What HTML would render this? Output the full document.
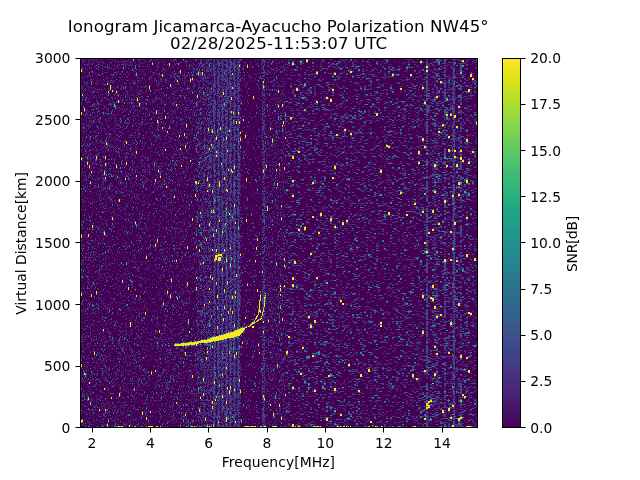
<!DOCTYPE html><html><head><meta charset="utf-8"><title>Ionogram</title><style>html,body{margin:0;padding:0;background:#fff}svg{display:block}text{font-family:"DejaVu Sans","Liberation Sans",sans-serif;fill:#000}</style></head><body>
<svg width="640" height="480" viewBox="0 0 640 480">
<defs><linearGradient id="vg" x1="0" y1="0" x2="0" y2="1"><stop offset="0.0000" stop-color="#fde725"/><stop offset="0.0312" stop-color="#ece51b"/><stop offset="0.0625" stop-color="#d8e219"/><stop offset="0.0938" stop-color="#c2df23"/><stop offset="0.1250" stop-color="#addc30"/><stop offset="0.1562" stop-color="#98d83e"/><stop offset="0.1875" stop-color="#84d44b"/><stop offset="0.2188" stop-color="#70cf57"/><stop offset="0.2500" stop-color="#5ec962"/><stop offset="0.2812" stop-color="#4ec36b"/><stop offset="0.3125" stop-color="#3fbc73"/><stop offset="0.3438" stop-color="#32b67a"/><stop offset="0.3750" stop-color="#28ae80"/><stop offset="0.4062" stop-color="#22a785"/><stop offset="0.4375" stop-color="#1fa088"/><stop offset="0.4688" stop-color="#1f988b"/><stop offset="0.5000" stop-color="#21918c"/><stop offset="0.5312" stop-color="#23898e"/><stop offset="0.5625" stop-color="#26828e"/><stop offset="0.5938" stop-color="#297a8e"/><stop offset="0.6250" stop-color="#2c728e"/><stop offset="0.6562" stop-color="#2f6b8e"/><stop offset="0.6875" stop-color="#33638d"/><stop offset="0.7188" stop-color="#375b8d"/><stop offset="0.7500" stop-color="#3b528b"/><stop offset="0.7812" stop-color="#3e4989"/><stop offset="0.8125" stop-color="#424086"/><stop offset="0.8438" stop-color="#453781"/><stop offset="0.8750" stop-color="#472d7b"/><stop offset="0.9062" stop-color="#482374"/><stop offset="0.9375" stop-color="#48186a"/><stop offset="0.9688" stop-color="#470d60"/><stop offset="1.0000" stop-color="#440154"/></linearGradient></defs>
<rect width="640" height="480" fill="#fff"/>
<rect x="80" y="58" width="397" height="370" fill="#440154" shape-rendering="crispEdges"/>
<g transform="translate(80,58.5)" fill="none" stroke-width="1" shape-rendering="crispEdges"><path stroke="#482475" d="M14 0h1m4 0h1m1 0h1m6 0h3m6 0h1m12 0h1m15 0h1m23 0h1m27 0h1m82 0h1m24 0h4m24 0h2m12 0h2m10 0h2m56 0h1m1 0h2m6 0h2m2 0h2m6 0h2M10 1h1m3 0h1m2 0h1m12 0h1m9 0h1m8 0h1m8 0h1m21 0h1m13 0h1m1 0h1m19 0h1m60 0h1m36 0h2m26 0h2m6 0h2m52 0h4m20 0h2m22 0h2m12 0h2m7 0h1m2 0h2m8 0h2M2 2h1m3 0h1m1 0h1m3 0h1m34 0h1m28 0h1m27 0h1m15 0h1m54 0h1m4 0h1m8 0h1m4 0h1m41 0h2m70 0h2m18 0h2m48 0h2M8 3h1m4 0h1m2 0h1m1 0h1m2 0h1m1 0h1m23 0h1m1 0h2m22 0h1m5 0h1m11 0h1m4 0h1m23 0h1m73 0h1m23 0h2m2 0h2m52 0h2m24 0h4m8 0h2m22 0h1M41 4h1m16 0h1m3 0h1m1 0h1m23 0h1m11 0h1m70 0h1m33 0h1m34 0h2m16 0h4m24 0h2m30 0h2m16 0h2m16 0h4m38 0h1M9 5h1m4 0h1m9 0h1m18 0h2m1 0h1m2 0h1m5 0h1m41 0h1m21 0h1m70 0h1m8 0h1m48 0h2m22 0h2m26 0h2m20 0h2m68 0h2M29 6h1m7 0h1m3 0h1m5 0h1m4 0h1m3 0h2m34 0h1m20 0h1m7 0h1m88 0h2m28 0h2m8 0h2m13 0h1m6 0h2m36 0h2m56 0h2m20 0h2m4 0h1M2 7h1m17 0h1m11 0h1m4 0h1m14 0h1m9 0h1m15 0h1m3 0h1m11 0h1m23 0h2m1 0h1m41 0h1m23 0h1m5 0h1m9 0h1m32 0h2m12 0h2m8 0h2m46 0h2m26 0h3m31 0h2M9 8h1m1 0h1m41 0h1m8 0h1m2 0h1m12 0h1m4 0h1m34 0h1m67 0h1m14 0h1m68 0h2m38 0h2m24 0h2m16 0h2M22 9h1m7 0h1m57 0h1m9 0h1m19 0h1m50 0h1m27 0h1m2 0h1m1 0h1m83 0h2m14 0h2M2 10h1m6 0h1m4 0h1m3 0h1m2 0h2m15 0h1m30 0h1m8 0h1m19 0h1m17 0h1m87 0h1m39 0h4m8 0h2m18 0h2m40 0h4m62 0h2m10 0h1M4 11h1m2 0h1m9 0h1m4 0h1m3 0h1m37 0h1m6 0h1m33 0h1m15 0h1m72 0h1m15 0h2m4 0h2m22 0h2m62 0h1m7 0h4m22 0h1m9 0h2m10 0h2m4 0h2m4 0h1m13 0h2M6 12h1m49 0h1m4 0h1m55 0h1m68 0h1m10 0h1m8 0h2m4 0h2m6 0h2m62 0h2m53 0h3m30 0h1m5 0h2M22 13h1m36 0h1m1 0h1m31 0h1m4 0h1m97 0h1m4 0h3m60 0h1m79 0h2m6 0h2m22 0h2m4 0h2M13 14h1m2 0h1m57 0h1m44 0h1m75 0h1m9 0h1m4 0h2m52 0h1m87 0h4m6 0h2M37 15h1m45 0h1m11 0h1m6 0h1m18 0h1m130 0h2m36 0h2m12 0h2m86 0h2M0 16h2m4 0h1m1 0h1m3 0h1m4 0h1m21 0h1m37 0h1m3 0h1m27 0h1m1 0h1m3 0h1m1 0h1m50 0h1m22 0h1m6 0h1m5 0h1m15 0h2m36 0h2m34 0h2m18 0h2m6 0h2m24 0h2m12 0h2m14 0h2m4 0h2m6 0h2M12 17h1m23 0h1m28 0h1m7 0h1m25 0h1m2 0h1m7 0h1m101 0h4m12 0h2m42 0h2m16 0h4m60 0h2m12 0h2M3 18h1m23 0h1m29 0h1m6 0h1m14 0h1m25 0h1m8 0h1m125 0h2m18 0h2m46 0h2m14 0h2m24 0h2m6 0h2m8 0h2m22 0h2M7 19h1m1 0h1m37 0h1m9 0h1m16 0h1m12 0h1m6 0h1m10 0h1m114 0h2m30 0h2m12 0h2m8 0h2m30 0h2m26 0h3M26 20h1m4 0h1m19 0h1m29 0h3m14 0h1m1 0h1m19 0h1m59 0h1m6 0h1m102 0h2m12 0h2m8 0h2m46 0h2M0 21h1m17 0h1m26 0h1m43 0h1m15 0h1m104 0h2m6 0h2m36 0h4m8 0h2m50 0h2m26 0h2m18 0h5M8 22h1m9 0h1m3 0h1m18 0h1m32 0h1m19 0h1m9 0h1m2 0h1m62 0h1m2 0h1m26 0h1m25 0h2m34 0h3m23 0h4m6 0h2M7 23h1m12 0h1m5 0h1m5 0h1m10 0h1m21 0h1m12 0h1m1 0h1m1 0h2m21 0h1m8 0h1m75 0h1m12 0h1m78 0h2m54 0h1m15 0h2M10 24h1m16 0h1m10 0h1m18 0h1m5 0h1m6 0h1m8 0h1m6 0h1m11 0h1m4 0h2m13 0h1m73 0h1m27 0h2m4 0h4m60 0h1m25 0h4m24 0h2m6 0h2m21 0h1m12 0h2M6 25h1m26 0h1m46 0h1m22 0h1m8 0h2m66 0h1m71 0h2m2 0h2m48 0h2m31 0h1m42 0h2M7 26h1m15 0h1m47 0h1m15 0h2m7 0h1m89 0h1m16 0h1m24 0h2m46 0h2m44 0h2m24 0h4m32 0h2M0 27h1m56 0h1m20 0h1m5 0h1m8 0h1m15 0h1m9 0h1m43 0h1m21 0h1m8 0h1m43 0h4m14 0h2m4 0h2m20 0h2M8 28h1m37 0h1m11 0h1m3 0h1m19 0h1m10 0h1m6 0h1m18 0h1m76 0h1m7 0h1m75 0h2m20 0h2m50 0h4m26 0h2M8 29h2m3 0h1m15 0h1m1 0h1m9 0h1m16 0h1m4 0h1m34 0h1m14 0h1m51 0h1m92 0h2m4 0h1m74 0h1M6 30h1m27 0h1m50 0h1m2 0h1m11 0h1m9 0h1m93 0h1m23 0h4m100 0h2m10 0h2m2 0h2m2 0h2m2 0h2m12 0h2M9 31h1m24 0h1m5 0h1m38 0h1m10 0h1m13 0h1m12 0h1m2 0h1m52 0h1m38 0h4m14 0h2m42 0h2m28 0h2m50 0h2m8 0h2M12 32h1m3 0h1m4 0h1m32 0h1m13 0h1m10 0h1m13 0h1m1 0h1m4 0h1m19 0h1m41 0h1m3 0h1m22 0h1m22 0h2m20 0h2m38 0h2m30 0h2m16 0h2m2 0h2m26 0h2m4 0h2m26 0h2M1 33h1m7 0h2m6 0h1m31 0h1m8 0h1m36 0h1m6 0h1m93 0h1m15 0h2m8 0h2m20 0h2m2 0h2M26 34h1m10 0h1m9 0h1m6 0h1m4 0h1m13 0h1m20 0h1m9 0h1m11 0h1m1 0h1m89 0h2m14 0h2m36 0h2m80 0h2m8 0h2m12 0h5m16 0h1M7 35h1m4 0h1m13 0h1m9 0h1m6 0h2m8 0h1m2 0h1m3 0h1m20 0h2m12 0h1m12 0h1m1 0h1m2 0h1m90 0h2m6 0h2m6 0h2m12 0h2m24 0h2m4 0h2m34 0h2m68 0h1M5 36h1m1 0h1m4 0h1m9 0h1m6 0h1m4 0h1m8 0h1m1 0h1m1 0h1m51 0h1m5 0h1m11 0h1m43 0h1m28 0h1m11 0h1m73 0h4m72 0h2m18 0h1m2 0h1M8 37h1m4 0h1m1 0h1m2 0h1m1 0h1m68 0h1m25 0h1m5 0h1m47 0h1m8 0h1m14 0h1m40 0h2m14 0h2m22 0h2m16 0h4m60 0h4m2 0h2m8 0h1m15 0h2M2 38h1m29 0h1m14 0h1m7 0h1m27 0h1m1 0h1m4 0h1m2 0h1m10 0h1m11 0h1m45 0h1m39 0h1m21 0h2m6 0h2m38 0h2m4 0h2m4 0h2m48 0h2m14 0h2m2 0h2m12 0h1m21 0h2M7 39h1m3 0h1m2 0h1m10 0h1m7 0h1m1 0h1m1 0h1m16 0h1m5 0h1m20 0h1m115 0h1m67 0h1m38 0h2m76 0h2M10 40h1m15 0h1m48 0h1m1 0h1m2 0h1m7 0h2m16 0h1m67 0h1m26 0h1m8 0h2m4 0h2m8 0h2m36 0h1m27 0h4m32 0h2m45 0h1m12 0h2M6 41h1m10 0h1m10 0h1m1 0h1m12 0h1m8 0h1m13 0h1m7 0h1m14 0h1m14 0h1m83 0h1m2 0h2m1 0h1m7 0h1m43 0h2m50 0h2m12 0h2m2 0h2m8 0h2m40 0h2m5 0h1m8 0h2M40 42h1m53 0h1m7 0h1m15 0h1m61 0h1m16 0h1m2 0h1m33 0h2m46 0h2m4 0h4m44 0h2m34 0h1m5 0h2M1 43h1m8 0h1m19 0h1m6 0h1m4 0h1m29 0h1m139 0h4m56 0h2m30 0h2m2 0h2m8 0h2m40 0h2m16 0h2M9 44h1m2 0h1m22 0h1m9 0h1m19 0h1m23 0h1m3 0h1m96 0h1m27 0h2m118 0h1m11 0h2m20 0h1M17 45h1m14 0h1m14 0h1m6 0h1m30 0h1m31 0h1m60 0h1m15 0h1m1 0h1m11 0h2m6 0h2m52 0h2m6 0h2m42 0h2m10 0h2m14 0h2M1 46h1m59 0h1m1 0h1m6 0h1m51 0h1m93 0h2m14 0h2m10 0h2m2 0h2m14 0h1m13 0h2m14 0h2m43 0h1m16 0h2m4 0h2m12 0h2m16 0h2M11 47h1m5 0h1m5 0h1m6 0h1m6 0h1m4 0h1m9 0h1m7 0h1m48 0h1m57 0h1m11 0h1m12 0h1m138 0h1m54 0h2m2 0h2M10 48h1m14 0h1m21 0h1m2 0h1m42 0h1m19 0h1m82 0h1m9 0h4m72 0h2m40 0h2m2 0h2m42 0h1M5 49h1m20 0h1m34 0h1m28 0h1m12 0h1m83 0h2m16 0h1m16 0h2m46 0h2m26 0h2m39 0h1m46 0h2M15 50h1m26 0h1m1 0h1m22 0h1m14 0h2m13 0h1m8 0h2m78 0h1m31 0h2m54 0h2m60 0h2M7 51h1m20 0h1m15 0h1m29 0h1m14 0h1m5 0h1m1 0h1m19 0h1m46 0h1m28 0h1m54 0h2m18 0h2m46 0h2m54 0h1m5 0h2m8 0h2M5 52h1m1 0h1m39 0h1m25 0h1m32 0h1m6 0h1m6 0h1m83 0h1m39 0h4m22 0h2m16 0h2m22 0h2m16 0h2m8 0h2m8 0h2m34 0h2M6 53h1m12 0h1m7 0h1m4 0h1m24 0h1m2 0h1m16 0h1m39 0h1m71 0h1m34 0h4m42 0h2m16 0h2m44 0h2m2 0h2m2 0h2m18 0h2m8 0h1M68 54h1m1 0h1m3 0h1m7 0h1m5 0h1m12 0h1m11 0h1m73 0h1m12 0h1m17 0h2m62 0h2m4 0h2m28 0h2m4 0h2m22 0h2m4 0h2M0 55h1m3 0h1m7 0h1m17 0h1m17 0h1m37 0h1m1 0h1m1 0h1m4 0h1m9 0h1m6 0h1m4 0h2m2 0h1m56 0h1m25 0h1m15 0h2m6 0h2m4 0h4m6 0h2m52 0h4M22 56h1m11 0h1m20 0h1m35 0h1m126 0h2m30 0h2m2 0h2m32 0h2m48 0h1m33 0h1M9 57h1m14 0h1m12 0h1m6 0h1m18 0h2m48 0h1m3 0h1m3 0h1m98 0h2m44 0h4m30 0h2m8 0h2m10 0h2m10 0h2m50 0h2m6 0h1M1 58h1m31 0h1m1 0h1m7 0h1m9 0h1m4 0h1m8 0h1m4 0h1m121 0h1m4 0h2m21 0h2m48 0h2m18 0h2m20 0h2m3 0h1m8 0h2m36 0h2m24 0h2M12 59h1m1 0h1m4 0h1m9 0h2m17 0h1m17 0h1m6 0h1m2 0h1m14 0h1m6 0h1m14 0h1m2 0h1m1 0h1m109 0h2m4 0h2m18 0h2m28 0h2m12 0h2m4 0h2m8 0h2m72 0h2m2 0h2M9 60h1m5 0h1m7 0h1m15 0h1m37 0h1m9 0h1m24 0h1m93 0h2m57 0h1m26 0h2m45 0h1m16 0h2M3 61h1m47 0h1m1 0h1m27 0h1m126 0h2m16 0h2m34 0h2m12 0h6m26 0h2m4 0h2m2 0h2m16 0h2m16 0h2m22 0h2m2 0h2m2 0h2M6 62h1m3 0h1m7 0h1m6 0h2m10 0h1m1 0h1m24 0h1m3 0h1m9 0h1m15 0h1m157 0h2m4 0h2m2 0h2m24 0h2m8 0h2m22 0h2m32 0h2m30 0h2M5 63h1m3 0h1m4 0h1m66 0h1m22 0h1m10 0h1m1 0h1m45 0h1m4 0h1m24 0h1m50 0h2m8 0h2m4 0h2m20 0h2m68 0h2m8 0h2m11 0h1m2 0h2m8 0h4M6 64h1m1 0h1m37 0h1m9 0h1m9 0h1m22 0h1m20 0h1m11 0h1m77 0h1m37 0h2m104 0h2m14 0h2m8 0h2M11 65h2m7 0h1m20 0h1m2 0h1m10 0h1m10 0h1m4 0h1m1 0h1m30 0h1m100 0h1m46 0h2m10 0h1m13 0h2m4 0h2m2 0h2m60 0h2m20 0h1M4 66h1m43 0h1m16 0h1m12 0h1m1 0h1m14 0h1m22 0h1m2 0h1m54 0h1m22 0h1m22 0h2m2 0h2m16 0h2m16 0h2m68 0h2m21 0h1M6 67h1m23 0h1m6 0h1m16 0h1m137 0h1m31 0h2m28 0h2m26 0h2m28 0h2m42 0h2m34 0h2M4 68h1m1 0h1m9 0h1m1 0h1m2 0h1m7 0h1m28 0h1m104 0h1m70 0h2m44 0h4m48 0h2m10 0h2m2 0h2m44 0h2M2 69h1m7 0h1m48 0h1m12 0h1m6 0h2m3 0h1m5 0h1m98 0h1m9 0h1m5 0h1m6 0h2m12 0h2m16 0h2m12 0h2m52 0h2m25 0h1m48 0h2m2 0h2M4 70h1m29 0h1m23 0h1m26 0h1m18 0h1m7 0h1m3 0h1m4 0h1m46 0h1m67 0h2m50 0h4m40 0h2m34 0h2M3 71h1m25 0h1m22 0h1m27 0h1m2 0h1m31 0h1m3 0h2m105 0h2m28 0h2m8 0h2m74 0h2m10 0h2m36 0h2M38 72h1m17 0h1m6 0h1m47 0h1m50 0h1m29 0h1m12 0h1m20 0h2m2 0h2m38 0h2m56 0h2m18 0h2m8 0h2m12 0h1m11 0h2M35 73h1m4 0h1m25 0h1m18 0h1m30 0h1m4 0h1m77 0h1m40 0h2m72 0h2m4 0h2m14 0h2m28 0h2m8 0h2M20 74h1m19 0h1m11 0h1m14 0h1m26 0h1m14 0h1m2 0h1m8 0h1m44 0h1m24 0h1m2 0h2m7 0h1m6 0h2m22 0h2m66 0h2m14 0h2m32 0h2M3 75h1m24 0h1m13 0h1m29 0h1m1 0h1m13 0h1m6 0h1m5 0h1m18 0h1m45 0h1m43 0h2m40 0h2m6 0h2m18 0h2m4 0h2m6 0h2m56 0h4m20 0h2m16 0h2M0 76h1m3 0h1m20 0h2m2 0h1m35 0h1m15 0h1m13 0h1m11 0h1m5 0h1m59 0h2m22 0h1m5 0h1m4 0h2m32 0h2m4 0h2m56 0h6m18 0h2m30 0h2m26 0h2M12 77h1m1 0h1m6 0h1m19 0h1m13 0h1m1 0h2m16 0h2m104 0h1m13 0h1m24 0h2m16 0h2m24 0h1m39 0h2m46 0h2m13 0h1m28 0h1M27 78h1m10 0h1m33 0h1m7 0h1m7 0h1m30 0h1m53 0h1m11 0h1m1 0h1m40 0h2m20 0h1m1 0h2m26 0h2m8 0h2m12 0h2m66 0h1M2 79h1m1 0h1m6 0h1m5 0h1m2 0h1m17 0h1m35 0h1m4 0h1m18 0h1m6 0h1m81 0h1m5 0h1m6 0h1m19 0h4m20 0h2m8 0h2m4 0h2m12 0h2m6 0h2m8 0h2m4 0h2m18 0h2m4 0h2m32 0h2m6 0h2m8 0h2M6 80h1m14 0h1m40 0h2m1 0h1m14 0h1m32 0h1m6 0h1m41 0h1m1 0h2m34 0h1m13 0h2m10 0h2m8 0h2m8 0h4m20 0h2m16 0h2m14 0h2m18 0h4M26 81h1m35 0h1m139 0h1m3 0h2m14 0h2m12 0h2m6 0h2m6 0h2M2 82h1m13 0h1m13 0h2m5 0h1m14 0h1m38 0h1m75 0h1m8 0h1m29 0h2m4 0h2m4 0h2m94 0h2m22 0h1m5 0h2m30 0h2m18 0h1M8 83h1m34 0h2m4 0h1m3 0h1m9 0h1m26 0h1m20 0h1m7 0h1m59 0h1m5 0h1m34 0h2m44 0h2m38 0h2m31 0h3m6 0h2m22 0h1M1 84h1m5 0h1m14 0h1m16 0h1m24 0h2m15 0h1m3 0h1m28 0h1m3 0h1m2 0h2m64 0h1m22 0h2m52 0h1m29 0h2m2 0h2m42 0h2m14 0h2m6 0h2M7 85h1m1 0h1m3 0h1m16 0h1m12 0h1m3 0h1m4 0h1m6 0h1m1 0h1m25 0h1m16 0h1m9 0h1m3 0h1m3 0h1m137 0h2m10 0h2m48 0h2m26 0h2m20 0h1m23 0h1M4 86h1m8 0h2m15 0h1m11 0h1m68 0h1m92 0h1m17 0h2m12 0h4m138 0h2M7 87h2m15 0h2m14 0h1m9 0h1m3 0h1m15 0h1m13 0h1m2 0h1m33 0h1m49 0h1m36 0h2m66 0h2m16 0h2m14 0h2m14 0h2m10 0h1m17 0h4m15 0h3m8 0h2M6 88h1m12 0h1m4 0h1m19 0h1m1 0h1m10 0h1m4 0h1m46 0h1m8 0h1m1 0h1m81 0h1m39 0h2m6 0h2m14 0h2m46 0h2m14 0h2m7 0h1m12 0h2m2 0h2m30 0h2M6 89h1m19 0h1m4 0h1m10 0h2m7 0h1m39 0h1m1 0h1m16 0h1m4 0h1m3 0h1m43 0h1m9 0h1m18 0h1m25 0h2m54 0h2m24 0h2m8 0h2m20 0h2m5 0h1m18 0h2m10 0h2m4 0h2m14 0h2M49 90h1m17 0h1m44 0h1m52 0h1m29 0h1m52 0h2m10 0h2m32 0h2m2 0h2m42 0h2m50 0h2M0 91h1m15 0h1m4 0h1m5 0h1m52 0h1m23 0h1m10 0h1m4 0h1m73 0h1m15 0h2m2 0h2m2 0h2m16 0h1m17 0h2m8 0h1m9 0h2m80 0h4M15 92h1m49 0h1m31 0h1m9 0h1m53 0h1m30 0h1m21 0h2m6 0h2m18 0h2m24 0h2m20 0h2m14 0h2m32 0h2M1 93h1m14 0h1m8 0h1m3 0h1m19 0h1m44 0h2m21 0h1m1 0h1m100 0h2m40 0h2m14 0h2m16 0h2m58 0h2m30 0h2M4 94h1m13 0h2m4 0h1m12 0h1m9 0h1m5 0h1m1 0h1m48 0h1m58 0h1m23 0h1m13 0h1m54 0h2m12 0h2m4 0h2m6 0h2m64 0h2m2 0h2m38 0h2M5 95h1m10 0h1m19 0h1m15 0h1m12 0h1m3 0h1m16 0h1m3 0h1m2 0h1m16 0h1m59 0h1m3 0h1m19 0h1m1 0h1m6 0h1m8 0h2m52 0h2m2 0h2m10 0h2m8 0h2m60 0h4M2 96h1m3 0h1m11 0h1m13 0h1m14 0h1m1 0h1m13 0h1m39 0h1m14 0h1m2 0h1m40 0h1m17 0h1m5 0h1m4 0h1m5 0h1m10 0h2m96 0h2m20 0h2m10 0h2m6 0h2m20 0h3m5 0h2M4 97h1m9 0h1m1 0h1m30 0h1m6 0h2m9 0h1m9 0h1m44 0h1m68 0h1m1 0h1m58 0h2m48 0h2m20 0h2m14 0h1M6 98h2m5 0h1m49 0h1m21 0h1m5 0h1m13 0h1m9 0h1m5 0h1m58 0h1m6 0h1m68 0h2m12 0h2m2 0h2m72 0h2M12 99h1m28 0h1m3 0h1m11 0h1m25 0h1m9 0h1m100 0h1m2 0h1m20 0h2m40 0h2m50 0h1m3 0h2m10 0h4m4 0h2m6 0h2M32 100h1m2 0h1m4 0h1m24 0h1m39 0h1m5 0h1m81 0h1m7 0h1m3 0h1m20 0h2m48 0h2m16 0h2m6 0h2m18 0h2m30 0h4m4 0h2m11 0h1M10 101h1m1 0h1m20 0h1m12 0h1m33 0h1m2 0h1m164 0h2m12 0h2m10 0h2m94 0h3m2 0h1m16 0h2M10 102h1m9 0h1m20 0h1m16 0h1m3 0h2m4 0h1m117 0h2m13 0h2m87 0h2m48 0h2m8 0h2m6 0h2m16 0h2M1 103h1m9 0h1m11 0h1m28 0h1m20 0h1m2 0h1m20 0h1m2 0h1m60 0h1m78 0h2m16 0h2m36 0h2m38 0h2m28 0h2m28 0h1M0 104h1m5 0h1m2 0h1m2 0h1m11 0h1m13 0h1m33 0h1m4 0h1m20 0h1m3 0h1m18 0h1m73 0h1m12 0h2m26 0h2m2 0h2m10 0h2m54 0h4m10 0h2m10 0h2m16 0h2M11 105h1m17 0h1m22 0h1m9 0h1m22 0h1m6 0h1m28 0h1m51 0h1m11 0h1m12 0h1m5 0h1m9 0h2m2 0h2m40 0h2m42 0h2m6 0h2m48 0h2m4 0h2M4 106h1m18 0h1m4 0h1m23 0h1m14 0h1m17 0h1m7 0h1m12 0h1m61 0h1m51 0h2m2 0h2m32 0h2m8 0h2m18 0h4m26 0h2m10 0h2m24 0h2m8 0h2M16 107h1m3 0h1m9 0h1m17 0h1m3 0h2m3 0h1m20 0h1m6 0h1m7 0h2m1 0h1m14 0h2m7 0h1m1 0h1m68 0h2m93 0h2m40 0h2m14 0h2m4 0h2m26 0h2m6 0h2m8 0h1M20 108h1m1 0h1m1 0h1m44 0h1m41 0h1m82 0h1m31 0h2m36 0h1m87 0h2m2 0h2m10 0h2m5 0h1M14 109h1m90 0h1m5 0h1m90 0h1m11 0h2m8 0h2m22 0h2m26 0h2m26 0h2m36 0h2M2 110h1m14 0h1m1 0h1m5 0h1m7 0h1m15 0h1m9 0h1m9 0h1m45 0h2m1 0h1m77 0h2m4 0h1m33 0h2m8 0h2m64 0h1m19 0h2m18 0h2M2 111h1m19 0h1m3 0h1m24 0h1m4 0h1m50 0h1m72 0h1m11 0h1m5 0h1m1 0h1m4 0h1m56 0h2m8 0h2m108 0h2m2 0h1M14 112h1m4 0h1m20 0h1m16 0h1m5 0h1m11 0h1m19 0h1m79 0h1m10 0h1m3 0h1m8 0h1m78 0h2m14 0h2m26 0h2m28 0h2m42 0h1M2 113h1m27 0h1m14 0h1m5 0h1m12 0h1m30 0h1m81 0h1m23 0h1m2 0h1m61 0h2m4 0h2m24 0h2m88 0h2M21 114h1m32 0h1m9 0h1m19 0h1m26 0h1m6 0h1m119 0h2m20 0h2m36 0h2m18 0h4m2 0h2m56 0h4M38 115h1m12 0h1m8 0h1m18 0h1m5 0h1m24 0h1m85 0h1m31 0h2m16 0h2m2 0h2m38 0h2m4 0h2m14 0h2m18 0h2m2 0h2m18 0h2m10 0h2m6 0h2M1 116h1m21 0h1m20 0h1m13 0h1m6 0h1m12 0h1m6 0h1m3 0h1m6 0h1m19 0h1m57 0h1m1 0h1m8 0h1m64 0h2m10 0h2m26 0h2m48 0h2M0 117h1m4 0h1m15 0h1m1 0h1m23 0h1m12 0h1m22 0h1m25 0h1m3 0h1m73 0h1m9 0h1m124 0h2m10 0h2m54 0h2M1 118h1m4 0h1m9 0h1m16 0h1m1 0h1m8 0h1m3 0h1m43 0h1m12 0h1m7 0h1m75 0h1m14 0h1m39 0h2m12 0h2m5 0h1m12 0h2m8 0h2m52 0h2m4 0h2m10 0h2m8 0h2m3 0h1m10 0h2m4 0h2M19 119h1m9 0h1m4 0h1m42 0h1m31 0h1m87 0h1m18 0h2m6 0h2m14 0h2m16 0h2m10 0h2m70 0h2m4 0h2m18 0h2M6 120h1m10 0h1m58 0h1m7 0h1m2 0h1m16 0h1m17 0h1m68 0h1m11 0h1m16 0h2m12 0h2m28 0h1m7 0h2m10 0h2m14 0h2m16 0h2m8 0h2m26 0h2m18 0h2M2 121h1m11 0h1m24 0h1m1 0h1m19 0h1m3 0h1m17 0h1m38 0h1m48 0h1m58 0h4m84 0h2m2 0h2m16 0h2m33 0h1M3 122h2m3 0h1m5 0h1m9 0h2m34 0h1m4 0h1m33 0h1m2 0h1m8 0h1m6 0h1m2 0h1m57 0h1m12 0h1m113 0h4m28 0h1m13 0h2m4 0h2M98 123h1m6 0h1m242 0h2m6 0h6m22 0h2m4 0h2M17 124h1m4 0h1m15 0h1m14 0h1m1 0h1m22 0h1m15 0h1m3 0h2m2 0h1m5 0h1m90 0h1m1 0h1m3 0h1m10 0h2m10 0h2m24 0h2m18 0h2m22 0h2m6 0h2m2 0h2m12 0h2m32 0h4m6 0h2m5 0h1m6 0h2m9 0h1M31 125h1m12 0h1m18 0h1m11 0h1m5 0h1m39 0h1m54 0h1m28 0h1m14 0h2m78 0h2m30 0h2m2 0h2M11 126h1m9 0h1m9 0h1m7 0h1m7 0h1m10 0h1m1 0h4m2 0h1m19 0h1m103 0h1m2 0h1m7 0h1m14 0h2m8 0h2m14 0h1m23 0h2m14 0h2m70 0h2m6 0h2M18 127h1m38 0h1m47 0h1m8 0h1m2 0h1m1 0h1m58 0h1m21 0h1m43 0h2m22 0h2m20 0h2m66 0h2M9 128h1m11 0h1m10 0h1m3 0h1m9 0h1m6 0h1m6 0h1m1 0h1m12 0h1m2 0h1m121 0h1m11 0h2m2 0h2m74 0h2m64 0h2m2 0h2m8 0h1m3 0h2M14 129h1m22 0h1m22 0h1m26 0h1m34 0h1m81 0h1m13 0h2m8 0h2m2 0h2m10 0h2m10 0h2m10 0h2m30 0h2m6 0h2m34 0h2m2 0h2m4 0h2M11 130h2m1 0h1m5 0h1m2 0h2m10 0h1m25 0h1m3 0h1m9 0h1m2 0h1m27 0h1m80 0h1m5 0h1m9 0h1m36 0h2m63 0h1m16 0h2M10 131h1m22 0h1m31 0h1m23 0h1m1 0h1m105 0h1m1 0h1m3 0h1m52 0h2m22 0h2m90 0h1m2 0h1M21 132h1m2 0h1m50 0h2m10 0h1m2 0h1m1 0h1m3 0h1m14 0h1m4 0h1m45 0h1m29 0h1m3 0h1m15 0h2m16 0h4m34 0h2M7 133h1m40 0h1m37 0h1m13 0h1m2 0h1m85 0h1m14 0h1m1 0h2m50 0h2m26 0h4m36 0h2m14 0h2m12 0h2m36 0h2M16 134h1m9 0h1m23 0h1m34 0h1m88 0h1m1 0h1m87 0h1m47 0h2m25 0h1m20 0h2M2 135h1m8 0h1m30 0h1m4 0h1m4 0h2m48 0h1m65 0h1m19 0h1m3 0h1m9 0h1m1 0h1m7 0h2m126 0h2m36 0h1M3 136h1m7 0h1m4 0h1m1 0h1m1 0h1m5 0h1m52 0h1m10 0h1m18 0h1m1 0h1m9 0h1m53 0h1m20 0h1m7 0h1m55 0h2m104 0h2m16 0h2M33 137h1m28 0h1m22 0h1m28 0h1m3 0h1m69 0h1m3 0h1m3 0h1m3 0h2m8 0h2m16 0h2m8 0h2m2 0h2m6 0h2m20 0h2m40 0h2M1 138h2m10 0h1m6 0h1m4 0h1m58 0h1m11 0h1m2 0h1m16 0h1m1 0h2m53 0h1m27 0h2m37 0h2m2 0h2m14 0h2m44 0h2m14 0h2m14 0h1m9 0h2m4 0h2m20 0h2m4 0h2m2 0h2M30 139h1m2 0h1m20 0h1m31 0h1m35 0h1m44 0h1m17 0h1m12 0h1m9 0h2m12 0h2m8 0h2m20 0h2m12 0h2m62 0h2m20 0h2M0 140h1m20 0h1m3 0h1m2 0h1m2 0h1m31 0h1m29 0h1m150 0h2m4 0h2m16 0h2m100 0h3M26 141h1m17 0h1m10 0h2m40 0h1m12 0h1m5 0h1m127 0h2m18 0h1m15 0h4m42 0h4m8 0h1m39 0h2M1 142h1m44 0h1m24 0h1m8 0h1m10 0h1m18 0h1m65 0h1m21 0h1m55 0h2m14 0h2m80 0h2m24 0h2m12 0h2M8 143h1m3 0h1m3 0h2m24 0h1m25 0h1m29 0h1m17 0h1m5 0h1m56 0h1m22 0h1m29 0h2m34 0h2m20 0h2m18 0h2m26 0h1m19 0h2M12 144h1m1 0h1m11 0h1m1 0h1m2 0h1m23 0h1m11 0h1m120 0h1m1 0h2m48 0h2m30 0h2m62 0h2m1 0h1M11 145h1m9 0h1m1 0h1m22 0h1m22 0h1m29 0h1m11 0h1m10 0h1m67 0h1m71 0h2m14 0h2m18 0h2m4 0h2m32 0h1M0 146h1m40 0h1m38 0h1m9 0h1m14 0h1m11 0h1m77 0h1m190 0h2M0 147h1m2 0h1m35 0h1m28 0h1m8 0h1m4 0h2m1 0h1m36 0h1m42 0h1m7 0h1m22 0h1m1 0h1m77 0h2m2 0h2m60 0h2m4 0h4m2 0h2M2 148h1m2 0h1m8 0h1m9 0h1m13 0h1m1 0h1m17 0h1m3 0h1m39 0h2m8 0h1m55 0h1m28 0h1m40 0h2m48 0h2m16 0h2m4 0h2m6 0h2m10 0h4m12 0h2m26 0h2m6 0h2M29 149h1m8 0h1m12 0h1m43 0h1m9 0h1m14 0h1m45 0h1m3 0h1m23 0h1m15 0h2m40 0h2m56 0h2m22 0h2m36 0h1m3 0h2M26 150h2m11 0h1m46 0h1m19 0h1m6 0h1m4 0h2m59 0h1m16 0h1m35 0h2m10 0h2m6 0h2m4 0h2m28 0h2m66 0h2M1 151h1m18 0h1m13 0h1m2 0h1m48 0h1m1 0h1m100 0h1m11 0h1m26 0h2m2 0h2m4 0h4m42 0h4m44 0h2m2 0h2m2 0h2m30 0h1m2 0h1m6 0h2M28 152h1m24 0h1m22 0h1m11 0h1m7 0h1m115 0h2m40 0h2m38 0h2m18 0h2m14 0h2m6 0h1m17 0h1m21 0h2m2 0h2m6 0h4M12 153h1m14 0h1m6 0h1m48 0h1m178 0h2m1 0h1m24 0h2m40 0h2m34 0h2m24 0h2M13 154h1m5 0h1m41 0h1m22 0h1m15 0h1m11 0h1m8 0h1m52 0h1m10 0h2m10 0h1m3 0h1m28 0h2m46 0h2m52 0h4M4 155h1m32 0h1m2 0h1m4 0h1m7 0h1m46 0h1m15 0h1m77 0h1m2 0h1m141 0h1m10 0h2m24 0h2m8 0h2M87 156h1m11 0h1m2 0h1m9 0h1m6 0h2m41 0h1m24 0h1m1 0h1m3 0h1m12 0h2m12 0h2m6 0h2m54 0h2m2 0h2m12 0h2m6 0h4m4 0h2m4 0h2m30 0h2m14 0h1M81 157h1m38 0h1m59 0h1m8 0h1m36 0h2m50 0h2m34 0h2m40 0h2m28 0h2M0 158h1m36 0h1m43 0h1m4 0h1m118 0h1m30 0h2m20 0h2m24 0h2m44 0h2m2 0h2m18 0h2m12 0h2m5 0h1M19 159h1m77 0h1m20 0h1m66 0h1m9 0h1m1 0h1m26 0h2m8 0h2m48 0h2m82 0h2m6 0h2M10 160h1m24 0h1m6 0h1m5 0h1m9 0h1m3 0h1m1 0h1m3 0h1m5 0h1m114 0h1m3 0h1m18 0h2m40 0h2m38 0h2m10 0h2m40 0h2m16 0h2m16 0h2M4 161h1m1 0h1m6 0h1m50 0h1m48 0h1m1 0h1m4 0h1m52 0h1m12 0h2m8 0h1m169 0h4M32 162h1m26 0h1m12 0h1m33 0h1m9 0h1m5 0h1m89 0h2m22 0h4m42 0h2M26 163h1m8 0h1m26 0h1m4 0h1m41 0h1m5 0h1m72 0h1m2 0h1m5 0h1m7 0h1m70 0h2m12 0h2m10 0h2m22 0h2m14 0h4m8 0h2m16 0h1m2 0h1m10 0h2M0 164h1m11 0h1m7 0h2m13 0h1m2 0h1m3 0h1m3 0h1m40 0h2m3 0h1m10 0h1m74 0h1m99 0h2m34 0h2m12 0h2m14 0h2m32 0h2m12 0h2M5 165h1m1 0h1m44 0h1m5 0h1m21 0h1m82 0h1m3 0h1m17 0h1m18 0h1m21 0h2m14 0h2m52 0h2m32 0h2m22 0h4M81 166h1m30 0h1m3 0h1m82 0h1m2 0h1m49 0h4m14 0h2m2 0h2m14 0h2m2 0h2m10 0h2m36 0h2m10 0h2m2 0h2M0 167h1m18 0h1m3 0h1m19 0h1m13 0h1m146 0h1m33 0h2m26 0h2m52 0h2m46 0h2M13 168h1m3 0h1m1 0h1m45 0h1m54 0h1m47 0h1m67 0h2m22 0h2m3 0h1m32 0h2m10 0h2m18 0h2M7 169h1m50 0h1m11 0h1m9 0h1m7 0h1m6 0h1m18 0h1m1 0h1m5 0h1m49 0h1m41 0h2m10 0h2m62 0h2m52 0h2m8 0h4m20 0h2M20 170h2m39 0h1m2 0h2m3 0h1m15 0h1m10 0h1m1 0h1m15 0h1m89 0h1m53 0h4m3 0h3m24 0h2m4 0h2m20 0h2m34 0h2m14 0h1M0 171h1m6 0h1m14 0h1m17 0h1m11 0h1m33 0h2m1 0h1m2 0h2m3 0h1m3 0h1m146 0h2m6 0h2m36 0h2m19 0h1m26 0h2m10 0h2m10 0h2m2 0h2m10 0h2m2 0h2M6 172h1m12 0h1m46 0h1m21 0h1m92 0h1m14 0h2m1 0h1m34 0h2m18 0h2m9 0h1m4 0h2m10 0h2m2 0h2M5 173h1m214 0h2m18 0h2m36 0h2m68 0h2m16 0h4M21 174h2m20 0h1m74 0h1m3 0h1m53 0h1m10 0h1m13 0h1m1 0h1m10 0h2m44 0h2m76 0h1m13 0h4M5 175h1m17 0h1m1 0h1m26 0h1m10 0h1m34 0h1m75 0h1m17 0h1m11 0h1m95 0h4m2 0h2m6 0h2m23 0h1m38 0h2M3 176h1m3 0h1m30 0h1m12 0h1m36 0h1m3 0h1m12 0h1m14 0h2m53 0h1m16 0h1m19 0h4m28 0h2m42 0h2m82 0h1M4 177h1m19 0h1m7 0h1m47 0h2m9 0h1m28 0h1m47 0h1m7 0h1m8 0h1m30 0h2m12 0h2m8 0h2m12 0h2m9 0h1m66 0h2m4 0h1m29 0h2M11 178h1m56 0h1m16 0h1m91 0h1m10 0h1m31 0h2m8 0h4m16 0h2m98 0h2m10 0h2m6 0h2m3 0h1m14 0h2M0 179h1m30 0h1m3 0h1m20 0h1m47 0h1m7 0h1m80 0h1m6 0h1m109 0h4m4 0h2m10 0h2m40 0h1m2 0h3m4 0h2M23 180h1m18 0h1m55 0h1m70 0h1m11 0h1m6 0h1m15 0h1m21 0h2m4 0h4m6 0h2m10 0h2m8 0h1m15 0h2m12 0h2m28 0h2m8 0h2m34 0h2M3 181h1m2 0h1m26 0h1m4 0h1m9 0h1m35 0h1m6 0h1m97 0h1m8 0h1m1 0h1m2 0h1m32 0h2m4 0h2m24 0h2m58 0h2m6 0h2m16 0h2m36 0h2M15 182h1m5 0h1m5 0h1m16 0h1m48 0h1m78 0h1m21 0h1m123 0h2m2 0h2m30 0h2m26 0h2M7 183h1m3 0h2m15 0h1m5 0h1m21 0h1m61 0h1m1 0h1m70 0h3m60 0h2m10 0h2m30 0h2m18 0h2m58 0h2M15 184h1m29 0h1m20 0h1m9 0h1m6 0h1m16 0h1m1 0h1m88 0h1m12 0h1m37 0h2m36 0h4m26 0h2m14 0h2m24 0h2m2 0h2M6 185h1m12 0h1m7 0h1m9 0h2m14 0h1m5 0h2m16 0h1m2 0h1m3 0h1m21 0h1m9 0h1m2 0h1m66 0h1m51 0h2m10 0h2m68 0h2m10 0h2m20 0h2m16 0h1m21 0h2M1 186h1m1 0h1m13 0h1m28 0h1m6 0h1m9 0h1m12 0h1m22 0h2m10 0h1m6 0h1m3 0h1m65 0h2m56 0h2m10 0h2m26 0h2m10 0h2m14 0h2m8 0h2m10 0h2m37 0h1M2 187h1m12 0h1m61 0h1m22 0h1m11 0h1m8 0h1m52 0h1m11 0h1m51 0h2m38 0h2m56 0h2m2 0h2m12 0h4m20 0h2M2 188h1m4 0h1m9 0h1m30 0h1m24 0h1m6 0h1m12 0h1m25 0h2m57 0h1m14 0h1m3 0h1m10 0h2m4 0h2m74 0h2m12 0h2m2 0h2m4 0h2m22 0h1m29 0h2m2 0h1M49 189h1m16 0h1m1 0h1m36 0h1m16 0h1m73 0h1m11 0h2m26 0h2m6 0h2m16 0h2m2 0h2m2 0h4m82 0h2M1 190h1m2 0h1m24 0h1m3 0h1m4 0h1m6 0h1m14 0h1m8 0h1m35 0h1m80 0h1m14 0h1m6 0h2m14 0h2m90 0h2m18 0h3m1 0h2m20 0h2m6 0h2M28 191h1m26 0h1m4 0h1m7 0h1m47 0h1m151 0h2m50 0h2m4 0h2m24 0h2m36 0h2m2 0h2M37 192h1m24 0h1m16 0h1m1 0h1m7 0h1m27 0h1m3 0h1m100 0h2m14 0h2m50 0h2m94 0h2m8 0h1M53 193h1m29 0h1m3 0h1m32 0h1m55 0h1m21 0h1m7 0h2m64 0h2m2 0h2m36 0h2m23 0h1M24 194h1m2 0h3m65 0h1m24 0h1m82 0h1m2 0h2m34 0h4m2 0h2m10 0h2m30 0h2m26 0h2m26 0h6m34 0h2M11 195h1m25 0h1m2 0h1m25 0h1m14 0h1m22 0h2m102 0h2m4 0h2m16 0h2m82 0h2m36 0h2M13 196h2m22 0h1m5 0h1m2 0h1m12 0h1m43 0h1m17 0h1m57 0h1m6 0h1m7 0h1m57 0h2m32 0h2m72 0h2M27 197h1m54 0h1m32 0h1m2 0h3m77 0h1m3 0h1m9 0h2m64 0h2m70 0h2m2 0h4m20 0h2M4 198h1m1 0h1m90 0h1m11 0h3m80 0h1m17 0h2m22 0h2m103 0h1m32 0h1M14 199h1m13 0h1m3 0h1m20 0h1m30 0h1m6 0h1m16 0h1m81 0h1m17 0h2m24 0h2m20 0h2m6 0h1m27 0h2m22 0h2m34 0h2m18 0h1m5 0h2M22 200h1m11 0h1m24 0h1m16 0h1m12 0h1m5 0h1m6 0h1m75 0h1m11 0h1m12 0h1m4 0h2m30 0h2m52 0h2m2 0h2m8 0h2m10 0h2m2 0h2M27 201h1m90 0h1m68 0h1m108 0h2m2 0h2m2 0h2m42 0h2m10 0h2m4 0h2m4 0h1M49 202h1m11 0h1m14 0h1m6 0h2m2 0h1m12 0h1m88 0h1m18 0h2m12 0h2m24 0h4m4 0h2m24 0h2m38 0h2m6 0h2m6 0h1M0 203h1m33 0h1m14 0h1m9 0h1m10 0h1m34 0h1m6 0h1m1 0h1m63 0h1m13 0h1m9 0h1m1 0h1m3 0h2m14 0h4m6 0h2m10 0h2m12 0h2m70 0h2m14 0h2m6 0h2m20 0h2m12 0h2M3 204h1m8 0h1m10 0h1m5 0h1m7 0h1m9 0h1m38 0h1m99 0h1m25 0h2m18 0h2m72 0h2m10 0h2m30 0h2m26 0h2M9 205h1m19 0h1m12 0h1m11 0h1m30 0h1m23 0h1m89 0h1m2 0h1m3 0h2m36 0h2m46 0h2m10 0h2m14 0h2m10 0h2m6 0h2m16 0h2m6 0h2M4 206h1m2 0h3m32 0h1m17 0h2m14 0h1m1 0h1m10 0h1m29 0h1m45 0h1m5 0h1m40 0h2m24 0h2m20 0h2m14 0h2m8 0h2m8 0h2m32 0h2M20 207h1m19 0h1m30 0h1m48 0h2m69 0h1m8 0h1m5 0h2m12 0h2m10 0h2m30 0h1m7 0h2m56 0h2m26 0h2M2 208h1m23 0h1m21 0h1m11 0h1m5 0h1m31 0h1m91 0h1m29 0h2m40 0h2m16 0h2m44 0h2m11 0h1m56 0h1M8 209h1m17 0h1m51 0h2m13 0h1m11 0h1m4 0h1m8 0h1m2 0h1m70 0h1m10 0h1m55 0h2m12 0h2m4 0h2m14 0h2m56 0h4m17 0h1m12 0h2M0 210h1m19 0h1m14 0h1m32 0h1m8 0h1m10 0h1m28 0h1m3 0h1m64 0h1m5 0h1m5 0h1m19 0h2m16 0h2m52 0h2m4 0h2m4 0h2m18 0h2m4 0h2m36 0h2m18 0h2M12 211h1m23 0h1m21 0h1m46 0h1m93 0h2m31 0h2m20 0h2m9 0h1m34 0h2m6 0h2m10 0h2m2 0h2m46 0h1m5 0h2M16 212h2m12 0h1m38 0h1m50 0h1m125 0h2m16 0h2m8 0h2m10 0h2m8 0h2m34 0h2m20 0h2m32 0h4M16 213h1m31 0h1m10 0h1m30 0h2m14 0h1m12 0h1m120 0h2m23 0h1m22 0h2m24 0h2m44 0h4m2 0h2m4 0h1M7 214h1m19 0h1m60 0h1m23 0h1m7 0h1m60 0h1m72 0h2m6 0h2m44 0h2m20 0h4m8 0h2m31 0h1m12 0h2M10 215h1m8 0h1m23 0h1m20 0h1m13 0h1m2 0h1m87 0h1m21 0h1m120 0h2m52 0h7M19 216h1m2 0h1m37 0h1m21 0h1m13 0h1m78 0h1m19 0h1m50 0h2m30 0h2m18 0h2m30 0h2m34 0h2m4 0h1m2 0h1m14 0h2M53 217h1m29 0h1m10 0h1m2 0h1m126 0h2m8 0h2m6 0h2m44 0h2m52 0h2m31 0h1M53 218h1m4 0h1m2 0h1m18 0h1m2 0h1m1 0h1m35 0h1m67 0h1m24 0h2m38 0h2m22 0h2m4 0h2m18 0h2m52 0h2m28 0h2M21 219h1m7 0h1m11 0h1m2 0h1m46 0h1m95 0h1m9 0h2m59 0h2m6 0h2m30 0h2m38 0h1m13 0h2M2 220h1m23 0h1m3 0h1m8 0h1m4 0h1m21 0h1m14 0h1m13 0h1m4 0h1m5 0h1m12 0h1m1 0h1m70 0h1m21 0h2m76 0h2m8 0h2m8 0h2m68 0h2M14 221h1m27 0h1m22 0h1m30 0h1m79 0h1m51 0h2m6 0h1m33 0h2m110 0h2m2 0h2M26 222h1m45 0h1m127 0h1m45 0h2m2 0h4m14 0h2m2 0h2m8 0h2m10 0h2m46 0h2m40 0h2M18 223h1m8 0h1m38 0h1m21 0h1m5 0h1m9 0h1m16 0h1m122 0h2m52 0h2M20 224h1m16 0h1m12 0h1m13 0h1m13 0h1m19 0h1m13 0h1m3 0h1m1 0h1m1 0h1m69 0h1m111 0h2m16 0h2m30 0h2m8 0h2m14 0h2M4 225h1m16 0h1m12 0h1m11 0h1m25 0h1m46 0h1m72 0h1m41 0h2m6 0h2m22 0h4m30 0h2m37 0h1m46 0h2M33 226h1m24 0h1m15 0h1m23 0h1m121 0h2m18 0h2m24 0h2m20 0h2m22 0h2m24 0h1m29 0h2m22 0h4M20 227h1m12 0h1m7 0h1m10 0h1m122 0h1m34 0h2m4 0h4m2 0h2m22 0h2m50 0h2m30 0h6m50 0h2M32 228h1m19 0h1m152 0h1m14 0h2m34 0h2m7 0h3m4 0h2m60 0h2M11 229h1m33 0h1m15 0h1m27 0h1m15 0h1m85 0h1m42 0h2m10 0h2m2 0h2m54 0h2m14 0h2m2 0h2m42 0h2M1 230h1m12 0h2m8 0h1m12 0h1m6 0h1m10 0h1m23 0h1m2 0h1m8 0h1m29 0h1m66 0h1m2 0h1m12 0h1m1 0h2m26 0h2m8 0h2m4 0h2m2 0h2m14 0h2m48 0h2M12 231h1m1 0h1m36 0h1m2 0h1m14 0h1m48 0h1m54 0h1m16 0h1m3 0h1m79 0h2m6 0h2m74 0h2m12 0h1M10 232h1m12 0h1m40 0h1m1 0h1m12 0h1m23 0h2m12 0h1m70 0h1m3 0h1m1 0h1m29 0h2m8 0h2m4 0h2m52 0h2m2 0h2m8 0h2m22 0h2m24 0h2M1 233h1m3 0h1m6 0h1m15 0h1m31 0h1m3 0h1m11 0h1m24 0h1m3 0h1m72 0h1m17 0h1m11 0h2m36 0h6m10 0h2m96 0h2M7 234h1m16 0h1m19 0h1m34 0h1m8 0h1m143 0h2m28 0h2m2 0h2m20 0h2m66 0h2m32 0h2M0 235h1m19 0h1m7 0h1m10 0h1m37 0h1m42 0h1m183 0h2m14 0h2m32 0h4m14 0h1M36 236h1m48 0h1m11 0h1m5 0h1m15 0h1m46 0h1m69 0h2m16 0h2m2 0h4m42 0h2m4 0h2m12 0h2m4 0h2m8 0h2m2 0h2m22 0h2m2 0h1M50 237h1m20 0h1m4 0h1m1 0h2m18 0h1m17 0h1m70 0h1m10 0h1m117 0h2m6 0h2M44 238h1m14 0h1m28 0h2m3 0h1m122 0h2m6 0h2m20 0h2m2 0h2m2 0h2m6 0h2m46 0h2m24 0h2m1 0h1M48 239h1m6 0h1m9 0h1m4 0h1m5 0h1m39 0h1m57 0h1m21 0h2m6 0h1m3 0h2m6 0h2m14 0h2m4 0h4m14 0h2m4 0h2m4 0h2m20 0h2m78 0h2m3 0h1M24 240h1m6 0h1m2 0h1m20 0h1m49 0h1m2 0h1m77 0h3m1 0h1m1 0h1m17 0h2m26 0h2m36 0h2m54 0h2m34 0h2m18 0h2M3 241h1m53 0h1m6 0h1m7 0h1m26 0h1m1 0h1m89 0h1m6 0h1m49 0h2m8 0h2m4 0h1m73 0h1m43 0h2M2 242h1m6 0h1m23 0h1m45 0h1m40 0h1m72 0h1m4 0h1m9 0h2m48 0h2m18 0h2m6 0h2m28 0h2m20 0h1m29 0h2m22 0h2M57 243h1m19 0h1m16 0h1m19 0h1m6 0h1m48 0h1m37 0h2m30 0h2M2 244h1m5 0h1m113 0h1m83 0h2m98 0h1m19 0h2m11 0h1m12 0h4M5 245h1m12 0h1m5 0h1m1 0h1m9 0h1m22 0h1m22 0h1m20 0h1m9 0h1m77 0h1m8 0h1m65 0h2m2 0h2m44 0h2m12 0h2M11 246h1m6 0h1m11 0h1m87 0h1m72 0h1m8 0h1m47 0h2m6 0h2m12 0h4m84 0h2M24 247h1m14 0h1m58 0h1m8 0h1m7 0h1m79 0h1m5 0h1m18 0h2m16 0h2m38 0h2m24 0h2m28 0h2M24 248h2m4 0h1m47 0h1m3 0h1m79 0h1m42 0h1m2 0h4m2 0h2m24 0h2m6 0h2m8 0h2m58 0h2m6 0h2m4 0h2m14 0h2m8 0h2M65 249h1m13 0h1m12 0h1m2 0h1m13 0h1m11 0h1m51 0h1m22 0h2m4 0h1m59 0h2m20 0h2m56 0h2m16 0h1m11 0h1m11 0h2M4 250h1m10 0h1m60 0h1m27 0h1m11 0h1m1 0h1m73 0h1m8 0h1m20 0h2m68 0h2m45 0h1m12 0h2m4 0h2m16 0h2m8 0h2M8 251h1m29 0h1m2 0h1m42 0h1m7 0h1m112 0h1m18 0h2m16 0h2m6 0h2m12 0h1m21 0h2m50 0h1m19 0h2m15 0h1M5 252h2m12 0h1m18 0h1m38 0h1m18 0h2m89 0h3m3 0h1m30 0h4m14 0h2m20 0h1m65 0h2m2 0h2m18 0h2M15 253h1m34 0h1m15 0h1m3 0h1m3 0h1m94 0h1m21 0h1m42 0h2m22 0h2m35 0h1m28 0h2m14 0h2m34 0h2m14 0h2M3 254h1m11 0h1m2 0h1m40 0h1m2 0h1m17 0h1m27 0h1m59 0h1m30 0h1m32 0h2m12 0h2m50 0h2m76 0h2m16 0h2M4 255h1m45 0h1m136 0h1m6 0h2m3 0h1m18 0h2m20 0h2m52 0h2m10 0h2m58 0h2m4 0h1M22 256h1m77 0h1m93 0h1m3 0h1m9 0h2m26 0h2m12 0h4m6 0h2m16 0h2m48 0h2m4 0h2m32 0h2M28 257h1m8 0h1m8 0h1m30 0h1m34 0h1m5 0h1m99 0h2m12 0h2m2 0h2m14 0h2m8 0h2m90 0h2m2 0h2m22 0h2M74 258h1m31 0h1m7 0h1m51 0h1m21 0h1m29 0h2m4 0h2m36 0h2m14 0h2m36 0h2m24 0h2m31 0h1m16 0h2M5 259h1m12 0h1m5 0h1m34 0h1m16 0h1m22 0h1m80 0h1m33 0h2m46 0h2m40 0h2m22 0h2m14 0h2m24 0h2m22 0h2M13 260h1m6 0h1m3 0h1m170 0h1m14 0h2m2 0h2m42 0h2m5 0h1m16 0h4m18 0h2m4 0h2m16 0h2m54 0h2m8 0h2M29 261h1m91 0h1m63 0h1m32 0h2m104 0h2m14 0h2m44 0h2m4 0h2M10 262h1m8 0h1m43 0h1m8 0h1m17 0h1m10 0h1m1 0h1m11 0h1m71 0h1m3 0h1m14 0h2m4 0h2m26 0h2m10 0h2m24 0h2m2 0h2m70 0h2m6 0h2m4 0h4M94 263h1m1 0h2m7 0h1m84 0h1m51 0h2m54 0h2m12 0h4M4 264h1m8 0h1m44 0h1m5 0h1m27 0h1m109 0h1m2 0h3m14 0h2m34 0h2m26 0h2M14 265h1m6 0h1m5 0h1m49 0h1m6 0h1m31 0h1m59 0h1m1 0h1m29 0h2m4 0h2m32 0h2m12 0h2M9 266h1m2 0h1m17 0h1m68 0h2m5 0h1m14 0h1m73 0h1m20 0h2m98 0h2m38 0h2m28 0h2M6 267h1m6 0h1m2 0h1m1 0h1m28 0h1m9 0h1m35 0h1m142 0h2m24 0h2m28 0h2m26 0h2m16 0h1m21 0h2M2 268h1m54 0h1m43 0h1m15 0h1m3 0h1m74 0h1m21 0h2m12 0h2m4 0h2m12 0h2m22 0h2m4 0h2m34 0h2m4 0h4m24 0h1m7 0h2m10 0h1M30 269h2m36 0h1m8 0h1m38 0h1m68 0h1m3 0h1m68 0h2m30 0h2m16 0h2m42 0h2m8 0h2m30 0h2M10 270h1m25 0h1m41 0h1m26 0h1m11 0h2m70 0h1m1 0h1m2 0h1m6 0h1m63 0h1m4 0h2m34 0h2m18 0h2m26 0h2m2 0h2m24 0h2M0 271h1m2 0h1m15 0h1m1 0h1m5 0h1m61 0h1m12 0h1m15 0h3m66 0h1m8 0h1m3 0h1m2 0h1m1 0h1m10 0h2m2 0h2m12 0h2m42 0h4m24 0h2m74 0h2M4 272h1m30 0h1m40 0h1m4 0h1m5 0h1m31 0h1m1 0h1m84 0h2m2 0h2m58 0h2m22 0h4m32 0h2m18 0h2m26 0h2M14 273h1m25 0h3m7 0h1m39 0h1m29 0h1m76 0h1m1 0h1m6 0h2m62 0h2m18 0h4m38 0h2m5 0h1m12 0h2m38 0h2M6 274h1m20 0h1m13 0h1m69 0h1m6 0h1m51 0h1m16 0h1m28 0h2m68 0h2m30 0h2m40 0h2m13 0h1M43 275h1m7 0h1m32 0h1m6 0h1m5 0h1m3 0h1m5 0h1m11 0h1m82 0h1m28 0h1m24 0h2m16 0h2m22 0h2m4 0h2m50 0h2m20 0h2M10 276h1m2 0h1m3 0h1m11 0h1m8 0h2m21 0h1m24 0h1m133 0h2m2 0h2m10 0h2m50 0h2m28 0h2m6 0h2m20 0h2m28 0h2m16 0h1M8 277h1m15 0h1m4 0h1m9 0h1m8 0h1m32 0h1m35 0h1m3 0h1m50 0h1m25 0h1m66 0h1m16 0h2m24 0h2m10 0h2m6 0h2m12 0h2m8 0h2m2 0h2m18 0h2m8 0h2M1 278h1m7 0h1m5 0h2m15 0h1m32 0h1m29 0h1m20 0h1m75 0h1m4 0h1m1 0h1m5 0h1m8 0h2m26 0h2m8 0h2m24 0h2m24 0h2m48 0h2m38 0h2M5 279h2m1 0h1m3 0h1m11 0h1m21 0h1m43 0h1m19 0h1m99 0h2m2 0h2m72 0h2m82 0h1M0 280h1m15 0h1m4 0h1m32 0h1m25 0h1m7 0h1m1 0h2m96 0h1m4 0h1m24 0h2m2 0h2m115 0h1m20 0h4m26 0h2M4 281h1m13 0h1m4 0h1m64 0h1m4 0h1m6 0h1m4 0h1m82 0h1m13 0h1m23 0h2m76 0h2m18 0h2m2 0h2m6 0h3m1 0h2m30 0h1M16 282h1m3 0h1m4 0h1m8 0h1m44 0h1m33 0h1m65 0h1m6 0h1m5 0h1m1 0h1m19 0h2m4 0h4m36 0h2m20 0h2m8 0h2m74 0h5M49 283h1m6 0h1m2 0h1m23 0h1m10 0h1m3 0h1m4 0h1m1 0h1m112 0h2m2 0h2m4 0h2m4 0h2m22 0h2m18 0h2m20 0h2m2 0h2m16 0h2m2 0h2m2 0h2m7 0h1m10 0h2m8 0h2m6 0h2m12 0h2m4 0h2M1 284h1m36 0h1m5 0h1m15 0h2m12 0h1m104 0h1m11 0h1m1 0h1m6 0h1m13 0h2m4 0h2m4 0h2m14 0h2m20 0h1m37 0h4m6 0h2M7 285h1m1 0h1m10 0h1m48 0h1m8 0h1m4 0h1m104 0h1m27 0h2m22 0h2m10 0h2m6 0h2m18 0h2m34 0h2m38 0h1M20 286h1m24 0h1m31 0h1m4 0h1m115 0h1m27 0h2m110 0h1m1 0h2m26 0h2m2 0h1m2 0h1m10 0h2M8 287h1m17 0h1m5 0h1m13 0h1m9 0h1m6 0h1m8 0h1m2 0h1m1 0h1m40 0h1m103 0h2m10 0h2m18 0h2m71 0h1m4 0h2m2 0h2m46 0h2M9 288h1m23 0h1m2 0h1m8 0h1m24 0h1m13 0h1m4 0h1m5 0h1m9 0h1m2 0h1m12 0h1m50 0h1m129 0h2m10 0h2m22 0h1m27 0h4m2 0h1M0 289h1m6 0h2m83 0h1m10 0h1m5 0h1m3 0h2m55 0h1m23 0h1m55 0h2m52 0h2m30 0h2m40 0h2m8 0h2M4 290h2m2 0h1m7 0h1m14 0h1m10 0h2m8 0h1m37 0h1m3 0h1m19 0h1m48 0h1m52 0h2m22 0h2m30 0h2m24 0h2m34 0h2m40 0h4M22 291h1m9 0h1m8 0h1m7 0h1m8 0h1m4 0h2m12 0h1m8 0h1m14 0h1m9 0h1m8 0h1m1 0h1m145 0h2m78 0h2m4 0h2M6 292h1m9 0h1m12 0h1m51 0h1m39 0h1m68 0h1m10 0h1m14 0h4m54 0h2m108 0h2m2 0h4M80 293h1m21 0h2m9 0h1m8 0h1m49 0h1m30 0h1m16 0h2m60 0h2m20 0h2m22 0h4m18 0h2m24 0h2M2 294h1m1 0h1m32 0h1m4 0h1m14 0h1m30 0h1m5 0h2m13 0h1m102 0h2m2 0h1m107 0h4m32 0h2M44 295h1m10 0h1m4 0h1m4 0h1m17 0h2m107 0h1m33 0h2m12 0h2m60 0h2m18 0h2m30 0h2M0 296h1m16 0h1m5 0h1m48 0h1m13 0h1m12 0h1m4 0h1m12 0h3m76 0h1m3 0h1m11 0h2m62 0h2m70 0h2m4 0h2M5 297h1m43 0h1m15 0h1m13 0h1m7 0h1m6 0h1m3 0h1m15 0h1m48 0h1m2 0h1m25 0h1m15 0h2m50 0h2m4 0h2m62 0h2m18 0h2m8 0h2M14 298h1m7 0h1m4 0h1m23 0h1m2 0h1m16 0h1m22 0h1m11 0h1m1 0h1m83 0h1m5 0h1m13 0h2m4 0h2m16 0h2m14 0h4m14 0h2m40 0h2m2 0h2m24 0h2m8 0h2m6 0h2m16 0h2M1 299h1m10 0h1m6 0h2m5 0h1m205 0h2m10 0h4m10 0h2m54 0h2m2 0h2m38 0h2m28 0h1M20 300h1m19 0h1m4 0h1m3 0h1m29 0h1m27 0h1m6 0h1m57 0h1m5 0h1m8 0h1m14 0h1m19 0h2m106 0h2m8 0h2m14 0h4m8 0h2m2 0h1M24 301h1m27 0h2m7 0h1m9 0h1m7 0h1m14 0h2m6 0h1m3 0h1m8 0h2m5 0h1m66 0h1m4 0h1m6 0h1m24 0h2m28 0h2m34 0h2m45 0h1m2 0h4m2 0h2m10 0h2M13 302h1m7 0h1m1 0h1m22 0h1m15 0h1m13 0h1m9 0h1m119 0h2m14 0h4m28 0h2m68 0h2m16 0h2M14 303h1m5 0h1m5 0h1m3 0h1m17 0h1m9 0h1m28 0h1m5 0h1m17 0h1m7 0h1m73 0h1m16 0h2m40 0h2m18 0h2m26 0h2m6 0h2m28 0h1m19 0h2m10 0h3m9 0h2m4 0h2M3 304h1m13 0h1m4 0h1m27 0h2m6 0h1m17 0h1m4 0h1m22 0h2m61 0h1m7 0h1m11 0h1m26 0h2m20 0h1m23 0h2m4 0h2m60 0h2m52 0h2m8 0h2M6 305h1m10 0h1m35 0h1m31 0h1m4 0h2m14 0h1m4 0h1m96 0h2m4 0h2m6 0h2m58 0h2m12 0h2m6 0h2m2 0h2m16 0h2m6 0h1m17 0h4m34 0h2M30 306h1m1 0h1m17 0h1m118 0h2m25 0h1m1 0h1m27 0h2m44 0h2m30 0h2m48 0h4m12 0h2m6 0h2M4 307h1m14 0h1m5 0h1m10 0h2m2 0h1m7 0h1m8 0h1m21 0h1m9 0h1m19 0h1m6 0h1m1 0h1m80 0h1m5 0h3m4 0h2m68 0h4m10 0h2m18 0h2m34 0h2m12 0h2m2 0h2m10 0h2M4 308h2m6 0h1m13 0h1m19 0h1m4 0h1m2 0h1m5 0h1m26 0h1m27 0h2m58 0h1m3 0h1m14 0h1m11 0h2m38 0h4m26 0h2m46 0h2m12 0h1m21 0h2M28 309h1m14 0h1m11 0h1m37 0h1m9 0h1m18 0h1m73 0h1m9 0h2m46 0h2m42 0h2m54 0h2m20 0h2m14 0h2M15 310h1m7 0h1m13 0h1m17 0h1m22 0h1m4 0h1m31 0h1m3 0h1m70 0h2m32 0h2m8 0h2m18 0h2m36 0h2m2 0h2m12 0h2m30 0h2m5 0h1m36 0h2M7 311h1m3 0h1m3 0h1m16 0h1m9 0h1m71 0h1m6 0h1m70 0h1m23 0h2m32 0h2m4 0h2m24 0h2m8 0h2M4 312h1m6 0h1m1 0h1m3 0h1m7 0h1m2 0h1m30 0h1m11 0h1m14 0h1m35 0h1m52 0h1m10 0h1m1 0h1m2 0h1m50 0h2m2 0h2m6 0h2m26 0h2m72 0h2m17 0h3M12 313h1m4 0h1m16 0h1m29 0h1m13 0h1m7 0h1m7 0h1m18 0h1m4 0h1m66 0h1m7 0h1m4 0h1m41 0h2m16 0h2m14 0h2m4 0h2m36 0h2m20 0h2m33 0h1M3 314h1m36 0h1m9 0h1m4 0h1m8 0h1m2 0h1m126 0h1m1 0h1m7 0h1m49 0h2m72 0h2m22 0h2m14 0h2M1 315h1m19 0h1m23 0h1m30 0h1m6 0h1m2 0h1m12 0h2m16 0h2m42 0h1m28 0h1m12 0h1m90 0h2m76 0h1M0 316h1m8 0h1m7 0h1m8 0h1m4 0h1m15 0h1m17 0h1m14 0h2m109 0h1m116 0h2m34 0h2m38 0h2M22 317h1m12 0h1m14 0h1m9 0h1m7 0h1m1 0h1m37 0h1m5 0h1m2 0h1m45 0h1m28 0h1m8 0h1m1 0h1m6 0h2m10 0h2m6 0h2m42 0h2m26 0h2m32 0h2m1 0h1m12 0h2m32 0h2m6 0h2M0 318h1m11 0h1m9 0h1m2 0h1m10 0h1m4 0h1m13 0h2m41 0h1m96 0h1m4 0h1m1 0h2m2 0h2m52 0h2m20 0h2m66 0h2m4 0h2m14 0h1M1 319h1m13 0h1m12 0h1m12 0h1m11 0h1m22 0h1m14 0h1m3 0h1m7 0h2m6 0h1m89 0h1m6 0h2m20 0h2m106 0h2m16 0h2m14 0h1M21 320h1m1 0h1m1 0h1m31 0h1m11 0h1m10 0h1m16 0h1m6 0h1m5 0h1m8 0h1m69 0h1m3 0h2m31 0h2m52 0h2m20 0h2m84 0h2M5 321h1m12 0h1m42 0h1m2 0h1m18 0h1m10 0h1m23 0h1m84 0h1m18 0h4m22 0h4m20 0h2m26 0h4m36 0h2m10 0h2m2 0h2m18 0h2M24 322h1m26 0h2m4 0h1m49 0h1m1 0h1m53 0h1m6 0h1m29 0h1m4 0h1m18 0h2m10 0h2m86 0h2m26 0h2m38 0h4M30 323h1m10 0h2m44 0h1m6 0h1m8 0h1m12 0h1m54 0h1m70 0h4m46 0h2m22 0h2m18 0h2m1 0h1m30 0h2m18 0h2M3 324h1m30 0h1m2 0h1m49 0h1m9 0h1m5 0h1m71 0h1m18 0h1m49 0h2m2 0h2m8 0h2m28 0h2m49 0h1m12 0h2m18 0h1m3 0h2m14 0h2M8 325h1m12 0h1m21 0h2m3 0h1m5 0h1m20 0h1m4 0h1m35 0h1m1 0h1m1 0h1m76 0h1m44 0h2m6 0h2m10 0h2m20 0h2m4 0h2m16 0h2m28 0h1m19 0h2m8 0h2M18 326h1m4 0h1m3 0h1m18 0h1m11 0h1m10 0h1m5 0h1m26 0h1m6 0h1m5 0h1m1 0h1m44 0h1m22 0h2m13 0h1m33 0h2m14 0h2m8 0h2m24 0h2m22 0h1m13 0h2m2 0h2m2 0h2m48 0h2M31 327h2m2 0h1m27 0h1m4 0h1m7 0h1m4 0h1m10 0h1m8 0h1m8 0h1m70 0h1m5 0h1m2 0h1m15 0h2m46 0h2m34 0h2m20 0h2m38 0h2m4 0h4m8 0h2M10 328h1m4 0h1m4 0h1m10 0h1m12 0h1m2 0h1m44 0h1m6 0h1m22 0h1m85 0h2m55 0h1m32 0h2m52 0h2m14 0h2m8 0h2M7 329h1m17 0h1m13 0h1m16 0h2m2 0h1m13 0h1m1 0h1m14 0h1m5 0h1m8 0h1m5 0h1m72 0h1m10 0h1m29 0h2m18 0h2m6 0h2m12 0h2m38 0h4m2 0h2m18 0h2m20 0h2m18 0h2m8 0h2M16 330h1m12 0h1m9 0h1m29 0h1m4 0h1m10 0h3m5 0h1m11 0h1m71 0h1m20 0h1m15 0h2m36 0h2m8 0h2m14 0h2m22 0h2m12 0h2m36 0h2m30 0h2M4 331h1m9 0h1m1 0h1m11 0h1m22 0h1m15 0h1m8 0h1m16 0h1m3 0h1m11 0h1m10 0h1m149 0h4m22 0h2m34 0h2m34 0h2m8 0h2m2 0h2m12 0h1M8 332h1m25 0h1m10 0h1m1 0h1m2 0h1m1 0h1m9 0h2m38 0h1m3 0h1m1 0h1m60 0h1m7 0h1m3 0h1m54 0h2m52 0h2m4 0h2m86 0h2m2 0h2M46 333h1m40 0h1m17 0h1m3 0h1m11 0h1m73 0h1m6 0h1m39 0h2m12 0h2m40 0h2m16 0h2m32 0h2M10 334h1m12 0h1m27 0h1m38 0h1m10 0h1m11 0h1m7 0h1m81 0h1m72 0h2m2 0h2m8 0h2m78 0h2M5 335h1m7 0h1m2 0h1m7 0h1m37 0h1m1 0h1m12 0h1m4 0h1m8 0h1m5 0h1m2 0h1m1 0h1m15 0h2m44 0h1m21 0h1m6 0h2m25 0h2m26 0h2m46 0h2m30 0h2m18 0h2m10 0h2m10 0h1m15 0h2M9 336h1m45 0h1m5 0h1m36 0h1m2 0h1m8 0h1m10 0h1m68 0h1m31 0h2m96 0h2M10 337h1m16 0h1m2 0h1m20 0h1m9 0h1m17 0h1m13 0h1m14 0h1m7 0h1m1 0h1m67 0h1m9 0h1m15 0h2m18 0h2m70 0h2m52 0h2m8 0h2m20 0h2M3 338h1m3 0h1m13 0h1m6 0h1m9 0h1m3 0h1m4 0h2m9 0h1m8 0h1m13 0h1m6 0h1m6 0h1m20 0h1m2 0h1m104 0h2m2 0h2m4 0h2m8 0h2m8 0h2m4 0h2m8 0h2m56 0h2m6 0h2m12 0h2m2 0h2m14 0h3m2 0h1M2 339h1m15 0h1m17 0h1m10 0h1m6 0h1m30 0h1m8 0h1m21 0h1m4 0h1m44 0h1m11 0h1m13 0h1m13 0h2m42 0h2m4 0h2m2 0h2m26 0h2m24 0h2m12 0h2m58 0h2M29 340h1m3 0h1m4 0h1m5 0h1m31 0h1m22 0h1m94 0h1m6 0h1m6 0h4m8 0h2m4 0h2m44 0h4m20 0h2m8 0h2m31 0h1m10 0h2m6 0h2m25 0h1m6 0h2M10 341h1m2 0h1m3 0h1m53 0h1m14 0h1m14 0h2m13 0h1m5 0h1m62 0h1m18 0h1m43 0h2m26 0h4m44 0h2m52 0h2m8 0h2m4 0h2M10 342h1m5 0h1m6 0h1m1 0h1m61 0h1m2 0h1m26 0h1m4 0h1m41 0h1m69 0h2m52 0h2m10 0h2m24 0h2m10 0h1m1 0h2m14 0h2m28 0h2M16 343h1m11 0h1m15 0h1m120 0h1m28 0h1m45 0h4m8 0h2m6 0h2m22 0h2m22 0h2m29 0h1m16 0h2m11 0h1M28 344h2m35 0h1m20 0h1m5 0h1m5 0h2m1 0h1m10 0h1m52 0h1m37 0h1m42 0h2m31 0h1m16 0h2m60 0h2M27 345h1m70 0h1m9 0h1m4 0h1m4 0h1m56 0h1m76 0h2m8 0h2m90 0h2m16 0h1M14 346h1m1 0h1m7 0h2m20 0h1m7 0h1m106 0h1m6 0h1m8 0h1m11 0h1m1 0h1m44 0h2m8 0h2m42 0h2m24 0h2m34 0h4m2 0h2m30 0h2M5 347h1m17 0h1m16 0h4m22 0h2m10 0h1m20 0h1m5 0h1m5 0h1m10 0h1m72 0h1m52 0h2m8 0h2m10 0h2m8 0h2m4 0h2m10 0h2m28 0h4m7 0h1m38 0h2M7 348h1m8 0h1m6 0h1m1 0h1m2 0h1m1 0h1m55 0h1m4 0h1m1 0h1m14 0h1m97 0h2m10 0h2m56 0h2m8 0h2m52 0h2m28 0h2m4 0h2M1 349h1m17 0h1m8 0h1m5 0h1m8 0h1m4 0h1m14 0h1m33 0h1m1 0h1m61 0h1m42 0h1m43 0h2m8 0h2m14 0h2m16 0h2m44 0h1m19 0h2m2 0h2m4 0h1m25 0h2M1 350h1m20 0h1m1 0h1m3 0h1m14 0h1m4 0h1m43 0h1m14 0h1m3 0h1m1 0h1m90 0h2m2 0h2m20 0h2m30 0h3m89 0h2m15 0h1m4 0h2m8 0h2M20 351h1m14 0h1m11 0h1m16 0h1m23 0h1m7 0h1m2 0h1m81 0h1m6 0h1m14 0h1m46 0h2m4 0h2m40 0h2m2 0h2m34 0h1m1 0h2m12 0h2m26 0h2M0 352h1m16 0h1m2 0h1m5 0h1m17 0h1m3 0h1m2 0h1m25 0h1m10 0h1m1 0h1m30 0h1m63 0h1m11 0h1m1 0h1m10 0h2m8 0h2m68 0h2m6 0h2m16 0h2m18 0h2m14 0h2m18 0h1M4 353h1m46 0h1m12 0h2m25 0h1m8 0h1m1 0h1m10 0h2m121 0h2m6 0h2m74 0h2m54 0h2m10 0h2M6 354h1m2 0h1m18 0h1m29 0h1m10 0h1m14 0h1m22 0h1m55 0h1m24 0h1m8 0h1m18 0h4m8 0h2m35 0h1m24 0h2m6 0h2m48 0h2M10 355h1m11 0h2m18 0h2m22 0h1m13 0h1m11 0h3m2 0h1m71 0h1m29 0h1m22 0h2m12 0h2m20 0h2m14 0h4m2 0h2m4 0h2m28 0h2m50 0h2M7 356h1m4 0h1m8 0h1m3 0h1m62 0h1m12 0h1m19 0h1m40 0h1m32 0h1m30 0h2m26 0h2m48 0h2m14 0h2m32 0h2m26 0h2M6 357h1m11 0h1m18 0h1m29 0h1m4 0h1m11 0h1m82 0h1m9 0h1m26 0h1m35 0h2m22 0h1m23 0h2m12 0h2m66 0h2M22 358h1m12 0h2m22 0h1m12 0h1m2 0h1m4 0h1m4 0h1m20 0h1m5 0h1m3 0h1m71 0h1m29 0h2m58 0h2m34 0h2m32 0h2m4 0h2M7 359h1m5 0h1m9 0h1m57 0h1m23 0h1m98 0h1m7 0h2m70 0h2m70 0h2m10 0h2m26 0h1M16 360h1m8 0h1m9 0h1m1 0h1m29 0h1m23 0h1m6 0h1m2 0h1m3 0h2m79 0h1m19 0h2m72 0h2m6 0h2M1 361h1m2 0h1m12 0h1m4 0h1m14 0h1m12 0h1m29 0h1m15 0h1m8 0h1m5 0h2m7 0h2m41 0h1m24 0h1m14 0h1m66 0h2m10 0h2m48 0h2m22 0h2m10 0h2M16 362h1m14 0h1m28 0h1m26 0h1m2 0h1m2 0h2m12 0h2m6 0h1m83 0h1m4 0h1m95 0h2m32 0h2m22 0h2m24 0h2M14 363h1m20 0h1m19 0h1m4 0h1m25 0h1m3 0h1m25 0h1m48 0h1m12 0h1m12 0h1m26 0h2m12 0h2m20 0h2m64 0h2m32 0h4M0 364h1m56 0h1m25 0h1m10 0h1m8 0h2m9 0h1m119 0h2m22 0h4m76 0h1m27 0h2M0 365h1m15 0h1m36 0h1m12 0h1m1 0h1m15 0h1m9 0h1m10 0h1m13 0h1m126 0h2m2 0h2m12 0h1m1 0h2m16 0h2m6 0h2m8 0h2m46 0h2M12 366h1m24 0h1m5 0h1m7 0h1m4 0h1m1 0h1m5 0h2m7 0h1m11 0h1m18 0h1m6 0h1m5 0h1m71 0h1m34 0h2m8 0h2m10 0h2m10 0h2m4 0h1m19 0h2m102 0h2m4 0h2M5 367h1m7 0h1m8 0h1m11 0h1m25 0h1m6 0h1m20 0h1m107 0h1m31 0h2m16 0h2m2 0h2m2 0h2m44 0h2m8 0h2m26 0h1M21 368h1m6 0h1m2 0h2m24 0h1m29 0h1m19 0h1m94 0h1m123 0h2m14 0h1m23 0h2M21 369h1m6 0h1m2 0h2m24 0h1m29 0h1m19 0h1m94 0h1m123 0h2m14 0h1m23 0h2"/><path stroke="#463480" d="M9 0h1m26 0h1m6 0h1m42 0h2m4 0h1m12 0h1m29 0h1m6 0h1m8 0h1m1 0h1m4 0h1m25 0h1m57 0h2m16 0h2m40 0h2m18 0h2m32 0h4M11 1h1m4 0h1m26 0h1m4 0h1m3 0h1m56 0h1m10 0h1m5 0h1m1 0h1m1 0h2m9 0h1m7 0h2m36 0h1m10 0h1m11 0h2m10 0h2m8 0h2m26 0h2m4 0h2m14 0h2m4 0h2m2 0h2m32 0h2m2 0h2m4 0h3m37 0h2M10 2h1m62 0h1m20 0h1m11 0h1m9 0h1m9 0h2m5 0h1m3 0h1m4 0h1m6 0h1m3 0h1m2 0h1m64 0h1m43 0h1M35 3h1m5 0h2m38 0h1m11 0h1m17 0h1m26 0h1m4 0h1m10 0h1m3 0h1m3 0h1m21 0h2m56 0h2m10 0h2m8 0h1m31 0h2m48 0h2m8 0h2M17 4h1m12 0h1m74 0h1m14 0h1m10 0h1m6 0h1m14 0h1m1 0h1m1 0h2m27 0h1m119 0h2m26 0h2m16 0h2m32 0h2m6 0h2M3 5h1m26 0h1m29 0h1m33 0h1m11 0h1m6 0h1m13 0h1m6 0h1m12 0h1m36 0h1m73 0h2m5 0h1m38 0h2m72 0h2m2 0h2M8 6h1m1 0h1m1 0h1m6 0h1m47 0h1m1 0h1m44 0h1m13 0h1m7 0h2m5 0h1m2 0h1m2 0h1m20 0h1m35 0h2m49 0h1m16 0h2m12 0h2m44 0h2m16 0h2M1 7h1m5 0h1m38 0h1m2 0h1m49 0h1m10 0h1m1 0h1m3 0h1m5 0h1m23 0h1m3 0h1m3 0h1m53 0h2m62 0h2m8 0h2m82 0h2m4 0h1m13 0h2M37 8h1m25 0h1m38 0h1m24 0h1m15 0h1m5 0h1m32 0h1m5 0h1m11 0h1m51 0h2m20 0h2m50 0h2M1 9h1m2 0h1m24 0h1m7 0h1m40 0h1m14 0h1m18 0h1m7 0h1m3 0h1m9 0h1m10 0h1m1 0h2m1 0h1m7 0h1m1 0h1m45 0h2m20 0h2m32 0h2m64 0h2m14 0h2m2 0h2m12 0h2M5 10h1m5 0h1m22 0h1m7 0h1m54 0h1m11 0h1m7 0h1m9 0h1m3 0h2m5 0h1m2 0h2m5 0h1m13 0h1m17 0h1m12 0h1m2 0h1m23 0h2m72 0h2m17 0h1m40 0h2m4 0h2M2 11h1m51 0h1m1 0h1m1 0h1m3 0h1m14 0h1m7 0h1m24 0h1m6 0h1m1 0h1m9 0h1m4 0h1m11 0h1m6 0h1m4 0h1m87 0h2m48 0h2M82 12h2m29 0h1m13 0h3m4 0h1m3 0h1m3 0h1m9 0h1m1 0h1m36 0h1m3 0h1m6 0h1m13 0h2m22 0h2m44 0h2m12 0h2m16 0h2M14 13h1m26 0h1m5 0h1m15 0h1m17 0h1m3 0h1m13 0h1m26 0h1m14 0h1m4 0h1m11 0h1m71 0h2m58 0h2m8 0h2m22 0h2m8 0h2M37 14h1m9 0h1m1 0h1m48 0h1m21 0h1m18 0h1m14 0h1m9 0h1m2 0h1m18 0h1m75 0h2m108 0h1m17 0h2M61 15h1m2 0h1m7 0h1m34 0h1m16 0h1m3 0h1m9 0h1m3 0h1m7 0h1m3 0h1m32 0h1m2 0h1m3 0h1m39 0h2m12 0h2m58 0h2m44 0h2m2 0h2m12 0h1m1 0h1m1 0h2M40 16h1m4 0h1m11 0h1m5 0h1m40 0h1m16 0h1m2 0h1m6 0h1m19 0h1m23 0h2m29 0h2m10 0h2m8 0h2m58 0h2m14 0h2M8 17h1m50 0h1m12 0h1m5 0h1m1 0h1m3 0h1m9 0h1m18 0h1m6 0h1m4 0h1m2 0h1m2 0h1m1 0h1m7 0h1m4 0h1m7 0h1m13 0h1m29 0h1m53 0h2m11 0h1m12 0h2m24 0h2m10 0h2M5 18h1m1 0h1m2 0h1m5 0h1m6 0h1m18 0h1m51 0h1m11 0h1m14 0h1m19 0h1m51 0h1m90 0h2m6 0h2m2 0h2m8 0h2m44 0h2m42 0h1M1 19h2m24 0h1m11 0h2m3 0h1m13 0h1m10 0h1m34 0h1m14 0h1m1 0h1m2 0h1m8 0h1m3 0h3m7 0h1m3 0h1m38 0h1m2 0h1m64 0h2m44 0h2m20 0h2m4 0h2m6 0h2m10 0h2m18 0h1m3 0h2m10 0h2M25 20h1m2 0h1m31 0h1m19 0h1m14 0h1m6 0h1m20 0h1m2 0h1m12 0h1m1 0h1m8 0h2m6 0h1m11 0h1m11 0h1m14 0h1m7 0h1m148 0h2m28 0h2M10 21h1m2 0h1m27 0h1m22 0h1m10 0h1m5 0h1m18 0h1m13 0h1m1 0h1m6 0h1m14 0h1m2 0h1m4 0h1m2 0h2m4 0h1m74 0h2m6 0h2m40 0h2m16 0h2m88 0h2M10 22h1m13 0h1m5 0h1m3 0h1m4 0h1m9 0h1m2 0h1m4 0h1m23 0h1m20 0h1m13 0h1m1 0h1m15 0h2m1 0h1m1 0h1m3 0h1m3 0h1m6 0h1m22 0h1m38 0h2m20 0h2m82 0h2m62 0h2M1 23h1m1 0h1m49 0h1m52 0h1m6 0h1m4 0h2m1 0h1m13 0h1m23 0h1m4 0h1m21 0h1m1 0h1m3 0h1m12 0h1m156 0h2m11 0h1m18 0h3M31 24h2m1 0h1m17 0h2m38 0h1m8 0h1m7 0h1m20 0h1m3 0h1m20 0h1m11 0h1m106 0h2m66 0h2m22 0h2M5 25h1m39 0h1m14 0h1m36 0h1m30 0h1m1 0h1m2 0h1m7 0h1m11 0h1m3 0h1m1 0h1m16 0h1m21 0h1m6 0h1m4 0h2m62 0h2m2 0h2m18 0h2m62 0h2M16 26h1m74 0h1m3 0h1m8 0h1m41 0h2m3 0h1m7 0h1m130 0h2m40 0h2m6 0h2m26 0h2M25 27h1m5 0h1m6 0h1m26 0h1m16 0h1m31 0h2m30 0h1m10 0h1m19 0h1m14 0h1m4 0h1m12 0h2m6 0h2m80 0h4m22 0h2m40 0h2m26 0h1M2 28h1m33 0h2m12 0h1m9 0h1m16 0h1m36 0h1m8 0h1m13 0h1m3 0h1m6 0h1m3 0h1m3 0h2m1 0h1m6 0h1m21 0h1m4 0h1m8 0h1m39 0h2m14 0h2m5 0h1m24 0h2m6 0h2m75 0h1m6 0h2m2 0h4M2 29h1m8 0h1m106 0h1m3 0h1m3 0h2m6 0h2m9 0h1m3 0h1m3 0h1m88 0h2m18 0h2m16 0h2m2 0h2m52 0h1m25 0h2m2 0h2m2 0h1M5 30h1m6 0h1m11 0h1m73 0h1m4 0h1m26 0h1m6 0h2m5 0h1m1 0h2m3 0h1m6 0h1m27 0h1m47 0h2m14 0h2m13 0h1m24 0h2M2 31h1m38 0h1m3 0h1m20 0h1m38 0h1m19 0h1m3 0h1m18 0h1m1 0h2m1 0h1m35 0h1m7 0h1m20 0h2m86 0h2m30 0h1m29 0h2M14 32h1m35 0h1m7 0h1m37 0h2m13 0h1m7 0h1m6 0h1m8 0h1m1 0h2m10 0h2m3 0h2m3 0h1m23 0h1m7 0h1m34 0h2m56 0h2m24 0h2m56 0h2M12 33h1m2 0h1m98 0h2m5 0h1m7 0h1m4 0h1m2 0h1m12 0h2m90 0h2m76 0h2m22 0h2m6 0h2m10 0h2m6 0h1M3 34h1m7 0h1m2 0h1m64 0h1m1 0h1m1 0h1m24 0h1m18 0h1m6 0h1m10 0h1m7 0h1m1 0h1m72 0h2m4 0h2m116 0h2m2 0h2M35 35h1m57 0h1m8 0h1m21 0h1m5 0h1m3 0h1m7 0h1m7 0h1m32 0h1m3 0h1m2 0h1m4 0h1m50 0h2m46 0h2m32 0h2m26 0h2m28 0h2M11 36h1m63 0h1m8 0h1m43 0h1m5 0h1m18 0h1m33 0h1m6 0h1m39 0h2m22 0h2m24 0h2m20 0h2m82 0h2M5 37h1m28 0h1m11 0h1m2 0h1m2 0h2m2 0h1m20 0h1m2 0h1m17 0h2m1 0h1m22 0h1m9 0h1m5 0h2m3 0h1m3 0h2m2 0h2m2 0h1m1 0h2m21 0h1m14 0h1m5 0h2m23 0h2m96 0h2m2 0h2m8 0h2M14 38h1m43 0h1m3 0h1m5 0h1m56 0h1m3 0h1m12 0h1m62 0h1m12 0h2m42 0h2m72 0h2m2 0h2m44 0h2M5 39h1m7 0h1m2 0h1m40 0h1m4 0h1m12 0h1m24 0h1m15 0h1m4 0h1m6 0h1m13 0h1m10 0h1m54 0h2m118 0h2m9 0h1m26 0h2m8 0h4M25 40h1m68 0h1m39 0h1m8 0h1m2 0h1m12 0h1m45 0h1m8 0h2m32 0h2m48 0h2m86 0h2m2 0h2M26 41h1m5 0h1m4 0h1m43 0h1m48 0h1m3 0h1m4 0h1m3 0h1m2 0h1m17 0h1m59 0h2m40 0h2m32 0h2m48 0h4m26 0h2M16 42h1m11 0h1m10 0h1m21 0h1m43 0h1m18 0h1m13 0h1m4 0h1m3 0h1m1 0h1m4 0h1m1 0h1m1 0h1m2 0h1m34 0h1m4 0h1m142 0h2m22 0h2M9 43h1m10 0h1m1 0h1m9 0h1m24 0h1m32 0h1m3 0h1m1 0h1m2 0h1m6 0h2m2 0h1m1 0h1m17 0h2m7 0h2m48 0h1m10 0h1m131 0h2m4 0h1m47 0h2M1 44h1m4 0h1m22 0h1m11 0h1m5 0h1m9 0h1m12 0h1m39 0h1m3 0h1m8 0h1m17 0h1m1 0h1m2 0h1m7 0h1m125 0h2m6 0h2M0 45h1m48 0h1m8 0h1m4 0h1m1 0h1m17 0h1m9 0h1m17 0h1m3 0h1m21 0h2m8 0h1m3 0h1m1 0h2m93 0h2m12 0h2m52 0h2m40 0h2m10 0h2M6 46h1m5 0h1m3 0h1m2 0h1m1 0h1m55 0h1m16 0h1m30 0h1m2 0h1m7 0h1m2 0h1m15 0h1m5 0h1m41 0h1m10 0h2m14 0h2m4 0h2m20 0h4m64 0h2m16 0h1m1 0h2m24 0h1M41 47h1m14 0h1m43 0h1m17 0h1m10 0h1m8 0h2m10 0h2m31 0h1m1 0h1m7 0h1m46 0h2m14 0h2m50 0h2m14 0h2m22 0h2m8 0h2m10 0h2M9 48h1m4 0h1m22 0h1m5 0h1m33 0h1m20 0h1m33 0h1m10 0h1m10 0h1m89 0h2m10 0h2m8 0h2m26 0h2m50 0h2m14 0h2M52 49h1m10 0h1m15 0h1m26 0h1m6 0h1m6 0h1m4 0h1m23 0h1m46 0h1m29 0h2m36 0h1m31 0h2m8 0h2m8 0h2m12 0h2m28 0h2m10 0h1M22 50h1m15 0h1m8 0h1m5 0h1m9 0h1m35 0h1m26 0h1m14 0h1m8 0h1m4 0h1m3 0h2m33 0h1m61 0h2m20 0h2m42 0h4M6 51h1m16 0h1m11 0h1m9 0h1m10 0h1m37 0h1m23 0h2m2 0h1m5 0h1m4 0h2m9 0h1m10 0h1m1 0h1m27 0h1m78 0h1m55 0h4m34 0h2m8 0h2M11 52h1m20 0h1m15 0h1m6 0h1m13 0h1m8 0h2m27 0h1m23 0h1m1 0h1m7 0h1m30 0h1m37 0h2m38 0h2m52 0h2m36 0h2m24 0h2M8 53h1m8 0h1m16 0h1m10 0h1m25 0h1m18 0h1m4 0h1m54 0h1m47 0h1m95 0h2m30 0h2m20 0h2m28 0h2m8 0h2M25 54h1m49 0h1m2 0h1m42 0h1m15 0h1m17 0h1m33 0h1m130 0h2m50 0h1M26 55h1m31 0h1m8 0h1m32 0h1m3 0h1m40 0h1m4 0h1m3 0h2m3 0h1m32 0h1m2 0h1m22 0h2m36 0h2m8 0h2m44 0h2m24 0h1m7 0h2m6 0h2m16 0h1M3 56h1m19 0h1m8 0h1m42 0h1m43 0h1m1 0h1m7 0h1m12 0h1m2 0h1m1 0h1m32 0h1m47 0h2m14 0h4m4 0h2m68 0h2m32 0h2m6 0h2m18 0h2M45 57h1m43 0h1m39 0h1m1 0h1m10 0h2m2 0h1m7 0h1m109 0h1m23 0h2M15 58h1m28 0h1m7 0h1m12 0h1m20 0h1m17 0h1m1 0h1m24 0h1m7 0h1m3 0h1m1 0h1m1 0h1m2 0h1m4 0h1m27 0h1m1 0h1m16 0h2m8 0h2m26 0h2m26 0h2m8 0h2m56 0h2m24 0h2M6 59h1m34 0h1m20 0h1m16 0h1m13 0h1m12 0h1m2 0h2m10 0h1m7 0h1m5 0h1m21 0h1m14 0h1m7 0h1m31 0h2m36 0h2m10 0h2m10 0h2m46 0h2m56 0h2m14 0h1M10 60h1m15 0h1m1 0h1m19 0h1m71 0h1m3 0h1m9 0h1m6 0h1m25 0h1m22 0h2m56 0h4m44 0h2m52 0h2m16 0h2m2 0h1m5 0h2m16 0h1M15 61h1m31 0h1m55 0h1m9 0h1m2 0h1m8 0h1m8 0h1m2 0h2m3 0h1m3 0h2m5 0h1m8 0h1m79 0h2m98 0h2m50 0h2M49 62h1m8 0h1m33 0h1m33 0h1m4 0h1m2 0h1m2 0h1m4 0h1m7 0h1m37 0h1m4 0h2m4 0h1m20 0h2m8 0h2m54 0h2m28 0h2m2 0h2m12 0h2m32 0h2m16 0h2m6 0h2M11 63h1m4 0h1m17 0h1m43 0h1m7 0h1m6 0h1m18 0h1m13 0h1m3 0h1m1 0h1m10 0h1m2 0h1m30 0h1m20 0h1m7 0h2m16 0h2m42 0h2m14 0h2m8 0h2m28 0h2m46 0h1M11 64h1m1 0h1m31 0h1m47 0h1m21 0h1m13 0h1m1 0h1m10 0h1m41 0h1m6 0h1m10 0h1m13 0h2m48 0h2m38 0h2m24 0h2m2 0h2m35 0h1m10 0h2M22 65h1m15 0h1m18 0h1m10 0h1m28 0h1m45 0h1m1 0h1m12 0h1m24 0h1m6 0h1m5 0h1m3 0h1m139 0h2M6 66h1m14 0h1m37 0h1m43 0h1m18 0h1m3 0h1m2 0h2m1 0h2m12 0h1m38 0h1m42 0h2m6 0h2m2 0h4m8 0h2m85 0h1m6 0h2m8 0h2M7 67h1m8 0h1m23 0h1m15 0h1m3 0h1m16 0h2m17 0h1m4 0h1m5 0h1m11 0h1m5 0h1m2 0h1m17 0h1m12 0h1m26 0h1m3 0h1m3 0h1m19 0h2m108 0h2m34 0h2m20 0h2M40 68h1m29 0h1m25 0h1m32 0h1m8 0h1m221 0h2m18 0h2M4 69h1m3 0h1m69 0h1m4 0h1m32 0h1m4 0h1m4 0h1m2 0h1m3 0h2m23 0h1m103 0h2m8 0h4m24 0h2m20 0h2M5 70h1m14 0h1m1 0h1m8 0h1m7 0h1m4 0h1m32 0h1m14 0h1m25 0h1m14 0h3m2 0h1m4 0h1m6 0h1m27 0h1m5 0h1m47 0h2m10 0h2m34 0h2m46 0h2m24 0h2m4 0h2m10 0h1M32 71h1m2 0h1m40 0h1m13 0h1m14 0h1m2 0h1m20 0h1m11 0h2m73 0h2m6 0h2m16 0h4m12 0h2m22 0h2m74 0h2m4 0h2m20 0h2M1 72h1m14 0h1m38 0h1m3 0h1m23 0h1m13 0h1m9 0h1m7 0h1m13 0h1m24 0h1m35 0h1m23 0h2m74 0h2m18 0h2M3 73h1m11 0h1m23 0h1m32 0h1m9 0h1m41 0h1m9 0h1m3 0h1m40 0h1m9 0h1m5 0h1m1 0h2m35 0h2m32 0h2m10 0h2m24 0h2m70 0h2m7 0h1M41 74h1m50 0h1m32 0h1m2 0h1m6 0h1m9 0h2m6 0h1m1 0h1m136 0h2m68 0h2M27 75h1m2 0h1m2 0h1m4 0h1m19 0h1m39 0h1m8 0h1m13 0h1m5 0h2m4 0h2m9 0h1m5 0h1m8 0h1m26 0h1m18 0h1m8 0h2m42 0h2m22 0h2m32 0h2m20 0h1m33 0h1M87 76h1m32 0h1m4 0h1m1 0h1m4 0h1m4 0h1m3 0h1m6 0h1m1 0h1m7 0h1m25 0h1m171 0h2m22 0h2M18 77h1m10 0h1m10 0h1m8 0h1m4 0h1m19 0h1m49 0h1m16 0h1m1 0h2m8 0h1m2 0h1m1 0h1m20 0h1m13 0h1m12 0h2m26 0h2m6 0h2m14 0h2m50 0h2m58 0h2m14 0h4m2 0h2M9 78h1m6 0h1m12 0h1m45 0h1m40 0h1m7 0h1m14 0h1m5 0h1m1 0h1m2 0h1m65 0h4m18 0h2m72 0h2m25 0h1m16 0h2m2 0h2m13 0h1M13 79h1m13 0h1m1 0h1m1 0h1m9 0h1m6 0h1m26 0h2m7 0h1m6 0h1m7 0h1m18 0h1m9 0h1m2 0h1m2 0h1m4 0h1m1 0h1m16 0h1m51 0h2m94 0h2m12 0h2M38 80h1m4 0h1m46 0h1m15 0h2m23 0h1m10 0h1m8 0h1m6 0h2m44 0h1m39 0h2m14 0h2m18 0h2m72 0h2m2 0h2M9 81h1m5 0h1m4 0h1m15 0h1m43 0h1m1 0h1m6 0h1m13 0h1m20 0h1m2 0h1m26 0h2m1 0h1m122 0h2m58 0h2m12 0h2m20 0h2M17 82h1m17 0h1m3 0h1m5 0h1m24 0h1m50 0h1m1 0h1m3 0h1m1 0h1m12 0h1m3 0h1m2 0h1m4 0h1m28 0h1m40 0h2m26 0h2m70 0h2m26 0h2m2 0h2M19 83h1m68 0h2m41 0h1m14 0h1m12 0h1m46 0h2m16 0h2m36 0h2m36 0h2m92 0h2M16 84h1m26 0h1m76 0h1m11 0h1m8 0h1m5 0h1m1 0h1m1 0h1m1 0h2m4 0h1m28 0h1m49 0h2m92 0h2M18 85h1m5 0h1m3 0h1m6 0h1m26 0h1m16 0h1m25 0h1m18 0h1m10 0h1m3 0h1m2 0h1m33 0h1m19 0h1m101 0h2m10 0h2m40 0h2m2 0h2m6 0h2m8 0h1m9 0h2M3 86h1m46 0h2m25 0h1m5 0h1m17 0h1m17 0h1m7 0h1m6 0h1m2 0h1m1 0h1m6 0h1m3 0h1m2 0h1m4 0h1m33 0h1m33 0h4m156 0h2M27 87h1m9 0h1m57 0h1m54 0h1m9 0h1m42 0h1m2 0h2m62 0h2m8 0h2m14 0h2m44 0h2M3 88h1m4 0h1m6 0h1m10 0h1m4 0h2m30 0h1m15 0h1m8 0h1m7 0h1m31 0h1m5 0h2m9 0h1m2 0h2m3 0h1m36 0h1m1 0h2m1 0h1m12 0h2m62 0h2m44 0h2m46 0h2m6 0h1m7 0h2M35 89h1m14 0h1m26 0h1m52 0h1m8 0h1m6 0h1m3 0h1m34 0h1m22 0h2m58 0h2m12 0h2m20 0h2m32 0h1M7 90h1m8 0h1m17 0h1m21 0h1m11 0h1m30 0h1m15 0h1m6 0h1m2 0h1m2 0h1m2 0h1m14 0h1m36 0h1m4 0h2m13 0h1m18 0h2m10 0h2m68 0h2m6 0h2m20 0h2m4 0h2m3 0h1m8 0h2m16 0h1M1 91h1m11 0h1m121 0h1m22 0h1m8 0h1m12 0h1m1 0h1m14 0h1m3 0h1m38 0h2m40 0h2m6 0h2m8 0h2M36 92h1m7 0h1m30 0h1m11 0h1m8 0h1m31 0h1m2 0h1m5 0h1m8 0h1m3 0h1m7 0h1m32 0h1m48 0h2m22 0h1m11 0h2m8 0h2m12 0h2M6 93h1m64 0h1m11 0h1m17 0h1m24 0h1m8 0h1m8 0h1m10 0h1m7 0h1m21 0h1m3 0h1m48 0h2m25 0h1m52 0h2m32 0h2m36 0h2m2 0h3M6 94h1m15 0h1m58 0h1m20 0h1m4 0h1m14 0h1m16 0h1m6 0h1m3 0h1m43 0h2m7 0h1m20 0h2m20 0h2m26 0h2m46 0h2m36 0h2m16 0h2M19 95h1m23 0h1m7 0h1m23 0h1m6 0h2m10 0h1m32 0h1m1 0h1m9 0h1m2 0h1m1 0h1m12 0h1m40 0h1m15 0h2m44 0h2m18 0h2m8 0h2m8 0h2m10 0h2m34 0h2m2 0h2M0 96h1m7 0h1m45 0h1m23 0h2m15 0h1m3 0h1m29 0h1m7 0h1m5 0h1m2 0h1m2 0h1m1 0h1m2 0h1m207 0h2M19 97h1m4 0h1m11 0h1m52 0h1m21 0h1m12 0h2m4 0h1m8 0h1m9 0h1m15 0h1m32 0h1m7 0h2m14 0h2m8 0h2m10 0h2m36 0h2m56 0h2M10 98h1m11 0h1m32 0h1m67 0h1m7 0h1m8 0h1m2 0h1m2 0h1m4 0h1m2 0h1m2 0h1m58 0h2m8 0h2m76 0h2M13 99h1m10 0h1m21 0h1m8 0h1m4 0h1m3 0h1m3 0h1m23 0h1m17 0h1m26 0h1m7 0h1m3 0h1m3 0h2m23 0h1m16 0h1m4 0h1m55 0h2m18 0h2m32 0h2m6 0h2m38 0h4M3 100h1m7 0h1m56 0h1m18 0h1m6 0h1m12 0h1m38 0h1m11 0h1m27 0h1m45 0h2m106 0h2m18 0h2M8 101h1m10 0h1m9 0h1m31 0h2m14 0h1m25 0h1m8 0h1m15 0h2m15 0h1m10 0h1m3 0h1m8 0h1m22 0h1m5 0h1m3 0h1m31 0h2m8 0h2m84 0h2M24 102h1m9 0h1m11 0h1m56 0h1m18 0h1m3 0h1m15 0h1m2 0h1m132 0h2m72 0h2m19 0h1M4 103h1m3 0h1m85 0h1m4 0h1m6 0h1m15 0h1m11 0h1m4 0h1m15 0h1m14 0h1m19 0h1m14 0h1m100 0h2m12 0h2m36 0h2m8 0h2M4 104h1m14 0h1m32 0h1m54 0h1m12 0h1m5 0h1m11 0h1m3 0h1m2 0h1m3 0h1m14 0h1m17 0h1m10 0h1m2 0h1m41 0h2m152 0h2M1 105h1m7 0h1m6 0h1m47 0h1m5 0h1m15 0h1m13 0h2m29 0h1m10 0h1m4 0h1m144 0h2m58 0h6m22 0h2M18 106h1m19 0h1m3 0h1m21 0h1m4 0h1m2 0h1m19 0h1m1 0h1m16 0h1m13 0h1m19 0h1m4 0h1m4 0h1m8 0h1m25 0h1m2 0h1m12 0h2m20 0h2m22 0h2m16 0h2m78 0h2m6 0h2m2 0h2m8 0h1M4 107h1m17 0h1m16 0h1m23 0h1m33 0h1m21 0h1m3 0h1m4 0h1m10 0h1m2 0h1m10 0h1m4 0h2m35 0h1m108 0h2M5 108h1m20 0h1m23 0h1m5 0h1m2 0h1m8 0h1m4 0h1m4 0h1m2 0h1m41 0h1m4 0h1m30 0h1m11 0h1m36 0h2m6 0h2m42 0h2m3 0h1m18 0h2m2 0h2M0 109h1m53 0h1m2 0h1m6 0h1m4 0h1m49 0h2m6 0h1m2 0h1m4 0h1m14 0h1m4 0h1m1 0h1m86 0h2m46 0h2m79 0h1m1 0h2M29 110h1m6 0h1m15 0h1m26 0h1m6 0h1m34 0h1m5 0h1m3 0h1m2 0h1m6 0h3m4 0h1m1 0h1m7 0h2m18 0h1m160 0h1m14 0h2m18 0h1M10 111h1m19 0h1m32 0h1m3 0h1m2 0h1m1 0h1m15 0h1m3 0h1m22 0h1m9 0h4m2 0h1m2 0h2m7 0h1m5 0h1m3 0h1m124 0h2m8 0h4m38 0h2m22 0h2m34 0h2M26 112h1m2 0h1m3 0h1m30 0h1m24 0h2m6 0h1m6 0h1m11 0h2m6 0h1m4 0h1m8 0h1m6 0h1m9 0h1m5 0h2m11 0h1m18 0h1m48 0h2m8 0h2m34 0h2m16 0h2m50 0h2m26 0h2M19 113h1m5 0h1m9 0h2m39 0h1m4 0h1m24 0h2m15 0h1m15 0h1m7 0h1m6 0h1m4 0h1m30 0h1m39 0h2m10 0h4m108 0h2M2 114h2m54 0h2m2 0h1m2 0h1m1 0h1m36 0h1m45 0h1m13 0h1m109 0h2m78 0h2m19 0h1m2 0h2M41 115h1m6 0h1m37 0h1m7 0h1m1 0h1m5 0h1m36 0h1m2 0h2m5 0h2m2 0h2m2 0h1m45 0h1m48 0h2m66 0h2m30 0h2M25 116h1m8 0h1m14 0h1m20 0h1m34 0h1m15 0h1m6 0h1m7 0h1m10 0h1m3 0h1m2 0h1m4 0h1m39 0h2m33 0h2m18 0h2m50 0h2m50 0h2m15 0h1M8 117h1m87 0h1m18 0h1m15 0h1m6 0h1m6 0h1m7 0h1m4 0h2m25 0h1m70 0h2m28 0h2m6 0h2m12 0h2m2 0h2m10 0h2m46 0h1m21 0h2M0 118h1m4 0h1m56 0h1m30 0h1m27 0h1m12 0h1m7 0h1m8 0h1m2 0h1m1 0h1m1 0h1m1 0h1m25 0h1m4 0h1m7 0h1m10 0h2m30 0h2m110 0h2M21 119h1m1 0h1m17 0h1m20 0h1m3 0h1m5 0h1m27 0h1m22 0h2m3 0h2m4 0h1m3 0h1m4 0h1m2 0h1m3 0h1m7 0h1m12 0h1m15 0h2m119 0h2m52 0h2m12 0h2M4 120h1m13 0h1m3 0h1m89 0h1m24 0h1m3 0h1m17 0h1m23 0h1m11 0h2m117 0h2m26 0h2m4 0h2m18 0h2m8 0h2M23 121h1m38 0h1m19 0h1m41 0h1m3 0h1m2 0h1m1 0h1m12 0h1m3 0h2m3 0h1m1 0h1m114 0h2m4 0h2m28 0h2m4 0h2m18 0h2m28 0h2m2 0h2M5 122h1m38 0h1m23 0h1m54 0h1m4 0h1m4 0h1m4 0h1m7 0h1m7 0h1m40 0h1m8 0h1m1 0h2m2 0h2m8 0h2m108 0h2m22 0h2M41 123h1m29 0h1m7 0h1m33 0h1m4 0h2m6 0h1m8 0h1m10 0h1m7 0h1m43 0h1m43 0h2m16 0h2m26 0h2m49 0h1M42 124h1m8 0h1m12 0h1m15 0h1m2 0h1m4 0h2m21 0h1m1 0h1m5 0h1m10 0h1m2 0h1m48 0h1m23 0h2m40 0h2m26 0h2m6 0h2m44 0h2M15 125h1m7 0h1m14 0h1m2 0h1m9 0h1m12 0h1m19 0h1m7 0h1m11 0h1m18 0h1m3 0h2m2 0h1m6 0h1m6 0h1m2 0h1m2 0h1m7 0h1m48 0h2m30 0h2m16 0h2m80 0h2M23 126h1m47 0h1m34 0h1m5 0h1m19 0h1m11 0h2m5 0h1m7 0h1m2 0h1m7 0h1m9 0h1m107 0h2m18 0h2m10 0h2m14 0h3m3 0h2M7 127h1m2 0h1m16 0h1m58 0h1m37 0h1m2 0h1m22 0h1m4 0h1m1 0h1m58 0h2m8 0h2m38 0h2m20 0h2m34 0h2m14 0h2m42 0h2M50 128h1m22 0h1m8 0h1m12 0h1m11 0h1m33 0h1m8 0h1m4 0h1m2 0h1m29 0h1m59 0h2m18 0h2m26 0h2m32 0h2m20 0h2m2 0h2m20 0h2m2 0h2M16 129h1m4 0h2m1 0h1m10 0h1m8 0h1m33 0h1m46 0h1m8 0h1m6 0h1m2 0h1m1 0h2m6 0h1m42 0h2m61 0h2m76 0h1m3 0h2m29 0h1m14 0h2M74 130h1m14 0h1m25 0h1m4 0h1m3 0h1m5 0h1m8 0h1m1 0h1m3 0h1m3 0h1m104 0h2m20 0h2m62 0h4m50 0h3M6 131h1m23 0h1m46 0h1m17 0h1m17 0h1m15 0h1m4 0h1m1 0h1m1 0h1m5 0h1m41 0h1m125 0h2m20 0h2m42 0h2m6 0h2M17 132h1m21 0h1m5 0h2m7 0h1m23 0h1m41 0h2m12 0h1m2 0h1m12 0h2m5 0h1m1 0h1m12 0h1m3 0h1m59 0h2m42 0h2m32 0h2m16 0h2m58 0h2M31 133h1m3 0h1m13 0h1m89 0h1m1 0h1m14 0h1m28 0h1m32 0h2m30 0h2m8 0h2m36 0h2m52 0h1m19 0h1M14 134h1m57 0h1m9 0h1m37 0h1m1 0h1m13 0h1m5 0h1m6 0h1m36 0h1m10 0h1m26 0h2m84 0h2m22 0h2m40 0h2M35 135h1m5 0h1m20 0h1m8 0h1m11 0h1m34 0h1m7 0h1m17 0h1m3 0h1m4 0h1m19 0h1m16 0h1m19 0h2m28 0h2m56 0h2m10 0h2m4 0h2m6 0h2m32 0h2m6 0h2m4 0h1m13 0h2M27 136h1m4 0h1m24 0h1m29 0h1m30 0h1m7 0h1m4 0h1m1 0h1m3 0h1m68 0h2m12 0h2m14 0h2m74 0h2M21 137h1m2 0h1m2 0h1m21 0h1m28 0h1m49 0h2m4 0h1m3 0h1m11 0h1m3 0h1m139 0h2m12 0h2m24 0h2m28 0h2m4 0h2m10 0h2M19 138h1m38 0h1m31 0h1m42 0h1m1 0h1m4 0h1m13 0h2m31 0h1m4 0h1m75 0h2m24 0h2m96 0h4M5 139h1m5 0h1m5 0h1m89 0h1m17 0h1m8 0h1m12 0h1m11 0h1m40 0h1m11 0h2m62 0h2m88 0h2M9 140h1m28 0h1m16 0h1m1 0h1m9 0h1m20 0h1m14 0h1m21 0h3m9 0h1m17 0h1m30 0h1m8 0h1m7 0h1m14 0h2m92 0h2M13 141h1m5 0h1m2 0h1m79 0h1m25 0h1m6 0h1m1 0h1m9 0h1m6 0h2m27 0h1m34 0h2m18 0h2m26 0h2m64 0h2m42 0h2M5 142h1m28 0h2m14 0h1m9 0h1m3 0h1m13 0h1m7 0h1m42 0h1m9 0h1m1 0h1m4 0h1m8 0h1m1 0h1m30 0h1m177 0h2m4 0h1m17 0h2M4 143h1m9 0h1m88 0h1m17 0h1m2 0h2m12 0h1m15 0h1m1 0h1m2 0h1m35 0h1m1 0h1m12 0h2m53 0h1m36 0h2m50 0h2M48 144h1m4 0h1m32 0h2m41 0h1m8 0h1m5 0h1m8 0h2m4 0h1m92 0h2m32 0h2m4 0h2m26 0h2m12 0h1m15 0h2m2 0h2m19 0h1M3 145h1m16 0h1m11 0h1m2 0h1m9 0h1m9 0h1m1 0h1m17 0h1m47 0h1m5 0h1m5 0h1m22 0h1m4 0h1m116 0h2m20 0h2m2 0h2m44 0h2m4 0h2M26 146h1m37 0h1m24 0h1m28 0h1m6 0h1m4 0h1m3 0h1m3 0h1m4 0h1m5 0h1m8 0h2m25 0h1m20 0h2m18 0h2m20 0h2m78 0h2m30 0h2M45 147h1m23 0h1m16 0h1m12 0h1m12 0h1m18 0h1m10 0h1m12 0h1m25 0h1m12 0h1m53 0h2M23 148h1m2 0h1m53 0h1m20 0h1m21 0h1m4 0h1m6 0h1m2 0h1m17 0h1m7 0h1m31 0h1m7 0h2m2 0h2m34 0h2m52 0h2m36 0h2m16 0h2m32 0h2M21 149h1m1 0h1m17 0h1m26 0h1m62 0h1m1 0h1m33 0h1m29 0h1m34 0h2m8 0h2m48 0h2m90 0h2M25 150h1m3 0h1m27 0h1m15 0h1m9 0h1m10 0h1m14 0h1m11 0h2m6 0h1m1 0h1m5 0h1m9 0h1m2 0h1m3 0h1m45 0h1m41 0h2m12 0h2m10 0h2m38 0h2m2 0h2m28 0h2M3 151h1m95 0h1m20 0h1m2 0h2m9 0h1m15 0h1m21 0h1m26 0h1m10 0h2m68 0h2m57 0h1m4 0h2M5 152h1m35 0h1m38 0h1m27 0h1m8 0h1m3 0h1m4 0h1m1 0h1m1 0h1m4 0h1m7 0h1m2 0h1m8 0h1m8 0h1m21 0h1m17 0h1m37 0h2m38 0h2m56 0h2m30 0h1M102 153h1m11 0h1m10 0h1m12 0h1m2 0h1m9 0h1m56 0h2m34 0h2m8 0h2m12 0h2m28 0h4m46 0h2m36 0h2M31 154h1m22 0h1m35 0h2m5 0h1m20 0h1m4 0h1m14 0h2m18 0h1m67 0h2m62 0h2m24 0h2m22 0h2m52 0h2M30 155h1m31 0h1m3 0h1m52 0h1m1 0h1m11 0h1m4 0h1m1 0h1m2 0h1m13 0h1m33 0h1m20 0h2m66 0h2m82 0h2m7 0h1M4 156h1m7 0h1m22 0h1m10 0h1m74 0h1m21 0h1m12 0h2m24 0h1m17 0h1m37 0h2m14 0h2m18 0h2m22 0h2m44 0h2m6 0h2M11 157h1m25 0h1m26 0h1m59 0h1m2 0h1m8 0h1m6 0h1m59 0h1m6 0h2m36 0h2m2 0h2m6 0h2m28 0h2m66 0h2m16 0h2m12 0h2m2 0h2M30 158h2m9 0h1m25 0h1m24 0h1m3 0h1m21 0h1m1 0h1m1 0h1m7 0h1m10 0h3m7 0h1m7 0h1m20 0h1m9 0h1m81 0h2m28 0h2m6 0h2m6 0h2m36 0h2M4 159h1m19 0h1m26 0h1m68 0h1m13 0h1m18 0h1m36 0h1m11 0h1m37 0h2m68 0h2m8 0h2m20 0h2m20 0h2M41 160h1m4 0h1m2 0h1m68 0h1m9 0h1m21 0h1m3 0h2m27 0h1m13 0h1m172 0h2M15 161h1m11 0h1m2 0h1m2 0h1m14 0h1m10 0h2m18 0h1m23 0h1m19 0h1m10 0h1m5 0h1m1 0h1m6 0h1m34 0h1m33 0h2m46 0h6m4 0h2m6 0h2m4 0h2m10 0h2m68 0h1M26 162h1m55 0h1m5 0h1m2 0h1m55 0h1m21 0h1m33 0h1m42 0h2m50 0h2m40 0h2M83 163h1m2 0h1m6 0h1m7 0h1m2 0h1m11 0h1m25 0h1m8 0h1m64 0h2m30 0h2M26 164h1m27 0h1m4 0h1m20 0h1m17 0h2m2 0h1m25 0h1m5 0h2m7 0h1m76 0h2m6 0h2m10 0h2m26 0h2m18 0h2m32 0h2m32 0h2m15 0h1M1 165h1m9 0h1m92 0h1m4 0h1m2 0h1m17 0h2m2 0h1m7 0h1m11 0h1m41 0h2m12 0h2m88 0h2m24 0h2m58 0h4M22 166h1m10 0h1m32 0h1m12 0h1m17 0h1m6 0h1m10 0h1m6 0h1m10 0h1m9 0h1m7 0h1m2 0h1m2 0h1m2 0h1m18 0h1m18 0h1m35 0h2m6 0h2m24 0h2m2 0h2m94 0h2m14 0h2m2 0h4M124 167h1m8 0h1m9 0h1m2 0h1m6 0h1m36 0h1m14 0h1m40 0h2m86 0h2m36 0h1M16 168h1m10 0h1m5 0h1m76 0h1m15 0h1m1 0h1m6 0h1m6 0h1m7 0h1m3 0h1m39 0h1m7 0h2m20 0h1m91 0h2M15 169h1m2 0h1m37 0h1m4 0h1m10 0h1m10 0h1m8 0h1m14 0h1m29 0h1m4 0h1m1 0h1m1 0h1m41 0h1m61 0h2m74 0h2M30 170h1m32 0h1m19 0h1m32 0h1m5 0h1m8 0h1m5 0h1m8 0h2m92 0h2m2 0h2m148 0h2M10 171h1m31 0h1m18 0h1m44 0h1m1 0h1m7 0h1m2 0h1m21 0h1m1 0h1m5 0h2m16 0h1m52 0h2m8 0h2m20 0h2m72 0h2m20 0h2m6 0h2M23 172h1m14 0h1m40 0h1m5 0h1m9 0h1m5 0h1m26 0h1m4 0h1m3 0h1m19 0h2m83 0h2m22 0h2m4 0h2m10 0h2M11 173h1m8 0h1m10 0h1m1 0h1m12 0h1m5 0h1m29 0h1m16 0h2m4 0h1m19 0h1m2 0h1m4 0h1m7 0h1m30 0h1m21 0h1m93 0h2m12 0h2m82 0h2M16 174h1m3 0h1m17 0h1m48 0h1m7 0h1m3 0h1m24 0h1m4 0h1m1 0h1m18 0h1m3 0h1m3 0h1m20 0h1m3 0h1m13 0h2m21 0h2m84 0h2m68 0h2M129 175h1m4 0h1m2 0h2m12 0h1m1 0h1m4 0h1m8 0h1m32 0h2m3 0h1m14 0h2m36 0h2m56 0h2M29 176h1m14 0h1m77 0h1m1 0h1m3 0h1m1 0h1m10 0h1m1 0h1m6 0h1m19 0h1m39 0h2m14 0h2m74 0h2m58 0h2m4 0h2m5 0h1M17 177h1m5 0h1m46 0h1m3 0h1m35 0h1m8 0h1m4 0h1m4 0h2m9 0h1m13 0h1m3 0h1m20 0h1m21 0h2m5 0h2M27 178h1m67 0h1m26 0h1m6 0h1m4 0h1m11 0h1m2 0h1m1 0h1m3 0h2m5 0h1m27 0h1m71 0h2m28 0h2m58 0h2m30 0h2M5 179h1m52 0h1m8 0h1m10 0h1m16 0h1m17 0h1m12 0h1m3 0h1m8 0h1m7 0h1m7 0h1m41 0h1m5 0h1m88 0h2m40 0h2m3 0h1m10 0h4M15 180h1m33 0h1m9 0h1m2 0h1m52 0h1m11 0h1m1 0h1m12 0h1m5 0h1m1 0h2m8 0h1m25 0h1m151 0h1m27 0h2M15 181h1m38 0h1m18 0h1m8 0h1m17 0h1m4 0h1m5 0h1m12 0h1m12 0h1m10 0h2m26 0h1m14 0h1m10 0h1m19 0h4m96 0h2m16 0h2m28 0h2M17 182h1m40 0h1m11 0h1m42 0h1m47 0h1m124 0h2m2 0h2m32 0h2m13 0h1m8 0h2m2 0h2m4 0h2M1 183h1m21 0h1m6 0h1m39 0h1m11 0h1m3 0h1m62 0h2m2 0h1m33 0h1m88 0h2m4 0h2m26 0h2m63 0h1M18 184h1m101 0h2m1 0h1m3 0h2m4 0h2m11 0h1m11 0h1m11 0h1m15 0h1m9 0h1m13 0h2m56 0h2m84 0h2m32 0h2M3 185h1m6 0h1m65 0h1m47 0h1m3 0h1m9 0h1m11 0h1m1 0h1m1 0h1m40 0h1m34 0h2m4 0h2m6 0h2m10 0h2m26 0h2m18 0h2m8 0h2m10 0h2m47 0h1M102 186h1m11 0h1m24 0h1m18 0h1m13 0h1m4 0h1m25 0h1m2 0h2m100 0h2M18 187h1m7 0h1m6 0h1m11 0h1m33 0h1m1 0h1m36 0h1m11 0h1m23 0h1m42 0h1m58 0h2m16 0h2m10 0h2m14 0h2m30 0h2m32 0h2M4 188h1m21 0h1m16 0h1m84 0h1m10 0h1m1 0h1m8 0h2m4 0h2m15 0h1m8 0h1m99 0h2m14 0h2m66 0h2M11 189h1m35 0h1m29 0h1m17 0h1m30 0h1m27 0h1m33 0h1m133 0h2m6 0h2M15 190h1m30 0h1m35 0h1m3 0h1m9 0h1m16 0h1m14 0h1m5 0h1m2 0h2m6 0h1m5 0h1m2 0h1m4 0h1m40 0h1m2 0h1m130 0h2m18 0h2m38 0h2M8 191h1m3 0h1m3 0h1m5 0h1m6 0h1m29 0h1m1 0h1m1 0h1m36 0h1m22 0h1m1 0h1m2 0h1m1 0h1m7 0h2m2 0h1m3 0h2m3 0h1m84 0h2m38 0h2m70 0h2m14 0h2M19 192h1m8 0h1m23 0h1m65 0h1m5 0h1m4 0h3m8 0h1m10 0h1m16 0h1m83 0h2m26 0h2m30 0h2m30 0h2m8 0h2m38 0h2M11 193h1m67 0h1m6 0h1m19 0h1m16 0h1m6 0h1m3 0h1m3 0h1m14 0h1m1 0h1m28 0h1m47 0h2m106 0h2m6 0h2M3 194h1m4 0h1m1 0h1m4 0h1m29 0h1m25 0h1m46 0h1m3 0h1m2 0h1m4 0h1m2 0h2m6 0h2m39 0h1m8 0h1m12 0h2m169 0h1M5 195h2m43 0h1m8 0h1m20 0h1m35 0h1m7 0h1m21 0h2m24 0h1m75 0h2M6 196h1m1 0h1m80 0h1m27 0h1m1 0h1m4 0h1m5 0h1m2 0h2m12 0h1m8 0h2m30 0h1m8 0h1m6 0h1m79 0h2m22 0h2m28 0h1m49 0h2M36 197h1m15 0h1m13 0h1m18 0h1m24 0h1m6 0h1m15 0h1m9 0h1m4 0h1m39 0h1m10 0h1m44 0h2m38 0h2M26 198h1m74 0h1m4 0h1m16 0h1m1 0h1m2 0h2m3 0h1m4 0h2m14 0h1m4 0h1m3 0h1m27 0h1m44 0h2m26 0h1m11 0h2m6 0h2m34 0h2m6 0h2M10 199h1m36 0h1m15 0h1m45 0h1m6 0h1m25 0h1m6 0h1m3 0h1m4 0h1m2 0h1m20 0h1m35 0h2m8 0h2m28 0h2m12 0h2m14 0h2m18 0h2m58 0h2M127 200h1m6 0h1m6 0h1m13 0h1m3 0h1m25 0h1m9 0h1m88 0h2m82 0h2m7 0h1M5 201h2m27 0h1m2 0h1m14 0h1m68 0h1m3 0h1m3 0h2m6 0h1m4 0h1m4 0h1m1 0h1m20 0h1m23 0h1m5 0h1m31 0h2m50 0h2m32 0h2m8 0h8m22 0h2M16 202h1m18 0h1m15 0h1m55 0h1m11 0h1m1 0h1m5 0h3m12 0h1m25 0h1m19 0h1m26 0h1m18 0h2m29 0h1M56 203h1m62 0h1m10 0h1m11 0h1m13 0h1m33 0h1m75 0h4m26 0h2m68 0h2M1 204h1m83 0h1m39 0h1m11 0h1m2 0h1m1 0h1m2 0h1m5 0h1m1 0h1m3 0h1m2 0h1m1 0h1m24 0h1m12 0h1m61 0h2m75 0h1m16 0h2M5 205h1m17 0h1m1 0h1m5 0h1m2 0h1m5 0h1m45 0h1m8 0h1m23 0h1m6 0h1m3 0h1m6 0h1m9 0h1m68 0h2m100 0h2m10 0h2m16 0h2m2 0h2m21 0h1M25 206h1m2 0h2m26 0h1m5 0h1m49 0h1m25 0h1m7 0h1m11 0h1m14 0h1m48 0h2m42 0h2m16 0h2m68 0h2M13 207h1m5 0h1m5 0h1m3 0h1m1 0h1m5 0h1m31 0h1m26 0h1m13 0h1m16 0h1m1 0h1m9 0h1m27 0h1m33 0h1m12 0h2m8 0h2m42 0h2m62 0h2m44 0h2m16 0h1M6 208h1m4 0h1m74 0h1m2 0h1m35 0h1m2 0h1m9 0h1m4 0h1m2 0h1m2 0h1m1 0h1m3 0h1m1 0h1m54 0h2m28 0h2m46 0h2m62 0h2m6 0h2m8 0h1m5 0h2m10 0h2M18 209h1m21 0h1m1 0h1m47 0h1m11 0h1m4 0h1m16 0h1m2 0h2m1 0h1m7 0h1m6 0h1m1 0h1m2 0h2m6 0h1m27 0h1m53 0h2m52 0h2m54 0h2m22 0h1M2 210h1m24 0h1m28 0h1m34 0h1m3 0h1m8 0h1m7 0h1m7 0h1m3 0h2m15 0h1m3 0h1m8 0h1m2 0h2m49 0h2m14 0h2m22 0h2m96 0h2M5 211h1m15 0h2m21 0h1m19 0h1m19 0h1m42 0h1m1 0h1m4 0h1m10 0h1m68 0h2m26 0h2m40 0h2M88 212h1m27 0h1m6 0h1m11 0h1m5 0h1m7 0h1m1 0h1m32 0h1m9 0h1m33 0h2m14 0h2m66 0h2m30 0h2m48 0h2M15 213h1m3 0h1m27 0h1m10 0h1m24 0h1m15 0h1m24 0h1m1 0h1m11 0h1m5 0h1m6 0h1m1 0h1m32 0h1m8 0h1m1 0h1m64 0h2M1 214h1m6 0h1m41 0h1m25 0h1m26 0h1m17 0h1m8 0h1m2 0h1m1 0h1m1 0h1m3 0h1m4 0h1m5 0h1m2 0h1m2 0h1m11 0h1m13 0h1m15 0h1m43 0h2m36 0h2m6 0h4m26 0h2M3 215h1m44 0h1m13 0h1m2 0h1m27 0h1m23 0h1m6 0h1m8 0h1m5 0h2m10 0h1m23 0h1m17 0h1m5 0h1m24 0h2m4 0h2m48 0h2m16 0h2m54 0h2m30 0h2M24 216h1m7 0h1m94 0h1m2 0h2m2 0h2m6 0h1m11 0h2m12 0h1m23 0h1m12 0h1m52 0h2m5 0h1m44 0h2m12 0h2m2 0h2m26 0h2m6 0h2M42 217h1m25 0h1m3 0h1m16 0h1m19 0h1m11 0h1m9 0h1m5 0h1m5 0h1m2 0h1m7 0h1m2 0h1m32 0h1M28 218h2m25 0h1m22 0h1m18 0h1m22 0h1m5 0h2m5 0h1m5 0h1m1 0h1m63 0h3m20 0h2m8 0h2m36 0h2m32 0h2m4 0h3m17 0h2m42 0h2m8 0h2M3 219h1m43 0h1m13 0h1m2 0h1m17 0h1m24 0h1m10 0h1m16 0h1m1 0h1m8 0h1m7 0h1m29 0h1m3 0h1m33 0h2m4 0h2m124 0h2M1 220h1m17 0h1m3 0h1m12 0h1m25 0h1m6 0h1m43 0h1m4 0h1m4 0h2m9 0h1m11 0h1m3 0h1m8 0h1m1 0h1m27 0h1m92 0h2m48 0h2m20 0h2m30 0h2M17 221h1m7 0h1m7 0h1m2 0h1m9 0h1m16 0h1m4 0h1m5 0h1m14 0h1m41 0h1m11 0h1m3 0h1m1 0h1m14 0h1m41 0h2m96 0h2m33 0h1M0 222h2m12 0h1m38 0h1m32 0h1m34 0h1m7 0h1m8 0h1m3 0h1m3 0h1m5 0h1m32 0h1m30 0h2m106 0h2m50 0h2M8 223h1m1 0h1m20 0h1m14 0h1m8 0h1m43 0h1m6 0h1m7 0h1m12 0h1m15 0h1m7 0h1m1 0h1m2 0h1m1 0h1m28 0h1m1 0h1m6 0h1m15 0h2m12 0h2m4 0h2m56 0h2m4 0h2M45 224h1m19 0h1m68 0h1m3 0h1m11 0h3m5 0h2m24 0h1m4 0h1m6 0h1m17 0h2m14 0h2m12 0h2m46 0h2m72 0h6M60 225h1m24 0h1m49 0h1m10 0h1m5 0h1m18 0h1m106 0h2m4 0h2m30 0h2m57 0h1m14 0h2M91 226h1m27 0h1m7 0h1m2 0h1m2 0h1m7 0h1m28 0h1m63 0h2m20 0h2m2 0h2m46 0h2m42 0h2m2 0h2M11 227h1m22 0h1m3 0h1m87 0h1m5 0h1m1 0h1m10 0h1m1 0h1m5 0h1m3 0h1m1 0h1m30 0h1m8 0h1m56 0h2m54 0h2m48 0h2M60 228h1m29 0h1m14 0h1m14 0h1m6 0h1m2 0h1m2 0h1m8 0h1m16 0h3m37 0h1m108 0h2m40 0h2m20 0h1M51 229h2m15 0h1m37 0h1m11 0h1m5 0h1m8 0h1m3 0h2m3 0h1m5 0h1m1 0h1m7 0h1m26 0h1m15 0h1m2 0h2m56 0h2m6 0h4m62 0h2m12 0h2m10 0h2m12 0h4M8 230h1m72 0h1m20 0h1m8 0h1m13 0h3m2 0h1m27 0h1m10 0h1m38 0h2m6 0h2m88 0h2m2 0h2m56 0h2M23 231h1m62 0h1m41 0h1m10 0h2m6 0h1m2 0h1m63 0h2m16 0h2m26 0h2m80 0h2m12 0h2m22 0h2m12 0h2M22 232h1m108 0h1m3 0h1m10 0h1m4 0h1m5 0h2m15 0h1m57 0h2m78 0h2m78 0h4M2 233h1m37 0h1m20 0h1m45 0h1m13 0h1m1 0h1m6 0h1m2 0h1m11 0h1m14 0h1m93 0h2m8 0h1m13 0h2m18 0h2m48 0h2m4 0h2m10 0h2m20 0h2M3 234h1m6 0h1m2 0h1m79 0h1m6 0h1m16 0h1m13 0h1m7 0h1m5 0h1m1 0h1m5 0h1m4 0h1m23 0h1m7 0h1m8 0h1m12 0h2m24 0h2m46 0h2m26 0h2m78 0h2M46 235h1m20 0h1m10 0h1m6 0h1m24 0h1m6 0h1m4 0h1m8 0h1m1 0h2m7 0h1m40 0h1m3 0h1m52 0h2m100 0h2m8 0h2m40 0h2M9 236h1m9 0h1m9 0h1m7 0h1m12 0h1m33 0h1m52 0h1m3 0h1m13 0h1m2 0h1m15 0h1m9 0h1m61 0h2m2 0h2m16 0h2m96 0h2m2 0h2M37 237h1m6 0h1m75 0h1m10 0h1m10 0h1m2 0h1m4 0h1m3 0h1m5 0h1m4 0h1m16 0h1m5 0h1m2 0h1m36 0h1m105 0h2m8 0h2m12 0h2m6 0h2M42 238h1m57 0h1m17 0h1m9 0h2m6 0h1m9 0h1m6 0h1m39 0h1m10 0h1m25 0h2m90 0h2M0 239h1m17 0h1m11 0h1m9 0h1m6 0h1m43 0h1m33 0h1m27 0h2m3 0h1m12 0h1m30 0h1m2 0h1m44 0h2m8 0h2m16 0h2m86 0h4M0 240h1m15 0h1m2 0h1m3 0h1m11 0h1m43 0h2m26 0h1m9 0h1m16 0h1m14 0h1m10 0h1m71 0h2m68 0h2m14 0h2m22 0h2m12 0h2m32 0h2M20 241h1m12 0h1m12 0h1m15 0h1m8 0h1m17 0h1m16 0h1m22 0h1m3 0h1m1 0h1m11 0h1m4 0h1m4 0h1m10 0h2m4 0h1m11 0h1m2 0h1m7 0h1m8 0h4m14 0h2m2 0h2m44 0h4m2 0h2m68 0h1m3 0h2m14 0h2M75 242h1m18 0h1m23 0h1m5 0h1m9 0h1m12 0h1m5 0h1m14 0h1m47 0h2m30 0h4m54 0h2m14 0h2m4 0h2m28 0h2m34 0h2M13 243h1m9 0h1m28 0h1m12 0h1m22 0h1m9 0h1m3 0h1m8 0h1m11 0h1m1 0h1m7 0h1m8 0h2m9 0h1m1 0h1m4 0h1m111 0h2m64 0h1m1 0h2m4 0h2m2 0h3m3 0h2m18 0h2M10 244h1m76 0h1m14 0h2m1 0h1m18 0h1m5 0h1m6 0h1m5 0h1m5 0h1m9 0h1m8 0h3m12 0h1m2 0h1m23 0h2m38 0h2m22 0h2m10 0h4m34 0h2m42 0h2m24 0h2M9 245h1m11 0h1m1 0h1m31 0h1m9 0h1m20 0h1m52 0h1m2 0h1m2 0h2m8 0h1m1 0h2m26 0h2m11 0h1m37 0h2m27 0h1m52 0h2m38 0h2M3 246h1m3 0h1m15 0h1m51 0h1m6 0h1m37 0h1m13 0h1m6 0h1m13 0h1m1 0h2m19 0h1m51 0h2m42 0h2m64 0h2m42 0h2m10 0h1M87 247h1m17 0h1m20 0h1m11 0h1m3 0h1m1 0h1m8 0h1m1 0h1m2 0h1m93 0h2m2 0h2m7 0h1m72 0h2m14 0h2M37 248h1m6 0h1m46 0h1m32 0h1m5 0h1m12 0h1m2 0h1m1 0h1m2 0h1m36 0h1m91 0h2m38 0h2m40 0h6m4 0h1m15 0h2M10 249h1m6 0h1m7 0h1m38 0h1m1 0h1m50 0h1m5 0h1m27 0h1m5 0h1m1 0h1m33 0h1m18 0h2m74 0h2m24 0h2m16 0h2m22 0h2M14 250h1m2 0h1m8 0h1m16 0h1m3 0h1m8 0h1m5 0h1m60 0h1m2 0h1m20 0h1m5 0h1m30 0h2m34 0h2m78 0h2m10 0h2m8 0h2M58 251h1m4 0h1m53 0h1m5 0h1m10 0h1m10 0h1m3 0h1m40 0h1m2 0h1m1 0h1m80 0h2m36 0h2m52 0h2M8 252h1m12 0h1m8 0h1m88 0h1m1 0h1m2 0h1m13 0h1m2 0h1m33 0h1m116 0h2m22 0h1m5 0h2m58 0h2m2 0h2M2 253h1m24 0h1m70 0h1m31 0h2m10 0h1m4 0h1m3 0h1m3 0h1m36 0h1m7 0h1m13 0h2m2 0h4m40 0h2m4 0h2m36 0h2m28 0h2m20 0h2M12 254h1m1 0h1m6 0h1m15 0h1m25 0h1m26 0h1m13 0h1m1 0h1m10 0h1m4 0h1m7 0h1m8 0h1m10 0h1m6 0h1m8 0h1m35 0h1m23 0h2m34 0h2m26 0h2m12 0h2m36 0h2m2 0h2m4 0h2m32 0h2m2 0h2M17 255h1m22 0h1m65 0h1m12 0h2m12 0h1m3 0h1m12 0h1m2 0h2m2 0h1m27 0h1m72 0h2m60 0h2m62 0h4m8 0h1M5 256h1m5 0h1m19 0h2m5 0h1m13 0h1m39 0h1m10 0h1m22 0h2m22 0h2m5 0h1m1 0h1m46 0h2m16 0h2m6 0h2m74 0h2m4 0h2m54 0h2m3 0h1m8 0h2M103 257h1m25 0h2m1 0h2m3 0h1m2 0h1m11 0h1m1 0h1m11 0h1m22 0h1m9 0h1m30 0h2m2 0h2m90 0h2m36 0h2m10 0h2M9 258h1m6 0h1m50 0h1m30 0h1m26 0h1m20 0h1m3 0h1m4 0h1m1 0h1m33 0h1m68 0h2m4 0h2m72 0h2m10 0h2m18 0h1m3 0h2m10 0h2M7 259h1m35 0h1m18 0h1m17 0h1m26 0h1m11 0h1m1 0h1m5 0h1m2 0h1m11 0h1m3 0h2m19 0h1m35 0h1m46 0h2m8 0h2m62 0h4m2 0h2m44 0h2M51 260h1m22 0h1m30 0h1m5 0h1m18 0h1m6 0h2m7 0h1m45 0h1m119 0h2m40 0h2M11 261h1m10 0h2m6 0h1m23 0h1m17 0h1m3 0h1m39 0h1m7 0h1m6 0h1m8 0h1m4 0h1m8 0h1m4 0h1m23 0h1m3 0h1m22 0h2m28 0h2m8 0h2m14 0h2m44 0h2m34 0h2m12 0h2m8 0h1m2 0h1M7 262h1m20 0h1m55 0h1m34 0h1m8 0h1m56 0h1m9 0h1m3 0h1m50 0h2m2 0h2M107 263h1m12 0h1m1 0h1m1 0h2m20 0h2m4 0h1m20 0h1m42 0h2m70 0h2m2 0h2m24 0h2m46 0h4m22 0h2M1 264h1m6 0h1m46 0h1m5 0h1m10 0h1m5 0h1m9 0h1m13 0h1m4 0h1m25 0h1m1 0h1m3 0h1m2 0h1m3 0h1m2 0h1m7 0h1m34 0h1m21 0h2m52 0h2m12 0h2m4 0h2m18 0h2m2 0h2m18 0h2m5 0h1m32 0h1m17 0h2M3 265h1m22 0h1m4 0h1m27 0h1m4 0h1m11 0h1m13 0h1m10 0h1m31 0h1m5 0h1m3 0h1m4 0h1m1 0h1m6 0h1m37 0h1m1 0h1m6 0h1m93 0h2m56 0h2m26 0h4M13 266h1m7 0h1m69 0h1m31 0h2m12 0h1m8 0h1m1 0h1m10 0h1m8 0h1m23 0h1m5 0h1m15 0h2m2 0h2m18 0h2m94 0h2m3 0h1m2 0h2m8 0h2m40 0h2M7 267h1m17 0h1m9 0h1m77 0h1m3 0h1m2 0h1m4 0h1m16 0h1m10 0h1m104 0h2m8 0h2m24 0h2m38 0h2m28 0h2m20 0h2M36 268h1m39 0h1m49 0h1m7 0h1m13 0h1m3 0h1m5 0h1m36 0h1m2 0h1m5 0h1m91 0h2m34 0h2m21 0h1m40 0h1M23 269h1m63 0h1m11 0h1m32 0h1m1 0h1m3 0h1m41 0h1m37 0h2m84 0h2m14 0h2m50 0h1M24 270h1m29 0h1m11 0h1m30 0h1m5 0h1m20 0h1m3 0h1m9 0h2m2 0h1m4 0h1m4 0h2m1 0h1m2 0h1m41 0h1m9 0h2m32 0h2m38 0h2m8 0h2m86 0h2m12 0h1M4 271h2m4 0h1m87 0h1m2 0h1m21 0h2m16 0h1m4 0h1m3 0h1m42 0h1m58 0h2m120 0h1M43 272h1m1 0h1m27 0h1m28 0h2m21 0h1m15 0h1m8 0h2m18 0h1m13 0h1m2 0h1m10 0h1m37 0h2m2 0h2m56 0h2M1 273h1m16 0h1m102 0h2m5 0h1m6 0h1m3 0h1m4 0h1m56 0h1m84 0h2m38 0h2m2 0h2m38 0h2M20 274h1m5 0h1m1 0h1m2 0h1m8 0h1m5 0h1m4 0h1m24 0h1m53 0h1m8 0h1m5 0h1m46 0h1m8 0h1m16 0h2m28 0h2m6 0h2m8 0h2m12 0h2m28 0h2m58 0h2M7 275h1m11 0h1m3 0h1m5 0h1m50 0h1m4 0h1m43 0h1m9 0h1m1 0h2m20 0h1m15 0h1m23 0h1m1 0h1m54 0h2m92 0h2m17 0h1m8 0h2M56 276h1m37 0h1m22 0h1m5 0h1m2 0h1m2 0h1m4 0h1m47 0h1m47 0h2m60 0h2m34 0h2m30 0h2M10 277h1m33 0h1m4 0h1m7 0h1m12 0h1m16 0h1m4 0h1m34 0h1m2 0h1m52 0h1m38 0h4m20 0h2m18 0h2m32 0h2m22 0h2m14 0h2m12 0h2m32 0h2m2 0h2M61 278h1m21 0h1m17 0h1m16 0h1m61 0h1m9 0h1m7 0h1m131 0h2M1 279h1m14 0h1m23 0h1m39 0h1m34 0h1m12 0h1m26 0h1m36 0h1m59 0h2m38 0h2m24 0h2m48 0h2M23 280h1m1 0h1m33 0h1m17 0h1m11 0h1m2 0h1m7 0h1m58 0h1m4 0h1m4 0h1m70 0h2M3 281h1m1 0h1m5 0h1m2 0h1m15 0h1m23 0h1m4 0h1m21 0h2m36 0h1m3 0h1m25 0h1m7 0h1m50 0h2m8 0h2m14 0h2m14 0h4m54 0h2m72 0h2M0 282h1m117 0h1m23 0h1m7 0h1m1 0h1m4 0h1m9 0h1m216 0h2M21 283h1m17 0h1m17 0h1m3 0h1m3 0h1m12 0h1m2 0h2m4 0h1m1 0h1m14 0h1m11 0h1m30 0h1m1 0h2m7 0h2m26 0h1m51 0h2m62 0h2m16 0h2m52 0h2M40 284h1m2 0h1m23 0h1m34 0h1m32 0h1m5 0h1m13 0h1m2 0h1m13 0h1m8 0h1m6 0h1m61 0h2m84 0h2m1 0h1m14 0h2m30 0h2M32 285h1m6 0h1m34 0h1m16 0h1m2 0h1m30 0h1m4 0h1m19 0h1m52 0h1m6 0h2m14 0h2m6 0h2m6 0h2m2 0h2m20 0h2m56 0h2m8 0h2m30 0h2m8 0h2M1 286h1m1 0h1m3 0h1m2 0h1m13 0h1m13 0h1m2 0h1m44 0h1m28 0h1m15 0h1m9 0h1m7 0h1m4 0h2m2 0h1m29 0h1m31 0h2m34 0h2m62 0h2M0 287h1m14 0h1m3 0h1m10 0h1m27 0h1m7 0h1m11 0h1m10 0h1m30 0h1m6 0h2m8 0h1m5 0h1m6 0h1m3 0h1m34 0h1m1 0h1m60 0h2m14 0h2m2 0h2m54 0h4m20 0h2m32 0h2M63 288h1m2 0h1m53 0h1m7 0h1m2 0h1m2 0h2m1 0h2m12 0h1m30 0h1m22 0h1m12 0h2m34 0h2m40 0h2m58 0h2m16 0h1m7 0h2M28 289h1m11 0h1m10 0h1m22 0h1m21 0h1m36 0h1m5 0h1m6 0h2m1 0h1m4 0h1m209 0h2M25 290h1m24 0h1m11 0h1m17 0h2m3 0h1m19 0h1m11 0h1m16 0h1m3 0h1m7 0h1m7 0h1m4 0h1m28 0h1m5 0h1m11 0h2m56 0h1m45 0h2m27 0h1m16 0h2M34 291h1m52 0h1m12 0h1m36 0h2m4 0h1m8 0h1m1 0h3m1 0h1m49 0h2m32 0h2m10 0h2m38 0h2m12 0h2m24 0h2m2 0h1m3 0h2m48 0h2M9 292h1m3 0h1m8 0h1m39 0h1m3 0h1m11 0h1m9 0h2m11 0h1m25 0h1m6 0h2m10 0h1m2 0h1m1 0h1m4 0h1m2 0h1m34 0h1m63 0h2m26 0h2m26 0h2m6 0h2m18 0h2m8 0h2M2 293h1m49 0h1m5 0h1m58 0h1m11 0h1m1 0h1m15 0h1m3 0h1m38 0h1m2 0h1m6 0h1m9 0h2m32 0h2m20 0h2m44 0h2m8 0h2m54 0h2m14 0h2M17 294h1m12 0h1m59 0h1m29 0h1m10 0h1m6 0h1m50 0h1m30 0h2m40 0h3m73 0h1m49 0h2M18 295h2m27 0h1m39 0h2m8 0h1m16 0h1m26 0h1m15 0h1m36 0h1m79 0h2m16 0h2m14 0h2m14 0h2m14 0h2m42 0h2M53 296h1m49 0h1m17 0h2m8 0h1m2 0h1m10 0h2m12 0h1m21 0h1m1 0h1m13 0h1m3 0h1m32 0h2m98 0h2M8 297h1m13 0h1m17 0h1m13 0h2m13 0h1m26 0h1m15 0h1m17 0h1m6 0h1m3 0h1m14 0h1m38 0h1m1 0h1m8 0h2m20 0h2m12 0h1m3 0h2m6 0h2m16 0h2m99 0h1M50 298h1m15 0h1m8 0h1m43 0h1m4 0h1m3 0h1m4 0h1m4 0h1m1 0h1m1 0h1m16 0h1m13 0h1m27 0h1m2 0h2m52 0h4m42 0h2m16 0h2m2 0h2m12 0h2m20 0h2m2 0h4m2 0h1M7 299h1m7 0h1m29 0h1m33 0h1m8 0h1m10 0h1m20 0h1m8 0h2m4 0h1m5 0h1m3 0h1m12 0h1m57 0h2m120 0h2m36 0h2M9 300h1m33 0h1m81 0h1m1 0h1m18 0h2m2 0h1m39 0h1m37 0h2m4 0h2m92 0h2m24 0h2M20 301h1m22 0h1m40 0h1m6 0h1m8 0h1m19 0h1m2 0h1m4 0h1m5 0h1m3 0h1m15 0h1m2 0h2m39 0h1m5 0h1m41 0h2m4 0h2m98 0h2m22 0h2M33 302h1m35 0h1m7 0h1m33 0h1m26 0h1m8 0h1m2 0h1m19 0h1m12 0h1m30 0h2m132 0h2M5 303h1m11 0h1m6 0h1m41 0h1m19 0h1m12 0h1m21 0h1m7 0h3m1 0h2m3 0h1m3 0h1m11 0h1m41 0h1m17 0h2m6 0h2m16 0h2m36 0h2m16 0h2m78 0h2M1 304h1m10 0h1m13 0h1m26 0h1m24 0h1m7 0h1m1 0h1m10 0h1m42 0h1m1 0h1m9 0h1m2 0h1m25 0h1m17 0h1m52 0h2M21 305h1m14 0h1m7 0h1m55 0h1m25 0h1m3 0h1m2 0h2m3 0h1m3 0h2m3 0h1m5 0h1m30 0h2m15 0h1m82 0h2M8 306h1m30 0h1m22 0h1m53 0h1m3 0h2m5 0h1m6 0h1m2 0h1m17 0h1m1 0h1m1 0h1m13 0h1m126 0h2m34 0h2m34 0h1m7 0h2m4 0h2M10 307h1m4 0h1m7 0h2m41 0h1m7 0h1m29 0h1m5 0h1m9 0h1m5 0h1m1 0h1m2 0h1m5 0h1m3 0h1m10 0h1m13 0h1m23 0h1m53 0h2m94 0h2m8 0h2m2 0h4M29 308h1m31 0h1m11 0h1m4 0h1m6 0h1m6 0h1m25 0h1m4 0h1m4 0h2m1 0h1m1 0h1m3 0h1m8 0h1m4 0h1m6 0h2m11 0h1m28 0h1m29 0h2m122 0h2M6 309h1m32 0h1m21 0h1m36 0h1m22 0h1m1 0h2m1 0h1m10 0h1m10 0h1m4 0h1m5 0h1m20 0h1m2 0h1m6 0h1m61 0h2m26 0h2m8 0h2m2 0h4m70 0h2M21 310h1m4 0h1m27 0h1m4 0h1m33 0h1m34 0h1m4 0h1m98 0h2m12 0h2m40 0h2m4 0h2m8 0h4m12 0h2m10 0h2m41 0h1m18 0h2M8 311h1m12 0h1m3 0h1m12 0h1m10 0h1m11 0h1m4 0h1m9 0h1m6 0h1m8 0h3m4 0h1m7 0h1m5 0h1m15 0h1m7 0h2m8 0h1m5 0h1m8 0h1m23 0h1m123 0h2m10 0h4m8 0h2m37 0h1M18 312h1m7 0h1m18 0h1m3 0h1m76 0h3m10 0h1m9 0h1m8 0h1m91 0h2m18 0h2m20 0h2m2 0h2m22 0h2M41 313h1m5 0h1m12 0h1m44 0h1m1 0h2m16 0h1m1 0h1m6 0h1m11 0h1m4 0h1m49 0h1m40 0h2m40 0h2m4 0h2M34 314h2m2 0h1m15 0h1m51 0h1m4 0h1m5 0h2m4 0h1m22 0h1m2 0h1m6 0h2m30 0h1m1 0h1m25 0h2m2 0h4m60 0h2m30 0h2m18 0h2m37 0h1M12 315h1m14 0h1m59 0h1m31 0h1m7 0h1m2 0h1m15 0h1m55 0h1m19 0h2m36 0h2m108 0h2m2 0h1m15 0h2M42 316h1m6 0h1m6 0h1m21 0h1m19 0h1m10 0h1m1 0h1m7 0h1m5 0h1m11 0h1m3 0h1m3 0h1m42 0h1m16 0h1m134 0h2m20 0h2m12 0h2M0 317h1m1 0h1m7 0h1m5 0h1m26 0h1m19 0h1m1 0h1m7 0h1m5 0h1m12 0h1m8 0h1m3 0h1m4 0h1m19 0h1m18 0h2m2 0h2m203 0h2M6 318h1m45 0h1m14 0h1m46 0h1m5 0h1m4 0h1m2 0h1m5 0h2m48 0h1m65 0h1m45 0h2m86 0h2M25 319h1m8 0h1m34 0h1m47 0h1m5 0h1m12 0h1m53 0h1m1 0h1m35 0h2m58 0h2m60 0h2m23 0h1m14 0h2M7 320h1m5 0h1m12 0h1m45 0h1m28 0h1m15 0h1m8 0h1m7 0h1m11 0h1m6 0h1m34 0h1m11 0h1m21 0h2m10 0h2m30 0h2m10 0h2m38 0h2m12 0h2m5 0h1M13 321h1m33 0h1m2 0h1m7 0h2m17 0h1m39 0h1m11 0h1m11 0h1m2 0h1m11 0h2m12 0h1m9 0h1m4 0h1m20 0h2m20 0h2m66 0h2m40 0h1m11 0h2m18 0h2m6 0h2M3 322h1m1 0h1m4 0h1m14 0h1m16 0h1m7 0h1m17 0h1m52 0h1m4 0h1m1 0h1m1 0h1m8 0h1m12 0h1m15 0h1m41 0h2m28 0h2m10 0h2m2 0h2m58 0h2m12 0h2m6 0h1m39 0h2M6 323h1m5 0h1m13 0h1m23 0h1m2 0h1m11 0h1m11 0h1m19 0h1m28 0h1m3 0h1m2 0h1m12 0h1m2 0h1m2 0h1m5 0h1m44 0h1m32 0h2m70 0h2m44 0h2m26 0h2M16 324h1m24 0h1m2 0h1m28 0h1m19 0h1m17 0h1m5 0h1m1 0h1m4 0h1m12 0h2m2 0h1m11 0h1m2 0h1m29 0h2m11 0h1m18 0h2m48 0h2m6 0h2m18 0h2m10 0h2m12 0h2M16 325h1m13 0h1m27 0h1m49 0h1m15 0h1m2 0h2m1 0h2m6 0h1m2 0h1m9 0h1m1 0h1m3 0h1m68 0h2m48 0h2m42 0h2m48 0h2m18 0h4M16 326h1m3 0h1m13 0h2m2 0h1m24 0h2m12 0h1m10 0h1m22 0h1m16 0h1m2 0h1m1 0h1m4 0h1m12 0h1m113 0h1m36 0h2m2 0h2m14 0h2m15 0h1M14 327h1m7 0h1m16 0h1m34 0h1m11 0h1m12 0h1m4 0h1m20 0h1m8 0h1m3 0h1m3 0h1m7 0h1m4 0h1m33 0h1m3 0h1m7 0h1m112 0h2m23 0h1m16 0h2M12 328h1m13 0h1m1 0h1m30 0h1m16 0h1m12 0h1m44 0h1m3 0h1m4 0h1m1 0h1m8 0h1m8 0h1m19 0h1m11 0h1m3 0h1m22 0h2m44 0h4m38 0h2m6 0h2m40 0h2m28 0h2M43 329h1m35 0h1m2 0h1m4 0h1m14 0h1m10 0h1m10 0h1m6 0h1m5 0h1m8 0h1m8 0h1m74 0h2m40 0h2m12 0h2m4 0h2m70 0h2m26 0h2M8 330h1m66 0h1m14 0h1m47 0h1m3 0h1m16 0h1m58 0h2m14 0h2m50 0h2m2 0h2m81 0h1m1 0h1M10 331h1m14 0h1m18 0h1m16 0h1m25 0h1m12 0h1m25 0h1m2 0h1m57 0h1m2 0h1m14 0h1m8 0h2m16 0h3m81 0h2m18 0h2m2 0h2M5 332h1m13 0h1m36 0h1m71 0h1m1 0h1m1 0h1m5 0h1m12 0h1m35 0h1m32 0h2m30 0h2m2 0h2M12 333h1m32 0h1m26 0h1m52 0h2m1 0h1m16 0h2m4 0h1m1 0h1m35 0h1m64 0h2m6 0h2m68 0h2m2 0h2m18 0h2m36 0h2M28 334h1m42 0h1m37 0h1m8 0h1m1 0h1m3 0h1m3 0h1m8 0h1m3 0h2m3 0h1m17 0h1m203 0h2M6 335h1m3 0h1m20 0h1m23 0h1m54 0h1m3 0h1m2 0h1m7 0h2m2 0h1m16 0h1m45 0h1m23 0h2m16 0h2m36 0h2m82 0h2M33 336h1m6 0h1m10 0h1m10 0h1m70 0h1m4 0h1m7 0h2m1 0h1m8 0h1m115 0h2m30 0h2m38 0h2m2 0h2M40 337h1m13 0h1m7 0h1m10 0h1m39 0h1m10 0h1m12 0h2m5 0h1m1 0h1m13 0h1m9 0h1m27 0h1m41 0h2m66 0h2m36 0h2m2 0h4m16 0h2m6 0h2m8 0h2M16 338h1m61 0h1m15 0h1m12 0h1m30 0h1m15 0h2m9 0h1m33 0h1m18 0h2m10 0h2m82 0h2m30 0h2m38 0h2M43 339h1m9 0h1m16 0h1m12 0h1m5 0h1m15 0h1m32 0h1m2 0h1m5 0h2m89 0h2m8 0h2m62 0h2m16 0h2m26 0h2m18 0h2m2 0h2M22 340h1m89 0h1m14 0h1m11 0h1m9 0h1m4 0h2m4 0h1m37 0h1m163 0h2m8 0h1M11 341h1m7 0h1m90 0h1m3 0h1m9 0h1m9 0h1m10 0h1m1 0h1m64 0h2m116 0h2m10 0h2M0 342h1m7 0h1m53 0h1m14 0h1m2 0h1m19 0h1m7 0h1m7 0h1m6 0h1m2 0h1m4 0h1m21 0h2m2 0h1m10 0h1m87 0h2m32 0h2m6 0h2m8 0h2m20 0h2M0 343h1m44 0h1m9 0h1m20 0h1m36 0h1m1 0h1m73 0h1m74 0h1m25 0h2m2 0h2m30 0h2m4 0h2m10 0h2m32 0h2m8 0h2M6 344h1m9 0h1m25 0h1m1 0h1m22 0h1m2 0h1m18 0h1m31 0h1m14 0h1m2 0h1m2 0h1m2 0h1m1 0h1m12 0h1m21 0h1m8 0h1m68 0h2m6 0h2m34 0h1m13 0h2M26 345h1m41 0h1m54 0h1m2 0h1m4 0h1m10 0h1m6 0h1m1 0h2m6 0h1m28 0h1m6 0h1m10 0h2m60 0h2m92 0h2m4 0h4M1 346h1m6 0h1m73 0h1m19 0h1m2 0h1m15 0h1m12 0h1m10 0h2m1 0h2m3 0h1m1 0h1m2 0h1m8 0h1m56 0h2m44 0h4m8 0h2m52 0h2m30 0h2M3 347h1m12 0h1m83 0h1m6 0h1m26 0h1m3 0h1m4 0h1m3 0h1m2 0h1m1 0h1m5 0h1m59 0h2m6 0h2m44 0h2m78 0h2m34 0h2M13 348h1m19 0h1m7 0h1m43 0h1m13 0h1m3 0h1m38 0h1m1 0h1m9 0h1m3 0h1m10 0h1m13 0h1m13 0h1m2 0h1m111 0h2M33 349h1m7 0h1m2 0h2m8 0h1m69 0h1m29 0h1m19 0h1m13 0h1m17 0h2m16 0h2m26 0h2m112 0h2M62 350h1m18 0h1m15 0h1m5 0h1m20 0h1m5 0h1m3 0h1m10 0h3m6 0h1m1 0h2m20 0h1m21 0h1m19 0h2m20 0h2m76 0h2m34 0h4M7 351h1m15 0h1m16 0h1m15 0h1m9 0h1m11 0h1m64 0h1m14 0h1m14 0h1m68 0h2m2 0h2m52 0h2M35 352h1m36 0h1m19 0h1m37 0h1m10 0h2m1 0h1m50 0h1m54 0h2m30 0h2m26 0h2m32 0h2m10 0h2m32 0h2M3 353h1m10 0h1m3 0h1m49 0h1m7 0h1m7 0h1m43 0h1m3 0h1m1 0h2m6 0h1m2 0h1m1 0h1m2 0h1m32 0h1m15 0h1m3 0h1m68 0h2m32 0h2m34 0h2m2 0h2M26 354h1m14 0h1m23 0h1m9 0h1m13 0h1m13 0h1m6 0h1m11 0h1m11 0h1m3 0h1m17 0h1m1 0h1m18 0h1m25 0h1m20 0h2m6 0h2m34 0h2m112 0h2M1 355h1m4 0h1m5 0h1m12 0h1m19 0h1m6 0h1m8 0h1m24 0h1m12 0h1m11 0h1m9 0h1m2 0h1m8 0h2m23 0h1m1 0h1m21 0h1m17 0h1m83 0h2m12 0h2m24 0h2m24 0h2m2 0h2m4 0h2m16 0h2m10 0h2M19 356h1m45 0h1m14 0h1m35 0h1m7 0h1m3 0h1m9 0h1m13 0h2m2 0h1m28 0h1m28 0h2m6 0h2m12 0h2m14 0h2m40 0h2m32 0h2m62 0h4M10 357h1m13 0h1m22 0h1m2 0h1m11 0h1m29 0h1m10 0h1m19 0h3m2 0h2m5 0h1m1 0h3m7 0h1m2 0h1m35 0h1m57 0h2m19 0h1m62 0h2m24 0h2m6 0h2M26 358h1m5 0h1m28 0h1m1 0h1m50 0h1m3 0h2m16 0h1m4 0h1m2 0h1m2 0h1m10 0h1m3 0h1m39 0h1m77 0h2m12 0h2m10 0h2m4 0h2m18 0h2m2 0h2M10 359h1m90 0h1m14 0h1m5 0h1m1 0h1m13 0h1m11 0h1m21 0h1m11 0h1m15 0h1m35 0h2m10 0h2m18 0h2m56 0h2m4 0h2m20 0h2M31 360h1m1 0h1m8 0h1m37 0h1m14 0h1m24 0h1m21 0h1m1 0h1m4 0h1m3 0h3m21 0h1m15 0h1m8 0h2m116 0h2m12 0h2m3 0h1M5 361h1m42 0h1m4 0h1m4 0h1m25 0h1m16 0h1m4 0h1m22 0h2m8 0h1m10 0h1m3 0h1m2 0h1m12 0h1m41 0h2m10 0h2m32 0h2m50 0h2m48 0h2m10 0h1M17 362h1m1 0h1m33 0h1m2 0h1m59 0h1m9 0h1m1 0h1m2 0h1m10 0h1m2 0h1m3 0h1m1 0h1m6 0h1m46 0h1m2 0h2m40 0h2m74 0h2m20 0h2m23 0h1M3 363h1m17 0h1m44 0h1m52 0h1m1 0h2m6 0h2m14 0h1m4 0h1m3 0h1m43 0h1m23 0h2m40 0h1m1 0h2m10 0h2m42 0h2m24 0h2m10 0h2m18 0h2M3 364h1m6 0h1m9 0h1m67 0h1m3 0h1m33 0h2m9 0h1m4 0h1m1 0h1m44 0h1m4 0h1m35 0h2m30 0h2m32 0h2m20 0h2m14 0h2m26 0h2m22 0h2m4 0h2M44 365h1m5 0h1m35 0h1m14 0h1m6 0h1m12 0h1m23 0h2m8 0h2m1 0h1m14 0h1m5 0h1m7 0h1m7 0h1m12 0h2m8 0h2m28 0h2m90 0h2m26 0h2m12 0h2m10 0h2M9 366h3m13 0h1m12 0h1m11 0h1m6 0h1m12 0h1m29 0h1m7 0h1m19 0h1m5 0h1m3 0h1m4 0h1m41 0h1m6 0h1m15 0h2m16 0h2m148 0h2M4 367h1m27 0h1m12 0h1m2 0h1m3 0h1m4 0h1m40 0h1m6 0h1m13 0h1m2 0h1m1 0h1m4 0h1m12 0h1m10 0h1m5 0h1m48 0h2m16 0h2m76 0h2m62 0h2M5 368h1m17 0h1m27 0h1m9 0h1m46 0h1m9 0h1m18 0h1m9 0h1m3 0h1m2 0h1m27 0h1m103 0h2m88 0h2M5 369h1m17 0h1m27 0h1m9 0h1m46 0h1m9 0h1m18 0h1m9 0h1m3 0h1m2 0h1m27 0h1m103 0h2m88 0h2"/><path stroke="#414487" d="M6 0h1m5 0h1m27 0h1m7 0h1m5 0h1m2 0h1m9 0h1m63 0h1m2 0h1m10 0h2m13 0h1m21 0h1m16 0h1m56 0h2m4 0h2m82 0h2m25 0h1M20 1h1m8 0h1m29 0h1m3 0h1m54 0h1m10 0h1m3 0h2m4 0h1m2 0h2m1 0h3m6 0h1m34 0h1m38 0h2m34 0h1m108 0h1M14 2h1m17 0h1m58 0h1m1 0h1m30 0h1m3 0h1m2 0h1m2 0h1m3 0h1m2 0h1m2 0h3m3 0h1m4 0h1m2 0h1m1 0h1m21 0h2m8 0h1m49 0h2m30 0h2m80 0h2m16 0h1m5 0h2m4 0h2m6 0h2M4 3h1m49 0h1m29 0h1m20 0h3m20 0h1m5 0h1m2 0h1m1 0h1m2 0h1m3 0h2m1 0h3m1 0h1m3 0h1m1 0h1m22 0h1m85 0h2m110 0h2M8 4h1m9 0h1m3 0h1m27 0h1m75 0h2m2 0h1m3 0h1m2 0h1m1 0h1m1 0h1m7 0h1m4 0h1m27 0h3m87 0h2m90 0h2m2 0h2m4 0h1M23 5h1m38 0h1m12 0h1m20 0h1m2 0h1m18 0h1m5 0h1m5 0h1m1 0h1m5 0h2m2 0h2m2 0h1m3 0h1m1 0h1m1 0h1m41 0h1m36 0h1m112 0h2m14 0h4m7 0h2m5 0h2m2 0h2M7 6h1m87 0h1m26 0h1m1 0h1m10 0h1m3 0h1m2 0h1m1 0h1m5 0h2m2 0h2m1 0h2m1 0h1m15 0h1m4 0h1m32 0h2m4 0h2m32 0h2m44 0h2m72 0h1m5 0h2M48 7h1m2 0h1m33 0h1m39 0h1m2 0h1m2 0h1m1 0h2m3 0h1m2 0h2m4 0h1m3 0h1m1 0h1m1 0h1m1 0h1m2 0h1m27 0h1m67 0h2m32 0h2m60 0h2m26 0h2M25 8h1m10 0h1m8 0h1m31 0h1m44 0h3m6 0h1m1 0h2m1 0h1m13 0h2m2 0h2m2 0h1m57 0h2m84 0h2m14 0h2m8 0h2m30 0h2m10 0h1M2 9h1m123 0h1m8 0h1m3 0h1m2 0h1m3 0h1m2 0h1m3 0h1m3 0h1m24 0h2m5 0h1m6 0h1m19 0h2m36 0h2m76 0h2m40 0h1m5 0h2M7 10h1m23 0h1m20 0h1m1 0h2m58 0h1m4 0h1m3 0h2m1 0h1m1 0h1m1 0h1m2 0h2m2 0h1m1 0h1m3 0h1m5 0h2m2 0h2m3 0h1m24 0h1m90 0h2m88 0h2m8 0h1m11 0h2M59 11h1m67 0h1m2 0h1m2 0h1m11 0h1m3 0h1m5 0h1m1 0h1m1 0h1m38 0h2m32 0h2m36 0h2m20 0h2m53 0h1m25 0h1m6 0h2M50 12h1m43 0h1m29 0h1m1 0h1m3 0h1m2 0h1m9 0h5m1 0h2m4 0h1m3 0h1m23 0h1m4 0h1m7 0h1m95 0h2m32 0h2m22 0h2m4 0h2m6 0h2m8 0h1M2 13h1m52 0h1m38 0h1m29 0h1m2 0h1m2 0h2m2 0h2m1 0h2m1 0h1m1 0h1m1 0h2m1 0h1m1 0h2m1 0h1m1 0h1m4 0h1m24 0h1m97 0h2m80 0h2m14 0h1M4 14h1m37 0h1m3 0h1m57 0h1m16 0h1m9 0h1m2 0h1m3 0h1m3 0h2m2 0h1m1 0h1m1 0h1m6 0h3m23 0h3m178 0h2m7 0h1M40 15h1m13 0h1m19 0h1m1 0h1m22 0h1m20 0h1m5 0h1m6 0h3m3 0h1m6 0h1m1 0h1m6 0h1m17 0h1m9 0h1m152 0h2m6 0h2m27 0h1M32 16h1m54 0h1m1 0h1m3 0h1m2 0h1m32 0h1m3 0h3m5 0h1m2 0h4m1 0h2m2 0h3m1 0h2m25 0h1m1 0h1m43 0h4m50 0h2m88 0h1M9 17h1m73 0h1m13 0h1m5 0h1m3 0h1m16 0h1m7 0h1m1 0h2m2 0h1m1 0h1m2 0h1m1 0h1m4 0h1m6 0h2m1 0h1m22 0h1m26 0h2m6 0h2m120 0h2m16 0h2m22 0h2M35 18h1m10 0h2m22 0h1m28 0h1m26 0h1m2 0h1m7 0h3m2 0h2m1 0h2m3 0h1m2 0h3m3 0h1m9 0h1m12 0h1m1 0h1m73 0h2m34 0h2m68 0h4m6 0h1M62 19h1m28 0h1m17 0h1m13 0h1m1 0h1m1 0h2m1 0h1m3 0h1m8 0h1m2 0h1m2 0h2m1 0h1m1 0h1m2 0h2m3 0h1m16 0h1m7 0h1m90 0h2m64 0h2m8 0h2M3 20h1m67 0h1m2 0h1m24 0h1m25 0h1m1 0h1m6 0h1m2 0h2m7 0h2m5 0h2m2 0h1m2 0h1m22 0h1m18 0h1m25 0h2m28 0h2m86 0h2m12 0h2m6 0h2m4 0h1M122 21h1m11 0h1m2 0h1m2 0h1m4 0h1m1 0h1m3 0h1m2 0h1m2 0h1m1 0h1m82 0h2m84 0h2m12 0h2m40 0h2M86 22h1m37 0h1m7 0h1m5 0h1m6 0h1m3 0h1m5 0h1m1 0h2m1 0h2m22 0h1m8 0h1m61 0h1m108 0h2m14 0h2M12 23h1m45 0h1m35 0h1m27 0h1m4 0h1m6 0h1m2 0h2m5 0h4m1 0h1m4 0h1m3 0h1m23 0h1m19 0h1m61 0h1m108 0h1M7 24h1m77 0h1m39 0h2m9 0h1m1 0h2m1 0h1m4 0h2m2 0h1m3 0h1m2 0h2m23 0h1m5 0h1m2 0h1m56 0h2m26 0h2m84 0h2m10 0h1m17 0h2m2 0h1M15 25h1m1 0h1m5 0h1m25 0h2m2 0h1m65 0h1m3 0h1m5 0h1m1 0h2m4 0h2m3 0h3m2 0h1m1 0h3m2 0h1m3 0h1m35 0h1m51 0h2m82 0h2m14 0h2m22 0h3M0 26h1m75 0h1m37 0h2m12 0h1m4 0h3m1 0h2m5 0h1m4 0h1m4 0h2m1 0h2m18 0h2m35 0h2m20 0h2m14 0h2m48 0h2m50 0h2M6 27h1m34 0h1m82 0h1m1 0h1m6 0h1m1 0h1m13 0h2m2 0h3m3 0h1m33 0h1m8 0h1m19 0h2m118 0h2m10 0h2m20 0h2m2 0h2m8 0h2M1 28h1m5 0h1m83 0h1m42 0h2m2 0h3m1 0h1m1 0h1m1 0h1m2 0h1m1 0h1m3 0h1m2 0h1m23 0h1m15 0h1m1 0h1m39 0h2m42 0h2m60 0h2m16 0h2m7 0h1m6 0h2M51 29h1m12 0h1m26 0h1m3 0h1m23 0h2m2 0h1m4 0h1m4 0h1m4 0h1m1 0h1m1 0h2m2 0h3m1 0h2m6 0h2m88 0h2m78 0h2m16 0h2m32 0h2M28 30h1m11 0h1m68 0h1m8 0h1m8 0h2m4 0h1m5 0h1m2 0h1m5 0h1m1 0h1m2 0h2m1 0h2m1 0h2m18 0h1m166 0h2M8 31h1m10 0h1m37 0h1m17 0h1m4 0h1m52 0h2m2 0h3m2 0h1m2 0h1m1 0h1m6 0h1m3 0h2m9 0h1m13 0h1m6 0h1m93 0h2m26 0h2m50 0h2m4 0h2m1 0h1m16 0h2M60 32h2m4 0h1m55 0h1m6 0h1m4 0h1m7 0h2m1 0h2m10 0h1m24 0h1m1 0h1m43 0h2m72 0h2m42 0h2m16 0h2M0 33h1m37 0h1m7 0h1m13 0h1m31 0h1m16 0h1m13 0h1m6 0h4m8 0h2m3 0h1m1 0h1m4 0h2m1 0h2m19 0h1m20 0h1m94 0h2m28 0h2M2 34h1m14 0h2m46 0h1m35 0h1m22 0h1m1 0h1m2 0h1m1 0h1m3 0h1m1 0h2m2 0h2m3 0h1m3 0h2m2 0h1m3 0h1m43 0h1m27 0h2m102 0h2m28 0h2m7 0h2m19 0h2M29 35h1m28 0h1m32 0h1m39 0h1m3 0h1m2 0h2m5 0h3m1 0h1m3 0h3m2 0h1m43 0h1m37 0h2m58 0h2m44 0h2M21 36h1m29 0h1m6 0h2m32 0h1m33 0h1m2 0h2m2 0h1m1 0h1m3 0h1m1 0h1m3 0h2m3 0h1m3 0h2m2 0h1m25 0h1m29 0h2m4 0h2m40 0h2m100 0h2m14 0h2M95 37h1m7 0h1m21 0h1m2 0h1m7 0h1m1 0h1m3 0h1m8 0h2m31 0h1m115 0h2m62 0h2m8 0h1m15 0h2M38 38h1m22 0h1m14 0h1m53 0h1m2 0h1m4 0h2m5 0h2m2 0h2m3 0h2m2 0h2m22 0h1m1 0h1m61 0h2m116 0h2m6 0h3m5 0h2m2 0h2M2 39h2m2 0h1m15 0h1m33 0h1m31 0h1m16 0h1m23 0h3m2 0h1m3 0h2m1 0h1m3 0h1m1 0h1m1 0h1m4 0h1m1 0h3m27 0h1m53 0h2m54 0h4m30 0h2m22 0h2m8 0h2m4 0h2m1 0h1M6 40h1m28 0h1m72 0h1m11 0h1m1 0h2m4 0h1m1 0h1m6 0h1m6 0h1m2 0h2m4 0h1m3 0h2m19 0h1m4 0h1m189 0h1m6 0h2M47 41h1m24 0h1m36 0h1m14 0h1m1 0h1m15 0h1m1 0h1m2 0h1m2 0h1m3 0h2m2 0h1m26 0h1m32 0h2m44 0h1m21 0h2m58 0h2m24 0h1M21 42h1m103 0h1m5 0h1m1 0h2m4 0h1m2 0h1m3 0h1m1 0h1m1 0h1m9 0h1m20 0h1m170 0h2m10 0h2m14 0h2M8 43h1m27 0h1m47 0h1m32 0h1m10 0h1m4 0h1m1 0h1m1 0h1m3 0h1m3 0h3m2 0h1m3 0h1m2 0h1m1 0h1m22 0h1m1 0h1m13 0h1m41 0h2m23 0h1m54 0h2m2 0h2m26 0h4m17 0h2M7 44h1m25 0h1m2 0h2m14 0h1m6 0h1m35 0h1m22 0h1m1 0h1m1 0h1m1 0h1m9 0h1m2 0h1m6 0h1m2 0h2m9 0h1m24 0h1m14 0h1m9 0h2m6 0h2m12 0h2m44 0h2m38 0h2m38 0h2m15 0h2m5 0h2M125 45h1m4 0h2m3 0h1m5 0h1m1 0h1m2 0h1m3 0h1m4 0h1m4 0h1m21 0h1m71 0h2m4 0h2m80 0h2m8 0h2m2 0h2m2 0h2m11 0h1M31 46h1m67 0h1m17 0h1m5 0h1m5 0h3m1 0h1m1 0h1m2 0h1m1 0h2m3 0h2m5 0h1m1 0h1m27 0h1m1 0h1M24 47h1m69 0h1m11 0h1m14 0h1m6 0h1m3 0h4m5 0h2m2 0h2m7 0h1m1 0h4m43 0h1m16 0h2m26 0h2m96 0h2m2 0h2m4 0h2M33 48h1m50 0h1m11 0h1m17 0h1m18 0h2m3 0h5m1 0h1m1 0h1m3 0h4m1 0h1m1 0h3m100 0h2m132 0h2M18 49h1m5 0h1m83 0h1m19 0h1m1 0h1m3 0h2m3 0h1m3 0h2m1 0h1m3 0h1m3 0h1m22 0h1m4 0h1m1 0h1m12 0h1m148 0h4m30 0h2M27 50h1m38 0h1m57 0h1m3 0h1m4 0h2m4 0h1m3 0h1m3 0h1m1 0h1m8 0h1m11 0h1m6 0h1m4 0h1m1 0h1m25 0h2m24 0h2m128 0h2m2 0h2m14 0h2M16 51h1m23 0h1m1 0h1m3 0h1m15 0h1m3 0h1m34 0h1m2 0h1m5 0h1m24 0h1m1 0h3m2 0h2m1 0h2m3 0h1m2 0h2m5 0h1m4 0h1m17 0h2m18 0h1m12 0h2m146 0h2m4 0h2m1 0h2m15 0h2M39 52h1m69 0h1m5 0h2m10 0h1m4 0h1m1 0h2m1 0h2m3 0h1m2 0h3m2 0h1m3 0h1m2 0h3m19 0h1m2 0h1m35 0h2m2 0h2m8 0h2m4 0h2m8 0h2m34 0h2m87 0h2M54 53h1m58 0h1m9 0h1m3 0h1m4 0h1m1 0h1m3 0h1m2 0h3m1 0h3m4 0h1m1 0h1m2 0h2m23 0h2m3 0h1m158 0h2m18 0h2m12 0h2M42 54h1m51 0h1m5 0h1m8 0h1m4 0h2m10 0h1m2 0h3m1 0h3m3 0h1m2 0h1m4 0h1m1 0h2m3 0h1m2 0h1m26 0h1m89 0h2m18 0h2m50 0h2m4 0h2m19 0h2M19 55h1m18 0h1m14 0h1m25 0h2m1 0h1m40 0h1m2 0h1m2 0h1m3 0h2m2 0h1m1 0h1m3 0h1m2 0h2m3 0h1m17 0h1m31 0h1m52 0h2m52 0h2m18 0h2m34 0h2M5 56h1m25 0h1m60 0h1m15 0h1m3 0h1m15 0h1m4 0h1m4 0h2m6 0h1m4 0h1m2 0h1m4 0h1m22 0h2m191 0h1M4 57h2m11 0h1m16 0h1m89 0h1m1 0h1m1 0h1m1 0h1m2 0h2m3 0h2m4 0h2m3 0h2m65 0h2m146 0h2M6 58h1m10 0h1m115 0h1m3 0h2m2 0h2m8 0h1m2 0h1m1 0h4m9 0h1m14 0h1m21 0h2m165 0h1M50 59h1m30 0h1m41 0h3m1 0h1m6 0h1m3 0h1m2 0h3m1 0h1m4 0h1m1 0h1m1 0h2m2 0h1m23 0h1m10 0h1m6 0h1m107 0h2m54 0h2M1 60h1m29 0h1m50 0h1m14 0h1m2 0h1m22 0h1m1 0h1m1 0h3m5 0h1m3 0h1m2 0h1m2 0h2m4 0h1m6 0h1m1 0h1m21 0h1m169 0h2m26 0h2m4 0h2M19 61h1m45 0h1m25 0h1m26 0h1m8 0h1m2 0h1m10 0h1m3 0h1m4 0h1m3 0h2m2 0h2m110 0h2m30 0h2m20 0h2m22 0h2m14 0h2M35 62h1m64 0h1m15 0h1m2 0h1m8 0h1m9 0h2m1 0h1m1 0h1m2 0h2m6 0h1m2 0h2m1 0h1m21 0h1m1 0h1m20 0h1m34 0h2m22 0h1m25 0h2m82 0h1M26 63h1m22 0h1m11 0h1m28 0h1m31 0h1m6 0h1m1 0h1m1 0h1m3 0h1m3 0h2m4 0h1m1 0h3m3 0h1m28 0h1m4 0h1m6 0h1m17 0h2m120 0h2m36 0h1m7 0h2M47 64h1m13 0h1m57 0h1m3 0h1m6 0h1m3 0h1m4 0h1m6 0h1m3 0h2m2 0h1m2 0h1m24 0h1m171 0h2m2 0h2m6 0h2m6 0h1M1 65h1m1 0h1m49 0h1m13 0h1m2 0h1m53 0h1m2 0h1m2 0h2m6 0h2m2 0h1m3 0h1m3 0h2m2 0h1m27 0h1m25 0h2m118 0h2m54 0h2M11 66h1m14 0h1m20 0h1m36 0h1m4 0h1m33 0h1m4 0h1m10 0h1m2 0h2m1 0h1m3 0h2m3 0h1m2 0h2m32 0h1m118 0h2m2 0h2m28 0h2m6 0h2m26 0h2M27 67h1m15 0h1m82 0h1m11 0h2m3 0h1m1 0h1m4 0h2m6 0h1m25 0h1m33 0h2m64 0h2m84 0h3M3 68h1m24 0h1m55 0h1m46 0h1m9 0h2m1 0h1m1 0h1m3 0h1m3 0h1m3 0h1m23 0h1m15 0h1m61 0h2m46 0h2m65 0h1M20 69h1m19 0h1m1 0h1m3 0h1m55 0h1m21 0h1m6 0h1m6 0h1m8 0h1m2 0h1m1 0h5m2 0h1m4 0h1m8 0h1m8 0h3m119 0h2m12 0h2m12 0h2m12 0h2m32 0h2M8 70h1m28 0h1m81 0h1m4 0h2m5 0h1m9 0h2m3 0h2m1 0h1m4 0h1m3 0h1m23 0h1m22 0h1m174 0h4M25 71h1m16 0h1m32 0h1m36 0h1m5 0h1m11 0h2m2 0h1m2 0h1m9 0h1m2 0h2m1 0h1m2 0h1m1 0h1m24 0h1m28 0h2m64 0h2m94 0h2m4 0h2M6 72h1m14 0h1m81 0h1m6 0h1m9 0h1m13 0h1m3 0h1m1 0h1m2 0h1m6 0h2m1 0h1m4 0h1m25 0h1m1 0h1m35 0h2m44 0h2m103 0h1M4 73h1m19 0h1m23 0h1m9 0h1m11 0h1m29 0h1m26 0h1m1 0h1m5 0h1m10 0h3m1 0h2m6 0h1m1 0h1m44 0h1m2 0h2m34 0h2m16 0h2m8 0h2m38 0h2m60 0h1M66 74h1m10 0h1m46 0h1m4 0h1m3 0h2m5 0h1m1 0h1m1 0h1m2 0h1m2 0h1m3 0h1m4 0h1m23 0h1m22 0h2m66 0h6m8 0h4m28 0h2m51 0h1M9 75h1m43 0h1m17 0h1m51 0h1m15 0h1m2 0h2m1 0h2m4 0h1m32 0h1m11 0h1m79 0h2m42 0h2M50 76h1m40 0h1m1 0h1m15 0h1m28 0h2m7 0h1m1 0h1m5 0h1m1 0h1m1 0h1m114 0h2m44 0h2m32 0h2M8 77h1m7 0h2m34 0h1m26 0h1m21 0h1m28 0h1m2 0h1m1 0h4m3 0h1m3 0h2m2 0h2m3 0h1m1 0h1m1 0h1m58 0h2m28 0h2m15 0h1m42 0h2m14 0h2m10 0h2m35 0h1m4 0h2M15 78h1m60 0h1m55 0h1m4 0h1m2 0h3m6 0h1m4 0h1m2 0h2m1 0h1m23 0h1m188 0h2m5 0h2M57 79h1m5 0h1m4 0h1m56 0h1m3 0h1m3 0h1m4 0h1m3 0h1m4 0h1m2 0h2m1 0h3m14 0h1m11 0h1m2 0h1m26 0h2m58 0h2m40 0h2m22 0h1m35 0h1m5 0h2m14 0h1M9 80h1m88 0h1m17 0h1m7 0h2m4 0h1m3 0h1m2 0h1m7 0h1m1 0h1m2 0h1m3 0h1m1 0h2m15 0h1m16 0h1m25 0h2m6 0h2m32 0h2m36 0h2m80 0h2M16 81h1m20 0h1m32 0h1m7 0h1m6 0h1m7 0h1m16 0h1m14 0h1m4 0h2m2 0h1m3 0h1m3 0h1m1 0h1m5 0h2m1 0h1m2 0h1m1 0h1m10 0h1m134 0h2m44 0h2m21 0h1m1 0h1m20 0h1M5 82h1m15 0h1m6 0h1m5 0h1m20 0h1m19 0h1m21 0h1m21 0h1m5 0h1m4 0h1m3 0h2m3 0h1m1 0h1m2 0h1m5 0h1m1 0h1m3 0h1m25 0h1m53 0h2m36 0h2m30 0h2m72 0h2M41 83h1m3 0h1m78 0h1m3 0h3m4 0h1m3 0h1m2 0h1m4 0h1m34 0h2m9 0h1m86 0h2m22 0h2m18 0h2m20 0h2m4 0h2m24 0h4M12 84h1m40 0h1m8 0h1m35 0h1m10 0h1m9 0h1m9 0h1m4 0h1m7 0h2m74 0h2m40 0h2m8 0h2m98 0h2m8 0h2m14 0h1M4 85h1m17 0h1m4 0h1m37 0h1m18 0h1m31 0h1m3 0h1m10 0h1m2 0h1m2 0h1m6 0h4m1 0h1m3 0h1m5 0h1m23 0h1m9 0h1m24 0h2m16 0h2m46 0h2m94 0h2m4 0h2M102 86h1m29 0h1m5 0h1m2 0h3m1 0h1m2 0h1m2 0h1m3 0h1m3 0h1m17 0h1m28 0h2m6 0h2m14 0h2M1 87h1m4 0h1m21 0h1m1 0h1m33 0h1m8 0h1m20 0h1m20 0h3m1 0h1m6 0h2m2 0h1m3 0h1m2 0h3m1 0h2m3 0h2m3 0h3m1 0h1m2 0h1m24 0h1m11 0h1m2 0h1m27 0h2m6 0h2m86 0h2m16 0h2m2 0h2m8 0h2m12 0h2m4 0h1m5 0h2M21 88h1m14 0h1m44 0h1m43 0h1m1 0h1m5 0h1m3 0h2m2 0h4m5 0h2m5 0h1m25 0h2m6 0h1m104 0h2m38 0h2m22 0h2m10 0h2m6 0h2M15 89h1m13 0h1m16 0h1m21 0h1m2 0h1m14 0h1m37 0h1m1 0h3m4 0h3m2 0h1m4 0h1m1 0h1m7 0h1m3 0h2m73 0h2m24 0h2m10 0h1m23 0h2m16 0h2m12 0h2m46 0h1M4 90h1m21 0h1m11 0h1m11 0h1m12 0h1m12 0h1m19 0h1m23 0h1m2 0h2m1 0h2m5 0h1m1 0h1m3 0h1m2 0h1m2 0h1m4 0h2m1 0h2m2 0h2m23 0h1m3 0h1m31 0h2m42 0h2m110 0h1m3 0h2M4 91h1m5 0h1m1 0h1m27 0h1m10 0h1m4 0h1m13 0h1m11 0h1m1 0h1m8 0h1m34 0h1m2 0h1m5 0h1m3 0h2m8 0h1m1 0h2m47 0h1m31 0h2m20 0h2m22 0h2m46 0h2m34 0h2m8 0h1m6 0h1m10 0h2M1 92h1m29 0h1m1 0h1m8 0h1m12 0h1m25 0h1m34 0h1m10 0h1m2 0h1m2 0h4m6 0h1m4 0h2m1 0h1m2 0h2m19 0h1m50 0h2m110 0h1m9 0h2m14 0h2m20 0h2M8 93h1m14 0h1m11 0h1m14 0h1m73 0h1m5 0h2m5 0h2m7 0h1m2 0h1m1 0h1m2 0h1m1 0h1m1 0h1m99 0h2M74 94h1m41 0h3m4 0h1m2 0h3m3 0h1m1 0h2m4 0h3m4 0h1m6 0h1m2 0h2m23 0h3m55 0h2m104 0h2m26 0h1M39 95h1m4 0h1m79 0h3m8 0h1m5 0h1m3 0h3m2 0h1m4 0h1m2 0h2m27 0h1m62 0h2m20 0h2m100 0h1m5 0h2M52 96h1m70 0h1m6 0h1m3 0h1m3 0h1m3 0h1m2 0h1m2 0h1m1 0h1m6 0h2m23 0h1m6 0h1m3 0h1m9 0h1m18 0h2m78 0h2M8 97h1m6 0h1m13 0h1m21 0h1m10 0h1m7 0h1m22 0h1m5 0h1m19 0h1m9 0h1m2 0h4m2 0h1m7 0h1m3 0h1m2 0h2m3 0h2m23 0h1m11 0h1m62 0h2m5 0h1m32 0h2m73 0h1m6 0h2M61 98h1m30 0h1m10 0h1m26 0h1m2 0h1m1 0h1m1 0h2m2 0h2m2 0h1m1 0h1m2 0h1m8 0h1m22 0h1m1 0h1m99 0h2m30 0h2m55 0h1M50 99h1m15 0h1m30 0h1m2 0h1m2 0h2m19 0h1m1 0h2m1 0h1m1 0h1m3 0h1m7 0h1m2 0h1m3 0h1m7 0h2m7 0h1m226 0h2M92 100h1m25 0h2m1 0h2m3 0h1m2 0h3m1 0h2m3 0h2m3 0h1m3 0h4m2 0h2m4 0h1m15 0h1m8 0h1m14 0h1m18 0h2m4 0h2m39 0h1m46 0h2m74 0h2M17 101h1m2 0h1m13 0h1m53 0h1m12 0h1m22 0h3m3 0h1m2 0h1m1 0h1m2 0h1m3 0h3m9 0h2m2 0h2m22 0h2m40 0h2m2 0h4m76 0h2m36 0h2m12 0h2m5 0h1M2 102h1m39 0h1m55 0h1m12 0h1m12 0h1m4 0h2m2 0h2m1 0h1m2 0h1m3 0h1m2 0h2m1 0h2m1 0h2m4 0h1m51 0h2m60 0h2m96 0h2m24 0h1M42 103h1m74 0h1m1 0h1m1 0h1m2 0h1m2 0h1m2 0h1m1 0h1m5 0h1m3 0h2m1 0h2m4 0h1m1 0h1m4 0h2m32 0h1m2 0h1m18 0h2m2 0h2m12 0h2m4 0h2m104 0h2m8 0h2m18 0h1M128 104h1m1 0h2m2 0h1m8 0h2m5 0h2m34 0h1m61 0h2m40 0h2m72 0h2M44 105h1m14 0h1m22 0h1m7 0h1m23 0h1m8 0h1m1 0h1m2 0h1m4 0h2m1 0h1m1 0h2m6 0h1m1 0h1m2 0h1m1 0h2m2 0h3m18 0h1m3 0h1m143 0h4m16 0h2m16 0h2m7 0h1m12 0h2M41 106h1m26 0h1m26 0h1m30 0h1m3 0h1m3 0h2m2 0h1m3 0h1m3 0h1m6 0h2m3 0h3m22 0h1m2 0h1m10 0h2m43 0h4m26 0h2m64 0h1m34 0h1M69 107h1m18 0h1m35 0h1m2 0h1m1 0h1m2 0h4m5 0h1m1 0h1m2 0h1m3 0h1m4 0h1m28 0h1m81 0h2m78 0h2m4 0h2m26 0h2m8 0h2M21 108h1m42 0h1m17 0h1m11 0h1m23 0h1m10 0h1m3 0h2m2 0h1m2 0h1m2 0h1m1 0h2m2 0h4m3 0h3m25 0h1m61 0h2m22 0h2m28 0h2m71 0h1m4 0h2M7 109h1m34 0h1m35 0h1m29 0h1m9 0h1m7 0h1m1 0h1m2 0h2m1 0h1m3 0h1m2 0h1m5 0h1m5 0h1m4 0h2m24 0h1m151 0h2m8 0h2m24 0h1m7 0h2M38 110h1m55 0h1m4 0h1m6 0h1m21 0h1m4 0h1m3 0h2m7 0h2m1 0h1m1 0h1m1 0h1m30 0h1m7 0h1m67 0h2m3 0h1M21 111h1m33 0h1m65 0h1m2 0h1m14 0h2m1 0h1m3 0h1m3 0h1m3 0h1m3 0h1m1 0h1m21 0h1m6 0h1m184 0h1m1 0h2m2 0h2M125 112h1m7 0h1m3 0h1m4 0h2m2 0h1m2 0h2m3 0h1m3 0h1m53 0h2m30 0h2m118 0h2M66 113h1m36 0h1m13 0h1m17 0h1m5 0h4m1 0h1m2 0h2m2 0h1m3 0h2m40 0h1m28 0h2m38 0h2m69 0h1m26 0h2m16 0h2M13 114h1m4 0h1m7 0h1m61 0h1m35 0h1m4 0h2m3 0h1m2 0h3m3 0h2m6 0h1m6 0h1m33 0h1m12 0h3m46 0h2m12 0h2m68 0h1m34 0h1M11 115h1m40 0h1m70 0h2m9 0h1m2 0h2m6 0h3m10 0h1m23 0h1m1 0h1m7 0h1m61 0h2m66 0h4M5 116h1m24 0h1m44 0h1m42 0h1m5 0h1m6 0h1m2 0h1m3 0h2m1 0h3m1 0h2m3 0h1m7 0h1m141 0h2m84 0h2M24 117h1m51 0h1m28 0h1m12 0h1m4 0h5m2 0h1m2 0h1m1 0h1m3 0h1m2 0h1m1 0h1m1 0h1m4 0h1m31 0h2m81 0h2m82 0h6m4 0h2m2 0h2M9 118h1m1 0h1m33 0h1m1 0h1m16 0h1m49 0h1m8 0h2m2 0h1m1 0h2m2 0h1m1 0h1m9 0h1m2 0h1m1 0h1m2 0h1m1 0h1m1 0h1m1 0h1m11 0h1m11 0h2m23 0h2m162 0h1m7 0h2M105 119h1m8 0h1m6 0h1m8 0h1m8 0h1m15 0h1m27 0h1m114 0h2m26 0h2m4 0h2m12 0h2m16 0h2M5 120h1m30 0h1m19 0h1m81 0h1m3 0h2m1 0h2m2 0h3m2 0h2m28 0h1m23 0h2m44 0h2m10 0h2m14 0h2m40 0h1m41 0h2m12 0h4M17 121h1m6 0h1m11 0h1m54 0h1m31 0h1m2 0h1m7 0h1m2 0h2m3 0h1m2 0h1m1 0h1m5 0h1m4 0h3m22 0h1m170 0h2m4 0h2m18 0h2M18 122h1m21 0h1m9 0h1m73 0h1m1 0h1m10 0h1m1 0h1m1 0h2m2 0h1m1 0h1m2 0h1m6 0h3m37 0h1m46 0h2m64 0h2m61 0h1m4 0h2m10 0h2M55 123h1m9 0h1m12 0h1m44 0h1m3 0h1m2 0h1m3 0h1m6 0h1m7 0h1m1 0h1m1 0h1m28 0h2m11 0h1m5 0h1m38 0h2m60 0h2m28 0h2m12 0h2m48 0h1M43 124h1m42 0h1m8 0h1m27 0h3m2 0h1m5 0h1m1 0h3m2 0h2m2 0h2m2 0h2m3 0h2m1 0h2m77 0h2m40 0h2m72 0h2m19 0h1M56 125h1m2 0h1m28 0h1m33 0h1m11 0h1m6 0h1m4 0h1m2 0h2m2 0h3m2 0h1m25 0h1m37 0h2m10 0h2M41 126h1m39 0h1m1 0h1m23 0h1m13 0h1m2 0h1m2 0h2m4 0h2m3 0h1m1 0h1m1 0h2m2 0h2m2 0h1m2 0h1m4 0h1m106 0h1m80 0h2m26 0h1M14 127h2m14 0h1m21 0h1m26 0h1m17 0h1m4 0h1m8 0h1m11 0h1m4 0h1m4 0h2m1 0h3m1 0h1m2 0h1m2 0h3m2 0h1m1 0h1m4 0h1m1 0h1m42 0h1m68 0h2m20 0h2m46 0h2m28 0h1M80 128h1m6 0h2m37 0h2m2 0h3m1 0h1m2 0h2m6 0h3m3 0h1m1 0h2m2 0h1m24 0h1m35 0h2m24 0h2m100 0h2m16 0h2m7 0h1m10 0h2M4 129h1m10 0h1m64 0h1m47 0h1m4 0h1m1 0h1m2 0h2m2 0h1m8 0h1m1 0h1m4 0h2m25 0h1m16 0h1m61 0h1m31 0h2m12 0h2m58 0h2M27 130h1m67 0h1m30 0h2m3 0h1m1 0h2m3 0h1m8 0h1m2 0h1m3 0h1m5 0h1m16 0h1m5 0h1m102 0h2m40 0h2m16 0h2m10 0h2m14 0h1m5 0h2M0 131h2m6 0h1m14 0h1m4 0h2m7 0h1m5 0h1m12 0h1m9 0h1m2 0h1m10 0h1m47 0h1m1 0h1m1 0h1m2 0h1m3 0h1m2 0h2m1 0h1m1 0h1m1 0h3m2 0h2m3 0h1m32 0h1m33 0h2m96 0h2m12 0h1m15 0h2m26 0h2M32 132h1m95 0h1m1 0h1m7 0h1m2 0h1m11 0h3m2 0h1m25 0h1m23 0h2m30 0h2m16 0h2m44 0h2m22 0h2m18 0h2m40 0h2M39 133h1m1 0h1m74 0h1m4 0h1m1 0h2m1 0h1m1 0h2m3 0h3m7 0h1m1 0h2m3 0h1m2 0h2m3 0h1m24 0h1m10 0h1m185 0h2M40 134h1m83 0h1m10 0h1m2 0h1m4 0h1m6 0h6m2 0h1m24 0h1m16 0h1m41 0h2m18 0h2m8 0h2m34 0h2m36 0h2m24 0h1m1 0h1M9 135h1m26 0h1m61 0h1m29 0h1m4 0h2m2 0h1m1 0h1m2 0h1m7 0h1m3 0h2m1 0h3m17 0h1m2 0h1m1 0h1m2 0h1m110 0h2m58 0h2m6 0h2m8 0h1M56 136h1m2 0h1m24 0h1m39 0h1m3 0h1m3 0h1m1 0h1m12 0h1m2 0h1m2 0h1m1 0h1m2 0h1m1 0h1m22 0h1m134 0h2m54 0h1M69 137h1m13 0h2m45 0h1m4 0h1m6 0h1m3 0h1m2 0h1m2 0h1m5 0h1m1 0h1m21 0h1m177 0h2m18 0h2M83 138h1m17 0h1m8 0h1m11 0h2m5 0h1m2 0h1m1 0h1m1 0h1m1 0h1m2 0h2m6 0h1m7 0h1m26 0h1m107 0h2M4 139h1m47 0h1m10 0h1m33 0h1m35 0h1m1 0h1m2 0h2m1 0h2m1 0h2m2 0h1m3 0h3m2 0h2m23 0h3m59 0h2m38 0h2m16 0h2m6 0h2m30 0h2m20 0h2m7 0h1m1 0h1M7 140h1m82 0h1m37 0h2m4 0h1m3 0h2m1 0h1m1 0h1m2 0h2m2 0h1m3 0h1m29 0h1m99 0h4m86 0h1m5 0h2M31 141h1m48 0h1m42 0h4m11 0h4m4 0h1m3 0h2m6 0h1m23 0h1m1 0h1m111 0h2m42 0h1m13 0h2m16 0h1m13 0h2M77 142h1m40 0h1m7 0h1m10 0h2m3 0h1m2 0h1m2 0h3m1 0h1m1 0h1m1 0h1m1 0h1m32 0h1m104 0h2m14 0h2m32 0h2m32 0h2M32 143h1m28 0h1m1 0h1m27 0h1m26 0h1m7 0h2m1 0h3m1 0h1m3 0h1m1 0h1m2 0h3m42 0h1m24 0h2m118 0h2m12 0h2m24 0h1M25 144h1m9 0h1m22 0h1m36 0h1m32 0h1m1 0h1m8 0h1m2 0h2m3 0h1m2 0h1m1 0h1m2 0h1m27 0h2m13 0h1m2 0h1m60 0h2m26 0h2m80 0h1M108 145h1m21 0h1m2 0h2m4 0h1m1 0h2m2 0h1m4 0h1m8 0h1m23 0h1m68 0h2m16 0h4m90 0h2M139 146h1m1 0h1m4 0h1m3 0h1m31 0h2m156 0h2m12 0h2m14 0h2M8 147h1m11 0h1m105 0h1m1 0h1m1 0h1m2 0h2m3 0h4m4 0h1m2 0h1m6 0h1m47 0h1m29 0h2m34 0h2m56 0h2m34 0h2m7 0h2m5 0h2M52 148h1m68 0h1m12 0h1m2 0h1m3 0h2m3 0h2m2 0h1m2 0h1m56 0h2m4 0h2m12 0h2m142 0h1m5 0h2M124 149h1m4 0h1m4 0h2m2 0h2m1 0h2m2 0h3m5 0h1m4 0h1m20 0h1m26 0h2m38 0h2m2 0h2m106 0h2m13 0h2m3 0h4M44 150h1m82 0h1m5 0h1m1 0h1m5 0h1m3 0h1m7 0h1m1 0h1m2 0h1m6 0h1m18 0h1m79 0h1m49 0h2m57 0h1M5 151h1m50 0h1m68 0h1m5 0h2m5 0h1m2 0h1m3 0h1m2 0h1m4 0h2m2 0h4m6 0h1m14 0h2m18 0h1m19 0h2m10 0h2m82 0h2m26 0h2M0 152h1m74 0h1m3 0h1m18 0h1m28 0h1m8 0h1m8 0h1m3 0h2m2 0h2m2 0h1m1 0h1m23 0h2m189 0h1M18 153h1m40 0h1m37 0h1m18 0h1m3 0h1m1 0h1m4 0h1m4 0h1m1 0h1m5 0h1m1 0h3m3 0h1m1 0h1m3 0h2m1 0h2m55 0h2m48 0h1m69 0h2m10 0h2m25 0h1M6 154h1m25 0h1m11 0h1m83 0h1m1 0h1m4 0h1m11 0h1m5 0h2m1 0h2m18 0h1m15 0h1m193 0h2M48 155h1m1 0h1m34 0h1m31 0h1m6 0h2m1 0h1m4 0h1m2 0h1m3 0h1m7 0h2m1 0h1m1 0h2m1 0h1m2 0h1m111 0h2m26 0h2M86 156h1m40 0h2m2 0h1m6 0h2m2 0h1m1 0h2m5 0h4m3 0h3m6 0h1m15 0h1m18 0h1m1 0h1m17 0h2m46 0h2m24 0h2m77 0h1m6 0h2M39 157h1m22 0h1m58 0h1m3 0h1m4 0h1m3 0h2m2 0h1m6 0h1m2 0h1m2 0h3m4 0h1m25 0h1m29 0h2m28 0h2m70 0h2m55 0h1m8 0h2M11 158h1m47 0h1m14 0h1m40 0h1m12 0h1m2 0h1m1 0h1m1 0h1m1 0h1m1 0h1m4 0h3m3 0h1m4 0h1m37 0h1m10 0h1m63 0h2m102 0h1m5 0h2M123 159h2m5 0h3m4 0h2m2 0h1m3 0h2m3 0h1m7 0h1m29 0h1m5 0h1m5 0h1m51 0h2m44 0h2m18 0h2m26 0h2m25 0h1M21 160h1m61 0h1m21 0h1m26 0h1m1 0h2m2 0h1m2 0h4m2 0h1m5 0h1m4 0h1m155 0h2m20 0h2m8 0h2m16 0h2M7 161h1m82 0h1m31 0h1m6 0h2m5 0h1m10 0h1m3 0h1m2 0h1m1 0h3m24 0h1m6 0h1m8 0h1m146 0h2m16 0h2m7 0h1m12 0h2M24 162h1m8 0h1m60 0h1m28 0h1m1 0h1m5 0h1m2 0h1m3 0h1m4 0h1m1 0h2m4 0h2m1 0h1m4 0h2m21 0h1m117 0h2m18 0h2m8 0h2m24 0h2m16 0h1m5 0h2M54 163h1m44 0h1m24 0h1m3 0h1m4 0h1m3 0h2m2 0h1m3 0h3m1 0h2m2 0h3m2 0h1m23 0h2m10 0h1m77 0h2m6 0h2m16 0h4m14 0h2m46 0h2M51 164h1m56 0h1m14 0h1m14 0h1m7 0h3m1 0h2m2 0h1m27 0h1m7 0h1m121 0h2m32 0h2m20 0h2M64 165h1m8 0h1m49 0h1m11 0h1m1 0h1m2 0h1m2 0h1m5 0h2m2 0h1m3 0h2m12 0h1m12 0h1m81 0h2m20 0h2m12 0h2m90 0h2M9 166h1m64 0h1m13 0h1m35 0h1m2 0h2m1 0h1m3 0h1m2 0h2m3 0h1m1 0h1m2 0h2m1 0h1m37 0h1m121 0h2m60 0h1M27 167h1m31 0h1m42 0h1m25 0h1m7 0h3m2 0h2m2 0h1m1 0h1m6 0h1m3 0h1m185 0h2m27 0h2m5 0h2M66 168h1m57 0h1m4 0h1m1 0h1m1 0h2m2 0h2m4 0h5m3 0h1m1 0h1m2 0h1m2 0h1m24 0h1m85 0h2m60 0h2m12 0h2m26 0h1m5 0h2M3 169h1m13 0h1m6 0h1m7 0h1m12 0h1m4 0h1m45 0h1m23 0h1m3 0h3m3 0h2m2 0h1m3 0h1m4 0h1m1 0h1m2 0h1m1 0h1m1 0h1m1 0h2m1 0h1m24 0h1m1 0h1m97 0h2m44 0h2m28 0h2m4 0h2m6 0h1m15 0h2M13 170h1m106 0h2m11 0h2m3 0h1m3 0h1m2 0h1m2 0h1m1 0h2m2 0h2m1 0h1m26 0h1m1 0h1m23 0h2m24 0h2m142 0h2M13 171h1m48 0h1m16 0h1m38 0h1m4 0h2m1 0h1m6 0h1m6 0h1m1 0h1m2 0h2m8 0h1m26 0h1m4 0h1m104 0h2M67 172h1m56 0h1m1 0h1m4 0h1m3 0h1m2 0h1m3 0h1m2 0h2m3 0h1m3 0h1m4 0h1m156 0h2m57 0h1M16 173h1m31 0h1m41 0h1m4 0h1m10 0h1m16 0h1m6 0h1m7 0h2m4 0h1m1 0h1m3 0h2m3 0h1m1 0h1m25 0h1m21 0h1m40 0h2m70 0h2m16 0h2m8 0h2m10 0h4M5 174h1m17 0h1m104 0h1m5 0h1m3 0h1m6 0h1m1 0h1m5 0h1m3 0h1m31 0h1m78 0h2m58 0h2m16 0h2m18 0h2m6 0h2m4 0h2M58 175h1m28 0h1m2 0h1m44 0h2m2 0h1m1 0h1m4 0h1m2 0h2m3 0h2m1 0h1m1 0h1m24 0h1m33 0h2m36 0h2m40 0h2m36 0h2m6 0h2m18 0h2m7 0h1m2 0h2m2 0h2M9 176h1m30 0h1m86 0h1m6 0h1m3 0h2m2 0h1m1 0h1m2 0h1m4 0h1m2 0h1m3 0h1m22 0h3m69 0h2m66 0h2m22 0h2m25 0h1m6 0h2M26 177h1m20 0h1m9 0h1m73 0h1m2 0h1m2 0h1m1 0h1m5 0h3m3 0h1m1 0h1m1 0h1m1 0h1m1 0h1m23 0h1m20 0h1m19 0h2m2 0h2m8 0h2m114 0h2m24 0h2m8 0h2M0 178h1m2 0h1m32 0h1m61 0h1m32 0h1m3 0h1m2 0h1m3 0h1m1 0h1m2 0h1m2 0h1m3 0h1m3 0h3m161 0h2m22 0h4m23 0h1m6 0h2M10 179h1m26 0h1m21 0h1m14 0h1m52 0h3m1 0h1m3 0h1m2 0h1m2 0h3m6 0h1m1 0h1m1 0h1m2 0h3m23 0h1m8 0h1m29 0h2m20 0h2m42 0h2m4 0h2m58 0h2m2 0h2m24 0h2M19 180h1m73 0h1m29 0h2m9 0h1m1 0h4m1 0h1m11 0h3m2 0h1m85 0h4m98 0h2m6 0h2m18 0h1M129 181h1m4 0h1m3 0h1m2 0h1m3 0h1m5 0h5m2 0h1m25 0h1m20 0h1m14 0h2m6 0h2m88 0h2m62 0h2M12 182h1m43 0h1m2 0h1m14 0h1m41 0h1m5 0h1m6 0h1m1 0h1m1 0h3m6 0h1m2 0h1m3 0h3m2 0h2m1 0h1m25 0h1m2 0h1m19 0h2m66 0h2m96 0h1m7 0h2M13 183h1m78 0h1m8 0h1m13 0h1m7 0h2m11 0h1m1 0h2m3 0h1m1 0h1m1 0h1m4 0h1m4 0h2m1 0h1m97 0h2m86 0h2m12 0h2M122 184h1m1 0h1m4 0h1m1 0h1m10 0h1m2 0h1m1 0h1m2 0h1m2 0h1m1 0h1m3 0h1m104 0h2m26 0h2m30 0h2m22 0h2m18 0h2m2 0h1m1 0h1m5 0h2M22 185h1m26 0h1m71 0h1m12 0h2m1 0h1m1 0h1m4 0h1m1 0h1m2 0h1m5 0h1m140 0h2m48 0h2m15 0h1M105 186h1m19 0h1m4 0h2m3 0h4m3 0h3m1 0h2m1 0h3m1 0h2m4 0h1m18 0h1m63 0h2m108 0h2M3 187h1m6 0h1m109 0h1m7 0h1m5 0h2m3 0h1m3 0h1m2 0h1m6 0h1m1 0h1m28 0h1m7 0h1m5 0h1m69 0h2m69 0h1m40 0h2M28 188h1m41 0h1m52 0h1m2 0h1m7 0h1m3 0h1m4 0h1m8 0h1m1 0h1m3 0h1m24 0h1m4 0h1m10 0h1m36 0h2m38 0h2m18 0h2m48 0h2m32 0h2m6 0h2m4 0h2M12 189h1m60 0h1m13 0h1m36 0h1m3 0h1m1 0h1m2 0h1m1 0h1m1 0h3m3 0h2m1 0h2m5 0h1m1 0h1m2 0h2m24 0h1m61 0h2m104 0h2m19 0h2M8 190h1m3 0h1m1 0h1m74 0h1m9 0h1m23 0h2m1 0h1m2 0h2m11 0h2m2 0h2m1 0h1m3 0h1m4 0h1m25 0h1m2 0h1m8 0h1m23 0h2m32 0h2m2 0h2m100 0h2m12 0h1M38 191h1m2 0h1m65 0h1m18 0h1m2 0h1m4 0h1m2 0h1m7 0h1m3 0h2m3 0h2m7 0h1m38 0h1m101 0h1m41 0h2m32 0h2M7 192h1m86 0h1m33 0h1m4 0h2m3 0h2m1 0h2m4 0h1m2 0h1m2 0h1m1 0h1m2 0h2m100 0h2m24 0h2m10 0h2m6 0h2m18 0h2M42 193h1m83 0h1m2 0h1m3 0h1m1 0h1m7 0h1m1 0h1m3 0h2m6 0h2m23 0h2m5 0h1m32 0h2m140 0h2M87 194h1m13 0h1m24 0h1m1 0h1m9 0h2m3 0h1m9 0h6m24 0h1m11 0h1m38 0h2m138 0h1M1 195h1m30 0h1m82 0h1m19 0h1m2 0h2m1 0h1m2 0h1m5 0h3m1 0h1m28 0h1m56 0h2m80 0h2m56 0h2M10 196h1m4 0h1m115 0h1m4 0h1m8 0h1m4 0h1m3 0h1m37 0h1m72 0h1M68 197h1m35 0h1m8 0h1m9 0h1m1 0h1m2 0h1m1 0h1m1 0h1m9 0h1m3 0h2m1 0h3m2 0h1m2 0h2m15 0h1m41 0h2m22 0h2m138 0h2M16 198h1m109 0h1m3 0h1m14 0h2m2 0h2m2 0h1m3 0h2m89 0h2m15 0h1m30 0h2m48 0h2m26 0h1M0 199h1m2 0h1m5 0h1m9 0h1m9 0h1m24 0h1m22 0h1m45 0h1m2 0h2m2 0h1m12 0h1m3 0h1m6 0h1m5 0h1m28 0h1m10 0h1m133 0h2M14 200h1m108 0h2m8 0h1m3 0h1m4 0h1m9 0h1m5 0h1m23 0h1m16 0h1m48 0h2m6 0h2m38 0h2m40 0h1m43 0h2M25 201h1m18 0h1m3 0h1m26 0h1m5 0h1m2 0h1m14 0h1m22 0h1m1 0h1m2 0h1m15 0h1m1 0h1m4 0h1m1 0h2m3 0h2m42 0h1m1 0h1m30 0h2m26 0h2m62 0h2m26 0h2m17 0h2m5 0h2M3 202h1m6 0h1m113 0h1m5 0h1m1 0h1m14 0h1m2 0h1m4 0h1m2 0h1m121 0h2m34 0h2m48 0h2m6 0h1M20 203h1m44 0h1m50 0h1m3 0h1m12 0h2m2 0h2m2 0h1m1 0h1m6 0h1m2 0h1m3 0h3m22 0h1m12 0h1m46 0h2m30 0h2m14 0h2m88 0h2M114 204h1m4 0h1m2 0h1m6 0h1m1 0h1m2 0h2m2 0h2m1 0h1m8 0h1m3 0h1m3 0h1m24 0h1m20 0h1m5 0h2m26 0h2m16 0h2m82 0h1m23 0h1m8 0h2m5 0h2m6 0h2M65 205h1m31 0h1m31 0h1m4 0h1m3 0h1m2 0h4m1 0h1m2 0h1m1 0h1m2 0h2m2 0h1m24 0h1m11 0h1m24 0h2m18 0h2m52 0h2m50 0h2m25 0h2M17 206h1m21 0h1m35 0h1m59 0h1m1 0h1m2 0h1m1 0h1m2 0h1m3 0h1m2 0h2m1 0h1m1 0h1m112 0h2m74 0h2m16 0h2m12 0h2M73 207h1m2 0h1m13 0h1m34 0h1m2 0h1m5 0h1m2 0h2m3 0h1m2 0h1m1 0h1m5 0h2m1 0h1m1 0h1m23 0h1m35 0h2m96 0h4m4 0h2m13 0h1m6 0h2m16 0h2m28 0h2M13 208h1m2 0h1m38 0h1m29 0h1m33 0h1m2 0h1m8 0h1m5 0h1m7 0h1m6 0h1m1 0h1m5 0h1m2 0h1m18 0h2m54 0h2m30 0h2m12 0h2m56 0h2m2 0h2m16 0h2m7 0h1M21 209h1m33 0h1m56 0h1m20 0h3m13 0h1m4 0h2m1 0h1m24 0h1m1 0h1m179 0h2m14 0h2M76 210h1m19 0h1m14 0h1m15 0h1m1 0h2m4 0h1m1 0h2m8 0h1m1 0h1m3 0h1m1 0h1m32 0h1m6 0h2m47 0h2m118 0h2m7 0h1M25 211h1m41 0h1m40 0h1m2 0h1m18 0h2m5 0h1m3 0h1m4 0h2m2 0h1m6 0h2m71 0h2m8 0h2m102 0h4m16 0h4m12 0h2m4 0h4M72 212h1m32 0h1m15 0h1m8 0h1m6 0h2m1 0h1m6 0h1m2 0h1m3 0h1m3 0h1m15 0h1m7 0h1m145 0h2m16 0h2m14 0h2M33 213h1m6 0h1m82 0h1m1 0h1m2 0h1m4 0h1m3 0h1m1 0h1m1 0h1m4 0h2m2 0h1m4 0h1m1 0h2m41 0h1m21 0h2m8 0h2m139 0h2M18 214h1m73 0h1m31 0h1m13 0h1m3 0h1m2 0h1m1 0h2m2 0h1m1 0h2m2 0h1m2 0h1m6 0h1m198 0h2m5 0h1m12 0h2M21 215h1m6 0h1m20 0h1m63 0h1m20 0h1m2 0h2m2 0h2m2 0h2m3 0h1m2 0h2m5 0h1m22 0h2m41 0h2m34 0h2m40 0h2m56 0h4M47 216h1m35 0h1m31 0h1m17 0h1m4 0h1m2 0h1m1 0h1m1 0h2m4 0h1m5 0h1m1 0h1m22 0h1m17 0h1m161 0h2m16 0h2m14 0h1M1 217h1m17 0h1m4 0h1m31 0h1m68 0h1m8 0h1m3 0h2m2 0h1m4 0h1m2 0h1m2 0h1m4 0h3m15 0h1m7 0h1m59 0h2m32 0h2m94 0h1m1 0h2M8 218h1m3 0h1m18 0h1m70 0h1m14 0h1m20 0h1m3 0h2m2 0h2m5 0h3m1 0h3m14 0h1m8 0h1m90 0h2m70 0h2m26 0h1M7 219h1m9 0h1m8 0h1m22 0h1m43 0h1m30 0h1m3 0h2m4 0h1m7 0h1m4 0h1m1 0h2m6 0h1m1 0h1m40 0h1m23 0h2m58 0h2m60 0h2m26 0h1m7 0h2M80 220h1m45 0h1m3 0h2m5 0h1m1 0h1m1 0h2m4 0h1m1 0h1m1 0h1m1 0h2m17 0h1m10 0h1m3 0h1m7 0h1m6 0h1m71 0h2m70 0h2m27 0h1m4 0h2M32 221h1m90 0h1m10 0h1m1 0h1m2 0h1m2 0h1m2 0h2m1 0h1m1 0h2m2 0h1m3 0h1m113 0h2m99 0h1m14 0h2M59 222h1m5 0h1m14 0h1m42 0h2m1 0h1m1 0h1m3 0h1m1 0h2m1 0h1m7 0h1m8 0h1m2 0h2m1 0h2m32 0h1m2 0h1m6 0h1m19 0h2m52 0h2m58 0h1m7 0h2m2 0h2m4 0h2m6 0h2m2 0h2m5 0h1m18 0h2M7 223h1m42 0h1m25 0h1m33 0h1m4 0h1m7 0h1m4 0h4m1 0h2m3 0h3m8 0h1m4 0h2m1 0h1m1 0h1m23 0h2m8 0h1m40 0h2m50 0h2m68 0h2m15 0h1m4 0h2M12 224h1m113 0h1m15 0h1m3 0h1m36 0h1m156 0h1m1 0h2m20 0h2m26 0h2M126 225h2m3 0h1m1 0h2m7 0h2m10 0h2m2 0h1m1 0h1m39 0h1m39 0h2m104 0h2m26 0h1M14 226h1m63 0h1m7 0h1m15 0h1m18 0h1m12 0h1m2 0h2m3 0h1m2 0h2m3 0h1m5 0h1m1 0h1m24 0h2m31 0h2m18 0h2m30 0h2m46 0h2m28 0h2m25 0h1M2 227h1m9 0h1m36 0h1m46 0h1m24 0h1m1 0h1m1 0h1m2 0h2m7 0h2m12 0h1m2 0h1m3 0h1m11 0h1m12 0h1m4 0h2m102 0h2m70 0h2m7 0h2m17 0h2M14 228h1m24 0h1m6 0h1m29 0h1m47 0h1m1 0h1m12 0h1m1 0h1m2 0h1m1 0h1m3 0h1m4 0h1m2 0h1m25 0h1m29 0h2m72 0h2m4 0h2m60 0h2m15 0h2M36 229h1m29 0h1m54 0h1m5 0h2m5 0h1m4 0h1m1 0h1m7 0h1m4 0h3m25 0h1m1 0h1m13 0h1m4 0h1m8 0h2m68 0h2m4 0h2m22 0h2m61 0h1m4 0h2m6 0h2M9 230h1m55 0h1m67 0h2m2 0h2m2 0h2m4 0h1m5 0h1m29 0h2m37 0h2m41 0h1m88 0h4m16 0h1M17 231h1m21 0h1m62 0h1m11 0h1m4 0h1m3 0h2m6 0h1m2 0h1m7 0h1m8 0h1m5 0h2m1 0h1m5 0h1m15 0h2m8 0h1m12 0h1m6 0h2m4 0h2m78 0h2m62 0h2M115 232h1m27 0h1m5 0h2m3 0h1m1 0h1m27 0h1m57 0h2m2 0h2m112 0h2m2 0h2m6 0h1m15 0h2M20 233h1m29 0h2m32 0h1m11 0h1m21 0h1m5 0h1m3 0h1m2 0h2m1 0h1m3 0h1m3 0h1m3 0h3m1 0h2m1 0h2m3 0h2m22 0h2m1 0h1m4 0h1m13 0h1m19 0h2m102 0h2m45 0h1m14 0h2M5 234h1m12 0h1m11 0h1m39 0h1m54 0h1m1 0h4m3 0h1m3 0h1m3 0h1m3 0h1m2 0h2m3 0h1m29 0h1m25 0h2m58 0h2m40 0h2M97 235h1m11 0h1m13 0h2m5 0h1m10 0h1m2 0h3m3 0h1m3 0h1m2 0h1m1 0h1m22 0h1m15 0h1m53 0h2m10 0h1m105 0h1m3 0h1m1 0h2M3 236h1m49 0h1m73 0h2m3 0h1m5 0h1m1 0h1m1 0h1m3 0h1m3 0h1m3 0h1m4 0h1m22 0h1m14 0h2m7 0h2m22 0h2m20 0h2m120 0h1m5 0h2M87 237h1m33 0h1m1 0h2m9 0h1m3 0h1m7 0h1m1 0h2m1 0h1m1 0h1m3 0h2m19 0h1m5 0h1m81 0h2m26 0h2m2 0h2m8 0h2m36 0h4m23 0h1m1 0h1M48 238h1m75 0h2m4 0h1m3 0h1m3 0h1m9 0h4m5 0h1m2 0h1m22 0h1m188 0h1m3 0h2M1 239h1m67 0h1m63 0h2m1 0h1m1 0h4m3 0h3m1 0h1m1 0h1m5 0h1m25 0h1m40 0h2m38 0h1m29 0h2m6 0h2m12 0h2m10 0h2m16 0h2m4 0h2m20 0h1m5 0h4M30 240h1m2 0h1m20 0h1m61 0h1m25 0h1m4 0h1m2 0h2m2 0h1m2 0h2m23 0h1m117 0h2m44 0h2m28 0h2m6 0h2M60 241h1m63 0h1m1 0h2m2 0h1m3 0h1m2 0h3m1 0h3m2 0h1m2 0h1m1 0h1m1 0h1m4 0h2m2 0h1m20 0h1m1 0h1m48 0h2m62 0h2m64 0h2m7 0h1m6 0h2M0 242h1m17 0h1m15 0h1m9 0h1m38 0h1m18 0h1m6 0h1m15 0h1m2 0h1m6 0h1m5 0h1m4 0h1m1 0h1m1 0h1m3 0h2m3 0h2m21 0h2m90 0h2M31 243h1m95 0h1m3 0h1m2 0h1m3 0h2m9 0h1m4 0h1m1 0h1m1 0h2m4 0h1m17 0h2m1 0h1m3 0h1m9 0h1m18 0h2m72 0h2m20 0h2m56 0h1m7 0h2M39 244h1m66 0h1m11 0h1m7 0h1m4 0h1m2 0h2m2 0h1m3 0h1m3 0h1m3 0h1m2 0h1m4 0h1m8 0h1m20 0h1m10 0h1m5 0h1m158 0h2m20 0h2M8 245h1m21 0h1m13 0h1m6 0h1m55 0h2m8 0h1m3 0h1m2 0h1m2 0h1m2 0h2m1 0h2m2 0h1m2 0h1m2 0h1m6 0h1m3 0h1m5 0h1m6 0h1m22 0h1m27 0h2m4 0h2m12 0h2m84 0h2m22 0h2m30 0h2M1 246h1m93 0h1m27 0h1m4 0h2m1 0h1m4 0h1m2 0h1m2 0h1m1 0h1m1 0h2m2 0h1m2 0h2m4 0h1m23 0h1m19 0h2m23 0h2m4 0h2m110 0h2m16 0h2M82 247h1m2 0h1m10 0h1m17 0h1m20 0h1m3 0h1m5 0h1m3 0h4m1 0h1m1 0h2m1 0h2m65 0h2m6 0h2m110 0h4m24 0h1m9 0h2M12 248h1m14 0h1m99 0h1m5 0h2m1 0h1m1 0h2m2 0h1m4 0h1m2 0h1m2 0h1m3 0h2m24 0h1m14 0h1m4 0h1m16 0h2m152 0h1M8 249h1m7 0h1m109 0h1m7 0h1m3 0h1m3 0h1m6 0h2m7 0h1m23 0h1m1 0h1m6 0h1m16 0h2m55 0h1m98 0h2M124 250h1m9 0h2m2 0h1m3 0h1m2 0h2m4 0h1m4 0h1m1 0h2m14 0h1m14 0h1m82 0h2m4 0h2m92 0h1M124 251h1m4 0h3m1 0h1m1 0h1m2 0h2m2 0h2m2 0h1m6 0h1m1 0h1m1 0h3m41 0h1m26 0h2m10 0h2m14 0h2m42 0h2m44 0h2M3 252h1m9 0h1m45 0h1m20 0h1m47 0h2m1 0h1m1 0h2m7 0h2m2 0h1m2 0h1m2 0h1m1 0h1m2 0h3m24 0h1m115 0h4m24 0h2m20 0h4m10 0h2M76 253h1m29 0h1m11 0h1m1 0h2m5 0h2m3 0h3m3 0h1m2 0h1m1 0h1m2 0h1m6 0h2m13 0h1m13 0h1m2 0h1m4 0h1m33 0h2m4 0h2m22 0h2m28 0h2m30 0h2m8 0h2m24 0h2m20 0h1M96 254h1m26 0h2m1 0h3m6 0h1m7 0h1m10 0h1m3 0h1m24 0h1m124 0h2m54 0h2m7 0h1m4 0h2M59 255h1m53 0h1m10 0h4m2 0h1m3 0h2m2 0h1m2 0h3m2 0h1m2 0h1m34 0h1m23 0h2m16 0h2m2 0h2m33 0h1m73 0h1m14 0h2m8 0h2M15 256h1m43 0h1m24 0h1m8 0h1m30 0h1m8 0h1m4 0h1m3 0h1m3 0h1m2 0h1m8 0h1m14 0h1m9 0h2m105 0h2m44 0h2m18 0h2m6 0h2m7 0h1m2 0h2M45 257h1m78 0h1m3 0h1m5 0h1m10 0h2m2 0h1m5 0h1m2 0h3m23 0h1m59 0h2m92 0h1m7 0h2m4 0h2m18 0h1M43 258h1m8 0h1m3 0h1m67 0h1m3 0h1m6 0h1m1 0h2m3 0h1m6 0h1m3 0h2m3 0h1m31 0h1m7 0h1m21 0h2m68 0h2m32 0h2m20 0h2m22 0h2m8 0h2M90 259h1m33 0h2m12 0h1m10 0h2m3 0h1m3 0h1m25 0h1m2 0h1m3 0h1m28 0h2m4 0h2m6 0h2m36 0h2m6 0h2m34 0h2m24 0h2m2 0h2m6 0h2m24 0h2m14 0h1M31 260h1m14 0h1m9 0h1m45 0h1m26 0h1m4 0h1m7 0h1m1 0h1m2 0h1m1 0h2m2 0h4m1 0h1m143 0h2m69 0h1M45 261h1m40 0h1m36 0h1m1 0h1m6 0h1m1 0h2m2 0h2m6 0h2m1 0h3m1 0h1m4 0h1m13 0h1m20 0h1m144 0h1m7 0h2m2 0h2m2 0h2m14 0h2m8 0h2M13 262h1m35 0h1m12 0h1m42 0h1m17 0h1m9 0h2m1 0h2m4 0h1m3 0h2m2 0h2m2 0h2m132 0h2m32 0h2m28 0h2M33 263h1m23 0h1m19 0h1m35 0h1m18 0h3m6 0h1m1 0h1m1 0h1m4 0h2m2 0h1m2 0h2m2 0h1m31 0h1m32 0h2m34 0h2m8 0h2m72 0h2m16 0h2M127 264h1m6 0h1m2 0h1m5 0h1m6 0h5m3 0h1m117 0h2m70 0h2M49 265h1m63 0h1m5 0h1m2 0h1m2 0h1m2 0h1m1 0h1m1 0h1m5 0h1m5 0h3m2 0h1m1 0h1m3 0h1m2 0h2m25 0h1m1 0h1m11 0h1m50 0h2m32 0h2m56 0h2m2 0h2m25 0h1m18 0h2M11 266h1m23 0h1m5 0h1m34 0h1m40 0h1m4 0h1m2 0h1m1 0h2m1 0h2m2 0h1m5 0h3m4 0h1m2 0h1m6 0h2m75 0h2m110 0h2m26 0h1M33 267h1m11 0h1m50 0h1m17 0h1m8 0h1m3 0h2m1 0h1m3 0h1m1 0h1m4 0h1m4 0h1m2 0h1m1 0h2m4 0h3m7 0h1m17 0h1m6 0h1m35 0h2m34 0h1m1 0h2m50 0h2m52 0h1M0 268h1m5 0h2m31 0h1m67 0h1m20 0h1m1 0h2m3 0h1m2 0h1m3 0h1m2 0h2m12 0h1m22 0h2m2 0h1m10 0h1m16 0h2m46 0h2m86 0h2m18 0h2M9 269h1m36 0h1m16 0h1m44 0h1m12 0h1m4 0h2m7 0h1m6 0h1m2 0h1m1 0h1m1 0h5m25 0h1m2 0h1m49 0h2m30 0h1m1 0h2m50 0h2m54 0h1M27 270h1m56 0h1m4 0h1m41 0h1m1 0h2m6 0h1m3 0h2m3 0h1m3 0h1m28 0h1m104 0h2m74 0h2M51 271h1m60 0h1m13 0h1m2 0h1m4 0h2m2 0h1m3 0h1m8 0h1m2 0h2m28 0h1m79 0h1m33 0h2m10 0h2m34 0h2m12 0h2m18 0h2M12 272h1m115 0h2m4 0h1m1 0h1m1 0h2m5 0h4m5 0h1m27 0h2m36 0h2m22 0h2m22 0h2m58 0h2m28 0h2m12 0h3m13 0h2M46 273h1m79 0h1m6 0h2m2 0h2m3 0h1m2 0h1m3 0h1m1 0h1m21 0h1m36 0h2m16 0h2m143 0h1m6 0h2M64 274h1m6 0h1m5 0h1m22 0h1m1 0h1m22 0h5m2 0h1m1 0h2m1 0h1m4 0h1m1 0h1m1 0h1m2 0h1m13 0h1m13 0h1m3 0h1m68 0h2m94 0h2m4 0h2m14 0h2m2 0h2M75 275h1m46 0h1m11 0h1m2 0h2m109 0h2m96 0h2m12 0h2m18 0h2M2 276h1m16 0h1m50 0h1m2 0h1m48 0h1m4 0h1m2 0h2m51 0h2m17 0h1m15 0h2m12 0h2m6 0h2m78 0h2m24 0h2m4 0h2m10 0h2M95 277h1m28 0h1m8 0h3m2 0h1m87 0h2m46 0h2m20 0h2m76 0h1M14 278h1m25 0h1m59 0h1m27 0h1m6 0h1m22 0h1m23 0h1m131 0h2m24 0h2m28 0h2m8 0h2M2 279h1m58 0h1m13 0h1m40 0h1m8 0h1m4 0h1m23 0h1m28 0h1m7 0h1m140 0h2m30 0h2M30 280h1m4 0h1m67 0h1m2 0h1m8 0h1m11 0h1m25 0h1m3 0h2m51 0h2m70 0h2m44 0h2m16 0h2m16 0h2m2 0h2M2 281h1m13 0h1m25 0h1m4 0h1m22 0h2m12 0h1m29 0h1m3 0h1m27 0h1m6 0h1m4 0h1m1 0h1m21 0h1m1 0h1m83 0h2m8 0h2m78 0h2m4 0h2m20 0h2M11 282h1m19 0h1m1 0h1m3 0h1m53 0h1m22 0h1m24 0h1m3 0h1m2 0h2m1 0h1m3 0h2m17 0h2m8 0h1m2 0h1m3 0h3m48 0h2m36 0h2m16 0h2m6 0h2m40 0h2m8 0h2M38 283h1m9 0h1m17 0h1m71 0h1m4 0h1m1 0h2m4 0h1m2 0h2m11 0h1m24 0h1m37 0h2m106 0h1m15 0h2M24 284h2m6 0h1m104 0h1m1 0h1m3 0h3m3 0h3m1 0h2m2 0h1m26 0h1m95 0h2m12 0h2m4 0h2m24 0h2m12 0h2m6 0h2m30 0h2m14 0h1M8 285h1m6 0h1m55 0h1m12 0h1m39 0h1m12 0h3m2 0h1m2 0h2m2 0h1m1 0h4m3 0h1m49 0h2m66 0h2m95 0h2M128 286h1m1 0h1m3 0h2m2 0h1m4 0h2m2 0h1m5 0h1m12 0h1m15 0h1m1 0h1m15 0h1m33 0h2m6 0h2m70 0h2m44 0h2m11 0h2M6 287h1m7 0h1m8 0h1m4 0h1m9 0h1m52 0h1m37 0h1m3 0h3m2 0h2m1 0h1m3 0h1m1 0h1m1 0h1m1 0h1m6 0h1m12 0h1m10 0h1m1 0h1m3 0h1m129 0h2m26 0h2m12 0h2m2 0h2M106 288h1m32 0h1m2 0h1m1 0h4m1 0h2m2 0h3m2 0h1m14 0h1m10 0h1m23 0h2m52 0h2m18 0h4M42 289h1m6 0h1m28 0h1m55 0h1m2 0h2m3 0h2m6 0h2m3 0h1m2 0h1m1 0h1m14 0h1m88 0h1m35 0h2m36 0h1m7 0h2m25 0h1M32 290h1m4 0h1m27 0h1m31 0h1m22 0h1m2 0h1m5 0h1m3 0h1m3 0h1m5 0h1m1 0h1m1 0h1m1 0h1m1 0h1m3 0h1m1 0h2m25 0h1m73 0h2m54 0h2M18 291h1m2 0h1m23 0h2m3 0h1m38 0h2m27 0h1m5 0h1m6 0h1m2 0h1m1 0h1m5 0h1m4 0h1m1 0h2m6 0h1m1 0h1m24 0h1m14 0h1m20 0h2m34 0h2m14 0h2m8 0h1m53 0h2m8 0h2m25 0h1M51 292h1m16 0h1m18 0h1m30 0h1m19 0h2m2 0h3m2 0h1m2 0h1m32 0h2m1 0h1m159 0h2m18 0h2m6 0h1M36 293h1m17 0h1m4 0h1m19 0h1m20 0h1m17 0h1m2 0h1m1 0h1m4 0h1m1 0h1m7 0h1m2 0h3m1 0h2m3 0h1m1 0h4m1 0h3m22 0h2m42 0h2m140 0h2m4 0h1m9 0h2M18 294h1m45 0h1m32 0h1m9 0h1m9 0h1m8 0h1m3 0h1m2 0h2m1 0h2m3 0h2m3 0h1m6 0h2m3 0h1m24 0h1m3 0h1m3 0h1m154 0h2m26 0h1m3 0h2M28 295h1m101 0h1m4 0h1m1 0h3m5 0h3m2 0h2m2 0h1m5 0h1m12 0h1m22 0h1m51 0h2m96 0h2m24 0h1M80 296h1m45 0h3m4 0h1m1 0h1m2 0h1m4 0h1m6 0h2m1 0h1m4 0h1m1 0h1m23 0h1m25 0h2m24 0h2m27 0h1m107 0h1m6 0h1M2 297h1m16 0h1m10 0h1m13 0h1m1 0h1m19 0h1m25 0h1m36 0h1m1 0h1m3 0h1m2 0h2m2 0h2m2 0h1m2 0h1m2 0h1m5 0h1m24 0h1m6 0h1m148 0h1m34 0h1M25 298h1m3 0h1m18 0h1m36 0h1m9 0h1m21 0h2m1 0h1m2 0h1m10 0h2m1 0h1m3 0h1m1 0h1m2 0h1m2 0h1m1 0h1m5 0h2m51 0h2m152 0h2m4 0h2M46 299h1m11 0h1m5 0h1m54 0h1m5 0h1m1 0h2m3 0h1m1 0h1m3 0h1m4 0h1m2 0h1m3 0h2m1 0h1m2 0h1m42 0h1m146 0h2m16 0h2m8 0h1m19 0h2M4 300h1m3 0h1m16 0h1m56 0h1m10 0h1m12 0h1m23 0h1m1 0h2m3 0h1m1 0h3m1 0h3m3 0h1m4 0h3m1 0h1m24 0h2m19 0h1m15 0h2m124 0h2m2 0h2m23 0h1m4 0h2M6 301h1m16 0h1m5 0h1m10 0h1m18 0h1m25 0h1m61 0h1m3 0h1m1 0h1m1 0h1m41 0h1m20 0h2m68 0h2m20 0h2m34 0h2m24 0h2m6 0h2M22 302h1m3 0h1m3 0h1m23 0h2m3 0h1m28 0h1m20 0h1m10 0h1m2 0h1m4 0h2m7 0h1m2 0h1m1 0h1m6 0h1m1 0h1m2 0h1m3 0h2m25 0h1m24 0h4m4 0h2m20 0h2m26 0h2m36 0h2m65 0h2m3 0h2M42 303h1m3 0h1m54 0h1m23 0h3m7 0h1m1 0h1m1 0h2m3 0h1m1 0h1m3 0h1m2 0h1m4 0h1m79 0h2m74 0h2m74 0h2M8 304h1m71 0h1m19 0h1m30 0h2m1 0h1m2 0h1m1 0h1m1 0h1m1 0h1m2 0h2m2 0h1m1 0h1m2 0h1m2 0h2m74 0h2m8 0h2m19 0h1m50 0h2m38 0h2m18 0h2M16 305h1m30 0h1m2 0h1m3 0h1m74 0h1m7 0h1m1 0h1m5 0h2m1 0h1m1 0h1m1 0h1m4 0h2m38 0h1m100 0h2m10 0h2m34 0h2m16 0h2M24 306h1m81 0h1m8 0h1m12 0h2m3 0h1m4 0h1m6 0h3m1 0h1m1 0h1m1 0h1m4 0h1m1 0h1m22 0h1m72 0h4m14 0h2m76 0h2M35 307h1m13 0h1m45 0h1m27 0h1m3 0h1m2 0h1m3 0h1m11 0h2m3 0h1m2 0h2m2 0h1m27 0h1m11 0h1m25 0h2m96 0h2m2 0h2m2 0h2m32 0h2m18 0h2M42 308h1m34 0h1m26 0h1m16 0h1m3 0h1m9 0h1m4 0h1m2 0h1m1 0h1m1 0h1m1 0h2m6 0h1m24 0h1m1 0h1m14 0h1m18 0h2m18 0h2m88 0h2m16 0h2m26 0h1M1 309h1m31 0h1m82 0h1m8 0h1m7 0h1m1 0h1m2 0h2m2 0h4m4 0h1m3 0h1m3 0h1m1 0h1m23 0h1m57 0h2m44 0h2m12 0h2m4 0h2m36 0h2m2 0h2M5 310h1m16 0h1m37 0h1m60 0h1m12 0h2m1 0h1m1 0h1m1 0h1m3 0h1m6 0h1m1 0h2m1 0h2m1 0h1m21 0h1m1 0h1m2 0h1m185 0h2m1 0h2M29 311h1m15 0h1m74 0h1m2 0h3m1 0h1m2 0h2m1 0h1m1 0h1m9 0h1m3 0h3m2 0h1m3 0h1m6 0h1m98 0h1m11 0h2m96 0h1m5 0h2m10 0h2M29 312h1m21 0h1m13 0h1m18 0h1m3 0h1m5 0h1m21 0h2m12 0h1m3 0h1m3 0h1m2 0h2m1 0h1m1 0h1m3 0h1m2 0h2m2 0h1m29 0h1m20 0h2m8 0h2m44 0h1m9 0h2m30 0h2m40 0h2m14 0h2M24 313h1m98 0h1m9 0h1m3 0h3m3 0h1m11 0h1m2 0h1m21 0h1m1 0h1m1 0h1m6 0h1m40 0h2m36 0h4m42 0h2m28 0h2m14 0h2M23 314h1m41 0h1m7 0h1m9 0h1m15 0h1m16 0h1m8 0h1m4 0h2m1 0h1m1 0h1m5 0h1m3 0h1m4 0h2m1 0h2m3 0h2m23 0h2m14 0h1m5 0h1m167 0h1M31 315h1m9 0h1m11 0h1m84 0h3m3 0h1m5 0h1m2 0h1m3 0h2m1 0h1m21 0h1m21 0h1m67 0h2m54 0h2m16 0h2M3 316h1m12 0h1m77 0h1m28 0h1m7 0h1m1 0h1m4 0h1m4 0h1m2 0h1m3 0h1m3 0h2m1 0h2m33 0h1m10 0h1m12 0h2m8 0h2m118 0h2m8 0h2m14 0h1M21 317h1m6 0h1m9 0h1m82 0h1m2 0h1m6 0h1m1 0h2m3 0h1m7 0h2m3 0h1m5 0h4m22 0h1m4 0h1m69 0h2m62 0h2m2 0h2m44 0h1m1 0h1M86 318h1m10 0h1m11 0h1m13 0h2m2 0h1m2 0h2m8 0h1m1 0h1m3 0h2m10 0h2m29 0h1m116 0h2m56 0h2m9 0h1M4 319h1m119 0h1m2 0h2m9 0h1m1 0h4m2 0h2m2 0h1m2 0h1m1 0h2m1 0h2m22 0h1m29 0h2m30 0h4m38 0h2m26 0h2M4 320h1m13 0h1m31 0h1m9 0h1m30 0h1m1 0h1m31 0h1m4 0h1m2 0h1m1 0h1m9 0h1m3 0h1m1 0h1m3 0h1m1 0h1m1 0h1m9 0h1m14 0h1m10 0h1m32 0h2m6 0h2m126 0h2m7 0h2M12 321h1m13 0h1m15 0h1m26 0h1m38 0h1m2 0h1m12 0h1m2 0h1m6 0h1m2 0h1m1 0h1m6 0h1m3 0h2m1 0h2m87 0h2m82 0h2m44 0h1m1 0h1M7 322h1m51 0h1m73 0h2m7 0h2m2 0h2m1 0h2m2 0h3m1 0h2m44 0h1M1 323h2m98 0h1m18 0h1m3 0h1m3 0h1m8 0h2m2 0h1m3 0h1m1 0h1m2 0h1m2 0h3m17 0h1m9 0h1m86 0h2m6 0h2m8 0h2m40 0h2m24 0h4m13 0h1m6 0h2M19 324h1m13 0h1m52 0h1m1 0h1m36 0h2m1 0h1m2 0h1m1 0h1m1 0h1m6 0h1m3 0h1m2 0h2m3 0h1m3 0h1m23 0h2m1 0h1m48 0h2m14 0h2m104 0h2M32 325h1m13 0h1m19 0h1m50 0h1m7 0h1m7 0h1m5 0h1m3 0h1m5 0h2m3 0h1m1 0h1m1 0h2m24 0h1m3 0h1m14 0h1m20 0h2m74 0h4m42 0h2m18 0h2m4 0h2M59 326h1m75 0h1m5 0h2m2 0h2m2 0h1m3 0h1m3 0h3m204 0h2M43 327h1m8 0h1m13 0h1m36 0h1m3 0h1m19 0h1m8 0h2m2 0h2m4 0h1m2 0h1m2 0h3m2 0h3m23 0h2m23 0h2m164 0h1m3 0h4M13 328h1m40 0h1m46 0h1m21 0h1m1 0h1m2 0h1m3 0h1m8 0h2m3 0h1m8 0h1m2 0h2m24 0h1m101 0h2m54 0h4m27 0h1M10 329h1m119 0h1m2 0h2m3 0h2m1 0h1m7 0h1m3 0h2m3 0h1m91 0h2m94 0h2m26 0h1M25 330h1m20 0h1m41 0h1m24 0h1m6 0h1m1 0h1m9 0h4m5 0h1m1 0h1m7 0h1m1 0h3m2 0h1m33 0h1m9 0h1m93 0h2m14 0h2M113 331h1m7 0h1m1 0h2m2 0h1m2 0h2m1 0h1m4 0h2m5 0h2m8 0h1m1 0h3m41 0h1m16 0h2m28 0h2m60 0h2m52 0h2m10 0h2M40 332h1m7 0h1m34 0h1m40 0h1m2 0h1m1 0h1m1 0h1m1 0h1m7 0h2m3 0h1m1 0h1m1 0h1m4 0h1m2 0h2m18 0h1m5 0h1m14 0h1m76 0h2m42 0h2m26 0h2m24 0h1m21 0h1M0 333h1m83 0h1m45 0h1m1 0h2m9 0h1m6 0h1m4 0h1m26 0h1m1 0h1m2 0h1m11 0h1m138 0h1m33 0h1m7 0h2M12 334h1m8 0h1m58 0h1m3 0h1m34 0h1m7 0h1m1 0h1m3 0h3m2 0h1m4 0h1m6 0h1m2 0h2m3 0h2m22 0h1m1 0h1m73 0h2m64 0h2m8 0h2m6 0h2m8 0h2m4 0h2m4 0h2m7 0h2m5 0h2m10 0h2M11 335h1m20 0h2m42 0h1m34 0h2m11 0h1m8 0h1m4 0h1m2 0h2m9 0h1m1 0h4m38 0h1m25 0h2m100 0h2m14 0h4m2 0h2m16 0h2m18 0h2M3 336h1m46 0h1m73 0h1m1 0h1m3 0h1m3 0h1m2 0h1m3 0h3m6 0h1m2 0h3m3 0h1m22 0h1m13 0h1m2 0h1m3 0h1m22 0h2m50 0h2m72 0h2m20 0h1M17 337h1m1 0h1m80 0h1m21 0h1m6 0h1m1 0h1m2 0h3m2 0h1m1 0h1m3 0h1m1 0h4m2 0h4m1 0h1m23 0h1m181 0h2M2 338h1m80 0h1m43 0h1m2 0h1m2 0h1m1 0h1m1 0h1m2 0h2m2 0h1m1 0h2m8 0h1m27 0h1m4 0h1m4 0h1m25 0h2m26 0h2m32 0h2m54 0h1M7 339h1m12 0h1m17 0h1m3 0h1m5 0h1m22 0h1m51 0h1m3 0h1m2 0h2m1 0h3m3 0h1m3 0h1m5 0h2m2 0h3m4 0h1m129 0h2m40 0h2m16 0h2m22 0h1m5 0h2M11 340h1m4 0h1m116 0h2m3 0h1m1 0h1m1 0h2m2 0h2m2 0h3m63 0h2m128 0h2m26 0h1M5 341h1m45 0h1m2 0h1m26 0h1m11 0h1m24 0h1m11 0h1m2 0h1m3 0h1m3 0h1m4 0h1m4 0h2m1 0h1m13 0h1m13 0h2m38 0h2m82 0h2m36 0h2m10 0h2m2 0h2m11 0h1M2 342h2m8 0h1m102 0h1m11 0h1m2 0h1m3 0h1m2 0h1m1 0h1m2 0h3m2 0h1m1 0h3m6 0h1m24 0h1m5 0h1m13 0h1m10 0h2m2 0h2m114 0h2m18 0h2m10 0h2m5 0h1M14 343h1m7 0h1m16 0h1m91 0h1m1 0h1m1 0h1m1 0h2m3 0h1m27 0h1m12 0h1m19 0h1m58 0h2m4 0h2m12 0h2m62 0h2m34 0h2m12 0h1M9 344h1m1 0h1m110 0h2m4 0h1m1 0h2m2 0h1m3 0h1m4 0h1m7 0h1m2 0h1m2 0h1m1 0h1m23 0h2m23 0h2m24 0h2m80 0h2m26 0h4m16 0h2m6 0h2m6 0h2m8 0h2m4 0h1M1 345h1m16 0h1m4 0h1m19 0h1m19 0h2m46 0h1m8 0h1m3 0h1m9 0h1m1 0h2m1 0h1m13 0h2m3 0h1m46 0h1m22 0h2m96 0h2m2 0h2m24 0h2m6 0h2m8 0h1M45 346h1m39 0h1m37 0h1m1 0h1m1 0h2m4 0h1m1 0h2m1 0h1m3 0h1m11 0h1m1 0h2m1 0h1m28 0h1m37 0h2m38 0h2m104 0h1m7 0h6M12 347h1m17 0h1m16 0h1m45 0h1m9 0h1m21 0h1m3 0h2m6 0h1m1 0h1m1 0h2m2 0h1m5 0h1m1 0h2m1 0h1m27 0h1m18 0h1m56 0h2m6 0h2m24 0h2m10 0h2m2 0h2m24 0h2M36 348h1m16 0h1m69 0h1m4 0h1m1 0h1m2 0h2m11 0h1m3 0h1m6 0h1m1 0h2m5 0h1m41 0h2m4 0h2m48 0h2m28 0h2m24 0h2m30 0h2m10 0h2m18 0h2M92 349h1m41 0h2m1 0h1m4 0h1m3 0h2m2 0h2m3 0h1m2 0h1m24 0h2m45 0h2m6 0h2m32 0h2m2 0h2m95 0h1m6 0h2M30 350h1m48 0h1m39 0h2m6 0h1m5 0h1m4 0h1m4 0h2m5 0h1m1 0h1m29 0h2m12 0h1m2 0h1m94 0h2m64 0h2m11 0h1M26 351h1m30 0h1m50 0h1m11 0h1m6 0h1m3 0h5m2 0h1m3 0h1m3 0h2m2 0h2m1 0h1m3 0h1m1 0h1m74 0h2m28 0h1m81 0h2m32 0h2M9 352h1m22 0h1m1 0h1m33 0h1m37 0h1m2 0h1m13 0h2m8 0h2m3 0h2m3 0h1m3 0h1m2 0h1m1 0h2m1 0h4m23 0h3m15 0h1m35 0h2m8 0h2m17 0h1m107 0h3M40 353h1m13 0h1m41 0h1m28 0h1m3 0h3m6 0h2m1 0h1m4 0h1m2 0h1m1 0h1m6 0h1m214 0h1m8 0h2M27 354h1m15 0h1m19 0h1m37 0h1m14 0h1m6 0h2m1 0h1m1 0h1m2 0h1m5 0h1m1 0h1m2 0h1m2 0h1m1 0h1m1 0h1m4 0h2m3 0h1m9 0h1m12 0h1m97 0h2m82 0h2m8 0h1m5 0h2M14 355h1m9 0h1m4 0h1m49 0h1m21 0h1m23 0h4m1 0h1m7 0h2m2 0h1m2 0h3m1 0h3m3 0h1m1 0h1m25 0h1m13 0h1m54 0h2m92 0h2M6 356h1m104 0h1m6 0h1m1 0h1m9 0h1m2 0h3m1 0h1m1 0h1m5 0h2m3 0h2m2 0h1m2 0h2m23 0h3m9 0h1m2 0h1m7 0h1m152 0h2m4 0h2m8 0h1m13 0h2M30 357h1m8 0h1m41 0h1m48 0h1m3 0h1m7 0h1m2 0h2m1 0h1m5 0h1m3 0h1m28 0h1m22 0h2m112 0h2m52 0h4M19 358h2m24 0h1m44 0h1m32 0h1m8 0h1m1 0h2m4 0h1m7 0h1m1 0h2m2 0h2m26 0h3m47 0h2m64 0h2m42 0h2m6 0h2M118 359h1m1 0h1m5 0h1m1 0h1m7 0h1m6 0h1m1 0h1m1 0h1m3 0h1m2 0h1m3 0h1m17 0h1m67 0h2m4 0h2m28 0h2m34 0h2m18 0h2m8 0h2m24 0h1M8 360h1m18 0h1m28 0h1m36 0h1m24 0h1m14 0h2m2 0h1m7 0h1m4 0h1m27 0h1m5 0h1m7 0h1m117 0h2m34 0h2m25 0h1M38 361h1m53 0h1m34 0h1m10 0h1m3 0h1m4 0h1m3 0h1m1 0h1m4 0h3m22 0h1m76 0h2m2 0h1m125 0h2M13 362h1m38 0h1m58 0h2m17 0h1m2 0h1m1 0h1m1 0h2m4 0h2m7 0h1m1 0h1m5 0h1m21 0h2m81 0h1m70 0h2M50 363h1m38 0h1m6 0h1m11 0h1m15 0h1m7 0h3m6 0h1m2 0h1m6 0h1m1 0h1m2 0h3m23 0h1m1 0h1m101 0h2M8 364h1m14 0h1m45 0h1m30 0h1m5 0h1m1 0h1m13 0h1m10 0h2m5 0h2m5 0h1m3 0h1m2 0h1m3 0h2m5 0h1m206 0h1m5 0h2M3 365h1m5 0h1m72 0h1m29 0h1m20 0h1m3 0h1m4 0h1m6 0h2m3 0h1m4 0h1m24 0h1m95 0h2m80 0h2M2 366h1m121 0h1m5 0h2m13 0h3m6 0h2m26 0h1m33 0h2m38 0h2m7 0h1m76 0h2m2 0h2m20 0h2m8 0h2M50 367h1m52 0h1m19 0h1m2 0h1m4 0h1m2 0h1m1 0h1m2 0h1m1 0h1m1 0h1m1 0h3m1 0h1m5 0h1m1 0h2m215 0h1m1 0h4M65 368h1m58 0h1m3 0h1m5 0h1m6 0h4m1 0h1m2 0h2m2 0h1m3 0h3m145 0h1m64 0h1m21 0h2M65 369h1m58 0h1m3 0h1m5 0h1m6 0h4m1 0h1m2 0h2m2 0h1m3 0h3m145 0h1m64 0h1m21 0h2"/><path stroke="#3b528b" d="M4 0h1m41 0h1m9 0h1m52 0h1m40 0h1m3 0h1m4 0h1m23 0h1m190 0h2m4 0h2M1 1h1m58 0h1m60 0h1m14 0h1m18 0h1m2 0h3m21 0h2m2 0h1m18 0h1m140 0h2m10 0h2m4 0h2m6 0h1m1 0h1M35 2h1m22 0h1m5 0h1m119 0h1m23 0h2m52 0h2m100 0h2M38 3h1m5 0h1m21 0h1m54 0h1m3 0h1m76 0h1m79 0h2m2 0h2m44 0h2m30 0h2m7 0h1m18 0h2m2 0h1M2 4h1m17 0h1m10 0h1m5 0h1m13 0h1m7 0h1m18 0h1m4 0h1m17 0h1m40 0h1m4 0h1m2 0h2m7 0h1m10 0h1m28 0h1m26 0h2m20 0h2m38 0h2m34 0h2m2 0h2m12 0h2m2 0h2m22 0h2m1 0h1M12 5h1m65 0h1m41 0h1m5 0h1m10 0h1m13 0h1m1 0h1m4 0h1m18 0h1m3 0h1m40 0h2M5 6h1m21 0h1m11 0h1m2 0h2m1 0h1m4 0h1m26 0h1m6 0h1m34 0h1m3 0h1m9 0h1m4 0h1m6 0h1m1 0h1m4 0h1m31 0h1m20 0h1m50 0h1m89 0h2m25 0h1m12 0h2M34 7h1m8 0h1m65 0h1m35 0h1m37 0h2m162 0h3m14 0h2m8 0h1M15 8h1m60 0h1m15 0h1m16 0h1m28 0h1m3 0h1m3 0h3m4 0h1m9 0h1m19 0h1m48 0h2m6 0h2m23 0h1m114 0h2M17 9h1m6 0h1m20 0h1m43 0h1m18 0h1m19 0h1m4 0h1m17 0h1m2 0h2m47 0h1m126 0h2m6 0h1m25 0h2m4 0h2m1 0h1M16 10h1m11 0h2m18 0h1m64 0h1m21 0h1m21 0h1m1 0h1m31 0h1m13 0h1m140 0h2m32 0h2M18 11h1m14 0h1m9 0h1m70 0h1m1 0h1m14 0h1m7 0h1m1 0h2m4 0h1m2 0h1m3 0h1m26 0h1m1 0h1m8 0h2m10 0h1m77 0h2m32 0h2m36 0h2m18 0h1M52 12h2m22 0h1m9 0h1m29 0h1m20 0h1m3 0h1m16 0h1m25 0h1m19 0h1m21 0h2m114 0h1m30 0h1M38 13h1m89 0h1m22 0h1m4 0h1m31 0h1m83 0h2m65 0h1m33 0h2M27 14h1m6 0h1m21 0h1m27 0h1m64 0h1m10 0h1m2 0h1m17 0h2m17 0h2m22 0h2m72 0h2m46 0h2M15 15h1m92 0h1m27 0h1m21 0h1m20 0h1m4 0h1m59 0h1m5 0h2m104 0h2M19 16h1m23 0h1m4 0h1m16 0h1m29 0h1m42 0h1m3 0h1m44 0h1m36 0h2m40 0h2m12 0h2m1 0h1m8 0h2m52 0h2m16 0h2m7 0h1M20 17h1m34 0h1m34 0h2m12 0h1m1 0h1m12 0h1m19 0h1m2 0h1m8 0h1m1 0h1m164 0h1m45 0h2m7 0h2M12 18h1m58 0h1m52 0h1m9 0h1m23 0h1m12 0h1m11 0h1m72 0h2m52 0h2m18 0h2m6 0h1m7 0h2m8 0h2m15 0h1m8 0h2M32 19h1m57 0h1m4 0h1m46 0h1m10 0h1m15 0h1m64 0h1m30 0h1m36 0h2m42 0h2m22 0h2m1 0h3m4 0h4M104 20h1m17 0h1m12 0h1m6 0h1m6 0h1m12 0h1m12 0h1m32 0h2m154 0h2m7 0h1M11 21h1m11 0h1m56 0h1m5 0h1m8 0h2m14 0h1m30 0h2m9 0h1m6 0h1m23 0h1m111 0h2m36 0h2m8 0h2M54 22h1m3 0h1m1 0h1m24 0h1m26 0h1m10 0h1m2 0h1m15 0h1m3 0h1m93 0h2m54 0h2m48 0h2m8 0h2m16 0h1m19 0h2M16 23h1m64 0h1m7 0h1m38 0h1m2 0h1m10 0h1m7 0h1m40 0h1m26 0h2m126 0h2m26 0h1m5 0h2M4 24h1m1 0h1m22 0h1m105 0h1m13 0h1m2 0h1m43 0h1m149 0h2m9 0h1m6 0h2m7 0h1M104 25h1m29 0h1m13 0h1m34 0h1m19 0h1m160 0h2m7 0h2M4 26h1m19 0h2m3 0h1m48 0h1m39 0h1m4 0h1m15 0h1m10 0h1m31 0h2m162 0h2m16 0h2m7 0h2M132 27h1m1 0h1m3 0h1m1 0h1m2 0h1m3 0h1m34 0h1m16 0h1m88 0h2m20 0h2m20 0h2m12 0h2m16 0h2m7 0h2m3 0h2M42 28h1m14 0h1m49 0h1m25 0h1m16 0h1m3 0h1m23 0h1m7 0h1m37 0h2m8 0h2m84 0h2m74 0h1M33 29h1m27 0h1m38 0h1m7 0h1m45 0h1m56 0h1m10 0h2m106 0h2m24 0h2m15 0h2m15 0h2M15 30h1m29 0h1m5 0h1m35 0h1m20 0h1m13 0h1m2 0h1m56 0h1m101 0h2m48 0h2m36 0h3m5 0h2m12 0h1M4 31h1m16 0h1m3 0h1m87 0h1m29 0h1m2 0h1m37 0h1m1 0h1m1 0h1m39 0h2m56 0h4m56 0h2m4 0h2m20 0h1m5 0h2M3 32h1m71 0h1m1 0h1m49 0h1m5 0h1m5 0h1m1 0h1m16 0h1m1 0h1m41 0h1m15 0h2m56 0h2m60 0h1m9 0h2m8 0h2m13 0h1m1 0h1M33 33h1m13 0h1m90 0h1m6 0h2m9 0h1m139 0h2m48 0h2m25 0h1m10 0h2M57 34h1m4 0h1m11 0h1m45 0h1m19 0h1m26 0h1m14 0h1m29 0h2m6 0h2m144 0h2m14 0h2m6 0h2M25 35h1m21 0h1m70 0h1m18 0h1m13 0h2m29 0h1m1 0h1m11 0h1m33 0h2m58 0h2m14 0h2m56 0h2m7 0h2M35 36h1m34 0h1m48 0h1m22 0h1m39 0h1m17 0h1m125 0h2m18 0h2m25 0h1M37 37h1m46 0h1m21 0h1m30 0h1m8 0h1m11 0h1m24 0h1m38 0h2m28 0h2m36 0h2m52 0h6m30 0h2m10 0h2M45 38h1m74 0h1m3 0h1m15 0h2m5 0h2m127 0h2m68 0h4m8 0h2M19 39h1m11 0h1m8 0h1m4 0h1m3 0h1m100 0h1m4 0h1m88 0h2m22 0h2m105 0h1m4 0h2M32 40h1m19 0h1m23 0h1m1 0h2m6 0h1m6 0h1m99 0h1m2 0h1m2 0h1m25 0h1m36 0h1m53 0h2m28 0h4m4 0h4m6 0h2m6 0h1m1 0h1M5 41h1m2 0h1m13 0h1m26 0h1m9 0h1m52 0h1m3 0h1m6 0h1m9 0h1m4 0h1m18 0h1m26 0h1m25 0h2m32 0h2m42 0h2m52 0h2m26 0h2m1 0h2M42 42h1m3 0h1m6 0h1m2 0h1m12 0h1m11 0h1m29 0h1m8 0h1m11 0h1m2 0h1m5 0h1m3 0h1m6 0h1m73 0h2m52 0h2m64 0h2m25 0h2M16 43h1m22 0h1m79 0h1m14 0h1m14 0h1m1 0h1m6 0h1m24 0h1m78 0h2m94 0h2m4 0h2M129 44h1m5 0h1m9 0h1m3 0h2m2 0h1m30 0h1m111 0h4M1 45h1m32 0h1m17 0h1m60 0h1m19 0h2m22 0h1m10 0h1m65 0h2m68 0h2m8 0h2m58 0h1m5 0h2M13 46h1m4 0h1m14 0h1m63 0h1m9 0h1m16 0h1m17 0h2m6 0h1m47 0h1m85 0h2m82 0h2m10 0h2M12 47h1m40 0h1m101 0h1m30 0h1m2 0h1m26 0h2m124 0h2m30 0h1M15 48h1m14 0h1m71 0h1m79 0h1m16 0h1m28 0h2m2 0h2m2 0h2m36 0h2m63 0h1m33 0h1m14 0h2M39 49h1m13 0h1m60 0h1m18 0h1m3 0h1m4 0h1m15 0h2m30 0h1m10 0h1m18 0h2m8 0h2m33 0h1m70 0h2m26 0h4m2 0h2m1 0h2M18 50h1m16 0h2m28 0h1m7 0h1m46 0h1m14 0h1m6 0h1m11 0h1m83 0h2m4 0h2m88 0h2m10 0h2m26 0h1m9 0h2M12 51h1m13 0h1m5 0h1m18 0h1m3 0h1m50 0h1m14 0h1m9 0h1m9 0h1m6 0h1m9 0h1m40 0h1m34 0h4m4 0h4m98 0h4m6 0h2m4 0h2M18 52h1m9 0h1m63 0h1m26 0h1m64 0h1m27 0h2m124 0h1m7 0h2m16 0h2m6 0h1m7 0h2M18 53h1m12 0h1m11 0h1m49 0h1m10 0h1m28 0h1m5 0h1m9 0h1m82 0h2m130 0h2m7 0h2M6 54h1m5 0h1m1 0h1m2 0h1m35 0h1m74 0h1m9 0h1m20 0h1m32 0h1m11 0h2m79 0h1m14 0h2m34 0h2m26 0h2m14 0h4M6 55h1m18 0h1m1 0h1m114 0h1m39 0h3m13 0h1m33 0h2m48 0h2m89 0h1M78 56h1m37 0h1m9 0h1m7 0h2m1 0h1m15 0h1m1 0h1m41 0h1m67 0h1m12 0h2m66 0h2m32 0h2M116 57h1m20 0h1m3 0h1m11 0h1m4 0h1m23 0h1m5 0h1m12 0h1m54 0h2m66 0h2m20 0h2m25 0h1M134 58h1m27 0h2m86 0h2m8 0h2m28 0h2m2 0h2m6 0h2m2 0h2M8 59h1m4 0h1m94 0h1m30 0h1m6 0h2m3 0h1m4 0h1m108 0h1m16 0h2m40 0h2m20 0h2m25 0h1M55 60h1m46 0h1m16 0h1m13 0h1m13 0h1m23 0h1m13 0h1m28 0h2m6 0h4m30 0h2m8 0h2m32 0h2m20 0h2m4 0h2M18 61h1m6 0h1m22 0h1m20 0h1m30 0h2m18 0h1m8 0h1m3 0h1m5 0h1m11 0h1m5 0h1m24 0h1m17 0h1m131 0h2m12 0h2m20 0h2m4 0h1M9 62h1m19 0h1m71 0h1m4 0h1m26 0h1m2 0h1m46 0h1m48 0h2m62 0h2m42 0h2m12 0h2M45 63h1m16 0h1m20 0h1m40 0h1m9 0h1m19 0h1m3 0h1m46 0h1m10 0h2m90 0h2m22 0h2m12 0h2m28 0h2M14 64h1m20 0h1m8 0h1m17 0h1m9 0h1m29 0h1m25 0h1m9 0h1m19 0h1m24 0h1m12 0h1m15 0h2m10 0h2m46 0h2m38 0h2m32 0h2m46 0h2M46 65h1m15 0h1m22 0h1m5 0h1m19 0h1m6 0h1m18 0h1m9 0h1m12 0h1m34 0h1m64 0h2m84 0h2m4 0h2m12 0h2m5 0h1m6 0h2m8 0h2M3 66h1m60 0h1m35 0h1m37 0h1m12 0h1m32 0h1m71 0h2m96 0h1m9 0h2m7 0h2M8 67h1m13 0h1m15 0h2m31 0h1m48 0h1m31 0h1m30 0h1m162 0h2m16 0h2m7 0h1M10 68h1m23 0h1m11 0h2m68 0h1m1 0h1m13 0h1m14 0h1m1 0h1m5 0h1m1 0h1m25 0h1m12 0h1m15 0h2m8 0h2m20 0h2m26 0h2m30 0h2m24 0h2m14 0h2m6 0h2m2 0h2m8 0h2M117 69h1m24 0h1m3 0h1m4 0h1m162 0h2m48 0h2m7 0h1M18 70h1m5 0h1m20 0h1m23 0h1m57 0h1m11 0h1m17 0h1m25 0h1m7 0h1m154 0h2M57 71h1m36 0h1m29 0h1m8 0h1m4 0h2m5 0h1m3 0h1m4 0h1m23 0h1m3 0h1m163 0h2m25 0h1M85 72h1m38 0h1m16 0h1m3 0h4m30 0h1m2 0h1m20 0h1m28 0h2m112 0h2m16 0h4m6 0h1M10 73h1m90 0h1m31 0h1m7 0h2m2 0h1m8 0h1m191 0h2m25 0h1m6 0h2M11 74h1m60 0h1m25 0h1m44 0h1m14 0h1m23 0h1m1 0h1m11 0h1m53 0h2m94 0h2m16 0h2m8 0h1M25 75h1m3 0h1m70 0h1m10 0h1m5 0h1m17 0h1m2 0h1m8 0h1m6 0h2m2 0h1m61 0h2m92 0h2m30 0h2m25 0h1m1 0h1M6 76h1m29 0h1m37 0h1m3 0h1m55 0h1m11 0h1m4 0h1m30 0h1m2 0h1m7 0h1m50 0h2m18 0h1m63 0h2m28 0h2m4 0h2m8 0h1M73 77h1m12 0h1m42 0h1m1 0h1m16 0h1m5 0h1m12 0h1m14 0h1m5 0h1m65 0h2m102 0h2m14 0h1M58 78h1m46 0h1m49 0h1m21 0h1m1 0h1m40 0h2m29 0h1m14 0h2m3 0h1m24 0h2m4 0h2m42 0h2m16 0h2M15 79h1m19 0h1m15 0h1m2 0h1m34 0h1m14 0h1m38 0h1m8 0h1m6 0h1m28 0h1m7 0h1m11 0h2m46 0h2m72 0h2m41 0h1M13 80h1m19 0h1m43 0h1m37 0h1m68 0h1m10 0h1m142 0h1m7 0h2m14 0h4m6 0h3M2 81h1m7 0h1m44 0h1m39 0h1m86 0h1m51 0h2m50 0h2m82 0h3m1 0h1m3 0h2M40 82h1m54 0h1m3 0h1m14 0h1m9 0h1m13 0h1m6 0h1m41 0h1m76 0h1m7 0h2m10 0h2m32 0h2m26 0h2m6 0h2m17 0h2M4 83h1m11 0h1m3 0h1m55 0h1m33 0h1m16 0h1m5 0h2m3 0h1m17 0h1m4 0h1m39 0h1m126 0h2m32 0h2m9 0h2M21 84h1m1 0h1m21 0h1m11 0h1m79 0h1m1 0h1m5 0h2m3 0h1m16 0h1m14 0h1m20 0h1m24 0h2m48 0h2m40 0h2m34 0h2m16 0h1m9 0h2m2 0h2M10 85h1m46 0h1m61 0h1m18 0h1m12 0h1m6 0h1m29 0h1m63 0h4m30 0h2m58 0h2m42 0h2M0 86h1m6 0h1m1 0h2m106 0h2m11 0h1m2 0h1m15 0h1m32 0h2m4 0h1m2 0h1m1 0h1m170 0h2m7 0h2M29 87h1m3 0h1m69 0h1m5 0h1m23 0h1m10 0h1m12 0h1m27 0h1m5 0h1m106 0h2m8 0h2m14 0h2m44 0h2m1 0h1M2 88h1m89 0h1m38 0h1m4 0h1m9 0h1m107 0h2m90 0h2M23 89h1m1 0h1m1 0h1m5 0h1m3 0h1m17 0h1m27 0h2m37 0h1m19 0h1m9 0h1m25 0h1m4 0h1m36 0h2m8 0h2m2 0h2m35 0h1m44 0h2m28 0h2m2 0h2m2 0h2m16 0h1m11 0h4M39 90h1m94 0h1m12 0h2m56 0h1m8 0h2m122 0h1m25 0h2M20 91h1m14 0h1m2 0h1m8 0h1m13 0h1m59 0h1m2 0h1m13 0h1m7 0h2m2 0h1m8 0h1m23 0h1m21 0h1m22 0h2m116 0h2m25 0h1M9 92h2m14 0h1m15 0h1m83 0h1m12 0h1m3 0h1m2 0h1m11 0h1m26 0h1m99 0h2m30 0h2m28 0h2m4 0h2m19 0h1M36 93h1m41 0h1m49 0h1m3 0h1m8 0h2m7 0h1m9 0h1m21 0h1m1 0h1m13 0h1m3 0h1m3 0h2m6 0h2m88 0h2m58 0h2m12 0h2M99 94h1m25 0h1m11 0h2m126 0h1m12 0h2m50 0h2m32 0h2M10 95h1m35 0h1m1 0h1m52 0h1m6 0h1m13 0h1m14 0h2m4 0h1m10 0h1m5 0h1m21 0h1m18 0h1m123 0h1m38 0h2m7 0h1m16 0h2m2 0h2M3 96h1m78 0h1m11 0h1m5 0h1m30 0h1m9 0h1m23 0h1m18 0h1m45 0h1m95 0h2m19 0h1m2 0h2m12 0h2m8 0h1m5 0h2M39 97h1m81 0h1m6 0h1m8 0h1m2 0h1m1 0h2m3 0h1m3 0h1m11 0h1m23 0h1m50 0h1m1 0h2m12 0h2m72 0h2m28 0h2m4 0h2m6 0h1M17 98h1m21 0h1m88 0h2m19 0h1m8 0h1m50 0h1m90 0h2m50 0h2m10 0h1m3 0h2m10 0h2m13 0h1M65 99h1m68 0h1m3 0h1m3 0h1m17 0h1m85 0h2m90 0h1m45 0h2M0 100h1m9 0h1m20 0h1m13 0h1m7 0h1m16 0h1m49 0h1m62 0h1m122 0h2m20 0h2m2 0h2m16 0h2m21 0h1m4 0h2M7 101h1m23 0h1m81 0h1m2 0h1m14 0h1m5 0h1m12 0h1m19 0h1m13 0h1m33 0h2m12 0h2m36 0h2m34 0h2m24 0h2m39 0h1M61 102h1m13 0h1m14 0h1m40 0h1m6 0h1m5 0h1m9 0h1m4 0h1m16 0h1m43 0h2m4 0h2m46 0h2m70 0h2m26 0h2M20 103h2m70 0h1m27 0h1m4 0h1m3 0h1m19 0h2m31 0h3m57 0h4m24 0h2m74 0h2m12 0h2m2 0h2m7 0h1m6 0h2m8 0h2M13 104h1m1 0h1m12 0h1m32 0h1m84 0h1m7 0h1m29 0h1m3 0h1m43 0h2m44 0h2m66 0h4m23 0h1m4 0h4M14 105h1m17 0h1m47 0h1m14 0h1m12 0h1m36 0h1m4 0h1m32 0h1m136 0h2m52 0h1M16 106h1m9 0h1m61 0h1m29 0h1m18 0h1m47 0h1m16 0h1m53 0h2m106 0h2m8 0h1m5 0h2M45 107h1m16 0h1m26 0h1m27 0h1m27 0h1m18 0h1m17 0h1m2 0h1m3 0h1m6 0h1m63 0h3m75 0h1m34 0h2M4 108h1m25 0h1m30 0h1m5 0h1m8 0h1m2 0h1m26 0h1m1 0h1m16 0h1m4 0h1m7 0h1m14 0h1m29 0h1m66 0h2m34 0h2m84 0h1m7 0h2M13 109h1m23 0h1m36 0h1m16 0h1m91 0h1m170 0h1m5 0h2m2 0h2m4 0h1M80 110h1m6 0h1m3 0h1m202 0h2m2 0h2m56 0h2m15 0h1m6 0h2m6 0h2M65 111h1m50 0h1m51 0h2m14 0h1m91 0h2m38 0h2m55 0h1M62 112h1m51 0h1m5 0h1m14 0h1m21 0h1m26 0h1m15 0h1m15 0h2m32 0h2m72 0h2m8 0h2m10 0h2m25 0h1m14 0h2M5 113h1m8 0h1m23 0h1m1 0h1m1 0h1m37 0h1m1 0h1m55 0h1m16 0h1m26 0h1m1 0h1m147 0h2m12 0h2M41 114h1m3 0h1m9 0h1m23 0h1m12 0h1m10 0h1m38 0h1m3 0h1m6 0h2m103 0h2m104 0h2m20 0h2M1 115h1m44 0h1m80 0h1m8 0h1m14 0h1m7 0h1m39 0h1m92 0h2m40 0h2m7 0h1m30 0h1m9 0h2M31 116h1m16 0h1m20 0h1m50 0h1m2 0h1m6 0h1m26 0h1m2 0h1m23 0h1m161 0h2m4 0h4m8 0h4M3 117h1m9 0h1m22 0h1m13 0h1m83 0h1m22 0h1m3 0h1m40 0h1m61 0h1m105 0h2m2 0h1m13 0h2M29 118h1m86 0h1m29 0h1m83 0h2m82 0h2m30 0h2m2 0h2m6 0h1m14 0h1M39 119h1m15 0h1m30 0h1m17 0h1m14 0h1m27 0h1m6 0h1m27 0h1m47 0h2m2 0h2m138 0h1m5 0h4m10 0h2M12 120h1m6 0h1m3 0h1m11 0h1m30 0h1m90 0h2m27 0h1m23 0h2m134 0h2m16 0h2m7 0h1M6 121h1m8 0h1m44 0h1m27 0h1m9 0h1m2 0h1m7 0h1m10 0h1m22 0h1m10 0h1m107 0h2m24 0h2m4 0h2M6 122h1m19 0h1m107 0h2m13 0h1m132 0h2m90 0h1m1 0h2M25 123h1m13 0h1m26 0h1m70 0h1m4 0h1m2 0h1m4 0h1m39 0h1m12 0h1m150 0h2m8 0h2m7 0h2M12 124h1m122 0h1m17 0h1m5 0h1m23 0h1m4 0h1m9 0h1m101 0h2m44 0h2m8 0h2M0 125h1m5 0h1m23 0h1m15 0h1m30 0h1m7 0h1m31 0h1m6 0h1m4 0h1m152 0h2m62 0h2m39 0h1M54 126h1m42 0h1m10 0h1m6 0h1m21 0h1m45 0h1m46 0h2m48 0h2m16 0h2m12 0h2m54 0h1m4 0h1m6 0h1m3 0h2M22 127h1m9 0h1m12 0h1m75 0h2m19 0h1m50 0h1m16 0h2m134 0h2m25 0h2M5 128h1m8 0h1m103 0h1m14 0h1m8 0h1m16 0h2m26 0h1m22 0h2m162 0h1M7 129h1m10 0h1m8 0h1m18 0h1m5 0h1m23 0h1m5 0h1m38 0h1m28 0h1m33 0h1m9 0h1m151 0h2m16 0h2m6 0h1m1 0h1m5 0h2M1 130h1m39 0h1m95 0h1m6 0h1m1 0h1m11 0h1m73 0h2m4 0h2m2 0h2m82 0h2m36 0h2m7 0h1M3 131h1m89 0h1m39 0h1m3 0h1m20 0h1m25 0h1m94 0h1m4 0h2m53 0h1m5 0h3m25 0h2M22 132h1m72 0h1m46 0h1m1 0h1m11 0h1m25 0h1m137 0h2m18 0h2m31 0h2m5 0h2M2 133h1m6 0h1m9 0h1m31 0h1m31 0h1m54 0h1m3 0h1m8 0h1m30 0h1m1 0h1m6 0h1m90 0h2m62 0h2m16 0h2m7 0h2M43 134h1m104 0h1m8 0h1m1 0h1m27 0h1m17 0h1m32 0h2m126 0h2m5 0h1m18 0h2M20 135h1m17 0h1m42 0h1m7 0h1m10 0h1m15 0h1m21 0h1m7 0h1m44 0h1m181 0h1M49 136h1m4 0h1m36 0h1m14 0h1m16 0h1m22 0h1m7 0h1m29 0h1m109 0h2m8 0h2m67 0h1m8 0h2M30 137h1m33 0h1m17 0h1m61 0h1m8 0h1m17 0h1m68 0h2m32 0h2m70 0h2m18 0h2m18 0h2M34 138h1m21 0h1m29 0h1m24 0h1m27 0h1m18 0h1m31 0h1M28 139h1m28 0h1m58 0h1m33 0h1m14 0h1m13 0h1m7 0h1m77 0h1m50 0h2m28 0h2m10 0h2m20 0h2M19 140h1m55 0h1m4 0h1m42 0h1m9 0h1m1 0h1m13 0h1m7 0h1m188 0h2m4 0h2m8 0h2m4 0h2m3 0h1m12 0h2M2 141h1m38 0h1m17 0h1m27 0h1m10 0h1m16 0h1m17 0h1m15 0h1m3 0h1m3 0h1m1 0h1m28 0h1m69 0h2m18 0h2m66 0h2m17 0h1m7 0h2m5 0h2M103 142h1m47 0h1m31 0h1m1 0h1m32 0h2m32 0h2m34 0h2m83 0h2M53 143h1m81 0h1m10 0h1m11 0h1m58 0h1m36 0h2m110 0h2m6 0h1m9 0h2M9 144h1m54 0h1m17 0h1m6 0h1m4 0h1m31 0h1m6 0h1m7 0h1m4 0h1m11 0h1m27 0h1m131 0h2m28 0h2m23 0h2m5 0h2M12 145h1m115 0h1m14 0h1m3 0h1m6 0h1m29 0h1m10 0h1m64 0h2m12 0h2m6 0h2m2 0h2m2 0h2m4 0h2m76 0h1M47 146h1m25 0h1m48 0h1m19 0h1m8 0h1m3 0h1m28 0h1m33 0h2m84 0h2m18 0h2m6 0h2m30 0h2M63 147h1m28 0h1m36 0h1m21 0h1m6 0h1m24 0h2m99 0h2m14 0h4m52 0h2M107 148h1m11 0h1m31 0h1m6 0h1m25 0h1m41 0h2m22 0h2m8 0h4m44 0h2m36 0h2m16 0h2M10 149h1m20 0h1m13 0h1m10 0h1m10 0h1m82 0h1m6 0h1m2 0h1m23 0h1m23 0h2m72 0h2m56 0h4m20 0h4M24 150h1m13 0h1m38 0h1m30 0h1m21 0h1m5 0h1m20 0h1m8 0h1m22 0h2m6 0h1m140 0h1m7 0h2M43 151h1m1 0h1m91 0h1m1 0h1m2 0h1m12 0h1m186 0h2m6 0h2m21 0h2M40 152h1m64 0h1m28 0h1m4 0h1m7 0h1m3 0h1m6 0h1m23 0h1m51 0h2m62 0h4m16 0h2m26 0h2m16 0h2m7 0h1M24 153h1m105 0h1m15 0h1m6 0h1m28 0h1m45 0h2m100 0h2m32 0h2m14 0h2M76 154h1m28 0h1m20 0h1m5 0h1m1 0h1m13 0h1m6 0h1m3 0h1m23 0h2m18 0h1m18 0h2m149 0h2M122 155h1m31 0h1m27 0h2m14 0h1m119 0h2m16 0h3m7 0h2m26 0h1M8 156h1m25 0h1m14 0h1m2 0h1m47 0h1m49 0h1m125 0h2m68 0h2m16 0h2m7 0h2M118 157h1m9 0h1m8 0h1m4 0h1m4 0h1m7 0h1m44 0h1m11 0h1m61 0h2m4 0h2m24 0h2m38 0h2m26 0h1M127 158h1m4 0h1m1 0h1m3 0h1m1 0h1m17 0h1m24 0h2m35 0h1m23 0h2m100 0h2m25 0h1m6 0h2M86 159h1m29 0h2m21 0h1m9 0h1m1 0h1m14 0h1m101 0h2m84 0h2m18 0h1m5 0h2M38 160h1m26 0h1m28 0h1m2 0h1m41 0h1m5 0h2m13 0h1m23 0h1m131 0h2m36 0h4m15 0h1m18 0h2M22 161h1m30 0h1m14 0h1m77 0h1m3 0h1m2 0h1m1 0h1m72 0h2m74 0h2m4 0h2M6 162h1m2 0h1m117 0h1m13 0h2m6 0h2m2 0h1m4 0h1m24 0h1m7 0h1m48 0h2m20 0h2m24 0h2m6 0h2m48 0h2m4 0h2m19 0h1m4 0h2M2 163h1m47 0h1m84 0h1m56 0h1m17 0h2m134 0h6m21 0h2m1 0h2m2 0h2M17 164h1m42 0h1m63 0h1m2 0h1m99 0h1m16 0h2M13 165h1m8 0h1m2 0h1m11 0h1m27 0h1m72 0h1m7 0h1m26 0h1m76 0h2m84 0h2m35 0h1M26 166h1m31 0h1m18 0h1m80 0h1m25 0h1m8 0h1m152 0h2m25 0h1M13 167h1m17 0h1m20 0h1m12 0h1m25 0h1m52 0h1m15 0h1m25 0h1m31 0h2m24 0h2m38 0h2M42 168h1m36 0h1m28 0h2m94 0h1m159 0h2m7 0h1m22 0h1M141 169h1m11 0h1m29 0h1m162 0h2m32 0h2M7 170h1m1 0h1m49 0h1m7 0h1m32 0h1m23 0h1m5 0h1m8 0h1m19 0h1m14 0h1m41 0h2m24 0h2m20 0h1m69 0h2m10 0h2m25 0h3M9 171h1m95 0h1m28 0h1m3 0h1m15 0h1m28 0h1m17 0h1m144 0h2m26 0h1m5 0h2M24 172h1m93 0h1m4 0h1m1 0h1m1 0h1m2 0h1m3 0h1m8 0h1m40 0h1m22 0h1m136 0h4m25 0h1m6 0h2M102 173h1m26 0h1m4 0h1m10 0h1m3 0h1m4 0h1m27 0h1m129 0h2m26 0h2m22 0h2m8 0h1m5 0h2M12 174h1m37 0h1m11 0h1m44 0h1m11 0h1m17 0h1m1 0h1m3 0h1m2 0h1m4 0h1m30 0h1m23 0h2m8 0h2m72 0h2m72 0h2m6 0h2m4 0h2M45 175h1m3 0h1m28 0h1m33 0h1m49 0h1m16 0h1m23 0h1m18 0h2m122 0h2m22 0h2m2 0h1M95 176h1m50 0h1m2 0h1m8 0h1m63 0h2m24 0h1m37 0h2m42 0h2m26 0h2m14 0h1M56 177h1m46 0h1m34 0h1m3 0h1m7 0h1m5 0h1m18 0h1m98 0h2m70 0h2m16 0h2m7 0h2M18 178h1m120 0h2m64 0h1m162 0h2m4 0h1m13 0h2M7 179h1m69 0h1m14 0h1m53 0h1m4 0h1m4 0h1m28 0h2m67 0h2m2 0h2m16 0h2m62 0h2m32 0h1M61 180h1m120 0h1m1 0h1m188 0h1m14 0h2m2 0h2M23 181h1m8 0h1m4 0h1m66 0h1m25 0h1m8 0h1m3 0h1m3 0h1m27 0h1m6 0h1m9 0h1m4 0h1m32 0h2m22 0h2m94 0h2m12 0h2m8 0h2m14 0h2M1 182h1m9 0h1m106 0h1m37 0h1m1 0h1m25 0h1m18 0h1m10 0h2m130 0h2m25 0h2M65 183h1m45 0h1m22 0h1m7 0h1m3 0h1m4 0h1m30 0h1m7 0h1m21 0h2m10 0h2m147 0h2m5 0h2M7 184h1m12 0h1m25 0h1m38 0h1m11 0h1m16 0h2m9 0h1m12 0h1m12 0h1m2 0h1m23 0h1m27 0h2m138 0h2m16 0h2m7 0h1M9 185h1m34 0h1m7 0h1m4 0h1m25 0h1m43 0h1m13 0h2m10 0h1m3 0h3m22 0h1m20 0h2m107 0h2m46 0h2m2 0h2m4 0h2m1 0h2M36 186h1m50 0h1m2 0h1m49 0h2m20 0h1m183 0h2m6 0h2m8 0h2m7 0h2M42 187h1m6 0h1m23 0h1m6 0h1m15 0h1m22 0h1m21 0h2m6 0h1m9 0h1m52 0h2m56 0h2m24 0h2m48 0h2m25 0h2M13 188h1m33 0h1m87 0h1m1 0h1m4 0h1m3 0h1m6 0h1m5 0h2m23 0h1m35 0h2m10 0h1m101 0h2m38 0h1m1 0h2M58 189h1m10 0h1m34 0h1m36 0h1m40 0h1m3 0h1m29 0h2m60 0h2m74 0h2M61 190h1m4 0h1m1 0h1m24 0h1m4 0h1m32 0h1m7 0h1m62 0h1m83 0h2m8 0h2m46 0h4m40 0h2M81 191h1m31 0h1m19 0h1m1 0h1m5 0h1m10 0h1m29 0h1m1 0h1m19 0h1m87 0h2m80 0h2m20 0h1M27 192h1m3 0h1m43 0h1m59 0h1m9 0h2m1 0h1m5 0h1m29 0h1m63 0h2m20 0h2m70 0h2m3 0h1m25 0h2M14 193h1m13 0h1m95 0h1m53 0h1m7 0h1m12 0h1m1 0h1m32 0h2m50 0h2M11 194h1m4 0h1m30 0h1m2 0h1m5 0h1m49 0h1m37 0h1m1 0h1m4 0h1m23 0h1m88 0h1m107 0h2m6 0h2M22 195h2m110 0h1m13 0h1m4 0h1m1 0h1m2 0h1m23 0h1m5 0h1m8 0h1m44 0h2m22 0h2m52 0h2m24 0h2m25 0h2M54 196h1m61 0h1m29 0h1m11 0h2m54 0h2m34 0h2m22 0h2m14 0h2m20 0h2m50 0h2m3 0h1m3 0h2m3 0h2m12 0h2M10 197h1m2 0h1m40 0h1m36 0h1m5 0h1m28 0h1m26 0h1m22 0h1m9 0h1m16 0h1m6 0h2m134 0h2m26 0h1M18 198h1m63 0h1m19 0h1m15 0h1m3 0h1m24 0h1m36 0h1m53 0h2m40 0h4m80 0h2m7 0h1m6 0h3M8 199h1m2 0h1m13 0h1m17 0h1m78 0h1m1 0h1m8 0h1m7 0h1m2 0h1m5 0h1m6 0h1m1 0h1m23 0h1m120 0h2m30 0h2m16 0h2m18 0h1M55 200h1m23 0h1m3 0h1m3 0h1m13 0h1m41 0h1m4 0h2m4 0h1m1 0h1m71 0h2m42 0h2m99 0h2M15 201h1m167 0h1m28 0h2m36 0h2m28 0h2m64 0h2m8 0h2m32 0h2M101 202h1m7 0h1m15 0h2m10 0h1m3 0h1m19 0h1m56 0h2m12 0h2m112 0h2m24 0h2m6 0h2m14 0h1M11 203h1m42 0h1m12 0h1m6 0h1m25 0h1m34 0h1m3 0h1m7 0h1m1 0h1m100 0h2m106 0h2m13 0h2M48 204h1m6 0h1m44 0h1m23 0h1m56 0h2m9 0h1m27 0h2m8 0h2m18 0h2m48 0h2m44 0h2M32 205h1m88 0h1m242 0h2m6 0h1M79 206h1m43 0h1m57 0h1m112 0h2m44 0h2m31 0h2m15 0h2M22 207h1m56 0h1m11 0h1m11 0h1m22 0h1m6 0h1m12 0h1m8 0h1m10 0h1m30 0h1m18 0h2m155 0h1M123 208h1m10 0h1m7 0h1m5 0h1m4 0h1m4 0h1m91 0h2m6 0h2m42 0h2m70 0h1M7 209h1m44 0h1m15 0h1m44 0h1m28 0h1m181 0h2m2 0h2m16 0h2m25 0h1m18 0h2M47 210h1m18 0h1m83 0h2m13 0h1m17 0h1m132 0h2m21 0h1m34 0h1m3 0h2M1 211h1m27 0h1m15 0h1m35 0h1m4 0h1m15 0h1m4 0h1m11 0h1m3 0h1m11 0h1m2 0h1m43 0h1m1 0h1m127 0h2m59 0h3M8 212h1m30 0h1m44 0h1m24 0h1m24 0h1m11 0h1m6 0h1m21 0h1m160 0h2m26 0h2m7 0h1M74 213h1m26 0h1m32 0h1m19 0h1m191 0h2m44 0h2M15 214h1m100 0h1m14 0h1m8 0h1m2 0h1m51 0h1m142 0h1m7 0h2m16 0h2m8 0h1m9 0h1M25 215h1m19 0h1m101 0h1m4 0h1m5 0h1m51 0h2m60 0h2m99 0h2M147 216h1m10 0h1m42 0h1m171 0h1M5 217h1m34 0h1m39 0h1m39 0h1m20 0h1m2 0h1m28 0h1m9 0h1m16 0h1m1 0h1m49 0h1m1 0h2m19 0h1M1 218h1m18 0h1m28 0h1m34 0h1m4 0h1m21 0h1m22 0h1m16 0h1m18 0h1m21 0h1m10 0h1M36 219h1m80 0h1m1 0h1m6 0h1m68 0h1m166 0h2m9 0h1M61 220h1m58 0h1m12 0h1m21 0h1m1 0h1m68 0h2m48 0h2m88 0h1m6 0h2m13 0h2M8 221h1m81 0h1m91 0h1m1 0h1m17 0h1m11 0h2m40 0h2m50 0h2m4 0h2m28 0h2m18 0h2m8 0h1M21 222h1m5 0h1m21 0h1m1 0h1m46 0h1m51 0h2m53 0h1m38 0h2m86 0h2m39 0h2M142 223h1m3 0h1m3 0h1m9 0h1m21 0h1m16 0h1m4 0h1m55 0h2m82 0h2m8 0h2M51 224h1m93 0h1m3 0h1m32 0h1m166 0h3m21 0h1m6 0h2M16 225h2m100 0h1m19 0h1m2 0h1m8 0h1m6 0h1m41 0h1m86 0h2m22 0h2m26 0h1m34 0h1M36 226h1m14 0h2m17 0h1m82 0h2m19 0h1m12 0h1m145 0h1m20 0h2m8 0h2M24 227h1m34 0h1m60 0h1m14 0h1m6 0h1m3 0h1m2 0h1m6 0h1m22 0h1m4 0h1m55 0h4m96 0h2m4 0h2m24 0h1M11 228h1m75 0h1m3 0h1m30 0h1m11 0h1m3 0h1m8 0h1m3 0h1m2 0h1m2 0h1m43 0h1m162 0h2m2 0h2m10 0h2M3 229h1m3 0h1m7 0h1m83 0h1m45 0h2m12 0h1m23 0h1m10 0h1m71 0h2m70 0h1m7 0h2m16 0h2m7 0h2M3 230h1m14 0h1m127 0h1m5 0h1m4 0h1m31 0h1m156 0h2m16 0h2M133 231h1m4 0h1m15 0h1m4 0h1m62 0h2m92 0h2m28 0h2m2 0h2m12 0h2m7 0h1M43 232h1m90 0h1m3 0h1m2 0h1m5 0h1m7 0h1m4 0h1m3 0h1m1 0h1m2 0h1m12 0h1m6 0h1m11 0h1m144 0h2m25 0h2M66 233h1m46 0h1m85 0h1m28 0h2m10 0h2m104 0h2m8 0h2m15 0h2M0 234h1m94 0h1m37 0h1m7 0h1m15 0h1m44 0h1m1 0h1m137 0h2m20 0h2m7 0h2m5 0h2M91 235h1m43 0h1m2 0h1m12 0h1m6 0h1m25 0h1m3 0h1m83 0h2m72 0h2m32 0h2m4 0h2M101 236h1m27 0h1m9 0h1m3 0h1m13 0h1m30 0h1m5 0h1m9 0h1m57 0h2m8 0h2m4 0h2m10 0h2m54 0h2m8 0h2m5 0h1M41 237h1m17 0h1m73 0h1m13 0h1m11 0h1m23 0h1m56 0h2m2 0h2m110 0h2m6 0h2m8 0h1M9 238h1m4 0h1m111 0h1m15 0h1m11 0h1m3 0h2m24 0h1m11 0h1m117 0h2m57 0h3m6 0h2m4 0h2m6 0h1M14 239h1m4 0h1m61 0h1m42 0h1m5 0h1m19 0h1m9 0h1m29 0h1m7 0h1m55 0h2m2 0h2m104 0h2m7 0h1M59 240h1m66 0h1m5 0h1m5 0h1m6 0h1m13 0h1m23 0h1m16 0h1m64 0h1m107 0h1M0 241h1m80 0h1m27 0h1m10 0h1m23 0h2m8 0h1m17 0h1m9 0h1m29 0h2m132 0h2m8 0h2m16 0h1m17 0h2M3 242h1m138 0h2m13 0h2m35 0h1m6 0h1m128 0h2m14 0h2m25 0h2m3 0h4M42 243h1m11 0h1m8 0h1m37 0h1m3 0h1m29 0h1m10 0h1m10 0h1m206 0h6m3 0h1M32 244h1m3 0h1m24 0h1m10 0h1m26 0h1m20 0h1m12 0h1m13 0h1m6 0h1m1 0h1m25 0h1m73 0h2m88 0h2m24 0h3M88 245h1m15 0h1m1 0h1m19 0h1m8 0h1m2 0h1m43 0h2m10 0h1m7 0h1m7 0h4m62 0h2m86 0h2m7 0h2M16 246h2m10 0h1m74 0h1m66 0h1m25 0h1m49 0h2m18 0h2m56 0h2m1 0h1m28 0h2m15 0h2M140 247h1m5 0h2m35 0h1m60 0h1m51 0h2m24 0h2m4 0h2m43 0h1m6 0h2m4 0h2m8 0h1M13 248h1m7 0h1m59 0h1m35 0h1m23 0h1m12 0h1m97 0h2m24 0h2m6 0h2m58 0h2m20 0h2m3 0h1m12 0h2M29 249h1m18 0h1m2 0h1m30 0h1m11 0h1m4 0h1m15 0h1m6 0h1m1 0h1m3 0h1m4 0h1m12 0h1m6 0h1m122 0h2m95 0h1m2 0h2M23 250h1m65 0h1m40 0h1m10 0h1m12 0h1m26 0h1m12 0h1m55 0h2m90 0h2m30 0h2M12 251h1m40 0h1m39 0h1m7 0h1m24 0h1m14 0h1m2 0h1m9 0h1m34 0h1m22 0h2m76 0h2m72 0h2m7 0h2M1 252h1m53 0h1m17 0h1m44 0h1m1 0h1m35 0h1m25 0h1m7 0h1m10 0h1m144 0h2m26 0h1m5 0h2M0 253h1m16 0h1m66 0h1m20 0h1m33 0h1m10 0h1m7 0h1m25 0h1m18 0h1m38 0h2m52 0h2m48 0h2m6 0h4m6 0h2m7 0h1M43 254h1m12 0h1m35 0h1m27 0h1m12 0h1m11 0h1m17 0h1m31 0h1m5 0h1m32 0h3m43 0h2m12 0h2m22 0h2m8 0h1M10 255h1m15 0h1m94 0h2m35 0h1m31 0h1m21 0h2m30 0h2m98 0h4M121 256h1m3 0h1m8 0h1m4 0h1m3 0h1m10 0h1m36 0h1m7 0h1m4 0h1m7 0h2m2 0h2m62 0h2m40 0h2m8 0h2m12 0h2m10 0h2m14 0h1m5 0h2M2 257h1m55 0h1m14 0h1m13 0h1m32 0h3m15 0h1m5 0h1m6 0h1m31 0h1m27 0h1m10 0h2m4 0h2M59 258h1m27 0h1m59 0h1m35 0h1m15 0h1m36 0h2m12 0h2m4 0h2m10 0h2m92 0h4m8 0h1M56 259h1m6 0h1m54 0h1m18 0h1m1 0h1m1 0h1m41 0h1m1 0h1m134 0h2m42 0h2m7 0h2M50 260h1m12 0h1m71 0h1m9 0h1m13 0h1m39 0h1m126 0h2m18 0h2M31 261h1m58 0h1m1 0h1m37 0h1m10 0h2m17 0h1m10 0h1m10 0h1m191 0h1m3 0h2M14 262h1m21 0h1m48 0h1m34 0h1m1 0h1m16 0h1m17 0h3m22 0h1m21 0h1m17 0h4m23 0h1m14 0h1m109 0h1m5 0h2M17 263h1m1 0h1m2 0h1m116 0h1m2 0h1m10 0h1m30 0h1m10 0h1m16 0h2m70 0h2m74 0h2m11 0h2M18 264h1m11 0h1m86 0h1m4 0h1m15 0h1m20 0h1m22 0h1m5 0h1m47 0h2m14 0h2m86 0h2m4 0h2m4 0h2m10 0h2m8 0h1m9 0h2M117 265h1m17 0h1m6 0h1m87 0h2m20 0h2m66 0h2m32 0h2m16 0h1m1 0h1m21 0h1M83 266h1m1 0h1m2 0h1m60 0h1m78 0h2m64 0h2m2 0h4m6 0h2m18 0h4m32 0h2m7 0h1m6 0h2M79 267h1m53 0h1m5 0h1m10 0h1m45 0h1m149 0h2m14 0h2m26 0h2M10 268h1m38 0h1m6 0h1m93 0h1m4 0h1m15 0h1m2 0h1m79 0h2m9 0h1m107 0h2m5 0h2m4 0h2m5 0h1M40 269h1m14 0h1m46 0h1m38 0h1m4 0h1m11 0h1m25 0h1m43 0h2m116 0h2m32 0h2M2 270h1m2 0h1m28 0h1m100 0h1m7 0h1m35 0h1m2 0h1m20 0h1m22 0h2m36 0h1m77 0h2m2 0h2m14 0h2m10 0h2M17 271h1m40 0h1m2 0h1m3 0h1m27 0h1m46 0h1m67 0h2m40 0h2m70 0h2m49 0h1M28 272h1m23 0h1m5 0h1m47 0h1m24 0h1m10 0h1m45 0h1m4 0h1m83 0h3M29 273h1m33 0h1m13 0h1m40 0h1m27 0h1m35 0h1m3 0h1m21 0h2m12 0h2m122 0h2m24 0h1m1 0h1m7 0h2M67 274h1m23 0h1m24 0h1m6 0h2m8 0h1m4 0h1m225 0h2m8 0h1M99 275h1m45 0h1m54 0h1m77 0h2m6 0h2m24 0h2m72 0h2M51 276h1m29 0h1m29 0h1m27 0h1m53 0h1m11 0h1m132 0h1m15 0h2m17 0h1m6 0h2M6 277h1m51 0h1m46 0h1m6 0h1m181 0h2m50 0h2m20 0h2m3 0h1m6 0h2m2 0h2M3 278h1m1 0h1m2 0h1m14 0h1m50 0h1m109 0h1m59 0h2m88 0h2m10 0h2m20 0h2m2 0h1m1 0h1M19 279h1m24 0h1m4 0h1m6 0h1m2 0h1m14 0h1m36 0h1m9 0h1m7 0h1m28 0h1m25 0h2m13 0h1m64 0h1m7 0h2m26 0h2m2 0h2m50 0h2m8 0h2m5 0h2m5 0h2M39 280h1m27 0h1m11 0h1m170 0h2m20 0h2m6 0h2m76 0h2m6 0h2m5 0h1m1 0h1M32 281h1m36 0h1m3 0h1m11 0h1m39 0h1m18 0h1m5 0h3m30 0h1m3 0h1m40 0h2m118 0h2m24 0h1M21 282h1m6 0h1m116 0h1m13 0h1m23 0h2m31 0h2m66 0h2m42 0h2m34 0h2m7 0h2M32 283h1m18 0h1m24 0h1m20 0h1m92 0h1m17 0h2m136 0h2m25 0h1M10 284h1m6 0h1m128 0h1m91 0h2m48 0h4m14 0h2m38 0h2m25 0h2M38 285h1m96 0h1m30 0h1m16 0h2m13 0h1m49 0h2m40 0h2m40 0h2m5 0h1m6 0h2m16 0h2M81 286h1m55 0h1m8 0h1m3 0h2m31 0h1m56 0h2m10 0h2m4 0h2m20 0h4m112 0h1M40 287h1m18 0h1m53 0h1m28 0h1m1 0h1m1 0h1m53 0h1m44 0h1m38 0h2m30 0h2m4 0h2m38 0h2m2 0h2m2 0h2m1 0h2m21 0h1M2 288h1m27 0h1m3 0h1m223 0h2m70 0h2m14 0h2m16 0h2m7 0h1m6 0h2M43 289h1m91 0h1m46 0h2m52 0h2m136 0h1m5 0h2M21 290h1m14 0h1m4 0h1m30 0h1m26 0h1m36 0h1m2 0h1m1 0h1m55 0h1m28 0h2m118 0h2m16 0h2m2 0h2m3 0h2M3 291h1m9 0h1m28 0h1m103 0h1m4 0h1m26 0h1m117 0h2m66 0h2m8 0h1m1 0h2M43 292h1m46 0h1m29 0h1m7 0h1m12 0h1m56 0h1m121 0h2m32 0h2m17 0h1m6 0h2M11 293h1m74 0h1m47 0h1m2 0h1m47 0h1m98 0h2m56 0h2m2 0h2m10 0h2M38 294h1m17 0h1m18 0h1m13 0h1m1 0h1m27 0h1m19 0h1m12 0h1m6 0h1m116 0h2m86 0h2M40 295h1m87 0h1m2 0h1m12 0h1m13 0h1m23 0h1m1 0h1m49 0h2m70 0h2m42 0h2M155 296h1m26 0h1m16 0h1M24 297h1m27 0h1m56 0h1m24 0h1m15 0h2m15 0h1m5 0h1m30 0h1m39 0h2m100 0h2m24 0h1M20 298h1m17 0h1m100 0h1m4 0h2m1 0h1m2 0h1m4 0h1m27 0h1m50 0h2m8 0h2m2 0h2m96 0h2m25 0h2M3 299h1m55 0h1m2 0h1m24 0h1m13 0h1m40 0h1m1 0h1m10 0h1m3 0h1m22 0h2m8 0h1m2 0h1m12 0h2m118 0h2m18 0h2m23 0h1M14 300h1m8 0h1m10 0h1m2 0h1m1 0h1m45 0h1m16 0h1m15 0h1m3 0h1m5 0h1m9 0h1m3 0h1m42 0h1m40 0h2m96 0h2m47 0h1M38 301h1m15 0h1m20 0h1m17 0h1m39 0h1m5 0h1m2 0h1m3 0h1m2 0h2m32 0h1m30 0h2m44 0h2m2 0h1m1 0h2m72 0h2m32 0h1M110 302h1m7 0h1m15 0h2m10 0h1m10 0h1m24 0h1m1 0h1m18 0h1m61 0h1m78 0h4m8 0h2m36 0h2M44 303h1m53 0h1m42 0h1m17 0h1m32 0h1m15 0h2m78 0h2m60 0h2m21 0h1M14 304h1m106 0h1m16 0h1m6 0h1m3 0h1m34 0h1m12 0h1m34 0h2m46 0h2m64 0h2m16 0h2m7 0h2M80 305h1m13 0h1m23 0h1m1 0h1m30 0h1m17 0h1m11 0h2m17 0h1m73 0h2m80 0h2m15 0h2M4 306h1m106 0h1m5 0h1m4 0h1m12 0h1m5 0h2m9 0h1m1 0h1m16 0h1m10 0h1m1 0h1m5 0h1m97 0h2m16 0h2m30 0h1m25 0h2m7 0h2M47 307h1m50 0h1m13 0h1m1 0h1m23 0h1m6 0h1m4 0h1m5 0h1m27 0h1m2 0h1m7 0h1m94 0h2m42 0h2m10 0h2M18 308h1m16 0h1m20 0h1m31 0h1m8 0h2m35 0h1m3 0h1m15 0h1m28 0h1m38 0h2m2 0h2m6 0h2m137 0h1m12 0h2M80 309h1m28 0h1m18 0h1m2 0h1m8 0h1m121 0h2m109 0h2M2 310h1m17 0h1m8 0h1m2 0h1m62 0h1m42 0h1m3 0h2m3 0h1m2 0h2m7 0h1m18 0h1m4 0h1m4 0h1m39 0h2m56 0h2m68 0h2m4 0h4m2 0h2m10 0h2M64 311h1m20 0h1m15 0h1m30 0h1m1 0h1m6 0h2m39 0h2m6 0h1m9 0h1m41 0h2m28 0h2m40 0h2m30 0h2m16 0h2m10 0h4m2 0h2M147 312h1m8 0h1m3 0h1m53 0h1m33 0h1m97 0h2m34 0h4M43 313h1m4 0h1m28 0h1m46 0h1m6 0h1m18 0h1m1 0h1m1 0h1m4 0h1m39 0h1m16 0h2m58 0h2m95 0h1m2 0h2m8 0h2M26 314h1m39 0h1m36 0h1m34 0h1m3 0h1m12 0h1m62 0h1m11 0h2m46 0h2m14 0h2m50 0h2m16 0h2M14 315h1m37 0h1m68 0h1m2 0h1m20 0h1m8 0h1m39 0h1m39 0h2m50 0h2m8 0h2m4 0h2m60 0h2M23 316h1m5 0h1m6 0h1m11 0h1m66 0h1m12 0h1m53 0h1m1 0h1m16 0h1m10 0h2m26 0h2m28 0h2m76 0h2m14 0h2m7 0h2m5 0h2M62 317h1m18 0h1m9 0h1m4 0h1m30 0h1m54 0h1m19 0h1m101 0h2m67 0h1m6 0h2M80 318h1m56 0h2m83 0h2m29 0h1m40 0h2m77 0h2M30 319h1m14 0h1m87 0h3m12 0h1m5 0h1m28 0h2m47 0h2m112 0h2m12 0h2m11 0h2M24 320h1m34 0h1m3 0h1m78 0h1m7 0h1m3 0h1m3 0h1m115 0h2m62 0h1m19 0h1M17 321h1m16 0h1m1 0h1m43 0h1m6 0h1m70 0h1m33 0h1m85 0h2m30 0h2m52 0h2m7 0h1m8 0h2M61 322h1m75 0h1m7 0h1m2 0h1m7 0h1m25 0h1m1 0h2m6 0h1m23 0h2m64 0h2m6 0h2m64 0h2M76 323h1m41 0h1m20 0h1m42 0h1m69 0h2m20 0h2m20 0h2m86 0h1M4 324h1m51 0h1m10 0h1m14 0h1m6 0h1m32 0h1m9 0h1m14 0h1m11 0h1m19 0h1m146 0h2m30 0h4m12 0h1M50 325h1m14 0h1m76 0h1m3 0h2m27 0h1m3 0h1m56 0h2m126 0h2m8 0h1m5 0h2M7 326h1m7 0h1m71 0h1m7 0h1m38 0h1m8 0h1m6 0h1m3 0h1m47 0h1m6 0h1m34 0h2m100 0h2m24 0h1m1 0h1m5 0h2M58 327h1m26 0h1m49 0h1m8 0h1m149 0h2m12 0h2m36 0h2m16 0h2M8 328h1m5 0h1m72 0h1m15 0h1m23 0h1m5 0h1m22 0h1m10 0h1m178 0h2m26 0h1m5 0h2M86 329h1m13 0h1m22 0h1m178 0h2m76 0h2m6 0h2m4 0h2M146 330h1m37 0h1m8 0h1m3 0h1m10 0h2m64 0h2m22 0h2m46 0h2m4 0h2m26 0h2M53 331h1m4 0h1m22 0h1m34 0h1m24 0h1m30 0h2m8 0h2m14 0h1m5 0h1m60 0h1m104 0h2m1 0h1m6 0h2m4 0h2M20 332h1m22 0h1m78 0h1m11 0h1m18 0h1m219 0h1m6 0h2M3 333h1m5 0h1m11 0h1m42 0h1m46 0h2m11 0h1m9 0h1m3 0h2m2 0h1m4 0h1m18 0h1m9 0h1m6 0h1m34 0h2m12 0h2m26 0h2m46 0h2m44 0h2m2 0h2m13 0h2M48 334h1m49 0h1m4 0h1m44 0h1m47 0h1m3 0h1m53 0h2m70 0h2m18 0h2m30 0h2M59 335h1m21 0h1m16 0h1m22 0h1m6 0h1m5 0h1m4 0h1m5 0h1m1 0h2m9 0h1m23 0h1m18 0h1m156 0h2m13 0h2m5 0h2M7 336h1m51 0h1m18 0h1m25 0h1m9 0h1m101 0h2m22 0h2m2 0h2m26 0h2m99 0h1M157 337h1m1 0h1m24 0h1m129 0h2m10 0h2m45 0h1M52 338h1m48 0h1m11 0h1m8 0h1m20 0h1m6 0h2m6 0h1m23 0h1m173 0h2m6 0h2m8 0h1M21 339h1m44 0h2m69 0h1m7 0h1m11 0h2m25 0h1m11 0h1m121 0h2m22 0h2m2 0h3m15 0h2m24 0h2M9 340h1m26 0h1m19 0h1m23 0h1m77 0h1m23 0h2m156 0h2m31 0h1M94 341h1m11 0h2m18 0h2m11 0h1m10 0h1m39 0h1m12 0h1m160 0h2m8 0h1m6 0h1M71 342h1m7 0h1m29 0h1m15 0h1m2 0h2m8 0h1m2 0h1m17 0h1m34 0h1m2 0h1m98 0h2m41 0h1m6 0h2m30 0h2M111 343h1m31 0h1m5 0h2m4 0h1m2 0h1m8 0h1m8 0h1m9 0h2m38 0h2m145 0h2M38 344h1m66 0h1m43 0h2m7 0h1m22 0h1m12 0h2m4 0h1m47 0h2m24 0h2m36 0h2m39 0h1m20 0h1M21 345h1m43 0h1m16 0h1m3 0h1m46 0h1m1 0h1m24 0h1m37 0h1m23 0h2m22 0h2m132 0h2M29 346h1m4 0h1m37 0h1m18 0h1m1 0h1m9 0h1m20 0h1m58 0h2m18 0h1m74 0h2m93 0h2M51 347h1m46 0h1m163 0h2m58 0h2m40 0h2m8 0h1m5 0h2M4 348h2m18 0h1m10 0h1m88 0h1m15 0h1m4 0h1m3 0h1m3 0h1m14 0h1m81 0h2m48 0h2m30 0h2m10 0h4m10 0h2m36 0h1M59 349h1m30 0h1m48 0h1m17 0h1m18 0h1m145 0h2m40 0h2m8 0h1M84 350h1m24 0h1m27 0h1m3 0h2m43 0h1m16 0h1m50 0h2m14 0h2m102 0h1m17 0h2M9 351h1m17 0h1m27 0h1m24 0h1m42 0h1m4 0h1m25 0h1m14 0h1m12 0h2m46 0h2m128 0h2M27 352h1m103 0h1m14 0h1m7 0h1m41 0h1m89 0h2m76 0h2M47 353h1m2 0h1m15 0h1m32 0h1m16 0h1m27 0h1m31 0h1m28 0h1m62 0h2m7 0h1m90 0h2m4 0h1m9 0h1M73 354h1m24 0h1m12 0h1m21 0h1m7 0h1m4 0h1m36 0h1m46 0h2m40 0h2m28 0h2m42 0h2m25 0h1M102 355h1m13 0h1m2 0h1m2 0h1m12 0h1m8 0h1m14 0h1m36 0h1m1 0h1m141 0h2m32 0h1M17 356h1m5 0h1m107 0h1m12 0h1m10 0h1m45 0h1m66 0h1m9 0h2m12 0h2m6 0h2m50 0h2m26 0h2M23 357h1m4 0h1m36 0h1m49 0h1m6 0h1m30 0h1m1 0h1m26 0h3m85 0h2m66 0h1m7 0h2m8 0h1m7 0h2m8 0h1m17 0h2M24 358h1m56 0h1m20 0h3m26 0h1m5 0h2m7 0h1m6 0h1m5 0h1m25 0h1m90 0h2m68 0h2m16 0h2m7 0h2m5 0h1M46 359h1m47 0h1m28 0h1m9 0h2m2 0h1m15 0h1m28 0h1m57 0h2m30 0h2m44 0h2m53 0h2M100 360h1m38 0h1m7 0h1m17 0h1m16 0h2m13 0h1m18 0h2m2 0h2m54 0h2m8 0h2m6 0h2m66 0h4m8 0h2m20 0h1M108 361h1m14 0h1m13 0h1m7 0h1m59 0h1m14 0h2m22 0h2m80 0h1m21 0h2m23 0h2M32 362h1m88 0h1m28 0h1m4 0h1m16 0h1m11 0h1m10 0h1m92 0h2m56 0h2m20 0h2m22 0h2M7 363h1m41 0h1m102 0h1m6 0h1m88 0h2m50 0h2m71 0h2M149 364h1m33 0h1m114 0h2m14 0h2m30 0h2m12 0h2m2 0h2m7 0h2M46 365h1m11 0h1m4 0h1m70 0h1m40 0h1m52 0h2m108 0h1m7 0h2m25 0h2m5 0h2M44 366h1m1 0h1m90 0h1m1 0h1m10 0h1m6 0h2m24 0h1m11 0h1m36 0h2m70 0h2m50 0h2m6 0h2m6 0h1m1 0h2m4 0h2M44 367h1m65 0h1m6 0h1m7 0h1m12 0h1m1 0h1m9 0h1m3 0h1m28 0h3m3 0h1m2 0h1m12 0h1m50 0h2m8 0h2m78 0h2m16 0h2m14 0h2M45 368h1m39 0h1m75 0h1m48 0h2m20 0h1m19 0h2m5 0h1m14 0h2m46 0h2m23 0h1m20 0h2m10 0h4M45 369h1m39 0h1m75 0h1m48 0h2m20 0h1m19 0h2m5 0h1m14 0h2m46 0h2m23 0h1m20 0h2m10 0h4"/><path stroke="#355f8d" d="M115 2h1M354 3h2M191 6h1m60 0h1M9 9h1M259 10h1m7 0h1m44 0h1M83 11h1m79 0h1M312 12h2m29 0h1M70 13h1m207 0h1M266 15h2M22 16h1m56 0h1M93 18h1M180 19h1M62 20h1M144 21h1m213 0h2M270 23h2m97 0h1m2 0h1M291 24h1m84 0h2M378 26h2M246 27h2M65 28h1M296 29h2M93 30h1M102 31h1m257 0h1M5 32h1M394 33h2M312 34h1m45 0h1M93 36h1M41 37h1m244 0h2M126 40h1M65 41h1M73 44h1M60 45h1m231 0h2M330 47h1m1 0h2M116 48h1M3 49h1m380 0h2M120 51h1m220 0h1M314 53h2m43 0h1M284 54h1M31 55h1m41 0h1m304 0h1M344 56h2M395 57h1M265 58h1m89 0h1M310 61h2M93 62h1m284 0h2M92 64h1m178 0h1M0 65h1m82 0h1m18 0h1m126 0h1M9 67h1M169 68h1m168 0h1M248 69h1m86 0h1m36 0h1M120 70h1M228 71h2m4 0h1M278 72h2M363 73h1M18 75h1m24 0h1m153 0h1M210 76h2m26 0h1M236 77h2M85 78h1M49 79h1m65 0h1m225 0h1M91 80h1M135 81h1M100 85h1m107 0h2M73 86h1m32 0h1m255 0h1M9 88h1M98 92h1m273 0h1M5 93h1m364 0h1M236 95h1M10 96h1M106 100h1M366 101h1M67 102h1m274 0h2m45 0h1M356 104h1M34 105h1m253 0h1M199 109h1m18 0h1m175 0h2M129 110h1M87 111h1m97 0h1m170 0h2M102 113h1M69 114h1m97 0h1m51 0h1m157 0h1M119 115h1m8 0h1M9 116h1M195 117h1M46 118h1M48 120h1m61 0h1M114 121h1M70 122h1m152 0h1M392 124h1M313 125h1M388 126h1M99 127h1m156 0h1m27 0h2M30 128h1M193 129h1M290 132h1M5 133h1m310 0h2M36 134h1m5 0h1m343 0h2M295 135h1M298 137h2m38 0h1M23 140h1m196 0h2M250 142h1m84 0h1M382 143h1M219 145h1m128 0h2M19 146h1m42 0h1M25 147h1m272 0h2m20 0h2M82 148h1m102 0h1m189 0h1M84 149h1m69 0h1m36 0h1M99 150h1M69 154h1m170 0h2m126 0h2M142 155h1M59 156h1m13 0h1M309 157h1M20 159h1M282 160h1M180 161h1m139 0h2M202 164h1M304 165h2M352 166h2M276 168h2M278 169h2M18 171h1m227 0h2M206 172h1m55 0h2M34 173h1M212 174h2m20 0h1M64 175h1m146 0h1M356 177h2M60 178h1M360 180h1M214 181h2M9 182h1M60 183h1m58 0h1M100 185h1m154 0h1M24 186h1M390 187h1M210 188h1m43 0h2M121 189h1M352 190h2M272 191h2M61 194h1m55 0h1M97 195h1m160 0h2M201 196h1M200 198h1M356 200h2m18 0h1M85 201h1m138 0h2M167 203h1m1 0h1M274 204h2M122 205h1m66 0h1M344 207h2M97 208h1m97 0h1M262 209h2m122 0h2M224 214h2m142 0h2m2 0h1m4 0h1M52 217h1m325 0h2M138 221h1M60 226h1M48 227h1m137 0h1M198 228h1M221 231h1M107 232h1M319 233h1M99 235h1m271 0h1M226 236h2M356 238h2M52 239h1m7 0h1m287 0h1M5 241h1M248 244h2M16 245h1m24 0h1M376 246h2M9 247h1m93 0h1m102 0h2M225 248h1M13 251h1m342 0h2M239 252h1m77 0h1M5 253h1m113 0h1M32 255h1M249 257h1m27 0h1M22 259h1m94 0h1m78 0h1M64 260h1m211 0h1M214 261h2M71 262h1M42 265h1M231 266h1M82 267h1m35 0h1M94 270h1m64 0h1m226 0h2M103 271h1M386 274h2M143 275h1m53 0h1m38 0h2M161 278h1M76 280h1m78 0h1M165 282h1M114 283h1m179 0h2m70 0h2M33 285h1m93 0h1m65 0h1m194 0h1M71 286h1m45 0h1m1 0h1m262 0h1M244 287h1m65 0h2m80 0h2M24 288h1m73 0h1m12 0h1m50 0h1M357 292h1M225 293h1M332 295h2m56 0h1M59 296h1M21 297h1m125 0h1M115 298h1m274 0h1M55 300h1M295 304h1M244 306h1m4 0h1m34 0h2m76 0h1M328 307h2M268 308h1M197 310h1M3 312h1m2 0h1M6 313h1m15 0h1m87 0h1M338 315h1M6 316h1m311 0h1M298 318h1m27 0h2M84 319h1m5 0h1M99 320h1m234 0h2m42 0h2M32 321h1m11 0h1m279 0h2M15 322h1m185 0h1m62 0h1M264 324h1M210 325h2M78 326h1m271 0h2m26 0h1M325 329h1M245 331h1M108 333h1M106 334h1M282 335h2M251 336h1M191 337h1M4 338h1m3 0h1m87 0h1m125 0h1m122 0h1M193 339h1M243 340h1m110 0h2M4 341h1M0 345h1m31 0h1M97 346h1M89 348h1M251 350h1m86 0h1M279 351h1M328 353h1M99 354h1m108 0h1m147 0h2M48 357h1M139 359h1M179 360h1M267 361h1M34 362h1m229 0h1M68 363h1m44 0h1m161 0h1M250 364h1M87 365h1M21 366h1M82 367h1"/><path stroke="#2f6c8e" d="M378 0h2M115 1h1M341 2h1m18 0h2M188 4h1M121 5h1m228 0h2M4 6h1m82 0h1m21 0h1m49 0h1m198 0h1M329 7h1M121 8h1m81 0h1m68 0h2M27 9h1m144 0h1m139 0h2M163 10h1m145 0h1m62 0h1M305 11h1m36 0h2M12 13h1m255 0h1M12 14h1m60 0h1m18 0h1m20 0h1m75 0h1M9 15h1m26 0h1m42 0h1m232 0h2M120 16h1m260 0h1M33 17h1m242 0h2m78 0h2M234 18h2M164 20h1M69 21h1m15 0h1M33 23h1m42 0h1m19 0h1m81 0h1M246 24h2m136 0h2M0 25h1m77 0h1m19 0h1m126 0h1M98 26h1m139 0h2M184 29h1m209 0h2M266 30h2m110 0h2M379 31h1M230 33h2m32 0h1M362 34h2m22 0h1M38 36h1m47 0h1M86 37h1m102 0h1m144 0h2M369 38h1m8 0h1M0 39h1m23 0h1m101 0h1M104 40h1m145 0h1M167 43h1M210 44h2M330 46h2M243 47h1M291 49h1M189 51h1m62 0h2m112 0h2M187 52h1m7 0h1m162 0h2M195 53h1m82 0h1M50 54h1m22 0h1m206 0h1M212 55h2m80 0h2M28 56h1m91 0h1M81 57h1m32 0h1m70 0h1M54 58h1m153 0h2M266 59h2M220 60h2m38 0h2m76 0h1M149 61h1m60 0h1m43 0h2M45 62h1m7 0h1M19 63h1M96 64h1m21 0h1M59 65h1M61 66h1m185 0h1M204 67h1M77 68h1m180 0h2M17 69h1m110 0h1m205 0h1M3 70h1M100 71h1M157 72h1m162 0h1m41 0h2M196 73h1M118 74h1m152 0h1m8 0h2m27 0h1M165 76h1M250 77h2m18 0h2m100 0h1M107 78h1m88 0h1m85 0h2m54 0h1m43 0h2M181 79h1M176 80h1M117 82h1m76 0h1m115 0h2M312 84h2M128 85h1m183 0h1M90 86h1M0 87h1m1 0h1m41 0h1M0 88h1m177 0h1m91 0h2M222 89h2m40 0h1M330 90h2M186 91h1m50 0h1M5 92h1m95 0h1M106 93h1M164 94h1M96 96h1m39 0h1M224 97h2m168 0h2M23 98h1m200 0h1m69 0h2m69 0h1M9 99h1m13 0h1m23 0h1m265 0h1M163 100h1M267 101h1m115 0h1M15 102h2m106 0h1M372 103h1M54 104h1M266 105h1m41 0h4M12 106h1M30 110h1m71 0h1m19 0h1m199 0h2m20 0h2M378 111h1M21 112h1m30 0h1M167 113h1M218 114h1m123 0h2m18 0h2M42 116h1m281 0h2M296 117h2m60 0h2M179 118h1m179 0h1M179 119h1m144 0h2m31 0h1M352 120h2M56 121h1m187 0h1m113 0h1m27 0h1M214 122h2m51 0h1m1 0h1m22 0h2M92 123h1m279 0h1M46 124h1m205 0h2M9 125h1m110 0h1m191 0h1M18 126h1m55 0h1m157 0h1m89 0h2m65 0h1M213 127h1m120 0h1M114 128h1M63 129h1m101 0h1M278 130h2m64 0h2m30 0h1M362 131h2M113 132h1m90 0h1m44 0h1M36 133h1m67 0h1m12 0h1m121 0h1M73 134h1M190 136h1M104 137h1m251 0h2M352 138h2M340 140h2M30 142h1m85 0h1m241 0h2m22 0h2M328 143h2M73 145h1M37 147h1m138 0h1M86 148h1M274 149h2M52 151h1m39 0h1m297 0h1M62 152h1m27 0h1m266 0h1M33 153h1m159 0h1m54 0h2M23 154h1m269 0h1m45 0h1M16 156h1m195 0h2m140 0h2M122 157h1m97 0h2m82 0h2M109 158h1m98 0h2m148 0h2M9 159h1m111 0h1m182 0h1m43 0h2m46 0h1M117 160h1m62 0h1m37 0h2m58 0h2M192 161h1m85 0h2m59 0h1M192 162h1m8 0h1M184 163h1m41 0h2M94 164h1m77 0h1m77 0h1m33 0h2M96 165h1M222 166h2m98 0h1m31 0h2M186 168h1m21 0h2M86 170h1M200 171h1m5 0h2M31 172h1m14 0h1m311 0h2M44 173h1m189 0h2M64 174h1M121 175h1m126 0h2M218 176h2m75 0h1M25 177h1M78 178h1m119 0h1m19 0h2m107 0h1M84 179h1M256 182h2M85 183h1m251 0h1M51 184h1m25 0h1m102 0h1m33 0h2m146 0h2M18 185h1m56 0h1m94 0h1m71 0h2m28 0h2M338 186h1M53 187h1M29 188h1m2 0h1m342 0h1m8 0h1M23 189h1m15 0h1m332 0h1M384 190h2M75 191h1m18 0h1M54 192h1m144 0h1M372 193h1M212 195h2m131 0h1m22 0h2M70 196h1m42 0h1m66 0h1m187 0h1M105 197h1m71 0h1m17 0h1m119 0h1m8 0h2m56 0h2M92 198h1M85 200h1m298 0h2M23 201h1m72 0h1m89 0h1M296 202h2M62 204h1m21 0h1m277 0h1M356 205h2M1 206h1m356 0h2M22 208h1m136 0h1M317 209h1m78 0h1M58 210h1m235 0h2M276 211h1M57 212h1m160 0h2m68 0h1M208 214h2M190 215h1M248 216h1m25 0h2M98 217h1m82 0h1m110 0h2M7 218h1m167 0h1m88 0h1m54 0h1m42 0h2M79 220h1m258 0h2m27 0h1M121 221h1m199 0h1M117 222h1m270 0h2M51 223h1m266 0h2m20 0h2m6 0h2M206 224h2m140 0h1M384 225h1M13 226h1m282 0h2m74 0h1M203 228h1m75 0h1M297 229h1m10 0h2M33 230h1m114 0h1m61 0h2m8 0h2M152 231h1m179 0h2M0 232h1m385 0h1M109 233h1m2 0h1M352 234h2m24 0h2M34 235h1m289 0h2m4 0h1M118 236h1m125 0h2m28 0h1M265 237h1M60 238h1m141 0h1M354 239h2M392 240h2M227 241h1M206 242h2M388 243h2M109 244h1m82 0h1m186 0h1M1 245h1M13 247h1m33 0h1m150 0h1M18 248h1m118 0h1m39 0h1m197 0h1M101 249h1M198 250h1m171 0h2M5 251h1m1 0h1M376 252h2M122 253h1m43 0h1m69 0h2M212 254h1m116 0h1M7 255h1m53 0h1M72 258h1m214 0h1m70 0h2M64 259h1m225 0h2M77 260h1M248 261h2M55 262h1M24 263h1m276 0h1m18 0h2M51 264h1m222 0h2m15 0h1m25 0h1M45 265h1m108 0h1m119 0h1m100 0h1M52 266h1m65 0h1m10 0h1m80 0h1m148 0h1M34 267h1m155 0h1M339 268h1m13 0h1M336 269h2M113 270h1m116 0h1M62 271h1m213 0h2m38 0h2m32 0h2M262 272h2M262 273h1m75 0h1M120 275h1m109 0h1m157 0h2M114 276h1m27 0h1m189 0h2m51 0h1M181 278h1M127 279h1m178 0h2M45 280h1m266 0h1M44 281h1m275 0h2M39 282h1m62 0h1m7 0h1m33 0h1m210 0h1M188 283h1M194 284h1m49 0h1M96 285h1m34 0h1m80 0h2M85 286h1m43 0h1m71 0h1m42 0h2m18 0h1m101 0h1M85 287h1m25 0h1m5 0h1M0 290h1m76 0h1M283 291h1M350 292h2m4 0h1m14 0h1M10 294h1m277 0h2M21 296h1m132 0h1m113 0h2M243 297h1M3 298h1m252 0h1m37 0h2m48 0h2M295 299h1m20 0h2m2 0h1m54 0h1m13 0h1M100 300h1m20 0h1m175 0h1M12 301h1m91 0h1m98 0h1M202 303h1M122 304h1m79 0h1m34 0h1M244 305h2m89 0h1m2 0h1M278 306h1m84 0h1M236 308h2M25 309h1m148 0h1m61 0h1M64 310h1m171 0h2m146 0h1M220 311h1m27 0h2m53 0h1M63 312h1m185 0h1m82 0h2M269 313h1M176 314h1m180 0h1M259 315h1m106 0h2M14 316h1M252 317h2M90 318h1M10 319h1m164 0h1m72 0h1m63 0h1m3 0h2M64 320h1m147 0h2m140 0h2M2 321h1m5 0h1m192 0h1m114 0h2m68 0h2M113 322h1m181 0h1m40 0h1M27 323h1m68 0h1M165 324h1m75 0h1m142 0h2M29 325h1m56 0h1m168 0h1m122 0h2M311 326h1m44 0h2M275 327h3M32 328h1M0 329h1m107 0h1m1 0h1m9 0h1m97 0h2m164 0h1M28 330h1m63 0h1m38 0h1M114 331h1m56 0h1M27 332h1m83 0h1m3 0h1m5 0h1M86 333h1m87 0h1M376 334h2M95 335h1m64 0h1m48 0h1M236 336h2m104 0h2M52 337h1m32 0h1M223 338h1m124 0h2M242 339h2M81 340h1m210 0h2M18 341h1m78 0h1M7 342h1m113 0h1m24 0h1m23 0h1m66 0h1m156 0h2M10 343h1m248 0h1M10 344h1m21 0h1m272 0h1m30 0h2M361 345h1M394 346h1M45 347h1M143 348h1m44 0h1M143 349h1m103 0h1m122 0h2M151 350h1m14 0h1m125 0h2m76 0h1M38 351h1m279 0h2M176 352h1m207 0h2M206 353h1m39 0h2M37 354h1m140 0h1M65 355h1M41 356h1m6 0h1m171 0h2m134 0h2m32 0h2M357 357h1M70 358h1M194 359h1m99 0h2M61 360h1m304 0h2M23 361h1m144 0h1m159 0h2M274 362h2m74 0h1M378 363h1M5 365h1m104 0h1m233 0h2m14 0h2M231 368h1m24 0h1m35 0h1m50 0h1m2 0h1m12 0h1m35 0h1M231 369h1m24 0h1m35 0h1m50 0h1m2 0h1m12 0h1m35 0h1"/><path stroke="#2a788e" d="M354 0h2M77 1h1M70 2h1m32 0h1m116 0h1M72 4h1m48 0h1m174 0h2M208 5h1m23 0h1m63 0h2m42 0h1M297 6h1m61 0h1M111 7h1m66 0h1m167 0h1m29 0h2M59 8h1m96 0h1m21 0h1M258 9h2m6 0h2m8 0h1m31 0h2M83 10h1M260 11h2m96 0h2M122 12h1m92 0h1M113 13h1m86 0h1M35 14h1m72 0h1m135 0h2m8 0h2M117 15h1M31 16h1m286 0h2M97 18h1m277 0h1M112 19h1m169 0h2M144 20h1M194 21h1m59 0h2m30 0h1M31 22h1m15 0h1m28 0h1m43 0h1m73 0h1m59 0h1m71 0h1m41 0h2m2 0h1m19 0h1M356 23h2M55 24h1M318 25h2M336 27h2m48 0h2M66 28h1m143 0h2M298 29h2M121 30h1m46 0h1m91 0h2m98 0h2M17 31h1M29 32h1m6 0h1M13 33h1m98 0h1m217 0h1M13 34h1m238 0h2M226 35h2m25 0h1m43 0h1M286 36h2M28 37h1m98 0h1m40 0h1M100 38h1m114 0h1M220 39h2m86 0h2M42 41h1m11 0h1M51 42h1m6 0h1m177 0h1m60 0h1M44 44h1m4 0h1M14 45h1m36 0h1M14 46h1m51 0h1m25 0h1m10 0h1m91 0h1M378 47h1M57 48h1m290 0h2m2 0h2M318 49h1M121 50h1m182 0h1M246 51h2m50 0h2m40 0h1m16 0h1M67 52h1m231 0h1m48 0h1M194 53h1M22 54h1m8 0h1m108 0h1m237 0h2m14 0h2M23 55h1m4 0h1m36 0h1m54 0h1m55 0h1M10 56h1M10 57h1m178 0h1m10 0h1m79 0h2M175 58h1m86 0h2m11 0h1m42 0h1m31 0h2M40 60h1m159 0h1m53 0h2M40 61h1M41 62h1m270 0h2m24 0h1M13 63h1m248 0h2m6 0h2M40 64h1M48 65h1m68 0h1M203 66h1M338 67h1M17 68h1m34 0h1m319 0h1M3 69h1m24 0h1M145 70h1m46 0h1M304 71h2M34 73h1m93 0h1m179 0h4m74 0h1M18 74h1m289 0h1M118 75h1m145 0h1M59 76h1m230 0h1m81 0h1M63 77h1m14 0h1m287 0h1M39 78h1m56 0h1m93 0h1m12 0h1m60 0h1m75 0h2M6 79h1M114 80h1m83 0h1m185 0h2M25 83h1m34 0h1m153 0h2m6 0h2m119 0h1M387 84h1M54 85h1m176 0h1m12 0h2m116 0h2M27 86h1m43 0h1M246 87h2M116 88h1m7 0h1M250 89h2M116 91h1m175 0h2M106 92h1m22 0h1M164 93h1m207 0h1M46 94h1m189 0h2M230 95h2M238 96h2m118 0h1M79 97h1m128 0h4M312 98h2M1 99h1m282 0h2M15 101h1m340 0h2M52 102h1M90 104h1m50 0h1m86 0h2m58 0h2M41 105h1m187 0h1m26 0h2M209 106h1m52 0h2M370 108h2M50 109h1m78 0h1m12 0h1m234 0h1M9 110h1m308 0h1m67 0h2M49 111h1m2 0h1m21 0h1m312 0h1M238 112h2M41 113h1m13 0h1m13 0h1m64 0h1m73 0h2m8 0h2m4 0h2M78 114h1m40 0h1m8 0h1m153 0h1m93 0h1M80 116h1m275 0h2M46 117h1m14 0h1m1 0h1m16 0h1m109 0h1M89 118h1M48 119h1m195 0h2M52 120h1m103 0h1m87 0h2m74 0h2M180 121h1m12 0h1m58 0h1m13 0h2m116 0h2M92 122h1m291 0h2M23 123h1m211 0h1m80 0h1m75 0h2M62 124h1m149 0h2m98 0h2M40 125h1m281 0h2m31 0h1M99 126h1m112 0h2m120 0h2m33 0h1m23 0h1M257 127h1m77 0h1M0 128h1m283 0h2M240 129h1m44 0h1M325 130h1M116 131h1m2 0h1m87 0h1m40 0h2m40 0h2M51 132h1m186 0h2m51 0h1M26 133h1m35 0h1m290 0h1M385 135h1M104 136h1m267 0h1M43 137h1M54 138h1m82 0h1M137 139h1m126 0h1M264 140h1M120 141h1m243 0h1M120 142h1m95 0h2m33 0h1M38 143h1m239 0h1M0 144h1m215 0h2M311 145h1M316 146h2M16 150h1m58 0h1m260 0h1m53 0h2M122 152h1M22 154h1m177 0h1M59 155h1m43 0h1M390 156h2M182 157h1m178 0h1M9 158h1m70 0h1m105 0h1m63 0h2M61 159h1m220 0h2m21 0h1m44 0h1M61 160h1m99 0h2m93 0h2m25 0h1M220 161h2M48 162h1m290 0h1M55 163h1m61 0h1M3 164h1m113 0h1m44 0h1m103 0h1M322 165h2M32 166h1m77 0h1m10 0h1M110 167h1m105 0h1M34 168h1m17 0h1m307 0h2M86 169h1m87 0h1m45 0h1m17 0h2m121 0h1M18 170h1m236 0h1M29 171h1m1 0h1m282 0h1M90 172h1m53 0h1M114 174h1M114 175h1M60 177h1m80 0h1M32 178h1M102 179h1M125 180h1m184 0h2m49 0h1M168 181h1m4 0h1M0 182h1m335 0h2M302 183h1M8 185h1m183 0h1M70 187h1m22 0h1m138 0h2M3 190h1m90 0h1m78 0h1m103 0h1M2 191h1m321 0h2M2 192h1M82 194h1m19 0h1m45 0h1m82 0h1M25 195h1M177 196h1m136 0h2M262 198h1m85 0h1M376 199h2M65 200h1m62 0h1M240 201h2m109 0h1M151 202h1m17 0h1M52 203h1m41 0h1m110 0h1M46 204h1m294 0h1m21 0h1M1 205h1m39 0h1M121 206h1m234 0h2m18 0h2m4 0h2M256 207h2M21 208h1m294 0h2m16 0h2M208 209h2m46 0h2M305 211h1m76 0h1M352 212h1M116 213h1m62 0h1m158 0h1m37 0h2m6 0h2M268 214h1M246 215h2M37 216h1m214 0h2M318 217h2M6 218h1m345 0h1M125 219h1m240 0h2m2 0h2M91 220h1m46 0h1M50 221h1m186 0h1M38 222h1m11 0h1m36 0h1m32 0h1M52 224h1m38 0h1m268 0h1m23 0h2M8 225h1m158 0h1m200 0h2M48 226h1M25 227h1m35 0h1m216 0h2M72 229h1M88 230h1m287 0h2M0 231h1m209 0h2M55 232h1m31 0h1m34 0h1m73 0h1m41 0h2m48 0h1M95 233h1m104 0h1m29 0h1M370 234h2m3 0h1M226 235h2m134 0h2M21 236h1M152 237h1m49 0h1m97 0h2M99 238h1M99 239h1M226 240h2m147 0h1M282 241h1M21 242h1m37 0h1M2 243h1M54 244h1m252 0h1M128 245h1m117 0h2M244 246h2m84 0h2M14 247h1m68 0h1m81 0h1m34 0h1m23 0h2m4 0h2M271 248h1M361 249h1M85 251h1m230 0h2M40 252h1M212 253h2m161 0h1M28 254h1M236 255h2m28 0h2M197 256h1m12 0h2m60 0h2M248 257h1M273 258h1M276 259h2M5 262h1M316 263h2M386 264h1M358 265h2M230 266h1m141 0h1M392 267h2M84 268h2m268 0h1m37 0h1M214 269h2M140 270h1m236 0h1M111 271h1m142 0h2M84 272h1m129 0h2m126 0h1M197 274h1m32 0h2M56 275h1m269 0h1M3 276h1m137 0h1M161 277h1M30 278h1m76 0h1m24 0h1M156 279h1m33 0h1m195 0h2M119 280h1M121 281h1m23 0h1m8 0h1m199 0h2M120 282h1m135 0h2M105 284h1m102 0h2m36 0h1M167 285h1m10 0h1m17 0h1m160 0h1M124 286h1m140 0h1M34 287h1m22 0h1m51 0h1m216 0h1M82 288h1m5 0h1M97 289h1m68 0h1M192 290h1m89 0h2M130 291h1M42 292h1m59 0h1m50 0h1m46 0h1M23 293h1m18 0h1m181 0h1M217 294h1m18 0h2m12 0h2m18 0h2m118 0h2M59 295h1m130 0h1m45 0h1M147 296h1m13 0h1m44 0h2m34 0h2m128 0h1m8 0h1M283 297h1M226 298h2m92 0h2m66 0h2M95 299h1m109 0h1m156 0h2M63 300h1m16 0h1m159 0h2M80 301h1m36 0h1M236 303h2m110 0h2M56 304h1m291 0h1M154 305h1m123 0h2m82 0h2M25 308h1m33 0h1m14 0h1m112 0h1M199 309h1m148 0h2M202 310h1m99 0h2m20 0h2m22 0h1M214 311h2M39 312h1M3 313h1m7 0h1m133 0h1m72 0h2m122 0h2M11 314h1m56 0h1m13 0h1m136 0h1m38 0h2m112 0h1M5 315h2m10 0h1m18 0h1m105 0h1M12 316h1m243 0h2M224 317h2m72 0h2M78 318h1m14 0h1m24 0h1m24 0h1m31 0h1m75 0h1m60 0h2M118 319h2m212 0h1M90 321h1M85 322h1m7 0h1M20 323h1m144 0h1m33 0h1m166 0h2m17 0h1M10 324h1m50 0h1m22 0h1m35 0h1m103 0h1M174 326h1m99 0h2M82 327h1m159 0h1M79 328h1m304 0h2M340 329h2M258 330h2m112 0h1M88 331h1m155 0h1M154 333h1M56 334h1m7 0h1m325 0h2M250 335h2M2 337h1m1 0h1m217 0h2m70 0h2M91 338h1m113 0h1m62 0h2m74 0h1M97 339h1m258 0h2M0 340h1m3 0h1m92 0h1m201 0h1M25 341h1m95 0h1M65 342h1m198 0h1M352 343h2M93 344h1m184 0h1M208 346h2M89 347h1m16 0h1M15 348h1m97 0h1m49 0h1M66 349h1M8 350h1m44 0h1m196 0h1M8 351h1m381 0h2M190 352h1m85 0h2m50 0h2M37 353h1m170 0h2m66 0h1M13 354h1m11 0h1m94 0h1m85 0h2M33 355h1m2 0h1m231 0h2m58 0h2M270 356h2m72 0h2M228 358h2m115 0h1m29 0h1M310 359h2M382 360h1M28 361h1m26 0h1m200 0h2m11 0h1M240 362h2m109 0h1m18 0h2M43 364h1m66 0h1M27 365h1m110 0h1m62 0h1m52 0h2m122 0h2M276 366h1M0 368h1m59 0h1m59 0h1m84 0h1m61 0h1m36 0h1m66 0h1m2 0h1M0 369h1m59 0h1m59 0h1m84 0h1m61 0h1m36 0h1m66 0h1m2 0h1"/><path stroke="#25848e" d="M77 0h1m128 0h2M103 1h1m57 0h1M3 2h1M45 3h1m261 0h1M212 4h1m19 0h2M209 5h1m42 0h2m2 0h2m100 0h2M167 6h1M22 7h1m189 0h1M67 8h1m208 0h2M260 10h2m96 0h2M52 11h1m69 0h1M334 12h2m44 0h2M11 13h1M9 14h1m15 0h1m282 0h1M22 15h1m93 0h1m153 0h1m11 0h2M116 16h1m119 0h1m119 0h2M112 17h1m51 0h1M180 18h1m15 0h1M196 20h1m161 0h2M36 21h1m289 0h2M178 22h1M290 23h2M44 25h1m315 0h2M54 26h1m193 0h2m145 0h1M113 28h1m262 0h2M87 29h1M183 30h1m68 0h1M194 31h1m86 0h1M192 32h1M358 33h2m26 0h2M296 34h2m15 0h1m45 0h1M28 36h1m98 0h1m204 0h2M100 37h1m113 0h2m44 0h2M214 38h1m164 0h1M224 39h2m36 0h2M51 41h1m224 0h1m19 0h2M67 42h1m286 0h1M73 43h1M17 44h1m33 0h1m10 0h1m141 0h1m101 0h2M30 45h1m187 0h2M30 46h1m53 0h1m157 0h2m68 0h2M127 47h1m165 0h1m32 0h2m44 0h1M3 48h1m50 0h1m263 0h2M242 49h2m60 0h2m13 0h1M348 51h2M59 52h1m134 0h1m83 0h2m45 0h1M130 53h1m148 0h3m2 0h2M0 54h1m365 0h2M205 55h1m160 0h1m4 0h1M7 56h1m106 0h1m149 0h1m129 0h2M69 57h1m204 0h2M354 58h1M96 59h1M272 60h1M367 61h1M110 63h1M0 64h1m227 0h2M354 65h2M354 67h2M167 68h1m78 0h2m74 0h2m10 0h2M120 69h1M220 70h2m43 0h1M157 71h1M131 72h1m67 0h1m150 0h2M131 73h1m30 0h1m39 0h1M131 74h1m132 0h1M238 75h2M366 76h2M37 77h1m78 0h1M78 78h1M106 79h1m53 0h1m25 0h1m191 0h2M135 80h1m136 0h2M231 81h1M354 84h2M71 85h1m113 0h1m60 0h2M44 86h1m79 0h1M100 87h1m23 0h1M123 88h1M378 89h2M236 90h2M370 92h2M38 94h1m285 0h2M208 95h2m52 0h1M17 96h1m210 0h2m109 0h1M374 97h1M205 98h1m86 0h2m14 0h2M106 99h1M7 100h1m358 0h2M356 103h2m30 0h1M41 104h1m53 0h1m261 0h1m4 0h2M26 105h1M294 106h2M254 107h1M122 109h1m189 0h2M40 110h1m54 0h1m217 0h1m64 0h2M78 111h1m176 0h1m45 0h1m30 0h2m4 0h1M376 113h2M370 114h2M9 115h1M22 116h1M31 118h1M195 119h1m160 0h1m15 0h1M89 120h1M25 121h1m22 0h1m18 0h1m154 0h2m115 0h1M316 122h2M62 123h1m21 0h1m148 0h2M194 124h1m8 0h1m124 0h2M74 125h1m254 0h1m38 0h2m16 0h1m5 0h2M81 127h1m272 0h2M63 128h1m176 0h2M318 129h2m4 0h2M3 130h1m25 0h1m166 0h1m107 0h1M385 132h1M370 133h2M218 134h2m74 0h2m26 0h2m46 0h1M288 137h2m73 0h1M107 138h1M51 140h1m65 0h1M30 141h1m86 0h1m132 0h2m68 0h2M38 142h1m192 0h1m46 0h2M218 144h2m18 0h2M22 145h1m233 0h1M37 146h1M32 147h1M280 149h2M138 150h1M356 151h2M22 153h1m305 0h2M0 154h1m141 0h1M73 155h1m60 0h1m255 0h2M62 156h1m241 0h2m34 0h2m18 0h2M4 157h1m104 0h1M240 158h1m109 0h2m35 0h1M322 159h2M286 160h2m45 0h1M10 162h1m34 0h1m326 0h1M10 163h1m239 0h1M259 164h1m70 0h1M121 165h1m100 0h2M1 166h1m214 0h2M120 167h1m71 0h1m28 0h1M173 168h1M132 170h1m139 0h2m40 0h2M132 171h1m169 0h2M199 173h1m19 0h1M120 174h1m89 0h2M47 175h1m72 0h1m87 0h2m52 0h2M69 177h1m128 0h1m127 0h2M125 178h1m50 0h1m183 0h2M146 181h1m127 0h2M60 182h1m58 0h1M303 183h1m92 0h1M192 184h1m61 0h2M120 185h1M117 186h1m3 0h1m116 0h2m150 0h2M210 187h2m172 0h2M62 188h1m58 0h1m82 0h1M122 190h1m181 0h2M80 191h1m2 0h1m221 0h1M324 192h2m46 0h1M37 193h1m306 0h2M25 194h1M70 195h1M22 196h1M2 197h1m227 0h1M266 198h2M338 199h1M336 200h2M337 201h1M2 202h1m10 0h1m54 0h1M362 203h2M209 205h1M43 206h1M58 209h1M146 210h1m157 0h2m76 0h2M277 211h1m74 0h2m29 0h1M3 212h1m15 0h1m333 0h1M3 213h1m378 0h2M179 214h1M162 215h1M44 216h1m76 0h1M229 217h1M172 218h1M59 219h1m279 0h1M117 221h1m37 0h1M26 223h1m25 0h1m307 0h2M129 224h1M330 225h4M106 226h1M234 227h2M7 228h1m99 0h1M76 229h1m140 0h1M7 230h1m244 0h2M193 231h1m146 0h2M318 232h2M27 233h1M1 234h1m330 0h2M274 235h2M348 238h2m5 0h1M90 240h1m191 0h2M55 241h1m295 0h1M6 242h1m337 0h1M306 243h2M260 244h1M250 245h2M9 246h1m241 0h1M12 247h1m33 0h1m39 0h1m6 0h1M93 248h1M177 249h1m20 0h1M7 250h1m24 0h1m6 0h1m45 0h1m27 0h1M18 251h1m20 0h2m72 0h1m124 0h2M178 252h1m75 0h2M328 253h2M248 256h2m26 0h2m24 0h2M272 257h2M151 259h1m234 0h2M252 261h2M24 262h1m36 0h1m54 0h1M116 263h1M37 264h1m204 0h2m46 0h1M34 266h1m73 0h1M191 268h1M376 269h2M111 270h1m144 0h2M75 273h1m87 0h2m81 0h2M384 275h2M98 276h1M196 277h1m4 0h1M42 278h1m15 0h1m75 0h1m171 0h2M11 280h1m32 0h1m10 0h1m143 0h1m1 0h1m118 0h2M39 281h1m62 0h1m96 0h1M294 282h2M111 283h1m50 0h1m42 0h1m40 0h2M46 284h1m87 0h1m99 0h2m9 0h1m84 0h2m24 0h2m30 0h2M382 285h2M54 286h1m66 0h1m3 0h1m1 0h1M104 287h1m10 0h1m94 0h2m54 0h2M77 288h1m100 0h1M105 289h2m54 0h1m104 0h2M200 291h1m155 0h2M52 292h1m154 0h1m16 0h2M238 293h2M111 294h1M39 295h1m75 0h1m11 0h1m104 0h2m46 0h1M90 296h1m199 0h2M115 297h1m274 0h2M257 298h1m98 0h2M186 300h1m16 0h1M1 301h1M1 302h1m119 0h1m4 0h1M56 303h1m189 0h2m14 0h1m31 0h2M7 304h1m31 0h1m219 0h1m4 0h1m69 0h2M264 305h1M214 306h2M394 307h2M7 308h1m362 0h2M197 309h1M194 310h1M146 311h1M22 312h1m245 0h2m38 0h2M228 313h1m101 0h1M181 314h1M134 315h1m187 0h2M69 317h1m8 0h1m60 0h1M298 319h2M2 320h1m34 0h1m6 0h1m77 0h1m229 0h2m5 0h1M190 321h1M19 322h1m7 0h1m51 0h1m111 0h1m102 0h1m93 0h1M31 323h1m26 0h1m2 0h1m28 0h1M52 325h1m68 0h1m86 0h2m100 0h2m82 0h2M129 326h1M79 327h1M33 328h1m74 0h1m11 0h1m91 0h2m110 0h2M40 329h1m80 0h1m106 0h2m82 0h1M40 330h1m78 0h1m62 0h1m45 0h2M150 331h1m84 0h1M376 333h2M208 334h2m17 0h1M116 335h1m20 0h1M67 337h1m276 0h2M120 338h1M338 340h1m13 0h2M7 341h1m256 0h1m103 0h1M20 342h1M51 343h1m316 0h1M351 344h1M348 346h1m21 0h2m23 0h1M81 347h1m31 0h1m237 0h1M21 348h1M14 349h1M112 350h1m165 0h2M12 351h1m2 0h1m96 0h1m77 0h1m153 0h2m16 0h1M12 352h1m70 0h1m10 0h1m111 0h2m134 0h2M25 353h1m53 0h1m40 0h1M33 354h1m159 0h1m61 0h1M105 355h1M49 356h1M49 357h1m294 0h2M92 358h1m46 0h1m61 0h1m138 0h2m10 0h2m17 0h1M61 359h1m63 0h1m120 0h1M30 360h1m275 0h2m18 0h2M268 361h1M118 362h1M107 363h1m198 0h2m71 0h1M87 364h1m113 0h1m104 0h1M82 366h1m239 0h2M26 367h1M22 368h1m14 0h1m28 0h1m33 0h1m9 0h1m4 0h1m3 0h1m80 0h1m38 0h1m9 0h1m67 0h1m31 0h1M22 369h1m14 0h1m28 0h1m33 0h1m9 0h1m4 0h1m3 0h1m80 0h1m38 0h1m9 0h1m67 0h1m31 0h1"/><path stroke="#21918c" d="M161 0h1M71 1h1M306 2h2M192 3h1m19 0h2m144 0h2M165 4h1m26 0h1m15 0h2m148 0h2m15 0h1M129 5h1m61 0h1m28 0h1m154 0h1M18 6h1m309 0h2M59 7h1M18 8h1m153 0h1m105 0h2M43 9h1M43 10h1m260 0h2m20 0h2M214 11h2m94 0h2M278 12h2M118 13h1m117 0h1M111 14h1m227 0h1M112 16h1m124 0h1M98 18h1M196 19h1m75 0h1M69 20h1m40 0h1m175 0h4M28 23h1M368 24h2M54 25h1m339 0h2M220 26h2M45 28h1M37 29h1m5 0h1m1 0h1m85 0h1m98 0h2m78 0h2M1 30h1m41 0h1m63 0h1m172 0h2m28 0h2M69 31h1m37 0h1m140 0h2M101 32h1m147 0h1m14 0h1m65 0h2M119 33h1m192 0h2M348 35h2M189 36h1M368 37h2m8 0h2M104 39h1M97 40h1m178 0h2M2 41h1m64 0h1m264 0h2M5 42h1m69 0h1m190 0h2M204 43h1m105 0h2m33 0h1M116 44h1m194 0h1M18 45h1m97 0h1m105 0h2m13 0h1M28 46h1m56 0h1m30 0h1m80 0h1m94 0h2M187 48h1m102 0h2M97 49h1m7 0h1M272 50h2m66 0h2m14 0h2M324 51h2M0 53h1m49 0h1M23 54h1m152 0h1M63 55h1M396 56h1M57 57h1m296 0h2m34 0h2M20 59h1m57 0h1m9 0h1m183 0h2M20 60h1m14 0h1m11 0h1m61 0h1m95 0h1m68 0h2m4 0h2m84 0h2M62 61h1m17 0h1m124 0h1m132 0h1m13 0h2m19 0h1M13 62h1M40 63h1m355 0h1M168 64h1m121 0h2M78 65h1m27 0h1m14 0h1m124 0h2M36 66h1M52 67h1m60 0h1M248 68h2M88 70h1m113 0h1m31 0h2m122 0h2M78 71h1m76 0h1m46 0h1M78 72h1m117 0h1m5 0h1M118 73h1m131 0h2M117 74h1M250 75h2M6 78h1m139 0h1m39 0h1m75 0h2M114 79h1m83 0h1m53 0h2M230 80h2m20 0h1m134 0h1M117 81h1M25 82h1m87 0h1m82 0h1M107 84h1m60 0h1m16 0h1m44 0h2M107 85h1M48 86h1m7 0h1M154 87h1M264 88h1M154 89h1M105 90h1m10 0h1M28 91h1m79 0h1m263 0h1M17 92h1m10 0h1m171 0h1m15 0h2m16 0h2M38 93h1M77 94h1m184 0h2M346 96h1M45 98h1M5 99h1m80 0h1m33 0h1m255 0h2M266 100h2m100 0h4M67 101h1m78 0h1m241 0h2M93 102h1m2 0h1M338 103h2M34 104h1M76 105h1m42 0h1m88 0h2m57 0h1m109 0h1M119 106h1M342 107h2m12 0h2M142 108h1m75 0h2M40 109h1m243 0h2M185 110h1M90 111h1m147 0h2M24 112h1m109 0h1M282 113h2M121 114h1M144 115h1M86 116h1M10 117h1m15 0h1m4 0h1m1 0h1M32 118h1m323 0h2m20 0h1M8 119h1m122 0h1m212 0h2M268 120h2m74 0h1m41 0h2M49 121h1m218 0h2M84 122h1m22 0h1m126 0h2M380 123h1M40 124h1m128 0h1m184 0h2M388 125h2M130 126h1m112 0h1m12 0h2m123 0h1M29 127h1m33 0h1m90 0h1m224 0h1M120 128h1m7 0h1m34 0h1M117 129h1m78 0h1m107 0h2m62 0h2m6 0h2M116 130h1M200 131h1m27 0h2m35 0h1M5 132h1m111 0h1m111 0h1m122 0h3M10 133h1m62 0h1m247 0h1M236 134h2m30 0h2M389 135h1M45 137h1m48 0h1m267 0h1M29 139h1m63 0h1M76 140h1M76 141h1m118 0h1m34 0h2m102 0h2m52 0h2M20 142h1m174 0h1m60 0h2M3 143h1m102 0h1m78 0h1m6 0h1M91 144h1m100 0h1M310 145h1m61 0h2M32 146h1m76 0h1M109 147h1m258 0h1M336 149h2M185 152h1M292 153h2m84 0h2M366 154h2M171 155h1M171 156h1M49 157h1m18 0h1m26 0h1m54 0h1m20 0h1m25 0h1m142 0h2M20 158h1m100 0h1m182 0h2M161 159h1m39 0h1m130 0h2M121 160h1m124 0h2M216 161h2M120 162h1M3 163h1m247 0h1m6 0h2m102 0h2M130 164h1m53 0h1m177 0h2M192 166h1M386 167h1M91 169h1m164 0h2M94 170h1M191 171h1M121 172h1M47 174h1m228 0h2M232 175h2m60 0h2M25 176h1m128 0h1m103 0h2M106 177h1m14 0h1m188 0h2m75 0h1M84 178h1M286 179h2m72 0h2M113 180h1m32 0h1M396 181h1M138 182h1m163 0h2M103 183h1M24 185h1m313 0h1M70 186h1m49 0h1M185 187h1M49 188h1m127 0h1m12 0h1M8 189h1M116 190h1m48 0h1M296 192h2m48 0h1M25 193h1m32 0h1M97 194h1m246 0h2M113 195h1m22 0h2m42 0h1m20 0h1m155 0h1M256 196h2m96 0h2M0 197h1m91 0h1m28 0h1m140 0h2m24 0h1m59 0h2M86 198h1m68 0h1m134 0h2M5 199h1m344 0h1M8 201h1m105 0h1m39 0h1M210 202h2m128 0h2M89 203h1m33 0h1m216 0h2M41 204h1m104 0h1m44 0h1M204 206h1m101 0h2M205 208h1M82 209h1m63 0h1m58 0h1M205 210h1M288 211h2m64 0h2M383 212h1M165 213h1m98 0h1M162 214h1M52 216h1m53 0h1M352 217h2M2 218h1m122 0h1m213 0h1m16 0h2M2 219h1M120 221h1m199 0h1M173 223h1M372 225h1M116 226h1m249 0h2M162 227h1m203 0h2M30 228h1m265 0h2M372 229h1M353 230h1M55 231h1m174 0h2m56 0h2m64 0h2m30 0h2M230 232h2M103 234h1m40 0h1m35 0h1m149 0h2M63 235h1m191 0h1m66 0h2M352 237h4M96 239h1m12 0h1m216 0h2M323 241h1m20 0h2M118 243h1m71 0h1M74 244h1M159 245h1M12 246h1m33 0h1m45 0h1m23 0h1M18 250h1m8 0h1M29 251h1m19 0h1M29 252h1m92 0h1m43 0h1M29 253h1m57 0h1m29 0h1m176 0h1m35 0h2M32 254h1m251 0h2M13 255h1m183 0h1m104 0h2M99 256h1M286 257h2M22 258h1m62 0h1M25 259h2m172 0h1M71 261h1m101 0h1m14 0h1m5 0h1M194 262h1M290 263h2m94 0h2M210 265h2M252 267h2m100 0h2M124 268h1M124 269h1m35 0h1m2 0h2M336 270h2M192 271h1m91 0h2M39 272h1m35 0h1m15 0h1m192 0h1M148 273h1m1 0h1m45 0h1M270 274h2m54 0h2M61 275h1m20 0h1m187 0h1M107 277h1M318 278h2M236 279h2M32 280h1m95 0h2m17 0h1m2 0h1m3 0h1M13 282h1M26 283h1m114 0h2m21 0h1m79 0h2m72 0h2M103 284h1m34 0h1m1 0h1M17 285h1m102 0h1m5 0h1m6 0h1m67 0h1M120 286h1M24 287h1m24 0h1m38 0h1m23 0h1m13 0h1m3 0h1m1 0h1m221 0h1M103 288h1m57 0h1m60 0h1m172 0h1M96 290h1M24 291h1m77 0h1m267 0h2M3 293h1m170 0h1M44 294h1m59 0h1m85 0h1M118 295h1m5 0h1m156 0h1M115 296h1m122 0h2M16 297h1m239 0h2m24 0h1m37 0h2M172 298h1M172 299h1m53 0h2M12 300h1M276 301h2m40 0h2M277 302h1M39 303h1m63 0h1m18 0h1M103 304h1m142 0h2M103 305h1m144 0h2M124 306h1M168 307h1M103 308h1m248 0h2M14 309h1m318 0h1M10 310h1m170 0h1m38 0h2M28 311h1m34 0h1m117 0h1m168 0h2M110 312h1m70 0h1m11 0h1m136 0h2M68 313h1M356 314h1M98 315h1m36 0h1m71 0h1m110 0h2M135 316h1m4 0h1M41 317h1m93 0h1m4 0h1M165 318h1M254 319h2m77 0h1M136 320h1M16 321h1m76 0h1m182 0h2m16 0h2M199 322h1M89 323h1M254 324h2M62 325h1M204 327h1M204 328h1m107 0h2M178 329h1M1 330h1m241 0h3M1 331h1m96 0h1m61 0h1M118 332h1M118 333h1m181 0h2M13 334h1m372 0h1M265 335h1M330 336h2M296 337h2M139 338h1M292 339h2m4 0h2M25 340h1M236 341h2m112 0h1M354 343h2M360 344h2M141 345h1m233 0h1m18 0h2M350 346h2M238 347h1M17 349h1m148 0h1m79 0h1m3 0h2M118 350h1m220 0h1m9 0h1M58 351h1m89 0h1M1 352h1M29 353h1m55 0h1M89 356h1M93 357h1m156 0h2M194 358h1M148 359h1m30 0h1M148 360h1m117 0h4M148 361h1M68 362h1m44 0h1M40 363h1m71 0h1m137 0h2m74 0h2M276 365h2M35 366h1m194 0h2m22 0h2m21 0h1M23 367h1m206 0h1m61 0h2M9 368h1m106 0h1m4 0h1m146 0h1M9 369h1m106 0h1m4 0h1m146 0h1"/><path stroke="#1e9c89" d="M95 1h1m174 0h2m84 0h2m38 0h1M271 2h1M258 3h2M383 4h1M140 5h1M129 6h1M16 7h1m38 0h1m50 0h1m22 0h1m9 0h1M27 8h1m27 0h1m73 0h1m118 0h2M55 9h1m270 0h2M242 10h2M278 11h2m38 0h2m26 0h1M119 12h1m148 0h2M42 13h1M144 14h1M94 15h1m5 0h1m43 0h1m115 0h2M33 16h1M118 17h1M252 18h2m18 0h2M181 20h1m42 0h2M11 23h1M11 24h1M11 25h1M166 26h1M184 28h1m149 0h2M217 29h1M81 30h1M192 31h1m149 0h1M112 34h1m275 0h1M112 35h1M38 37h1M67 38h1M59 39h1M354 41h2M339 42h1M322 43h2m20 0h1M323 44h1m38 0h2M44 45h1m21 0h1M286 46h2M176 47h1m185 0h2M12 48h1m46 0h1M16 50h1m355 0h1M13 51h1m97 0h1M4 53h1m148 0h1M120 54h1M87 55h1m268 0h2M48 56h1m20 0h1M270 57h2m46 0h2M153 58h1m51 0h1M160 59h1m37 0h1m167 0h2M71 60h1m78 0h1m47 0h1m174 0h1M71 61h1m126 0h1m2 0h1M19 64h1m58 0h1m42 0h1m162 0h2M153 65h1M134 66h1M134 67h1M134 68h1m228 0h1M145 69h1M218 70h2M320 71h2M386 72h2M14 73h1M55 74h1M59 75h1m230 0h2M30 76h1m85 0h1M51 77h1m62 0h1m115 0h2M26 80h1m116 0h1m186 0h2M143 81h1M56 83h1M226 84h2M154 86h1M132 88h1m149 0h2M109 89h1m22 0h1M132 90h1m27 0h1M50 91h1m329 0h1M116 93h1m95 0h2M330 95h2m26 0h2M338 96h1M205 97h1m108 0h2M315 98h1M7 99h1m117 0h1m37 0h1M125 100h1M16 101h1m8 0h1m2 0h1M92 102h1M118 104h1m147 0h2m115 0h1M112 105h1M20 106h1m75 0h1M138 107h1m116 0h1m66 0h2M44 109h1m273 0h2m35 0h1M319 110h1M199 111h1M91 112h1M29 115h1m50 0h1m19 0h1m67 0h1m107 0h2M26 116h1m1 0h1M378 117h2M358 120h2M387 121h1M90 122h1m28 0h1m55 0h2M10 123h1m165 0h1M242 125h2M84 126h1M3 127h1M116 128h1M29 129h1M25 130h1m40 0h1m198 0h1M318 132h2m35 0h1M91 133h1m228 0h1M362 136h2m24 0h2M388 137h2M198 138h1M167 140h1m150 0h2M167 141h1M167 142h1M111 143h1M111 144h1m144 0h2m52 0h2M10 145h1M368 146h2M47 148h1m138 0h1M53 149h1M374 150h2M343 152h1M0 153h1m303 0h2m20 0h2m30 0h2M117 154h1m32 0h1M146 155h1M146 156h1M146 157h1m165 0h2M116 158h1M45 161h1m71 0h1M184 162h1m177 0h1M330 163h2M359 164h1M32 165h1M56 166h1m329 0h2M2 167h1m252 0h1M225 168h1M29 170h1m113 0h1m56 0h1m152 0h1M12 171h1m116 0h1M24 173h1m91 0h1m121 0h1m123 0h2M121 174h1m202 0h2M116 175h1m16 0h1M1 176h1m114 0h1m269 0h2M116 177h1M204 178h1m23 0h2M123 179h1M230 180h2M51 183h1M94 187h1m55 0h1M276 189h2M236 190h2M45 191h1M58 192h1M13 194h1m25 0h1m68 0h1m251 0h2M342 195h2M19 196h1m143 0h1m31 0h1M289 197h1M358 198h2M72 199h1m314 0h1M92 202h1m185 0h2M92 203h1m98 0h1M144 204h1m63 0h2M196 207h1M82 208h1M54 209h1m104 0h1M159 210h1m4 0h1m111 0h2M19 211h1M1 212h1m336 0h1m37 0h2M142 213h1m125 0h2M216 215h2m30 0h2M228 216h2M392 218h2M393 219h1M320 220h2M185 221h1M254 222h2M13 224h1M13 225h1M216 229h1m21 0h2m58 0h2M120 230h1M196 231h1m169 0h2M180 233h1m149 0h2M254 234h2M342 236h1M96 238h1m131 0h2M155 240h1m166 0h2M376 241h2M48 242h1m136 0h1M83 244h1M326 245h2M47 246h1m278 0h1M64 247h1m205 0h2m88 0h1M274 248h2M87 252h1m206 0h2M192 255h1M356 257h2M77 259h1m200 0h2M61 261h1M129 262h1M129 263h1M35 264h1m93 0h1M129 265h1m34 0h1M164 266h1M352 267h2M162 268h1M248 270h2M137 271h1m110 0h1m69 0h2M123 272h1m242 0h2M10 274h1m110 0h1m266 0h2M30 275h1m130 0h1m21 0h1M46 276h1m154 0h1M206 277h2M29 278h1m103 0h1m23 0h1m215 0h1M32 279h1m124 0h1m154 0h2M47 282h1m327 0h1M2 283h1M128 284h1M54 285h1m33 0h1m6 0h1m169 0h1m100 0h2M296 286h2m28 0h2M82 287h1m76 0h1m234 0h2M130 288h1m28 0h1m234 0h1M130 289h1m28 0h1m26 0h1M130 290h1M174 292h1M216 293h2M52 294h1m71 0h1m113 0h2m40 0h2m8 0h2M238 295h2M16 296h1m319 0h2M107 297h1m2 0h1M296 299h2M117 300h1m216 0h2M18 301h1M115 302h1m146 0h2M124 305h1m91 0h2m51 0h1M96 306h1M59 307h1M332 308h2M134 309h1M193 311h1m138 0h2M37 312h1m45 0h1m25 0h1m118 0h2m64 0h2M356 313h2M4 314h1m129 0h1m71 0h2m136 0h1M22 315h1m227 0h1M71 316h1M236 318h2M306 319h2m50 0h2M52 320h1M132 321h1m255 0h2M384 322h2M240 323h2M29 324h1M174 325h1m53 0h2m14 0h2M228 326h2M175 327h1M175 328h1m74 0h2M182 329h1m167 0h2M147 331h1m16 0h1m181 0h2M173 333h1m52 0h2m158 0h2M40 334h1m50 0h1M2 335h1m27 0h1m42 0h1M339 336h1M366 337h2M81 339h1M199 340h1M66 341h1m313 0h1M258 342h2M304 343h2M322 344h2M348 345h1M106 346h1m56 0h1m74 0h2M163 347h1M120 348h1m125 0h2M339 349h1M66 350h1m34 0h1m46 0h1M101 351h1M340 353h2M106 354h1m43 0h1m189 0h2M322 358h2m57 0h1M247 359h1m92 0h2M376 360h2M2 361h1m158 0h1M388 362h2M79 363h1M150 364h1M35 365h1M8 368h1m8 0h1m108 0h1m50 0h1m83 0h1m16 0h1m5 0h2m23 0h1m2 0h2m18 0h1M8 369h1m8 0h1m108 0h1m50 0h1m83 0h1m16 0h1m5 0h2m23 0h1m2 0h2m18 0h1"/><path stroke="#22a884" d="M358 2h1M69 3h1M213 4h1M382 7h2M382 8h2M396 9h1M308 13h2m71 0h1M18 16h1m297 0h2M312 18h1M224 25h1M11 26h1M183 27h1M342 28h1M131 30h1M131 31h1M196 32h1M144 38h1M222 39h2M222 40h2m143 0h1M128 41h1M206 43h2M81 44h1m79 0h1M92 45h1m68 0h1M187 46h1M35 47h1m151 0h1M35 48h1M35 49h1m162 0h1M84 52h1M84 53h1M81 64h1M142 67h1m79 0h2M0 68h1M106 69h1m83 0h1M265 73h1M360 74h2M361 75h1M10 78h1M10 79h1M192 80h1M60 82h1m97 0h1M158 83h1M158 84h1M173 90h1m170 0h1M217 93h1M369 94h1M213 97h1M127 98h1M201 99h1M2 100h1m371 0h1M7 103h1M74 104h1M74 105h1M36 106h1m37 0h1m271 0h2M154 107h1M166 110h1M300 111h1M328 116h2M118 118h1M175 121h1M380 124h2M115 125h1m78 0h1m185 0h2M154 126h1m39 0h1M18 128h1M177 131h1M177 132h1M355 135h1m32 0h1M378 138h1M372 139h1M134 141h1M134 142h2M134 143h1M134 144h1m200 0h1M146 145h1M69 146h1M201 149h1M133 151h1m219 0h1M145 153h1M146 154h1M95 156h1M251 159h1M139 161h1m96 0h2M130 163h1m30 0h1M158 164h1M55 166h1M56 167h1M56 168h1m101 0h1M189 169h1M2 170h1M170 172h1M142 175h1M161 178h1M125 179h1M126 180h1M276 182h2M34 186h1M44 188h1M270 190h2M270 191h1M142 195h2m16 0h1M105 196h1m182 0h2M94 202h1M144 203h1M175 204h1m20 0h1M161 212h1m220 0h1M152 221h1M174 223h1M147 226h1M216 228h2M290 229h2M64 234h1M40 235h1m213 0h1M16 236h1M229 237h1M145 238h1m39 0h1M73 240h1M375 241h1M202 242h1M150 243h1m202 0h1M128 248h1m231 0h2M183 249h1M67 251h1m110 0h1M178 255h1M174 256h1M151 258h1M181 259h1M357 260h1M179 261h1M121 263h1m249 0h1M175 264h1M316 265h2M172 266h1M85 267h1m83 0h1M154 269h1m2 0h1M157 270h1M23 273h1m117 0h1M342 276h1M322 281h2M130 284h1m207 0h1M97 285h2m1 0h1M57 286h1M153 289h1M150 290h1m2 0h1M153 291h1M14 293h1M282 296h2M228 298h2M63 299h1m127 0h1m36 0h2M121 301h1M258 303h2M197 306h1M269 308h1M370 309h2M71 313h1M5 316h1m244 0h2M5 317h1m244 0h2M5 318h1M242 328h2M242 329h2M118 331h1m93 0h1M91 333h1M76 334h1m202 0h1M195 337h1M195 338h1m186 0h1M8 339h1m63 0h1m122 0h1M351 341h1M74 342h1m293 0h2M278 343h2M176 347h1M118 349h1m250 0h1M62 353h1M260 355h1M152 358h1m40 0h1m76 0h2M152 359h1M127 366h1M100 367h1m7 0h1m18 0h1m90 0h2M27 368h1m6 0h2m26 0h1m75 0h1m30 0h2m12 0h1m33 0h1m2 0h1m5 0h1m91 0h3m39 0h2m2 0h2M27 369h1m6 0h2m26 0h1m75 0h1m30 0h2m12 0h1m33 0h1m2 0h1m5 0h1m91 0h3m39 0h2m2 0h2"/><path stroke="#2fb47c" d="M227 1h1M220 3h2M220 4h2M391 15h1M122 17h1M69 27h1M70 32h1M70 33h1M123 34h1M123 35h1M123 36h1M366 40h1M345 46h1M370 55h1M158 56h1M153 62h1M153 63h1M153 64h1M362 68h1M377 70h1M137 72h1M137 73h1M137 74h1M136 78h1M368 80h1M143 82h1M306 86h1M346 95h2M364 99h2M364 100h2M389 103h1M119 104h1M366 109h1M166 123h1M206 131h1M384 133h2M384 134h2M379 135h1M213 136h1m86 0h2m18 0h1M300 137h2M192 142h1M373 146h1M152 158h1M152 159h1M152 160h1M262 167h1M218 170h1M224 172h1M144 193h1M350 200h2M154 202h1m49 0h1M154 203h1M150 205h1M130 217h1M260 241h1M390 257h1M129 267h1m240 0h1M129 268h1M162 269h1M343 272h1M143 276h1M131 279h1M140 282h1M135 283h1M107 284h1M94 286h1M127 291h1M354 318h1M123 323h1m100 0h2M225 324h1M228 327h1M118 329h1m143 0h2m108 0h2M118 330h1m123 0h1M195 340h1m188 0h1M363 355h1M372 356h2M382 359h2M103 361h1m246 0h2m28 0h1M103 362h1M103 363h1M36 368h1m17 0h1m51 0h1m23 0h2m103 0h1m60 0h1m36 0h1m57 0h1M36 369h1m17 0h1m51 0h1m23 0h2m103 0h1m60 0h1m36 0h1m57 0h1"/><path stroke="#44bf70" d="M226 1h1M98 5h1M98 6h1M237 13h1M56 15h1M56 16h1M56 17h1M224 26h2M224 27h2M144 45h1M34 46h1m109 0h1M34 47h1m81 0h1m27 0h1M34 48h1M76 52h1M198 58h1M211 61h1M89 68h1M89 69h1M89 70h1M132 71h1M192 84h1M74 107h1M183 111h1M196 113h1M37 118h1M37 119h1M116 126h1M206 132h2M214 156h2M119 166h1M220 168h2M132 172h1M275 180h1M356 193h2M356 194h2M141 198h2M151 199h1M151 200h1M151 201h1M214 202h1M365 204h1M120 205h1M120 206h1M132 219h1M136 226h1M107 227h1M116 232h1M90 236h1M131 257h1M131 258h1M131 259h1M228 260h1M199 263h1M199 264h1m46 0h2M157 271h1M153 273h1M124 281h1M199 282h1M77 284h1m45 0h1M77 285h1M127 289h1M127 290h1M105 297h1M384 311h2M372 328h1M228 331h1M364 333h2M39 338h1M184 342h1M254 352h2M254 353h2M350 360h1M161 362h1M161 363h1M161 364h1M40 368h1m132 0h1m18 0h1m95 0h1m13 0h1M40 369h1m132 0h1m18 0h1m95 0h1m13 0h1"/><path stroke="#5ec962" d="M366 41h2M366 42h2M224 51h2M224 52h2M205 56h1M205 57h1M160 88h1M160 89h1M127 119h1M378 129h2M344 135h2M344 136h2M146 150h1M146 151h1M158 169h1M158 170h1M158 171h1M146 199h1M146 200h1M46 205h1M46 206h1M97 239h1M97 240h1M97 241h1M137 249h1M137 250h1m12 0h1M137 251h1m12 0h1M150 252h1M141 256h1M141 257h1M160 270h1M137 278h1m18 0h1M149 280h1M108 284h1m18 0h1M107 287h1M142 295h1M142 296h1M139 326h1M139 327h1M139 328h1M136 338h1M136 339h1M164 368h1M164 369h1"/><path stroke="#7ad151" d="M53 0h1M53 1h1M53 2h1M380 14h2M380 15h2M24 113h1M131 152h1M131 153h1M131 154h1M246 224h2M246 225h2M180 236h1M180 240h1M184 241h1M179 242h1m4 0h1M184 244h1M200 248h1M200 249h1M183 250h1m16 0h1M183 252h1M178 253h1M182 257h1M108 261h1m66 0h1m2 0h1M108 262h1m65 0h1M108 263h1m68 0h1M108 264h1m65 0h1M108 265h1m62 0h1m2 0h1M162 274h1M160 276h1M140 277h1M134 283h1M112 284h1M118 285h1M110 286h1M352 325h2M54 330h1M54 331h1M54 332h1M380 342h2M380 343h2M28 362h1M28 363h1M133 366h1M133 367h1M133 368h1M133 369h1"/><path stroke="#9bd93c" d="M148 274h1m1 0h1M132 279h1M129 284h1M106 287h1m1 0h1"/><path stroke="#bddf26" d="M134 201h2M134 202h2M146 275h1M143 281h1M122 284h1"/><path stroke="#fde725" d="M226 2h2m154 0h2M226 3h2m112 0h2m40 0h2M340 4h2M72 5h1m16 0h1m122 0h2M72 6h1m16 0h1m122 0h2M89 7h1m69 0h1m7 0h1M159 8h1m7 0h1m178 0h2M167 9h1m178 0h2M1 11h1M1 12h1m98 0h1m245 0h2M1 13h1m98 0h1m169 0h2m74 0h2M100 14h1m17 0h1m3 0h1m113 0h2m32 0h2M118 15h1m3 0h1m29 0h1m83 0h2m16 0h2M82 16h1m35 0h1m3 0h1m29 0h1m101 0h2m56 0h2m16 0h2m58 0h2M82 17h1m229 0h2m16 0h2m58 0h2M82 18h1m307 0h2M112 20h1m279 0h2M110 21h1m1 0h1m279 0h2M97 22h1m12 0h1M97 23h1m12 0h1m72 0h1m176 0h2M183 24h1m176 0h2M27 25h1M27 26h1m62 0h1M30 27h1m59 0h1M30 28h1m38 0h1m20 0h1m92 0h1M30 29h1m38 0h1m82 0h1m30 0h1m158 0h2M30 30h1m38 0h1m82 0h1m63 0h2m102 0h2m20 0h2M30 31h1m185 0h2m34 0h2m66 0h2m66 0h2M32 32h1m165 0h1m17 0h2m34 0h2m134 0h2M28 33h1m3 0h1m3 0h1m161 0h1m189 0h2M28 34h1m7 0h1m106 0h1m54 0h1M143 35h1M2 36h1m140 0h1M2 37h1m114 0h1M117 38h1m55 0h1m182 0h2M117 39h1m33 0h1m21 0h1m72 0h2m108 0h2M57 40h1m93 0h1m21 0h1m72 0h2M57 41h1m93 0h1m98 0h2M38 42h1m18 0h1m192 0h2M38 43h1m197 0h2m12 0h2M38 44h1m197 0h2m106 0h2M59 45h1m284 0h2M59 46h1m36 0h1m105 0h1M59 47h1m36 0h1m101 0h1m3 0h1M198 48h1m3 0h1m175 0h2M378 49h2M4 50h1M4 51h1M4 52h1M76 53h1m74 0h1M1 54h1m74 0h1m74 0h1m1 0h1m4 0h1M1 55h1m74 0h1m76 0h1m4 0h1m137 0h2M1 56h1m294 0h2m68 0h2m2 0h2M296 57h2m68 0h2m2 0h2m2 0h2M85 58h1m288 0h2M0 59h1m84 0h1m124 0h2m162 0h2M0 60h1m84 0h1m124 0h2M0 61h1m162 0h1M77 62h1m85 0h1M77 63h1m78 0h1m2 0h1m43 0h1M77 64h1m78 0h1m2 0h1m43 0h1m192 0h1M156 65h1m2 0h1m43 0h1m192 0h1M106 66h1m255 0h2m32 0h1M106 67h1m95 0h1m159 0h2M106 68h1m95 0h1m173 0h2M82 69h1m57 0h1m235 0h2M82 70h1m45 0h1m11 0h1m49 0h1M128 71h1m11 0h1m49 0h1m73 0h2M128 72h1m3 0h1m16 0h1m114 0h2M87 73h1m44 0h1m16 0h1m208 0h2M87 74h1m44 0h1m27 0h1m197 0h2M104 75h1m55 0h1m109 0h2M104 76h1m151 0h2m12 0h2M99 77h1m4 0h1m60 0h1m90 0h2M99 78h1m65 0h1m202 0h2M136 79h1m9 0h1m18 0h1m39 0h1m162 0h2M136 80h1m9 0h1m13 0h1m44 0h1m136 0h2M136 81h1m9 0h1m13 0h1m31 0h1m149 0h2m42 0h2M160 82h1m31 0h1m149 0h2m42 0h2M46 83h1m145 0h1m193 0h2M26 84h1m19 0h1M26 85h1m19 0h1M26 86h1m104 0h1M105 87h1m25 0h1m174 0h2M105 88h1m200 0h4m34 0h2M105 89h1m202 0h2m34 0h2M100 90h1m28 0h1M85 91h1m14 0h1m28 0h1m238 0h2M85 92h1m61 0h1m220 0h2m4 0h2m4 0h2M56 93h1m79 0h1m10 0h1m70 0h2m118 0h2m28 0h2m4 0h2m4 0h2m10 0h2M56 94h1m79 0h1m81 0h2m118 0h2m52 0h2M56 95h1m281 0h2M136 97h1M16 98h1m8 0h1m110 0h1m75 0h2m160 0h2M16 99h1m8 0h1m186 0h2m160 0h2m4 0h2M1 100h1m14 0h1m8 0h1m186 0h2m166 0h2M1 101h1m378 0h2M110 102h1m271 0h2M110 103h1m271 0h2M7 104h1m38 0h1m291 0h2m48 0h2M7 105h1m17 0h1m20 0h1m94 0h1m57 0h1m138 0h2m48 0h2M7 106h1m17 0h1m20 0h1m94 0h1m57 0h1m154 0h2m20 0h2M9 107h1m15 0h1m10 0h1m64 0h1m84 0h1m12 0h1m154 0h2m10 0h2m8 0h2M9 108h1m26 0h1m64 0h1m52 0h1m31 0h1m67 0h2m98 0h2m10 0h2m8 0h2M9 109h1m26 0h1m117 0h1m31 0h1m17 0h1m49 0h2M154 110h1m49 0h1m49 0h2M148 111h1m2 0h1m44 0h1m7 0h1M78 112h1m69 0h1m2 0h1m31 0h1m12 0h1m103 0h2M11 113h1m66 0h1m72 0h2m30 0h1m116 0h2M11 114h1m12 0h1m127 0h1m30 0h1m116 0h2M24 115h1M24 116h1M56 117h1M56 118h1m23 0h1M25 119h1m54 0h1m63 0h1m107 0h2M25 120h1m19 0h1m81 0h1m16 0h1m21 0h1m85 0h2M45 121h1m29 0h1m51 0h1m16 0h1m21 0h1M75 122h1m51 0h1m38 0h1m45 0h2m172 0h2M75 123h1m39 0h2m22 0h1m72 0h2m172 0h2M10 124h1m104 0h2m1 0h1m20 0h1m92 0h2m144 0h2m6 0h2M10 125h1m105 0h1m1 0h1m20 0h1m57 0h1m34 0h2m144 0h2M129 126h1m9 0h1m57 0h1m180 0h2M129 127h1m9 0h1m57 0h1M86 128h1m42 0h1m9 0h1M86 129h1M146 131h1M127 132h1m4 0h1m13 0h2M127 133h1m4 0h1m14 0h1m206 0h2M132 134h1m187 0h2m32 0h2M320 135h2M115 136h1m262 0h2M115 137h1m96 0h2m158 0h2m4 0h2M94 138h1m20 0h1m96 0h2m158 0h2M94 139h1M39 141h1M39 142h1m324 0h2M39 143h1m324 0h2M364 144h2M334 145h2M154 146h1m179 0h2M154 147h1m46 0h1M154 148h1m32 0h1m13 0h1M187 149h1M187 150h1M187 151h1M133 152h1m53 0h1m164 0h2M133 153h1m208 0h2m8 0h2M120 154h1m12 0h1m174 0h2m32 0h2m8 0h2M120 155h1m28 0h1m90 0h2m66 0h2M149 156h1m90 0h2m66 0h2m16 0h2M240 157h2m84 0h2M232 158h2M32 159h1m199 0h2m152 0h2M32 160h1m79 0h1m88 0h1m48 0h2m134 0h2M32 161h1m79 0h1m53 0h1m34 0h1m48 0h2M112 162h1m26 0h1m26 0h1m83 0h2m14 0h2M139 163h1m26 0h1m99 0h2M55 164h1m99 0h1m106 0h2m110 0h2M55 165h1m73 0h1m15 0h1m9 0h1m106 0h2m94 0h2m14 0h2M129 166h1m15 0h1m116 0h2m94 0h2m14 0h2M12 167h1m106 0h1m9 0h1M12 168h1m106 0h1m134 0h2M12 169h1m211 0h2m28 0h2M224 170h2M136 171h1m81 0h2m4 0h2m126 0h2M136 172h1m81 0h2m132 0h2M136 173h1m5 0h1m227 0h2M24 174h1m117 0h1m95 0h2m108 0h2m20 0h2M24 175h1m213 0h2m108 0h2M8 176h1m15 0h1m108 0h1M1 177h1m6 0h1m124 0h1M1 178h1m6 0h1m124 0h1M1 179h1M177 180h1M77 181h1m48 0h1m50 0h1M77 182h1m48 0h1m50 0h1M77 183h1M344 184h2M344 185h2M75 186h1M75 187h1M75 188h1m31 0h1m8 0h1M107 189h1m8 0h1m33 0h1m25 0h1M107 190h1m42 0h1m25 0h1m195 0h2M119 191h1m12 0h1m3 0h1m7 0h1m31 0h1m195 0h2M119 192h1m12 0h1m3 0h1m7 0h1M119 193h1m16 0h1m209 0h2M346 194h2M0 195h1m229 0h2M0 196h1m137 0h4m18 0h1m69 0h2m154 0h2M135 197h7m18 0h1m225 0h2M66 198h1m68 0h3m248 0h2M66 199h1m68 0h2m1 0h3M66 200h1m68 0h2m1 0h3m63 0h1m189 0h2M136 201h1m1 0h3m5 0h1m57 0h1m159 0h2m4 0h2m22 0h2M96 202h1m41 0h3m5 0h1m28 0h1m188 0h2m4 0h2m4 0h2m16 0h2M96 203h1m49 0h1m28 0h1m38 0h2m148 0h2m10 0h2M123 204h1m90 0h2M123 205h1m72 0h1m17 0h2M150 206h1m45 0h1M150 207h1m53 0h1M150 208h1m53 0h1M142 210h1M142 211h1M142 212h1M182 213h1M182 214h1M156 216h1M156 217h1M130 218h1m25 0h1M116 219h1m13 0h1m81 0h2m22 0h2M116 220h1m15 0h1m79 0h2m22 0h2M91 221h1m40 0h1m79 0h2M42 222h1m48 0h1M42 223h1m48 0h1m55 0h1M42 224h1m64 0h1m28 0h1m10 0h1M107 225h1m28 0h1m10 0h1M107 226h1m59 0h1m44 0h2M167 227h1m32 0h1m3 0h1m7 0h2m138 0h2M200 228h1m3 0h1m7 0h2m138 0h2M48 229h1m67 0h1m235 0h2M48 230h1m67 0h1m12 0h1m70 0h1M48 231h1m67 0h1m12 0h1m14 0h1m32 0h1m22 0h1M144 232h1m32 0h1m22 0h1M16 233h1m70 0h1m56 0h1m10 0h1m21 0h1M16 234h1m70 0h1m67 0h1M1 235h1m14 0h1m70 0h1m67 0h1m29 0h1M1 236h1m9 0h1m188 0h1M1 237h1m9 0h1m44 0h1m33 0h1m46 0h1m42 0h1m4 0h1m14 0h1m141 0h2M11 238h1m44 0h1m33 0h1m46 0h1m14 0h1m2 0h1m24 0h1m161 0h2M90 239h1m46 0h1m14 0h1m2 0h1m24 0h1m3 0h2m156 0h2m6 0h2M152 240h1m31 0h1m165 0h4M180 241h1m171 0h2M180 242h1m79 0h2m90 0h2M129 243h1m49 0h1m4 0h1m75 0h2M129 244h1m49 0h1M0 245h1m82 0h1m95 0h1m4 0h1m77 0h2m114 0h2M0 246h1m82 0h1m40 0h1m54 0h1m4 0h1m77 0h2m114 0h2M0 247h1m123 0h1m54 0h1m4 0h1m193 0h2M144 248h1m34 0h1m4 0h1m169 0h2M144 249h1m34 0h1m174 0h2M144 250h1m34 0h1m174 0h2M179 251h1m3 0h1M179 252h2M148 253h1m3 0h1m26 0h2m2 0h1M65 254h1m82 0h1m3 0h1m25 0h1m1 0h1m1 0h1m205 0h2M65 255h1m82 0h1m3 0h1m29 0h1m205 0h4M65 256h1m112 0h1m3 0h1m177 0h2m28 0h2M177 257h1m182 0h2M176 258h2m3 0h1m46 0h2m126 0h2M165 259h1m10 0h1m51 0h2m126 0h2M143 260h1m21 0h1m9 0h2m3 0h2m20 0h1M143 261h1m36 0h1m21 0h1M143 262h1m33 0h2m9 0h1m13 0h1m31 0h2M174 263h1m1 0h1m6 0h1m4 0h1m45 0h2M50 264h1m121 0h2m9 0h1m50 0h2m64 0h2m68 0h2M50 265h1m121 0h2m126 0h2m68 0h2M50 266h1m103 0h1m15 0h2m198 0h2M50 267h1m103 0h1m15 0h1m59 0h2m68 0h2M50 268h1m86 0h1m16 0h1m11 0h1m1 0h2m2 0h2m56 0h2m68 0h2M137 269h1m27 0h2m5 0h2m56 0h2M137 270h1m23 0h4M23 271h1m134 0h7M23 272h1m55 0h1m75 0h9M79 273h1m29 0h1m44 0h9m20 0h1m158 0h2M79 274h1m29 0h1m41 0h11m21 0h1m158 0h2M147 275h14m181 0h2M144 276h16M139 277h1m1 0h19M136 278h1m1 0h18m52 0h2M133 279h21m54 0h2M130 280h17M127 281h16M121 282h18M115 283h1m1 0h16M109 284h3m1 0h9m2 0h3m35 0h1M101 285h17m44 0h1M95 286h15m1 0h4m1 0h1m61 0h1M94 287h10m1 0h1m10 0h1m61 0h1M132 288h1m221 0h2M132 289h1m89 0h2m130 0h2M222 290h2M127 293h1m21 0h1m56 0h2M14 294h1m90 0h1m21 0h1m21 0h1m6 0h1m22 0h1m26 0h2m160 0h2M14 295h1m90 0h1m43 0h1m6 0h1m22 0h1m26 0h2m148 0h2m10 0h2M14 296h1m90 0h1m50 0h1m199 0h2M154 297h1m77 0h2m146 0h2M154 298h1m77 0h2m146 0h2M126 299h1m27 0h1m225 0h2m4 0h2M126 300h1m259 0h2M126 301h1M1 306h1m266 0h2M1 307h1m195 0h1m70 0h2M1 308h1m195 0h1M146 309h1M146 310h1M288 311h2M75 312h1m212 0h2m54 0h2m42 0h2M75 313h1m212 0h2m54 0h2m42 0h2M71 314h1m316 0h2M4 315h1m66 0h1m148 0h2m132 0h2M4 316h1m137 0h1m77 0h2m58 0h2m50 0h2m20 0h2M112 317h1m29 0h1m105 0h2m30 0h2m50 0h2m20 0h2M112 318h1m135 0h2m30 0h2m50 0h2M112 319h1M123 320h1m212 0h2M123 321h1m35 0h1m176 0h2M123 322h1m35 0h1M134 323h1m24 0h1M9 324h1m124 0h1M9 325h1m124 0h1M150 328h1M147 329h1m2 0h1m61 0h2M24 330h1m122 0h1m2 0h1m61 0h2m40 0h2M24 331h1m129 0h1m99 0h2M149 332h1m4 0h1m5 0h1m73 0h2m18 0h2m22 0h2M149 333h1m10 0h1m73 0h2m42 0h2M149 334h1m10 0h1M39 335h1m83 0h1m25 0h1M39 336h1m83 0h1m81 0h1m176 0h2M39 337h1m83 0h1m18 0h1m40 0h1m21 0h1m176 0h2M142 338h1m40 0h1m200 0h2M31 339h1m88 0h1m21 0h1m40 0h1m200 0h2M8 340h1m22 0h1m88 0h1m63 0h1M8 341h1m126 0h1m48 0h1M135 342h1m214 0h2M132 343h1m13 0h1m201 0h4M96 344h1m35 0h1m13 0h1m201 0h2M10 345h1m85 0h1m35 0h1m13 0h1m199 0h2M10 346h1m179 0h1m8 0h1m146 0h2M190 347h1m8 0h1m146 0h4m22 0h2M132 348h1m66 0h1m148 0h2m22 0h2M132 349h1m213 0h4M132 350h1m213 0h2m20 0h2M19 351h1m5 0h1m93 0h1m248 0h2M19 352h1m5 0h1m93 0h1m242 0h2m4 0h2M70 353h1m48 0h1m242 0h2M62 354h1m7 0h1m291 0h2M62 355h1m130 0h1M62 356h1m42 0h1m87 0h1m66 0h2M105 357h1m87 0h1m66 0h2M66 359h1m79 0h1m54 0h1m168 0h2m8 0h2M66 360h1m58 0h1m20 0h1m54 0h1m44 0h2m96 0h2m24 0h2m6 0h4M66 361h1m58 0h1m20 0h1m54 0h1m44 0h2m96 0h2m32 0h2M1 362h2m122 0h1m20 0h1m99 0h2m130 0h2M1 363h2m135 0h1m7 0h1m8 0h1m134 0h2M1 364h1m136 0h1m16 0h1m134 0h2M27 366h1m184 0h2M27 367h1m21 0h1m162 0h2m158 0h2M38 368h2m1 0h2m6 0h1m5 0h1m12 0h5m3 0h2m2 0h1m30 0h2m1 0h1m12 0h1m1 0h1m35 0h4m2 0h2m1 0h2m4 0h2m2 0h2m7 0h4m15 0h2m1 0h1m2 0h2m13 0h2m1 0h3m1 0h1m16 0h2m1 0h1m2 0h2m1 0h1m3 0h1m18 0h1m5 0h1m1 0h1m3 0h1m32 0h2m36 0h2m12 0h5M38 369h2m1 0h2m6 0h1m5 0h1m12 0h5m3 0h2m2 0h1m30 0h2m1 0h1m12 0h1m1 0h1m35 0h4m2 0h2m1 0h2m4 0h2m2 0h2m7 0h4m15 0h2m1 0h1m2 0h2m13 0h2m1 0h3m1 0h1m16 0h2m1 0h1m2 0h2m1 0h1m3 0h1m18 0h1m5 0h1m1 0h1m3 0h1m32 0h2m36 0h2m12 0h5"/></g>
<path d="M92 432h1v1h-1zM150 432h1v1h-1zM208 432h1v1h-1zM267 432h1v1h-1zM325 432h1v1h-1zM383 432h1v1h-1zM442 432h1v1h-1zM75 427h1v1h-1zM75 366h1v1h-1zM75 304h1v1h-1zM75 242h1v1h-1zM75 181h1v1h-1zM75 119h1v1h-1zM75 58h1v1h-1zM525 427h1v1h-1zM525 381h1v1h-1zM525 335h1v1h-1zM525 289h1v1h-1zM525 242h1v1h-1zM525 196h1v1h-1zM525 150h1v1h-1zM525 104h1v1h-1zM525 58h1v1h-1z" fill="#7f7f7f" shape-rendering="crispEdges"/>
<path d="M80 58h398v1h-398zM80 427h398v1h-398zM80 58h1v370h-1zM477 58h1v370h-1zM92 428h1v4h-1zM150 428h1v4h-1zM208 428h1v4h-1zM267 428h1v4h-1zM325 428h1v4h-1zM383 428h1v4h-1zM442 428h1v4h-1zM76 427h4v1h-4zM76 366h4v1h-4zM76 304h4v1h-4zM76 242h4v1h-4zM76 181h4v1h-4zM76 119h4v1h-4zM76 58h4v1h-4zM521 427h4v1h-4zM521 381h4v1h-4zM521 335h4v1h-4zM521 289h4v1h-4zM521 242h4v1h-4zM521 196h4v1h-4zM521 150h4v1h-4zM521 104h4v1h-4zM521 58h4v1h-4z" fill="#000" shape-rendering="crispEdges"/>
<path d="M80 58h398v1h-398zM80 427h398v1h-398zM80 58h1v370h-1zM477 58h1v370h-1z" fill="#000" shape-rendering="crispEdges"/>
<g font-size="13.889">
<text x="91.97" y="448" text-anchor="middle">2</text>
<text x="150.32" y="448" text-anchor="middle">4</text>
<text x="208.68" y="448" text-anchor="middle">6</text>
<text x="267.03" y="448" text-anchor="middle">8</text>
<text x="325.38" y="448" text-anchor="middle">10</text>
<text x="383.74" y="448" text-anchor="middle">12</text>
<text x="442.09" y="448" text-anchor="middle">14</text>
<text x="70.4" y="433" text-anchor="end">0</text>
<text x="70.4" y="371" text-anchor="end">500</text>
<text x="70.4" y="310" text-anchor="end">1000</text>
<text x="70.4" y="248" text-anchor="end">1500</text>
<text x="70.4" y="186" text-anchor="end">2000</text>
<text x="70.4" y="125" text-anchor="end">2500</text>
<text x="70.4" y="63" text-anchor="end">3000</text>
<text x="530.2" y="433">0.0</text>
<text x="530.2" y="386">2.5</text>
<text x="530.2" y="340">5.0</text>
<text x="530.2" y="294">7.5</text>
<text x="530.2" y="248">10.0</text>
<text x="530.2" y="202">12.5</text>
<text x="530.2" y="156">15.0</text>
<text x="530.2" y="109">17.5</text>
<text x="530.2" y="63">20.0</text>
<text x="278.4" y="467" text-anchor="middle" textLength="113.2">Frequency[MHz]</text>
<text transform="translate(26.49,243.4) rotate(-90)" text-anchor="middle">Virtual Distance[km]</text>
<text transform="translate(576.84,244) rotate(-90)" text-anchor="middle" letter-spacing="-0.3">SNR[dB]</text>
</g>
<g font-size="16.667"><text x="278.2" y="32" text-anchor="middle" textLength="420.9">Ionogram Jicamarca-Ayacucho Polarization NW45°</text><text x="278.6" y="49" text-anchor="middle" textLength="217.3">02/28/2025-11:53:07 UTC</text></g>
<rect x="502" y="58" width="19" height="370" fill="url(#vg)" shape-rendering="crispEdges"/>
<path d="M502 58h19v1h-19zM502 427h19v1h-19zM502 58h1v370h-1zM520 58h1v370h-1z" fill="#000" shape-rendering="crispEdges"/>
<path d="M502 58h19v1h-19zM502 427h19v1h-19zM502 58h1v370h-1zM520 58h1v370h-1z" fill="#000" shape-rendering="crispEdges"/>
</svg></body></html>
